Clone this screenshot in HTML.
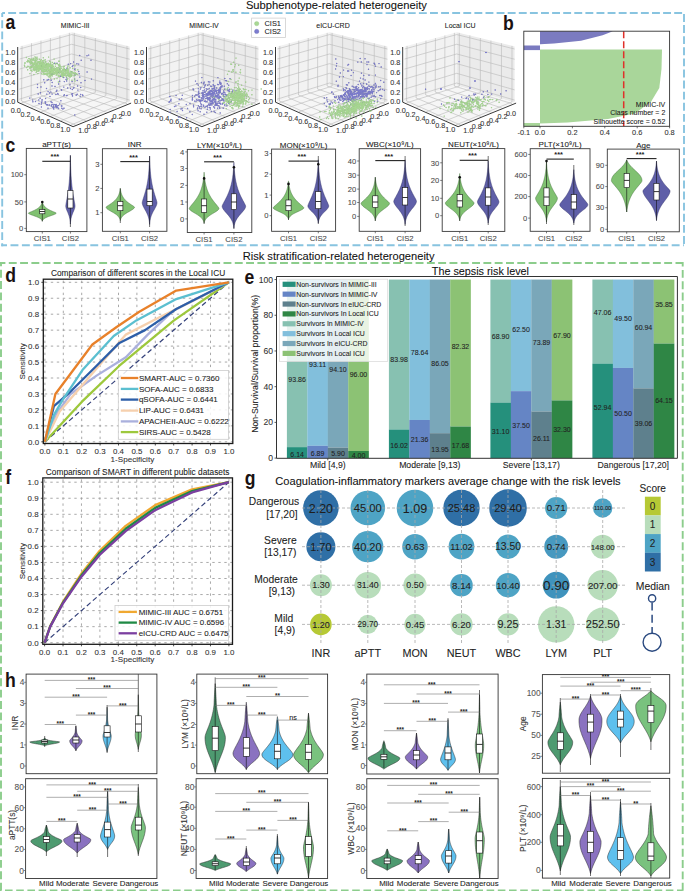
<!DOCTYPE html>
<html><head><meta charset="utf-8"><style>
html,body{margin:0;padding:0;background:#fff;width:685px;height:891px;overflow:hidden}
svg{display:block;font-family:"Liberation Sans",sans-serif}

</style></head><body>
<svg width="685" height="891" viewBox="0 0 685 891">
<rect width="685" height="891" fill="#fff"/>
<line x1="2.2" y1="13" x2="684" y2="13" stroke="#88c4e0" stroke-width="1.9" stroke-dasharray="7.9 3.2" stroke-dashoffset="5.1"/>
<line x1="2.2" y1="13" x2="2.2" y2="246.2" stroke="#88c4e0" stroke-width="1.9" stroke-dasharray="7.9 3.25" stroke-dashoffset="3.85"/>
<line x1="684" y1="13" x2="684" y2="246.2" stroke="#88c4e0" stroke-width="1.9" stroke-dasharray="7.9 3.2" stroke-dashoffset="10.1"/>
<line x1="1.25" y1="245.3" x2="684" y2="245.3" stroke="#88c4e0" stroke-width="1.9" stroke-dasharray="7.9 3.5" stroke-dashoffset="2.15"/>
<line x1="0" y1="263" x2="682.7" y2="263" stroke="#8ccd8c" stroke-width="1.9" stroke-dasharray="7.9 3.4" stroke-dashoffset="2.5"/>
<line x1="1" y1="262" x2="1" y2="890.8" stroke="#8ccd8c" stroke-width="1.9" stroke-dasharray="7.9 3.45" stroke-dashoffset="3.6"/>
<line x1="682.7" y1="262" x2="682.7" y2="890.8" stroke="#8ccd8c" stroke-width="1.9" stroke-dasharray="7.9 3.45" stroke-dashoffset="3.45"/>
<line x1="0" y1="890.4" x2="682.7" y2="890.4" stroke="#8ccd8c" stroke-width="1.9" stroke-dasharray="7.6 3.6" stroke-dashoffset="6.2"/>
<rect x="244" y="0" width="184" height="12.2" fill="#fff" stroke="none" stroke-width="1"/>
<text x="336.4" y="9.33" font-size="11.2" text-anchor="middle" fill="#111" font-weight="normal" stroke="#111" stroke-width="0.08">Subphenotype-related heterogeneity</text>
<rect x="240" y="249" width="198" height="13" fill="#fff" stroke="none" stroke-width="1"/>
<text x="338.6" y="259.6" font-size="11.1" text-anchor="middle" fill="#111" font-weight="normal" stroke="#111" stroke-width="0.08">Risk stratification-related heterogeneity</text>
<text transform="translate(5.5 28.5) scale(0.86 1)" font-size="20.5" fill="#1a1212" font-weight="bold">a</text>
<text transform="translate(503 29.8) scale(0.86 1)" font-size="20.5" fill="#1a1212" font-weight="bold">b</text>
<text transform="translate(5.6 151.6) scale(0.86 1)" font-size="20.5" fill="#1a1212" font-weight="bold">c</text>
<text transform="translate(5.2 281.8) scale(0.86 1)" font-size="20.5" fill="#1a1212" font-weight="bold">d</text>
<text transform="translate(244.5 284) scale(0.86 1)" font-size="20.5" fill="#1a1212" font-weight="bold">e</text>
<text transform="translate(5.2 484) scale(0.86 1)" font-size="20.5" fill="#1a1212" font-weight="bold">f</text>
<text transform="translate(244.8 484.5) scale(0.86 1)" font-size="20.5" fill="#1a1212" font-weight="bold">g</text>
<text transform="translate(5 687.3) scale(0.86 1)" font-size="20.5" fill="#1a1212" font-weight="bold">h</text>
<rect x="26.3" y="148.4" width="60.6" height="83.2" fill="#fff" stroke="#3a3a3a" stroke-width="0.9"/>
<text x="56.6" y="147.08" font-size="8" text-anchor="middle" fill="#222" font-weight="normal" stroke="#222" stroke-width="0.08">aPTT(s)</text>
<line x1="24.3" y1="228.4" x2="26.3" y2="228.4" stroke="#444" stroke-width="0.7"/>
<text x="23.3" y="231.14" font-size="7.6" text-anchor="end" fill="#4a4a4a" font-weight="normal" stroke="#4a4a4a" stroke-width="0.08">0</text>
<line x1="24.3" y1="201.9" x2="26.3" y2="201.9" stroke="#444" stroke-width="0.7"/>
<text x="23.3" y="204.64" font-size="7.6" text-anchor="end" fill="#4a4a4a" font-weight="normal" stroke="#4a4a4a" stroke-width="0.08">50</text>
<line x1="24.3" y1="174.7" x2="26.3" y2="174.7" stroke="#444" stroke-width="0.7"/>
<text x="23.3" y="177.44" font-size="7.6" text-anchor="end" fill="#4a4a4a" font-weight="normal" stroke="#4a4a4a" stroke-width="0.08">100</text>
<line x1="42.3" y1="231.6" x2="42.3" y2="233.6" stroke="#444" stroke-width="0.7"/>
<text x="42.3" y="240.87" font-size="7.7" text-anchor="middle" fill="#4a4a4a" font-weight="normal" stroke="#4a4a4a" stroke-width="0.08">CIS1</text>
<line x1="70.4" y1="231.6" x2="70.4" y2="233.6" stroke="#444" stroke-width="0.7"/>
<text x="70.4" y="240.87" font-size="7.7" text-anchor="middle" fill="#4a4a4a" font-weight="normal" stroke="#4a4a4a" stroke-width="0.08">CIS2</text>
<path d="M42.3,221.1 L42.46,220.69 L42.68,220.28 L42.95,219.87 L43.29,219.46 L43.72,219.05 L44.24,218.64 L44.86,218.23 L45.59,217.82 L46.43,217.41 L47.38,217 L48.43,216.59 L49.55,216.18 L50.72,215.76 L51.91,215.35 L53.06,214.94 L54.13,214.53 L55.05,214.12 L55.76,213.71 L56.2,213.3 L56.02,212.89 L55.17,212.48 L54.22,212.07 L53.23,211.66 L52.26,211.25 L51.32,210.84 L50.43,210.43 L49.59,210.02 L48.81,209.61 L48.08,209.2 L47.42,208.79 L46.81,208.38 L46.25,207.97 L45.75,207.56 L45.29,207.15 L44.88,206.74 L44.51,206.32 L44.18,205.91 L43.89,205.5 L43.63,205.09 L43.4,204.68 L43.19,204.27 L43.01,203.86 L42.85,203.45 L42.71,203.04 L42.59,202.63 L42.48,202.22 L42.38,201.81 L42.3,201.4 L42.3,201.4 L42.22,201.81 L42.12,202.22 L42.01,202.63 L41.89,203.04 L41.75,203.45 L41.59,203.86 L41.41,204.27 L41.2,204.68 L40.97,205.09 L40.71,205.5 L40.42,205.91 L40.09,206.32 L39.72,206.74 L39.31,207.15 L38.85,207.56 L38.35,207.97 L37.79,208.38 L37.18,208.79 L36.52,209.2 L35.79,209.61 L35.01,210.02 L34.17,210.43 L33.28,210.84 L32.34,211.25 L31.37,211.66 L30.38,212.07 L29.43,212.48 L28.58,212.89 L28.4,213.3 L28.84,213.71 L29.55,214.12 L30.47,214.53 L31.54,214.94 L32.69,215.35 L33.88,215.76 L35.05,216.18 L36.17,216.59 L37.22,217 L38.17,217.41 L39.01,217.82 L39.74,218.23 L40.36,218.64 L40.88,219.05 L41.31,219.46 L41.65,219.87 L41.92,220.28 L42.14,220.69 L42.3,221.1Z" fill="#80c171" stroke="#3f6e38" stroke-width="0.45"/>
<path d="M70.4,224 L70.49,222.57 L70.63,221.14 L70.82,219.71 L71.09,218.28 L71.44,216.85 L71.88,215.43 L72.4,214 L72.98,212.57 L73.59,211.14 L74.18,209.71 L74.67,208.28 L74.99,206.85 L75,205.42 L74.78,203.99 L74.54,202.56 L74.27,201.13 L74.01,199.7 L73.75,198.28 L73.5,196.85 L73.25,195.42 L73.02,193.99 L72.8,192.56 L72.59,191.13 L72.39,189.7 L72.21,188.27 L72.04,186.84 L71.88,185.41 L71.73,183.98 L71.59,182.55 L71.46,181.12 L71.35,179.7 L71.24,178.27 L71.14,176.84 L71.05,175.41 L70.97,173.98 L70.9,172.55 L70.83,171.12 L70.77,169.69 L70.71,168.26 L70.66,166.83 L70.62,165.4 L70.57,163.98 L70.54,162.55 L70.5,161.12 L70.47,159.69 L70.45,158.26 L70.42,156.83 L70.4,155.4 L70.4,155.4 L70.38,156.83 L70.35,158.26 L70.33,159.69 L70.3,161.12 L70.26,162.55 L70.23,163.98 L70.18,165.4 L70.14,166.83 L70.09,168.26 L70.03,169.69 L69.97,171.12 L69.9,172.55 L69.83,173.98 L69.75,175.41 L69.66,176.84 L69.56,178.27 L69.45,179.7 L69.34,181.12 L69.21,182.55 L69.07,183.98 L68.92,185.41 L68.76,186.84 L68.59,188.27 L68.41,189.7 L68.21,191.13 L68,192.56 L67.78,193.99 L67.55,195.42 L67.3,196.85 L67.05,198.28 L66.79,199.7 L66.53,201.13 L66.26,202.56 L66.02,203.99 L65.8,205.42 L65.81,206.85 L66.13,208.28 L66.62,209.71 L67.21,211.14 L67.82,212.57 L68.4,214 L68.92,215.43 L69.36,216.85 L69.71,218.28 L69.98,219.71 L70.17,221.14 L70.31,222.57 L70.4,224Z" fill="#5f5fa8" stroke="#2e2e66" stroke-width="0.45"/>
<line x1="42.3" y1="221.5" x2="42.3" y2="201.4" stroke="#111" stroke-width="0.6"/>
<rect x="39.7" y="209.5" width="5.2" height="4.3" fill="#fff" stroke="#111" stroke-width="0.6"/>
<line x1="39.7" y1="211.5" x2="44.9" y2="211.5" stroke="#111" stroke-width="0.85"/>
<line x1="70.4" y1="227" x2="70.4" y2="155.4" stroke="#111" stroke-width="0.6"/>
<rect x="67.8" y="190.5" width="5.2" height="17.5" fill="#fff" stroke="#111" stroke-width="0.6"/>
<line x1="67.8" y1="199" x2="73" y2="199" stroke="#111" stroke-width="0.85"/>
<circle cx="42.3" cy="202" r="1.3" fill="#111" stroke="none" stroke-width="1"/>
<line x1="42.3" y1="161.3" x2="70.4" y2="161.3" stroke="#222" stroke-width="1.1"/>
<text x="54.85" y="159.36" font-size="7.4" text-anchor="middle" fill="#222" font-weight="bold">***</text>
<rect x="102.4" y="148.7" width="64.5" height="82.6" fill="#fff" stroke="#3a3a3a" stroke-width="0.9"/>
<text x="134.65" y="147.38" font-size="8" text-anchor="middle" fill="#222" font-weight="normal" stroke="#222" stroke-width="0.08">INR</text>
<line x1="100.4" y1="212.7" x2="102.4" y2="212.7" stroke="#444" stroke-width="0.7"/>
<text x="99.4" y="215.44" font-size="7.6" text-anchor="end" fill="#4a4a4a" font-weight="normal" stroke="#4a4a4a" stroke-width="0.08">1</text>
<line x1="100.4" y1="188.4" x2="102.4" y2="188.4" stroke="#444" stroke-width="0.7"/>
<text x="99.4" y="191.14" font-size="7.6" text-anchor="end" fill="#4a4a4a" font-weight="normal" stroke="#4a4a4a" stroke-width="0.08">2</text>
<line x1="100.4" y1="164.3" x2="102.4" y2="164.3" stroke="#444" stroke-width="0.7"/>
<text x="99.4" y="167.04" font-size="7.6" text-anchor="end" fill="#4a4a4a" font-weight="normal" stroke="#4a4a4a" stroke-width="0.08">3</text>
<line x1="120.3" y1="231.3" x2="120.3" y2="233.3" stroke="#444" stroke-width="0.7"/>
<text x="120.3" y="240.57" font-size="7.7" text-anchor="middle" fill="#4a4a4a" font-weight="normal" stroke="#4a4a4a" stroke-width="0.08">CIS1</text>
<line x1="149.6" y1="231.3" x2="149.6" y2="233.3" stroke="#444" stroke-width="0.7"/>
<text x="149.6" y="240.57" font-size="7.7" text-anchor="middle" fill="#4a4a4a" font-weight="normal" stroke="#4a4a4a" stroke-width="0.08">CIS2</text>
<path d="M120.3,220.6 L120.46,219.93 L120.67,219.26 L120.94,218.59 L121.28,217.92 L121.7,217.25 L122.21,216.57 L122.81,215.9 L123.53,215.23 L124.35,214.56 L125.27,213.89 L126.3,213.22 L127.4,212.55 L128.56,211.88 L129.75,211.21 L130.92,210.54 L132.02,209.87 L133,209.2 L133.81,208.53 L134.37,207.85 L134.6,207.18 L133.86,206.51 L132.9,205.84 L131.88,205.17 L130.86,204.5 L129.87,203.83 L128.93,203.16 L128.04,202.49 L127.2,201.82 L126.43,201.15 L125.72,200.47 L125.07,199.8 L124.48,199.13 L123.94,198.46 L123.46,197.79 L123.02,197.12 L122.63,196.45 L122.28,195.78 L121.97,195.11 L121.7,194.44 L121.45,193.77 L121.24,193.1 L121.04,192.43 L120.88,191.75 L120.73,191.08 L120.6,190.41 L120.49,189.74 L120.39,189.07 L120.3,188.4 L120.3,188.4 L120.21,189.07 L120.11,189.74 L120,190.41 L119.87,191.08 L119.72,191.75 L119.56,192.43 L119.36,193.1 L119.15,193.77 L118.9,194.44 L118.63,195.11 L118.32,195.78 L117.97,196.45 L117.58,197.12 L117.14,197.79 L116.66,198.46 L116.12,199.13 L115.53,199.8 L114.88,200.47 L114.17,201.15 L113.4,201.82 L112.56,202.49 L111.67,203.16 L110.73,203.83 L109.74,204.5 L108.72,205.17 L107.7,205.84 L106.74,206.51 L106,207.18 L106.23,207.85 L106.79,208.53 L107.6,209.2 L108.58,209.87 L109.68,210.54 L110.85,211.21 L112.04,211.88 L113.2,212.55 L114.3,213.22 L115.33,213.89 L116.25,214.56 L117.07,215.23 L117.79,215.9 L118.39,216.57 L118.9,217.25 L119.32,217.92 L119.66,218.59 L119.93,219.26 L120.14,219.93 L120.3,220.6Z" fill="#80c171" stroke="#3f6e38" stroke-width="0.45"/>
<path d="M149.6,224.4 L149.72,222.98 L149.88,221.55 L150.09,220.13 L150.38,218.71 L150.75,217.29 L151.21,215.86 L151.77,214.44 L152.41,213.02 L153.14,211.59 L153.92,210.17 L154.73,208.75 L155.5,207.32 L156.18,205.9 L156.71,204.48 L157,203.06 L156.83,201.63 L156.43,200.21 L155.98,198.79 L155.53,197.36 L155.08,195.94 L154.64,194.52 L154.21,193.1 L153.81,191.67 L153.42,190.25 L153.06,188.83 L152.73,187.4 L152.41,185.98 L152.12,184.56 L151.85,183.14 L151.61,181.71 L151.38,180.29 L151.17,178.87 L150.98,177.44 L150.81,176.02 L150.65,174.6 L150.51,173.18 L150.38,171.75 L150.27,170.33 L150.16,168.91 L150.07,167.48 L149.99,166.06 L149.91,164.64 L149.84,163.21 L149.78,161.79 L149.73,160.37 L149.68,158.95 L149.64,157.52 L149.6,156.1 L149.6,156.1 L149.56,157.52 L149.52,158.95 L149.47,160.37 L149.42,161.79 L149.36,163.21 L149.29,164.64 L149.21,166.06 L149.13,167.48 L149.04,168.91 L148.93,170.33 L148.82,171.75 L148.69,173.18 L148.55,174.6 L148.39,176.02 L148.22,177.44 L148.03,178.87 L147.82,180.29 L147.59,181.71 L147.35,183.14 L147.08,184.56 L146.79,185.98 L146.47,187.4 L146.14,188.83 L145.78,190.25 L145.39,191.67 L144.99,193.1 L144.56,194.52 L144.12,195.94 L143.67,197.36 L143.22,198.79 L142.77,200.21 L142.37,201.63 L142.2,203.06 L142.49,204.48 L143.02,205.9 L143.7,207.32 L144.47,208.75 L145.28,210.17 L146.06,211.59 L146.79,213.02 L147.43,214.44 L147.99,215.86 L148.45,217.29 L148.82,218.71 L149.11,220.13 L149.32,221.55 L149.48,222.98 L149.6,224.4Z" fill="#5f5fa8" stroke="#2e2e66" stroke-width="0.45"/>
<line x1="120.3" y1="223" x2="120.3" y2="188.4" stroke="#111" stroke-width="0.6"/>
<rect x="117.7" y="201.5" width="5.2" height="9.2" fill="#fff" stroke="#111" stroke-width="0.6"/>
<line x1="117.7" y1="205.7" x2="122.9" y2="205.7" stroke="#111" stroke-width="0.85"/>
<line x1="149.6" y1="227" x2="149.6" y2="156.1" stroke="#111" stroke-width="0.6"/>
<rect x="147" y="189.1" width="5.2" height="16.6" fill="#fff" stroke="#111" stroke-width="0.6"/>
<line x1="147" y1="201.5" x2="152.2" y2="201.5" stroke="#111" stroke-width="0.85"/>
<line x1="120.3" y1="161.6" x2="149.6" y2="161.6" stroke="#222" stroke-width="1.1"/>
<text x="133.45" y="159.66" font-size="7.4" text-anchor="middle" fill="#222" font-weight="bold">***</text>
<rect x="187.3" y="149.4" width="64.5" height="83.1" fill="#fff" stroke="#3a3a3a" stroke-width="0.9"/>
<text x="219.55" y="148.08" font-size="8" text-anchor="middle" fill="#222" font-weight="normal" stroke="#222" stroke-width="0.08">LYM(×10⁹/L)</text>
<line x1="185.3" y1="218.9" x2="187.3" y2="218.9" stroke="#444" stroke-width="0.7"/>
<text x="184.3" y="221.64" font-size="7.6" text-anchor="end" fill="#4a4a4a" font-weight="normal" stroke="#4a4a4a" stroke-width="0.08">0</text>
<line x1="185.3" y1="202" x2="187.3" y2="202" stroke="#444" stroke-width="0.7"/>
<text x="184.3" y="204.74" font-size="7.6" text-anchor="end" fill="#4a4a4a" font-weight="normal" stroke="#4a4a4a" stroke-width="0.08">1</text>
<line x1="185.3" y1="185.4" x2="187.3" y2="185.4" stroke="#444" stroke-width="0.7"/>
<text x="184.3" y="188.14" font-size="7.6" text-anchor="end" fill="#4a4a4a" font-weight="normal" stroke="#4a4a4a" stroke-width="0.08">2</text>
<line x1="185.3" y1="168.5" x2="187.3" y2="168.5" stroke="#444" stroke-width="0.7"/>
<text x="184.3" y="171.24" font-size="7.6" text-anchor="end" fill="#4a4a4a" font-weight="normal" stroke="#4a4a4a" stroke-width="0.08">3</text>
<line x1="185.3" y1="151.9" x2="187.3" y2="151.9" stroke="#444" stroke-width="0.7"/>
<text x="184.3" y="154.64" font-size="7.6" text-anchor="end" fill="#4a4a4a" font-weight="normal" stroke="#4a4a4a" stroke-width="0.08">4</text>
<line x1="204.1" y1="232.5" x2="204.1" y2="234.5" stroke="#444" stroke-width="0.7"/>
<text x="204.1" y="241.77" font-size="7.7" text-anchor="middle" fill="#4a4a4a" font-weight="normal" stroke="#4a4a4a" stroke-width="0.08">CIS1</text>
<line x1="233.9" y1="232.5" x2="233.9" y2="234.5" stroke="#444" stroke-width="0.7"/>
<text x="233.9" y="241.77" font-size="7.7" text-anchor="middle" fill="#4a4a4a" font-weight="normal" stroke="#4a4a4a" stroke-width="0.08">CIS2</text>
<path d="M204.1,223.1 L204.36,222.04 L204.74,220.98 L205.26,219.92 L205.96,218.86 L206.88,217.8 L208.02,216.74 L209.4,215.68 L210.98,214.62 L212.72,213.56 L214.5,212.5 L216.2,211.44 L217.66,210.38 L218.69,209.31 L219,208.25 L218.34,207.19 L217.53,206.13 L216.67,205.07 L215.79,204.01 L214.92,202.95 L214.08,201.89 L213.26,200.83 L212.49,199.77 L211.75,198.71 L211.06,197.65 L210.41,196.59 L209.8,195.53 L209.24,194.47 L208.71,193.41 L208.23,192.35 L207.78,191.29 L207.38,190.23 L207,189.17 L206.66,188.11 L206.35,187.05 L206.06,185.99 L205.8,184.92 L205.57,183.86 L205.35,182.8 L205.16,181.74 L204.99,180.68 L204.83,179.62 L204.69,178.56 L204.56,177.5 L204.45,176.44 L204.35,175.38 L204.26,174.32 L204.17,173.26 L204.1,172.2 L204.1,172.2 L204.03,173.26 L203.94,174.32 L203.85,175.38 L203.75,176.44 L203.64,177.5 L203.51,178.56 L203.37,179.62 L203.21,180.68 L203.04,181.74 L202.85,182.8 L202.63,183.86 L202.4,184.92 L202.14,185.99 L201.85,187.05 L201.54,188.11 L201.2,189.17 L200.82,190.23 L200.42,191.29 L199.97,192.35 L199.49,193.41 L198.96,194.47 L198.4,195.53 L197.79,196.59 L197.14,197.65 L196.45,198.71 L195.71,199.77 L194.94,200.83 L194.12,201.89 L193.28,202.95 L192.41,204.01 L191.53,205.07 L190.67,206.13 L189.86,207.19 L189.2,208.25 L189.51,209.31 L190.54,210.38 L192,211.44 L193.7,212.5 L195.48,213.56 L197.22,214.62 L198.8,215.68 L200.18,216.74 L201.32,217.8 L202.24,218.86 L202.94,219.92 L203.46,220.98 L203.84,222.04 L204.1,223.1Z" fill="#80c171" stroke="#3f6e38" stroke-width="0.45"/>
<path d="M233.9,228.1 L234.07,226.73 L234.31,225.36 L234.63,223.99 L235.05,222.62 L235.59,221.25 L236.26,219.88 L237.06,218.5 L238,217.13 L239.07,215.76 L240.24,214.39 L241.45,213.02 L242.66,211.65 L243.79,210.28 L244.74,208.91 L245.42,207.54 L245.7,206.17 L245.18,204.8 L244.5,203.43 L243.77,202.05 L243.03,200.68 L242.31,199.31 L241.6,197.94 L240.92,196.57 L240.28,195.2 L239.68,193.83 L239.11,192.46 L238.59,191.09 L238.1,189.72 L237.65,188.35 L237.23,186.98 L236.85,185.6 L236.51,184.23 L236.19,182.86 L235.9,181.49 L235.64,180.12 L235.4,178.75 L235.19,177.38 L235,176.01 L234.83,174.64 L234.67,173.27 L234.53,171.9 L234.41,170.53 L234.3,169.15 L234.2,167.78 L234.11,166.41 L234.03,165.04 L233.96,163.67 L233.9,162.3 L233.9,162.3 L233.84,163.67 L233.77,165.04 L233.69,166.41 L233.6,167.78 L233.5,169.15 L233.39,170.53 L233.27,171.9 L233.13,173.27 L232.97,174.64 L232.8,176.01 L232.61,177.38 L232.4,178.75 L232.16,180.12 L231.9,181.49 L231.61,182.86 L231.29,184.23 L230.95,185.6 L230.57,186.98 L230.15,188.35 L229.7,189.72 L229.21,191.09 L228.69,192.46 L228.12,193.83 L227.52,195.2 L226.88,196.57 L226.2,197.94 L225.49,199.31 L224.77,200.68 L224.03,202.05 L223.3,203.43 L222.62,204.8 L222.1,206.17 L222.38,207.54 L223.06,208.91 L224.01,210.28 L225.14,211.65 L226.35,213.02 L227.56,214.39 L228.73,215.76 L229.8,217.13 L230.74,218.5 L231.54,219.88 L232.21,221.25 L232.75,222.62 L233.17,223.99 L233.49,225.36 L233.73,226.73 L233.9,228.1Z" fill="#5f5fa8" stroke="#2e2e66" stroke-width="0.45"/>
<line x1="204.1" y1="224" x2="204.1" y2="178.4" stroke="#111" stroke-width="0.6"/>
<rect x="201.5" y="199" width="5.2" height="13.4" fill="#fff" stroke="#111" stroke-width="0.6"/>
<line x1="201.5" y1="205.7" x2="206.7" y2="205.7" stroke="#111" stroke-width="0.85"/>
<line x1="233.9" y1="229" x2="233.9" y2="167.3" stroke="#111" stroke-width="0.6"/>
<rect x="231.3" y="193.8" width="5.2" height="15.7" fill="#fff" stroke="#111" stroke-width="0.6"/>
<line x1="231.3" y1="202" x2="236.5" y2="202" stroke="#111" stroke-width="0.85"/>
<circle cx="204.1" cy="178.4" r="1.3" fill="#111" stroke="none" stroke-width="1"/>
<circle cx="233.9" cy="167.3" r="1.3" fill="#111" stroke="none" stroke-width="1"/>
<line x1="204.1" y1="161.8" x2="233.9" y2="161.8" stroke="#222" stroke-width="1.1"/>
<text x="217.5" y="159.86" font-size="7.4" text-anchor="middle" fill="#222" font-weight="bold">***</text>
<rect x="271.6" y="149.1" width="64" height="82.2" fill="#fff" stroke="#3a3a3a" stroke-width="0.9"/>
<text x="303.6" y="147.78" font-size="8" text-anchor="middle" fill="#222" font-weight="normal" stroke="#222" stroke-width="0.08">MON(×10⁹/L)</text>
<line x1="269.6" y1="215.7" x2="271.6" y2="215.7" stroke="#444" stroke-width="0.7"/>
<text x="268.6" y="218.44" font-size="7.6" text-anchor="end" fill="#4a4a4a" font-weight="normal" stroke="#4a4a4a" stroke-width="0.08">0</text>
<line x1="269.6" y1="195.1" x2="271.6" y2="195.1" stroke="#444" stroke-width="0.7"/>
<text x="268.6" y="197.84" font-size="7.6" text-anchor="end" fill="#4a4a4a" font-weight="normal" stroke="#4a4a4a" stroke-width="0.08">1</text>
<line x1="269.6" y1="174.2" x2="271.6" y2="174.2" stroke="#444" stroke-width="0.7"/>
<text x="268.6" y="176.94" font-size="7.6" text-anchor="end" fill="#4a4a4a" font-weight="normal" stroke="#4a4a4a" stroke-width="0.08">2</text>
<line x1="269.6" y1="153.6" x2="271.6" y2="153.6" stroke="#444" stroke-width="0.7"/>
<text x="268.6" y="156.34" font-size="7.6" text-anchor="end" fill="#4a4a4a" font-weight="normal" stroke="#4a4a4a" stroke-width="0.08">3</text>
<line x1="288.5" y1="231.3" x2="288.5" y2="233.3" stroke="#444" stroke-width="0.7"/>
<text x="288.5" y="240.57" font-size="7.7" text-anchor="middle" fill="#4a4a4a" font-weight="normal" stroke="#4a4a4a" stroke-width="0.08">CIS1</text>
<line x1="318.3" y1="231.3" x2="318.3" y2="233.3" stroke="#444" stroke-width="0.7"/>
<text x="318.3" y="240.57" font-size="7.7" text-anchor="middle" fill="#4a4a4a" font-weight="normal" stroke="#4a4a4a" stroke-width="0.08">CIS2</text>
<path d="M288.5,219.4 L288.76,218.6 L289.12,217.8 L289.61,216.99 L290.28,216.19 L291.14,215.39 L292.21,214.59 L293.5,213.79 L295,212.98 L296.67,212.18 L298.42,211.38 L300.16,210.58 L301.74,209.78 L303.02,208.97 L303.8,208.17 L303.67,207.37 L302.89,206.57 L302.01,205.76 L301.09,204.96 L300.17,204.16 L299.27,203.36 L298.39,202.56 L297.55,201.75 L296.76,200.95 L296.01,200.15 L295.3,199.35 L294.64,198.55 L294.03,197.74 L293.47,196.94 L292.94,196.14 L292.46,195.34 L292.02,194.54 L291.61,193.73 L291.24,192.93 L290.9,192.13 L290.59,191.33 L290.32,190.53 L290.06,189.72 L289.83,188.92 L289.63,188.12 L289.44,187.32 L289.28,186.51 L289.12,185.71 L288.99,184.91 L288.87,184.11 L288.76,183.31 L288.66,182.5 L288.58,181.7 L288.5,180.9 L288.5,180.9 L288.42,181.7 L288.34,182.5 L288.24,183.31 L288.13,184.11 L288.01,184.91 L287.88,185.71 L287.72,186.51 L287.56,187.32 L287.37,188.12 L287.17,188.92 L286.94,189.72 L286.68,190.53 L286.41,191.33 L286.1,192.13 L285.76,192.93 L285.39,193.73 L284.98,194.54 L284.54,195.34 L284.06,196.14 L283.53,196.94 L282.97,197.74 L282.36,198.55 L281.7,199.35 L280.99,200.15 L280.24,200.95 L279.45,201.75 L278.61,202.56 L277.73,203.36 L276.83,204.16 L275.91,204.96 L274.99,205.76 L274.11,206.57 L273.33,207.37 L273.2,208.17 L273.98,208.97 L275.26,209.78 L276.84,210.58 L278.58,211.38 L280.33,212.18 L282,212.98 L283.5,213.79 L284.79,214.59 L285.86,215.39 L286.72,216.19 L287.39,216.99 L287.88,217.8 L288.24,218.6 L288.5,219.4Z" fill="#80c171" stroke="#3f6e38" stroke-width="0.45"/>
<path d="M318.3,223.1 L318.5,221.78 L318.79,220.46 L319.2,219.14 L319.76,217.82 L320.5,216.51 L321.42,215.19 L322.52,213.87 L323.77,212.55 L325.1,211.23 L326.42,209.91 L327.58,208.59 L328.43,207.28 L328.8,205.96 L328.39,204.64 L327.84,203.32 L327.25,202 L326.65,200.68 L326.06,199.36 L325.47,198.04 L324.91,196.72 L324.37,195.41 L323.85,194.09 L323.37,192.77 L322.91,191.45 L322.48,190.13 L322.08,188.81 L321.71,187.49 L321.37,186.18 L321.05,184.86 L320.76,183.54 L320.49,182.22 L320.24,180.9 L320.01,179.58 L319.81,178.26 L319.62,176.94 L319.44,175.62 L319.29,174.31 L319.15,172.99 L319.02,171.67 L318.9,170.35 L318.8,169.03 L318.7,167.71 L318.61,166.39 L318.54,165.08 L318.47,163.76 L318.41,162.44 L318.35,161.12 L318.3,159.8 L318.3,159.8 L318.25,161.12 L318.19,162.44 L318.13,163.76 L318.06,165.08 L317.99,166.39 L317.9,167.71 L317.8,169.03 L317.7,170.35 L317.58,171.67 L317.45,172.99 L317.31,174.31 L317.16,175.62 L316.98,176.94 L316.79,178.26 L316.59,179.58 L316.36,180.9 L316.11,182.22 L315.84,183.54 L315.55,184.86 L315.23,186.18 L314.89,187.49 L314.52,188.81 L314.12,190.13 L313.69,191.45 L313.23,192.77 L312.75,194.09 L312.23,195.41 L311.69,196.72 L311.13,198.04 L310.54,199.36 L309.95,200.68 L309.35,202 L308.76,203.32 L308.21,204.64 L307.8,205.96 L308.17,207.28 L309.02,208.59 L310.18,209.91 L311.5,211.23 L312.83,212.55 L314.08,213.87 L315.18,215.19 L316.1,216.51 L316.84,217.82 L317.4,219.14 L317.81,220.46 L318.1,221.78 L318.3,223.1Z" fill="#5f5fa8" stroke="#2e2e66" stroke-width="0.45"/>
<line x1="288.5" y1="220" x2="288.5" y2="183.9" stroke="#111" stroke-width="0.6"/>
<rect x="285.9" y="200" width="5.2" height="10.7" fill="#fff" stroke="#111" stroke-width="0.6"/>
<line x1="285.9" y1="205.7" x2="291.1" y2="205.7" stroke="#111" stroke-width="0.85"/>
<line x1="318.3" y1="224" x2="318.3" y2="156" stroke="#111" stroke-width="0.6"/>
<rect x="315.7" y="191.6" width="5.2" height="17.1" fill="#fff" stroke="#111" stroke-width="0.6"/>
<line x1="315.7" y1="201.5" x2="320.9" y2="201.5" stroke="#111" stroke-width="0.85"/>
<circle cx="288.5" cy="183.9" r="1.3" fill="#111" stroke="none" stroke-width="1"/>
<circle cx="318.3" cy="164.3" r="1.3" fill="#111" stroke="none" stroke-width="1"/>
<line x1="288.5" y1="161.1" x2="318.3" y2="161.1" stroke="#222" stroke-width="1.1"/>
<text x="301.9" y="159.16" font-size="7.4" text-anchor="middle" fill="#222" font-weight="bold">***</text>
<rect x="359.2" y="148.7" width="61.4" height="82.6" fill="#fff" stroke="#3a3a3a" stroke-width="0.9"/>
<text x="389.9" y="147.38" font-size="8" text-anchor="middle" fill="#222" font-weight="normal" stroke="#222" stroke-width="0.08">WBC(×10⁹/L)</text>
<line x1="357.2" y1="216.4" x2="359.2" y2="216.4" stroke="#444" stroke-width="0.7"/>
<text x="356.2" y="219.14" font-size="7.6" text-anchor="end" fill="#4a4a4a" font-weight="normal" stroke="#4a4a4a" stroke-width="0.08">0</text>
<line x1="357.2" y1="202.5" x2="359.2" y2="202.5" stroke="#444" stroke-width="0.7"/>
<text x="356.2" y="205.24" font-size="7.6" text-anchor="end" fill="#4a4a4a" font-weight="normal" stroke="#4a4a4a" stroke-width="0.08">10</text>
<line x1="357.2" y1="189.1" x2="359.2" y2="189.1" stroke="#444" stroke-width="0.7"/>
<text x="356.2" y="191.84" font-size="7.6" text-anchor="end" fill="#4a4a4a" font-weight="normal" stroke="#4a4a4a" stroke-width="0.08">20</text>
<line x1="357.2" y1="175.2" x2="359.2" y2="175.2" stroke="#444" stroke-width="0.7"/>
<text x="356.2" y="177.94" font-size="7.6" text-anchor="end" fill="#4a4a4a" font-weight="normal" stroke="#4a4a4a" stroke-width="0.08">30</text>
<line x1="357.2" y1="161" x2="359.2" y2="161" stroke="#444" stroke-width="0.7"/>
<text x="356.2" y="163.74" font-size="7.6" text-anchor="end" fill="#4a4a4a" font-weight="normal" stroke="#4a4a4a" stroke-width="0.08">40</text>
<line x1="375.3" y1="231.3" x2="375.3" y2="233.3" stroke="#444" stroke-width="0.7"/>
<text x="375.3" y="240.57" font-size="7.7" text-anchor="middle" fill="#4a4a4a" font-weight="normal" stroke="#4a4a4a" stroke-width="0.08">CIS1</text>
<line x1="405.1" y1="231.3" x2="405.1" y2="233.3" stroke="#444" stroke-width="0.7"/>
<text x="405.1" y="240.57" font-size="7.7" text-anchor="middle" fill="#4a4a4a" font-weight="normal" stroke="#4a4a4a" stroke-width="0.08">CIS2</text>
<path d="M375.3,220.6 L375.47,219.7 L375.69,218.79 L375.98,217.89 L376.35,216.98 L376.8,216.08 L377.35,215.17 L378.01,214.27 L378.79,213.37 L379.69,212.46 L380.69,211.56 L381.8,210.65 L382.98,209.75 L384.21,208.85 L385.45,207.94 L386.63,207.04 L387.7,206.13 L388.61,205.23 L389.27,204.32 L389.6,203.42 L389.07,202.52 L388.16,201.61 L387.18,200.71 L386.18,199.8 L385.21,198.9 L384.27,198 L383.38,197.09 L382.55,196.19 L381.77,195.28 L381.05,194.38 L380.39,193.47 L379.79,192.57 L379.24,191.67 L378.74,190.76 L378.29,189.86 L377.88,188.95 L377.51,188.05 L377.19,187.15 L376.89,186.24 L376.63,185.34 L376.4,184.43 L376.2,183.53 L376.02,182.62 L375.86,181.72 L375.71,180.82 L375.59,179.91 L375.48,179.01 L375.38,178.1 L375.3,177.2 L375.3,177.2 L375.22,178.1 L375.12,179.01 L375.01,179.91 L374.89,180.82 L374.74,181.72 L374.58,182.62 L374.4,183.53 L374.2,184.43 L373.97,185.34 L373.71,186.24 L373.41,187.15 L373.09,188.05 L372.72,188.95 L372.31,189.86 L371.86,190.76 L371.36,191.67 L370.81,192.57 L370.21,193.47 L369.55,194.38 L368.83,195.28 L368.05,196.19 L367.22,197.09 L366.33,198 L365.39,198.9 L364.42,199.8 L363.42,200.71 L362.44,201.61 L361.53,202.52 L361,203.42 L361.33,204.32 L361.99,205.23 L362.9,206.13 L363.97,207.04 L365.15,207.94 L366.39,208.85 L367.62,209.75 L368.8,210.65 L369.91,211.56 L370.91,212.46 L371.81,213.37 L372.59,214.27 L373.25,215.17 L373.8,216.08 L374.25,216.98 L374.62,217.89 L374.91,218.79 L375.13,219.7 L375.3,220.6Z" fill="#80c171" stroke="#3f6e38" stroke-width="0.45"/>
<path d="M405.1,224.4 L405.25,223.05 L405.46,221.71 L405.73,220.36 L406.09,219.02 L406.53,217.67 L407.08,216.33 L407.74,214.98 L408.52,213.63 L409.41,212.29 L410.39,210.94 L411.45,209.6 L412.54,208.25 L413.62,206.9 L414.63,205.56 L415.5,204.21 L416.15,202.87 L416.5,201.52 L416.17,200.18 L415.5,198.83 L414.78,197.48 L414.03,196.14 L413.3,194.79 L412.58,193.45 L411.9,192.1 L411.26,190.75 L410.65,189.41 L410.08,188.06 L409.56,186.72 L409.07,185.37 L408.62,184.03 L408.22,182.68 L407.84,181.33 L407.5,179.99 L407.2,178.64 L406.92,177.3 L406.67,175.95 L406.44,174.6 L406.24,173.26 L406.06,171.91 L405.9,170.57 L405.75,169.22 L405.62,167.88 L405.51,166.53 L405.4,165.18 L405.31,163.84 L405.23,162.49 L405.16,161.15 L405.1,159.8 L405.1,159.8 L405.04,161.15 L404.97,162.49 L404.89,163.84 L404.8,165.18 L404.69,166.53 L404.58,167.88 L404.45,169.22 L404.3,170.57 L404.14,171.91 L403.96,173.26 L403.76,174.6 L403.53,175.95 L403.28,177.3 L403,178.64 L402.7,179.99 L402.36,181.33 L401.98,182.68 L401.58,184.03 L401.13,185.37 L400.64,186.72 L400.12,188.06 L399.55,189.41 L398.94,190.75 L398.3,192.1 L397.62,193.45 L396.9,194.79 L396.17,196.14 L395.42,197.48 L394.7,198.83 L394.03,200.18 L393.7,201.52 L394.05,202.87 L394.7,204.21 L395.57,205.56 L396.58,206.9 L397.66,208.25 L398.75,209.6 L399.81,210.94 L400.79,212.29 L401.68,213.63 L402.46,214.98 L403.12,216.33 L403.67,217.67 L404.11,219.02 L404.47,220.36 L404.74,221.71 L404.95,223.05 L405.1,224.4Z" fill="#5f5fa8" stroke="#2e2e66" stroke-width="0.45"/>
<line x1="375.3" y1="221" x2="375.3" y2="177.2" stroke="#111" stroke-width="0.6"/>
<rect x="372.7" y="195.8" width="5.2" height="11.7" fill="#fff" stroke="#111" stroke-width="0.6"/>
<line x1="372.7" y1="202" x2="377.9" y2="202" stroke="#111" stroke-width="0.85"/>
<line x1="405.1" y1="226" x2="405.1" y2="156" stroke="#111" stroke-width="0.6"/>
<rect x="402.5" y="187.6" width="5.2" height="17.4" fill="#fff" stroke="#111" stroke-width="0.6"/>
<line x1="402.5" y1="197.5" x2="407.7" y2="197.5" stroke="#111" stroke-width="0.85"/>
<line x1="375.3" y1="160.6" x2="405.1" y2="160.6" stroke="#222" stroke-width="1.1"/>
<text x="388.7" y="158.66" font-size="7.4" text-anchor="middle" fill="#222" font-weight="bold">***</text>
<rect x="442.2" y="148.6" width="62.6" height="82.8" fill="#fff" stroke="#3a3a3a" stroke-width="0.9"/>
<text x="473.5" y="147.28" font-size="8" text-anchor="middle" fill="#222" font-weight="normal" stroke="#222" stroke-width="0.08">NEUT(×10⁹/L)</text>
<line x1="440.2" y1="215.7" x2="442.2" y2="215.7" stroke="#444" stroke-width="0.7"/>
<text x="439.2" y="218.44" font-size="7.6" text-anchor="end" fill="#4a4a4a" font-weight="normal" stroke="#4a4a4a" stroke-width="0.08">0</text>
<line x1="440.2" y1="198.3" x2="442.2" y2="198.3" stroke="#444" stroke-width="0.7"/>
<text x="439.2" y="201.04" font-size="7.6" text-anchor="end" fill="#4a4a4a" font-weight="normal" stroke="#4a4a4a" stroke-width="0.08">10</text>
<line x1="440.2" y1="180.4" x2="442.2" y2="180.4" stroke="#444" stroke-width="0.7"/>
<text x="439.2" y="183.14" font-size="7.6" text-anchor="end" fill="#4a4a4a" font-weight="normal" stroke="#4a4a4a" stroke-width="0.08">20</text>
<line x1="440.2" y1="162.8" x2="442.2" y2="162.8" stroke="#444" stroke-width="0.7"/>
<text x="439.2" y="165.54" font-size="7.6" text-anchor="end" fill="#4a4a4a" font-weight="normal" stroke="#4a4a4a" stroke-width="0.08">30</text>
<line x1="459.7" y1="231.4" x2="459.7" y2="233.4" stroke="#444" stroke-width="0.7"/>
<text x="459.7" y="240.67" font-size="7.7" text-anchor="middle" fill="#4a4a4a" font-weight="normal" stroke="#4a4a4a" stroke-width="0.08">CIS1</text>
<line x1="488.2" y1="231.4" x2="488.2" y2="233.4" stroke="#444" stroke-width="0.7"/>
<text x="488.2" y="240.67" font-size="7.7" text-anchor="middle" fill="#4a4a4a" font-weight="normal" stroke="#4a4a4a" stroke-width="0.08">CIS2</text>
<path d="M459.7,220.6 L459.89,219.62 L460.13,218.64 L460.45,217.66 L460.86,216.67 L461.38,215.69 L462.02,214.71 L462.78,213.73 L463.68,212.75 L464.71,211.77 L465.86,210.79 L467.11,209.81 L468.42,208.82 L469.74,207.84 L471.02,206.86 L472.18,205.88 L473.14,204.9 L473.82,203.92 L474.1,202.94 L473.41,201.96 L472.52,200.97 L471.57,199.99 L470.61,199.01 L469.67,198.03 L468.76,197.05 L467.9,196.07 L467.09,195.09 L466.33,194.11 L465.63,193.12 L464.98,192.14 L464.38,191.16 L463.83,190.18 L463.33,189.2 L462.88,188.22 L462.47,187.24 L462.1,186.26 L461.76,185.28 L461.46,184.29 L461.2,183.31 L460.95,182.33 L460.74,181.35 L460.55,180.37 L460.38,179.39 L460.23,178.41 L460.09,177.43 L459.98,176.44 L459.87,175.46 L459.78,174.48 L459.7,173.5 L459.7,173.5 L459.62,174.48 L459.53,175.46 L459.42,176.44 L459.31,177.43 L459.17,178.41 L459.02,179.39 L458.85,180.37 L458.66,181.35 L458.45,182.33 L458.2,183.31 L457.94,184.29 L457.64,185.28 L457.3,186.26 L456.93,187.24 L456.52,188.22 L456.07,189.2 L455.57,190.18 L455.02,191.16 L454.42,192.14 L453.77,193.12 L453.07,194.11 L452.31,195.09 L451.5,196.07 L450.64,197.05 L449.73,198.03 L448.79,199.01 L447.83,199.99 L446.88,200.97 L445.99,201.96 L445.3,202.94 L445.58,203.92 L446.26,204.9 L447.22,205.88 L448.38,206.86 L449.66,207.84 L450.98,208.82 L452.29,209.81 L453.54,210.79 L454.69,211.77 L455.72,212.75 L456.62,213.73 L457.38,214.71 L458.02,215.69 L458.54,216.67 L458.95,217.66 L459.27,218.64 L459.51,219.62 L459.7,220.6Z" fill="#80c171" stroke="#3f6e38" stroke-width="0.45"/>
<path d="M488.2,223.1 L488.35,221.81 L488.56,220.52 L488.83,219.22 L489.19,217.93 L489.64,216.64 L490.21,215.35 L490.88,214.06 L491.68,212.77 L492.58,211.47 L493.58,210.18 L494.64,208.89 L495.71,207.6 L496.75,206.31 L497.68,205.02 L498.42,203.72 L498.9,202.43 L498.88,201.14 L498.31,199.85 L497.65,198.56 L496.96,197.27 L496.28,195.97 L495.6,194.68 L494.96,193.39 L494.34,192.1 L493.76,190.81 L493.21,189.52 L492.7,188.22 L492.23,186.93 L491.79,185.64 L491.39,184.35 L491.03,183.06 L490.69,181.77 L490.39,180.47 L490.11,179.18 L489.86,177.89 L489.63,176.6 L489.43,175.31 L489.24,174.02 L489.08,172.72 L488.93,171.43 L488.8,170.14 L488.68,168.85 L488.57,167.56 L488.48,166.27 L488.4,164.97 L488.32,163.68 L488.26,162.39 L488.2,161.1 L488.2,161.1 L488.14,162.39 L488.08,163.68 L488,164.97 L487.92,166.27 L487.83,167.56 L487.72,168.85 L487.6,170.14 L487.47,171.43 L487.32,172.72 L487.16,174.02 L486.97,175.31 L486.77,176.6 L486.54,177.89 L486.29,179.18 L486.01,180.47 L485.71,181.77 L485.37,183.06 L485.01,184.35 L484.61,185.64 L484.17,186.93 L483.7,188.22 L483.19,189.52 L482.64,190.81 L482.06,192.1 L481.44,193.39 L480.8,194.68 L480.12,195.97 L479.44,197.27 L478.75,198.56 L478.09,199.85 L477.52,201.14 L477.5,202.43 L477.98,203.72 L478.72,205.02 L479.65,206.31 L480.69,207.6 L481.76,208.89 L482.82,210.18 L483.82,211.47 L484.72,212.77 L485.52,214.06 L486.19,215.35 L486.76,216.64 L487.21,217.93 L487.57,219.22 L487.84,220.52 L488.05,221.81 L488.2,223.1Z" fill="#5f5fa8" stroke="#2e2e66" stroke-width="0.45"/>
<line x1="459.7" y1="221" x2="459.7" y2="177.2" stroke="#111" stroke-width="0.6"/>
<rect x="457.1" y="194.6" width="5.2" height="12.4" fill="#fff" stroke="#111" stroke-width="0.6"/>
<line x1="457.1" y1="200.8" x2="462.3" y2="200.8" stroke="#111" stroke-width="0.85"/>
<line x1="488.2" y1="225" x2="488.2" y2="156" stroke="#111" stroke-width="0.6"/>
<rect x="485.6" y="187.9" width="5.2" height="17.3" fill="#fff" stroke="#111" stroke-width="0.6"/>
<line x1="485.6" y1="197" x2="490.8" y2="197" stroke="#111" stroke-width="0.85"/>
<circle cx="459.7" cy="177.2" r="1.3" fill="#111" stroke="none" stroke-width="1"/>
<line x1="459.7" y1="160.3" x2="488.2" y2="160.3" stroke="#222" stroke-width="1.1"/>
<text x="472.45" y="158.36" font-size="7.4" text-anchor="middle" fill="#222" font-weight="bold">***</text>
<rect x="530.2" y="148.7" width="59.8" height="82.6" fill="#fff" stroke="#3a3a3a" stroke-width="0.9"/>
<text x="560.1" y="147.38" font-size="8" text-anchor="middle" fill="#222" font-weight="normal" stroke="#222" stroke-width="0.08">PLT(×10⁹/L)</text>
<line x1="528.2" y1="218.1" x2="530.2" y2="218.1" stroke="#444" stroke-width="0.7"/>
<text x="527.2" y="220.84" font-size="7.6" text-anchor="end" fill="#4a4a4a" font-weight="normal" stroke="#4a4a4a" stroke-width="0.08">0</text>
<line x1="528.2" y1="196.6" x2="530.2" y2="196.6" stroke="#444" stroke-width="0.7"/>
<text x="527.2" y="199.34" font-size="7.6" text-anchor="end" fill="#4a4a4a" font-weight="normal" stroke="#4a4a4a" stroke-width="0.08">200</text>
<line x1="528.2" y1="175.5" x2="530.2" y2="175.5" stroke="#444" stroke-width="0.7"/>
<text x="527.2" y="178.24" font-size="7.6" text-anchor="end" fill="#4a4a4a" font-weight="normal" stroke="#4a4a4a" stroke-width="0.08">400</text>
<line x1="528.2" y1="154.4" x2="530.2" y2="154.4" stroke="#444" stroke-width="0.7"/>
<text x="527.2" y="157.14" font-size="7.6" text-anchor="end" fill="#4a4a4a" font-weight="normal" stroke="#4a4a4a" stroke-width="0.08">600</text>
<line x1="546.5" y1="231.3" x2="546.5" y2="233.3" stroke="#444" stroke-width="0.7"/>
<text x="546.5" y="240.57" font-size="7.7" text-anchor="middle" fill="#4a4a4a" font-weight="normal" stroke="#4a4a4a" stroke-width="0.08">CIS1</text>
<line x1="573.8" y1="231.3" x2="573.8" y2="233.3" stroke="#444" stroke-width="0.7"/>
<text x="573.8" y="240.57" font-size="7.7" text-anchor="middle" fill="#4a4a4a" font-weight="normal" stroke="#4a4a4a" stroke-width="0.08">CIS2</text>
<path d="M546.5,221.9 L546.63,220.63 L546.81,219.37 L547.04,218.1 L547.33,216.83 L547.69,215.57 L548.14,214.3 L548.67,213.03 L549.29,211.77 L550.01,210.5 L550.82,209.23 L551.71,207.97 L552.65,206.7 L553.61,205.43 L554.57,204.17 L555.48,202.9 L556.28,201.63 L556.93,200.37 L557.35,199.1 L557.4,197.83 L556.79,196.57 L556.08,195.3 L555.33,194.03 L554.58,192.77 L553.85,191.5 L553.16,190.23 L552.5,188.97 L551.88,187.7 L551.3,186.43 L550.77,185.17 L550.28,183.9 L549.84,182.63 L549.43,181.37 L549.06,180.1 L548.73,178.83 L548.42,177.57 L548.15,176.3 L547.91,175.03 L547.69,173.77 L547.5,172.5 L547.33,171.23 L547.17,169.97 L547.04,168.7 L546.92,167.43 L546.81,166.17 L546.72,164.9 L546.64,163.63 L546.56,162.37 L546.5,161.1 L546.5,161.1 L546.44,162.37 L546.36,163.63 L546.28,164.9 L546.19,166.17 L546.08,167.43 L545.96,168.7 L545.83,169.97 L545.67,171.23 L545.5,172.5 L545.31,173.77 L545.09,175.03 L544.85,176.3 L544.58,177.57 L544.27,178.83 L543.94,180.1 L543.57,181.37 L543.16,182.63 L542.72,183.9 L542.23,185.17 L541.7,186.43 L541.12,187.7 L540.5,188.97 L539.84,190.23 L539.15,191.5 L538.42,192.77 L537.67,194.03 L536.92,195.3 L536.21,196.57 L535.6,197.83 L535.65,199.1 L536.07,200.37 L536.72,201.63 L537.52,202.9 L538.43,204.17 L539.39,205.43 L540.35,206.7 L541.29,207.97 L542.18,209.23 L542.99,210.5 L543.71,211.77 L544.33,213.03 L544.86,214.3 L545.31,215.57 L545.67,216.83 L545.96,218.1 L546.19,219.37 L546.37,220.63 L546.5,221.9Z" fill="#80c171" stroke="#3f6e38" stroke-width="0.45"/>
<path d="M573.8,223.1 L574,221.99 L574.27,220.88 L574.63,219.76 L575.09,218.65 L575.68,217.54 L576.41,216.42 L577.29,215.31 L578.33,214.2 L579.5,213.09 L580.8,211.97 L582.18,210.86 L583.59,209.75 L584.94,208.64 L586.16,207.52 L587.14,206.41 L587.78,205.3 L587.8,204.19 L587.06,203.07 L586.2,201.96 L585.3,200.85 L584.4,199.74 L583.52,198.62 L582.67,197.51 L581.86,196.4 L581.09,195.29 L580.38,194.17 L579.71,193.06 L579.09,191.95 L578.52,190.84 L577.99,189.72 L577.51,188.61 L577.07,187.5 L576.67,186.39 L576.3,185.27 L575.97,184.16 L575.68,183.05 L575.41,181.94 L575.17,180.82 L574.95,179.71 L574.76,178.6 L574.58,177.49 L574.43,176.38 L574.29,175.26 L574.17,174.15 L574.06,173.04 L573.96,171.92 L573.88,170.81 L573.8,169.7 L573.8,169.7 L573.72,170.81 L573.64,171.92 L573.54,173.04 L573.43,174.15 L573.31,175.26 L573.17,176.38 L573.02,177.49 L572.84,178.6 L572.65,179.71 L572.43,180.82 L572.19,181.94 L571.92,183.05 L571.63,184.16 L571.3,185.27 L570.93,186.39 L570.53,187.5 L570.09,188.61 L569.61,189.72 L569.08,190.84 L568.51,191.95 L567.89,193.06 L567.22,194.17 L566.51,195.29 L565.74,196.4 L564.93,197.51 L564.08,198.62 L563.2,199.74 L562.3,200.85 L561.4,201.96 L560.54,203.07 L559.8,204.19 L559.82,205.3 L560.46,206.41 L561.44,207.52 L562.66,208.64 L564.01,209.75 L565.42,210.86 L566.8,211.97 L568.1,213.09 L569.27,214.2 L570.31,215.31 L571.19,216.42 L571.92,217.54 L572.51,218.65 L572.97,219.76 L573.33,220.88 L573.6,221.99 L573.8,223.1Z" fill="#5f5fa8" stroke="#2e2e66" stroke-width="0.45"/>
<line x1="546.5" y1="224" x2="546.5" y2="161.1" stroke="#111" stroke-width="0.6"/>
<rect x="543.9" y="187.9" width="5.2" height="17.8" fill="#fff" stroke="#111" stroke-width="0.6"/>
<line x1="543.9" y1="197" x2="549.1" y2="197" stroke="#111" stroke-width="0.85"/>
<line x1="573.8" y1="225" x2="573.8" y2="165" stroke="#111" stroke-width="0.6"/>
<rect x="571.2" y="194.6" width="5.2" height="14.4" fill="#fff" stroke="#111" stroke-width="0.6"/>
<line x1="571.2" y1="202" x2="576.4" y2="202" stroke="#111" stroke-width="0.85"/>
<circle cx="546.5" cy="161.1" r="1.3" fill="#111" stroke="none" stroke-width="1"/>
<line x1="546.5" y1="159.1" x2="573.8" y2="159.1" stroke="#222" stroke-width="1.1"/>
<text x="558.65" y="157.16" font-size="7.4" text-anchor="middle" fill="#222" font-weight="bold">***</text>
<rect x="607.3" y="149.1" width="72" height="82.7" fill="#fff" stroke="#3a3a3a" stroke-width="0.9"/>
<text x="643.3" y="147.78" font-size="8" text-anchor="middle" fill="#222" font-weight="normal" stroke="#222" stroke-width="0.08">Age</text>
<line x1="605.3" y1="229.3" x2="607.3" y2="229.3" stroke="#444" stroke-width="0.7"/>
<text x="604.3" y="232.04" font-size="7.6" text-anchor="end" fill="#4a4a4a" font-weight="normal" stroke="#4a4a4a" stroke-width="0.08">0</text>
<line x1="605.3" y1="207.7" x2="607.3" y2="207.7" stroke="#444" stroke-width="0.7"/>
<text x="604.3" y="210.44" font-size="7.6" text-anchor="end" fill="#4a4a4a" font-weight="normal" stroke="#4a4a4a" stroke-width="0.08">30</text>
<line x1="605.3" y1="186.6" x2="607.3" y2="186.6" stroke="#444" stroke-width="0.7"/>
<text x="604.3" y="189.34" font-size="7.6" text-anchor="end" fill="#4a4a4a" font-weight="normal" stroke="#4a4a4a" stroke-width="0.08">60</text>
<line x1="605.3" y1="165.3" x2="607.3" y2="165.3" stroke="#444" stroke-width="0.7"/>
<text x="604.3" y="168.04" font-size="7.6" text-anchor="end" fill="#4a4a4a" font-weight="normal" stroke="#4a4a4a" stroke-width="0.08">90</text>
<line x1="626.7" y1="231.8" x2="626.7" y2="233.8" stroke="#444" stroke-width="0.7"/>
<text x="626.7" y="241.07" font-size="7.7" text-anchor="middle" fill="#4a4a4a" font-weight="normal" stroke="#4a4a4a" stroke-width="0.08">CIS1</text>
<line x1="656.5" y1="231.8" x2="656.5" y2="233.8" stroke="#444" stroke-width="0.7"/>
<text x="656.5" y="241.07" font-size="7.7" text-anchor="middle" fill="#4a4a4a" font-weight="normal" stroke="#4a4a4a" stroke-width="0.08">CIS2</text>
<path d="M626.7,212 L626.84,210.91 L626.99,209.82 L627.16,208.74 L627.35,207.65 L627.56,206.56 L627.79,205.47 L628.06,204.39 L628.35,203.3 L628.67,202.21 L629.02,201.12 L629.41,200.04 L629.84,198.95 L630.3,197.86 L630.81,196.78 L631.36,195.69 L631.96,194.6 L632.61,193.51 L633.3,192.43 L634.04,191.34 L634.82,190.25 L635.65,189.16 L636.52,188.08 L637.41,186.99 L638.33,185.9 L639.26,184.81 L640.16,183.73 L641.02,182.64 L641.75,181.55 L642,180.46 L641.87,179.38 L641.58,178.29 L641.12,177.2 L640.48,176.11 L639.69,175.03 L638.76,173.94 L637.71,172.85 L636.59,171.76 L635.42,170.68 L634.24,169.59 L633.07,168.5 L631.96,167.41 L630.91,166.33 L629.95,165.24 L629.09,164.15 L628.34,163.06 L627.69,161.98 L627.15,160.89 L626.7,159.8 L626.7,159.8 L626.25,160.89 L625.71,161.98 L625.06,163.06 L624.31,164.15 L623.45,165.24 L622.49,166.33 L621.44,167.41 L620.33,168.5 L619.16,169.59 L617.98,170.68 L616.81,171.76 L615.69,172.85 L614.64,173.94 L613.71,175.03 L612.92,176.11 L612.28,177.2 L611.82,178.29 L611.53,179.38 L611.4,180.46 L611.65,181.55 L612.38,182.64 L613.24,183.73 L614.14,184.81 L615.07,185.9 L615.99,186.99 L616.88,188.08 L617.75,189.16 L618.58,190.25 L619.36,191.34 L620.1,192.43 L620.79,193.51 L621.44,194.6 L622.04,195.69 L622.59,196.78 L623.1,197.86 L623.56,198.95 L623.99,200.04 L624.38,201.12 L624.73,202.21 L625.05,203.3 L625.34,204.39 L625.61,205.47 L625.84,206.56 L626.05,207.65 L626.24,208.74 L626.41,209.82 L626.56,210.91 L626.7,212Z" fill="#80c171" stroke="#3f6e38" stroke-width="0.45"/>
<path d="M656.5,220.6 L656.63,219.36 L656.78,218.12 L656.98,216.88 L657.21,215.64 L657.49,214.4 L657.83,213.16 L658.23,211.92 L658.69,210.68 L659.22,209.44 L659.82,208.2 L660.49,206.96 L661.23,205.72 L662.04,204.49 L662.9,203.25 L663.8,202.01 L664.73,200.77 L665.67,199.53 L666.6,198.29 L667.48,197.05 L668.29,195.81 L668.99,194.57 L669.55,193.33 L669.94,192.09 L670.1,190.85 L669.25,189.61 L668.16,188.37 L667.03,187.13 L665.91,185.89 L664.85,184.65 L663.86,183.41 L662.94,182.17 L662.1,180.93 L661.34,179.69 L660.66,178.45 L660.05,177.21 L659.5,175.97 L659.02,174.74 L658.6,173.5 L658.23,172.26 L657.91,171.02 L657.63,169.78 L657.39,168.54 L657.18,167.3 L657,166.06 L656.84,164.82 L656.71,163.58 L656.6,162.34 L656.5,161.1 L656.5,161.1 L656.4,162.34 L656.29,163.58 L656.16,164.82 L656,166.06 L655.82,167.3 L655.61,168.54 L655.37,169.78 L655.09,171.02 L654.77,172.26 L654.4,173.5 L653.98,174.74 L653.5,175.97 L652.95,177.21 L652.34,178.45 L651.66,179.69 L650.9,180.93 L650.06,182.17 L649.14,183.41 L648.15,184.65 L647.09,185.89 L645.97,187.13 L644.84,188.37 L643.75,189.61 L642.9,190.85 L643.06,192.09 L643.45,193.33 L644.01,194.57 L644.71,195.81 L645.52,197.05 L646.4,198.29 L647.33,199.53 L648.27,200.77 L649.2,202.01 L650.1,203.25 L650.96,204.49 L651.77,205.72 L652.51,206.96 L653.18,208.2 L653.78,209.44 L654.31,210.68 L654.77,211.92 L655.17,213.16 L655.51,214.4 L655.79,215.64 L656.02,216.88 L656.22,218.12 L656.37,219.36 L656.5,220.6Z" fill="#5f5fa8" stroke="#2e2e66" stroke-width="0.45"/>
<line x1="626.7" y1="212" x2="626.7" y2="159.8" stroke="#111" stroke-width="0.6"/>
<rect x="624.1" y="173.5" width="5.2" height="14.1" fill="#fff" stroke="#111" stroke-width="0.6"/>
<line x1="624.1" y1="180.4" x2="629.3" y2="180.4" stroke="#111" stroke-width="0.85"/>
<line x1="656.5" y1="220.6" x2="656.5" y2="161.1" stroke="#111" stroke-width="0.6"/>
<rect x="653.9" y="183.4" width="5.2" height="16.6" fill="#fff" stroke="#111" stroke-width="0.6"/>
<line x1="653.9" y1="191.6" x2="659.1" y2="191.6" stroke="#111" stroke-width="0.85"/>
<line x1="626.7" y1="158.6" x2="656.5" y2="158.6" stroke="#222" stroke-width="1.1"/>
<text x="640.1" y="156.66" font-size="7.4" text-anchor="middle" fill="#222" font-weight="bold">***</text>
<rect x="43.3" y="279.2" width="189.5" height="164.3" fill="#fff" stroke="none" stroke-width="1"/>
<line x1="44.9" y1="279.2" x2="44.9" y2="443.5" stroke="#9a9a9a" stroke-width="0.85" stroke-dasharray="2.4 3.6" stroke-dashoffset="-1.5"/>
<line x1="43.3" y1="441.8" x2="232.8" y2="441.8" stroke="#9a9a9a" stroke-width="0.85" stroke-dasharray="2.4 3.6" stroke-dashoffset="-1.5"/>
<line x1="63.3" y1="279.2" x2="63.3" y2="443.5" stroke="#9a9a9a" stroke-width="0.85" stroke-dasharray="2.4 3.6" stroke-dashoffset="-1.5"/>
<line x1="43.3" y1="425.85" x2="232.8" y2="425.85" stroke="#9a9a9a" stroke-width="0.85" stroke-dasharray="2.4 3.6" stroke-dashoffset="-1.5"/>
<line x1="81.7" y1="279.2" x2="81.7" y2="443.5" stroke="#9a9a9a" stroke-width="0.85" stroke-dasharray="2.4 3.6" stroke-dashoffset="-1.5"/>
<line x1="43.3" y1="409.9" x2="232.8" y2="409.9" stroke="#9a9a9a" stroke-width="0.85" stroke-dasharray="2.4 3.6" stroke-dashoffset="-1.5"/>
<line x1="100.1" y1="279.2" x2="100.1" y2="443.5" stroke="#9a9a9a" stroke-width="0.85" stroke-dasharray="2.4 3.6" stroke-dashoffset="-1.5"/>
<line x1="43.3" y1="393.95" x2="232.8" y2="393.95" stroke="#9a9a9a" stroke-width="0.85" stroke-dasharray="2.4 3.6" stroke-dashoffset="-1.5"/>
<line x1="118.5" y1="279.2" x2="118.5" y2="443.5" stroke="#9a9a9a" stroke-width="0.85" stroke-dasharray="2.4 3.6" stroke-dashoffset="-1.5"/>
<line x1="43.3" y1="378" x2="232.8" y2="378" stroke="#9a9a9a" stroke-width="0.85" stroke-dasharray="2.4 3.6" stroke-dashoffset="-1.5"/>
<line x1="136.9" y1="279.2" x2="136.9" y2="443.5" stroke="#9a9a9a" stroke-width="0.85" stroke-dasharray="2.4 3.6" stroke-dashoffset="-1.5"/>
<line x1="43.3" y1="362.05" x2="232.8" y2="362.05" stroke="#9a9a9a" stroke-width="0.85" stroke-dasharray="2.4 3.6" stroke-dashoffset="-1.5"/>
<line x1="155.3" y1="279.2" x2="155.3" y2="443.5" stroke="#9a9a9a" stroke-width="0.85" stroke-dasharray="2.4 3.6" stroke-dashoffset="-1.5"/>
<line x1="43.3" y1="346.1" x2="232.8" y2="346.1" stroke="#9a9a9a" stroke-width="0.85" stroke-dasharray="2.4 3.6" stroke-dashoffset="-1.5"/>
<line x1="173.7" y1="279.2" x2="173.7" y2="443.5" stroke="#9a9a9a" stroke-width="0.85" stroke-dasharray="2.4 3.6" stroke-dashoffset="-1.5"/>
<line x1="43.3" y1="330.15" x2="232.8" y2="330.15" stroke="#9a9a9a" stroke-width="0.85" stroke-dasharray="2.4 3.6" stroke-dashoffset="-1.5"/>
<line x1="192.1" y1="279.2" x2="192.1" y2="443.5" stroke="#9a9a9a" stroke-width="0.85" stroke-dasharray="2.4 3.6" stroke-dashoffset="-1.5"/>
<line x1="43.3" y1="314.2" x2="232.8" y2="314.2" stroke="#9a9a9a" stroke-width="0.85" stroke-dasharray="2.4 3.6" stroke-dashoffset="-1.5"/>
<line x1="210.5" y1="279.2" x2="210.5" y2="443.5" stroke="#9a9a9a" stroke-width="0.85" stroke-dasharray="2.4 3.6" stroke-dashoffset="-1.5"/>
<line x1="43.3" y1="298.25" x2="232.8" y2="298.25" stroke="#9a9a9a" stroke-width="0.85" stroke-dasharray="2.4 3.6" stroke-dashoffset="-1.5"/>
<line x1="228.9" y1="279.2" x2="228.9" y2="443.5" stroke="#9a9a9a" stroke-width="0.85" stroke-dasharray="2.4 3.6" stroke-dashoffset="-1.5"/>
<line x1="43.3" y1="282.3" x2="232.8" y2="282.3" stroke="#9a9a9a" stroke-width="0.85" stroke-dasharray="2.4 3.6" stroke-dashoffset="-1.5"/>
<line x1="41.3" y1="441.8" x2="43.3" y2="441.8" stroke="#222" stroke-width="0.8"/>
<text x="39.1" y="444.64" font-size="7.9" text-anchor="end" fill="#333" font-weight="normal" stroke="#333" stroke-width="0.08">0.0</text>
<line x1="44.9" y1="443.5" x2="44.9" y2="445.5" stroke="#222" stroke-width="0.8"/>
<text x="44.9" y="454.44" font-size="7.9" text-anchor="middle" fill="#333" font-weight="normal" stroke="#333" stroke-width="0.08">0.0</text>
<line x1="41.3" y1="425.85" x2="43.3" y2="425.85" stroke="#222" stroke-width="0.8"/>
<text x="39.1" y="428.69" font-size="7.9" text-anchor="end" fill="#333" font-weight="normal" stroke="#333" stroke-width="0.08">0.1</text>
<line x1="63.3" y1="443.5" x2="63.3" y2="445.5" stroke="#222" stroke-width="0.8"/>
<text x="63.3" y="454.44" font-size="7.9" text-anchor="middle" fill="#333" font-weight="normal" stroke="#333" stroke-width="0.08">0.1</text>
<line x1="41.3" y1="409.9" x2="43.3" y2="409.9" stroke="#222" stroke-width="0.8"/>
<text x="39.1" y="412.74" font-size="7.9" text-anchor="end" fill="#333" font-weight="normal" stroke="#333" stroke-width="0.08">0.2</text>
<line x1="81.7" y1="443.5" x2="81.7" y2="445.5" stroke="#222" stroke-width="0.8"/>
<text x="81.7" y="454.44" font-size="7.9" text-anchor="middle" fill="#333" font-weight="normal" stroke="#333" stroke-width="0.08">0.2</text>
<line x1="41.3" y1="393.95" x2="43.3" y2="393.95" stroke="#222" stroke-width="0.8"/>
<text x="39.1" y="396.79" font-size="7.9" text-anchor="end" fill="#333" font-weight="normal" stroke="#333" stroke-width="0.08">0.3</text>
<line x1="100.1" y1="443.5" x2="100.1" y2="445.5" stroke="#222" stroke-width="0.8"/>
<text x="100.1" y="454.44" font-size="7.9" text-anchor="middle" fill="#333" font-weight="normal" stroke="#333" stroke-width="0.08">0.3</text>
<line x1="41.3" y1="378" x2="43.3" y2="378" stroke="#222" stroke-width="0.8"/>
<text x="39.1" y="380.84" font-size="7.9" text-anchor="end" fill="#333" font-weight="normal" stroke="#333" stroke-width="0.08">0.4</text>
<line x1="118.5" y1="443.5" x2="118.5" y2="445.5" stroke="#222" stroke-width="0.8"/>
<text x="118.5" y="454.44" font-size="7.9" text-anchor="middle" fill="#333" font-weight="normal" stroke="#333" stroke-width="0.08">0.4</text>
<line x1="41.3" y1="362.05" x2="43.3" y2="362.05" stroke="#222" stroke-width="0.8"/>
<text x="39.1" y="364.89" font-size="7.9" text-anchor="end" fill="#333" font-weight="normal" stroke="#333" stroke-width="0.08">0.5</text>
<line x1="136.9" y1="443.5" x2="136.9" y2="445.5" stroke="#222" stroke-width="0.8"/>
<text x="136.9" y="454.44" font-size="7.9" text-anchor="middle" fill="#333" font-weight="normal" stroke="#333" stroke-width="0.08">0.5</text>
<line x1="41.3" y1="346.1" x2="43.3" y2="346.1" stroke="#222" stroke-width="0.8"/>
<text x="39.1" y="348.94" font-size="7.9" text-anchor="end" fill="#333" font-weight="normal" stroke="#333" stroke-width="0.08">0.6</text>
<line x1="155.3" y1="443.5" x2="155.3" y2="445.5" stroke="#222" stroke-width="0.8"/>
<text x="155.3" y="454.44" font-size="7.9" text-anchor="middle" fill="#333" font-weight="normal" stroke="#333" stroke-width="0.08">0.6</text>
<line x1="41.3" y1="330.15" x2="43.3" y2="330.15" stroke="#222" stroke-width="0.8"/>
<text x="39.1" y="332.99" font-size="7.9" text-anchor="end" fill="#333" font-weight="normal" stroke="#333" stroke-width="0.08">0.7</text>
<line x1="173.7" y1="443.5" x2="173.7" y2="445.5" stroke="#222" stroke-width="0.8"/>
<text x="173.7" y="454.44" font-size="7.9" text-anchor="middle" fill="#333" font-weight="normal" stroke="#333" stroke-width="0.08">0.7</text>
<line x1="41.3" y1="314.2" x2="43.3" y2="314.2" stroke="#222" stroke-width="0.8"/>
<text x="39.1" y="317.04" font-size="7.9" text-anchor="end" fill="#333" font-weight="normal" stroke="#333" stroke-width="0.08">0.8</text>
<line x1="192.1" y1="443.5" x2="192.1" y2="445.5" stroke="#222" stroke-width="0.8"/>
<text x="192.1" y="454.44" font-size="7.9" text-anchor="middle" fill="#333" font-weight="normal" stroke="#333" stroke-width="0.08">0.8</text>
<line x1="41.3" y1="298.25" x2="43.3" y2="298.25" stroke="#222" stroke-width="0.8"/>
<text x="39.1" y="301.09" font-size="7.9" text-anchor="end" fill="#333" font-weight="normal" stroke="#333" stroke-width="0.08">0.9</text>
<line x1="210.5" y1="443.5" x2="210.5" y2="445.5" stroke="#222" stroke-width="0.8"/>
<text x="210.5" y="454.44" font-size="7.9" text-anchor="middle" fill="#333" font-weight="normal" stroke="#333" stroke-width="0.08">0.9</text>
<line x1="41.3" y1="282.3" x2="43.3" y2="282.3" stroke="#222" stroke-width="0.8"/>
<text x="39.1" y="285.14" font-size="7.9" text-anchor="end" fill="#333" font-weight="normal" stroke="#333" stroke-width="0.08">1.0</text>
<line x1="228.9" y1="443.5" x2="228.9" y2="445.5" stroke="#222" stroke-width="0.8"/>
<text x="228.9" y="454.44" font-size="7.9" text-anchor="middle" fill="#333" font-weight="normal" stroke="#333" stroke-width="0.08">1.0</text>
<line x1="44.9" y1="441.8" x2="228.9" y2="282.3" stroke="#34417a" stroke-width="1.2" stroke-dasharray="5 3"/>
<path d="M44.9,441.8 L81.7,401.93 L119.42,365.72 L173.7,320.58 L228.9,282.3" fill="none" stroke="#9dc83c" stroke-width="2.3" stroke-linejoin="round"/>
<path d="M44.9,441.8 L55.94,414.69 L70.66,393.95 L96.6,375.61 L125.86,357.26 L147.76,334.62 L173.52,310.53 L228.9,282.3" fill="none" stroke="#aab0dd" stroke-width="2.3" stroke-linejoin="round"/>
<path d="M44.9,441.8 L59.62,411.5 L89.06,377.2 L125.86,334.62 L158.98,317.55 L199.28,297.77 L228.9,282.3" fill="none" stroke="#f6d0ae" stroke-width="2.3" stroke-linejoin="round"/>
<path d="M44.9,441.8 L53.92,406.07 L68.08,393.95 L96.6,365.72 L119.42,342.91 L145,330.15 L176.28,308.94 L228.9,282.3" fill="none" stroke="#2d5ea8" stroke-width="2.3" stroke-linejoin="round"/>
<path d="M44.9,441.8 L54.1,414.69 L62.38,400.33 L82.44,370.02 L98.08,352.96 L113.72,336.05 L136.35,320.42 L176.28,299.05 L228.9,282.3" fill="none" stroke="#5bbfd0" stroke-width="2.3" stroke-linejoin="round"/>
<path d="M44.9,441.8 L55.39,393.95 L92.37,344.5 L116.66,326.96 L139.29,311.81 L176.28,290.59 L228.9,282.3" fill="none" stroke="#e8812a" stroke-width="2.3" stroke-linejoin="round"/>
<rect x="43.3" y="279.2" width="189.5" height="164.3" fill="none" stroke="#1a1a1a" stroke-width="1.3"/>
<text x="138.05" y="276.19" font-size="8.3" text-anchor="middle" fill="#222" font-weight="normal" stroke="#222" stroke-width="0.08">Comparison of different scores in the Local ICU</text>
<text x="22.8" y="361.35" font-size="8.1" text-anchor="middle" fill="#333" font-weight="normal" stroke="#333" stroke-width="0.08" transform="rotate(-90 22.8 361.35)" dominant-baseline="central">Sensitivity</text>
<text x="132.4" y="462.42" font-size="8.1" text-anchor="middle" fill="#333" font-weight="normal" stroke="#333" stroke-width="0.08">1-Specificity</text>
<rect x="118.3" y="370.4" width="110.3" height="68.9" fill="#fff" stroke="#ccc" stroke-width="0.8" fill-opacity="0.85"/>
<line x1="120.8" y1="378" x2="138.3" y2="378" stroke="#e8812a" stroke-width="2.3"/>
<text x="138.9" y="380.88" font-size="8.0" text-anchor="start" fill="#222" font-weight="normal" stroke="#222" stroke-width="0.08">SMART-AUC = 0.7360</text>
<line x1="120.8" y1="388.9" x2="138.3" y2="388.9" stroke="#5bbfd0" stroke-width="2.3"/>
<text x="138.9" y="391.78" font-size="8.0" text-anchor="start" fill="#222" font-weight="normal" stroke="#222" stroke-width="0.08">SOFA-AUC = 0.6833</text>
<line x1="120.8" y1="399.6" x2="138.3" y2="399.6" stroke="#2d5ea8" stroke-width="2.3"/>
<text x="138.9" y="402.48" font-size="8.0" text-anchor="start" fill="#222" font-weight="normal" stroke="#222" stroke-width="0.08">qSOFA-AUC = 0.6441</text>
<line x1="120.8" y1="410.6" x2="138.3" y2="410.6" stroke="#f6d0ae" stroke-width="2.3"/>
<text x="138.9" y="413.48" font-size="8.0" text-anchor="start" fill="#222" font-weight="normal" stroke="#222" stroke-width="0.08">LIP-AUC = 0.6431</text>
<line x1="120.8" y1="421.4" x2="138.3" y2="421.4" stroke="#aab0dd" stroke-width="2.3"/>
<text x="138.9" y="424.28" font-size="8.0" text-anchor="start" fill="#222" font-weight="normal" stroke="#222" stroke-width="0.08">APACHEII-AUC = 0.6222</text>
<line x1="120.8" y1="432.1" x2="138.3" y2="432.1" stroke="#9dc83c" stroke-width="2.3"/>
<text x="138.9" y="434.98" font-size="8.0" text-anchor="start" fill="#222" font-weight="normal" stroke="#222" stroke-width="0.08">SIRS-AUC = 0.5428</text>
<rect x="42.8" y="477.9" width="189.7" height="166.4" fill="#fff" stroke="none" stroke-width="1"/>
<line x1="44.6" y1="477.9" x2="44.6" y2="644.3" stroke="#9a9a9a" stroke-width="0.85" stroke-dasharray="2.4 3.6" stroke-dashoffset="-1.5"/>
<line x1="42.8" y1="642.7" x2="232.5" y2="642.7" stroke="#9a9a9a" stroke-width="0.85" stroke-dasharray="2.4 3.6" stroke-dashoffset="-1.5"/>
<line x1="63.03" y1="477.9" x2="63.03" y2="644.3" stroke="#9a9a9a" stroke-width="0.85" stroke-dasharray="2.4 3.6" stroke-dashoffset="-1.5"/>
<line x1="42.8" y1="626.65" x2="232.5" y2="626.65" stroke="#9a9a9a" stroke-width="0.85" stroke-dasharray="2.4 3.6" stroke-dashoffset="-1.5"/>
<line x1="81.46" y1="477.9" x2="81.46" y2="644.3" stroke="#9a9a9a" stroke-width="0.85" stroke-dasharray="2.4 3.6" stroke-dashoffset="-1.5"/>
<line x1="42.8" y1="610.6" x2="232.5" y2="610.6" stroke="#9a9a9a" stroke-width="0.85" stroke-dasharray="2.4 3.6" stroke-dashoffset="-1.5"/>
<line x1="99.89" y1="477.9" x2="99.89" y2="644.3" stroke="#9a9a9a" stroke-width="0.85" stroke-dasharray="2.4 3.6" stroke-dashoffset="-1.5"/>
<line x1="42.8" y1="594.55" x2="232.5" y2="594.55" stroke="#9a9a9a" stroke-width="0.85" stroke-dasharray="2.4 3.6" stroke-dashoffset="-1.5"/>
<line x1="118.32" y1="477.9" x2="118.32" y2="644.3" stroke="#9a9a9a" stroke-width="0.85" stroke-dasharray="2.4 3.6" stroke-dashoffset="-1.5"/>
<line x1="42.8" y1="578.5" x2="232.5" y2="578.5" stroke="#9a9a9a" stroke-width="0.85" stroke-dasharray="2.4 3.6" stroke-dashoffset="-1.5"/>
<line x1="136.75" y1="477.9" x2="136.75" y2="644.3" stroke="#9a9a9a" stroke-width="0.85" stroke-dasharray="2.4 3.6" stroke-dashoffset="-1.5"/>
<line x1="42.8" y1="562.45" x2="232.5" y2="562.45" stroke="#9a9a9a" stroke-width="0.85" stroke-dasharray="2.4 3.6" stroke-dashoffset="-1.5"/>
<line x1="155.18" y1="477.9" x2="155.18" y2="644.3" stroke="#9a9a9a" stroke-width="0.85" stroke-dasharray="2.4 3.6" stroke-dashoffset="-1.5"/>
<line x1="42.8" y1="546.4" x2="232.5" y2="546.4" stroke="#9a9a9a" stroke-width="0.85" stroke-dasharray="2.4 3.6" stroke-dashoffset="-1.5"/>
<line x1="173.61" y1="477.9" x2="173.61" y2="644.3" stroke="#9a9a9a" stroke-width="0.85" stroke-dasharray="2.4 3.6" stroke-dashoffset="-1.5"/>
<line x1="42.8" y1="530.35" x2="232.5" y2="530.35" stroke="#9a9a9a" stroke-width="0.85" stroke-dasharray="2.4 3.6" stroke-dashoffset="-1.5"/>
<line x1="192.04" y1="477.9" x2="192.04" y2="644.3" stroke="#9a9a9a" stroke-width="0.85" stroke-dasharray="2.4 3.6" stroke-dashoffset="-1.5"/>
<line x1="42.8" y1="514.3" x2="232.5" y2="514.3" stroke="#9a9a9a" stroke-width="0.85" stroke-dasharray="2.4 3.6" stroke-dashoffset="-1.5"/>
<line x1="210.47" y1="477.9" x2="210.47" y2="644.3" stroke="#9a9a9a" stroke-width="0.85" stroke-dasharray="2.4 3.6" stroke-dashoffset="-1.5"/>
<line x1="42.8" y1="498.25" x2="232.5" y2="498.25" stroke="#9a9a9a" stroke-width="0.85" stroke-dasharray="2.4 3.6" stroke-dashoffset="-1.5"/>
<line x1="228.9" y1="477.9" x2="228.9" y2="644.3" stroke="#9a9a9a" stroke-width="0.85" stroke-dasharray="2.4 3.6" stroke-dashoffset="-1.5"/>
<line x1="42.8" y1="482.2" x2="232.5" y2="482.2" stroke="#9a9a9a" stroke-width="0.85" stroke-dasharray="2.4 3.6" stroke-dashoffset="-1.5"/>
<line x1="40.8" y1="642.7" x2="42.8" y2="642.7" stroke="#222" stroke-width="0.8"/>
<text x="38.6" y="645.54" font-size="7.9" text-anchor="end" fill="#333" font-weight="normal" stroke="#333" stroke-width="0.08">0.0</text>
<line x1="44.6" y1="644.3" x2="44.6" y2="646.3" stroke="#222" stroke-width="0.8"/>
<text x="44.6" y="655.24" font-size="7.9" text-anchor="middle" fill="#333" font-weight="normal" stroke="#333" stroke-width="0.08">0.0</text>
<line x1="40.8" y1="626.65" x2="42.8" y2="626.65" stroke="#222" stroke-width="0.8"/>
<text x="38.6" y="629.49" font-size="7.9" text-anchor="end" fill="#333" font-weight="normal" stroke="#333" stroke-width="0.08">0.1</text>
<line x1="63.03" y1="644.3" x2="63.03" y2="646.3" stroke="#222" stroke-width="0.8"/>
<text x="63.03" y="655.24" font-size="7.9" text-anchor="middle" fill="#333" font-weight="normal" stroke="#333" stroke-width="0.08">0.1</text>
<line x1="40.8" y1="610.6" x2="42.8" y2="610.6" stroke="#222" stroke-width="0.8"/>
<text x="38.6" y="613.44" font-size="7.9" text-anchor="end" fill="#333" font-weight="normal" stroke="#333" stroke-width="0.08">0.2</text>
<line x1="81.46" y1="644.3" x2="81.46" y2="646.3" stroke="#222" stroke-width="0.8"/>
<text x="81.46" y="655.24" font-size="7.9" text-anchor="middle" fill="#333" font-weight="normal" stroke="#333" stroke-width="0.08">0.2</text>
<line x1="40.8" y1="594.55" x2="42.8" y2="594.55" stroke="#222" stroke-width="0.8"/>
<text x="38.6" y="597.39" font-size="7.9" text-anchor="end" fill="#333" font-weight="normal" stroke="#333" stroke-width="0.08">0.3</text>
<line x1="99.89" y1="644.3" x2="99.89" y2="646.3" stroke="#222" stroke-width="0.8"/>
<text x="99.89" y="655.24" font-size="7.9" text-anchor="middle" fill="#333" font-weight="normal" stroke="#333" stroke-width="0.08">0.3</text>
<line x1="40.8" y1="578.5" x2="42.8" y2="578.5" stroke="#222" stroke-width="0.8"/>
<text x="38.6" y="581.34" font-size="7.9" text-anchor="end" fill="#333" font-weight="normal" stroke="#333" stroke-width="0.08">0.4</text>
<line x1="118.32" y1="644.3" x2="118.32" y2="646.3" stroke="#222" stroke-width="0.8"/>
<text x="118.32" y="655.24" font-size="7.9" text-anchor="middle" fill="#333" font-weight="normal" stroke="#333" stroke-width="0.08">0.4</text>
<line x1="40.8" y1="562.45" x2="42.8" y2="562.45" stroke="#222" stroke-width="0.8"/>
<text x="38.6" y="565.29" font-size="7.9" text-anchor="end" fill="#333" font-weight="normal" stroke="#333" stroke-width="0.08">0.5</text>
<line x1="136.75" y1="644.3" x2="136.75" y2="646.3" stroke="#222" stroke-width="0.8"/>
<text x="136.75" y="655.24" font-size="7.9" text-anchor="middle" fill="#333" font-weight="normal" stroke="#333" stroke-width="0.08">0.5</text>
<line x1="40.8" y1="546.4" x2="42.8" y2="546.4" stroke="#222" stroke-width="0.8"/>
<text x="38.6" y="549.24" font-size="7.9" text-anchor="end" fill="#333" font-weight="normal" stroke="#333" stroke-width="0.08">0.6</text>
<line x1="155.18" y1="644.3" x2="155.18" y2="646.3" stroke="#222" stroke-width="0.8"/>
<text x="155.18" y="655.24" font-size="7.9" text-anchor="middle" fill="#333" font-weight="normal" stroke="#333" stroke-width="0.08">0.6</text>
<line x1="40.8" y1="530.35" x2="42.8" y2="530.35" stroke="#222" stroke-width="0.8"/>
<text x="38.6" y="533.19" font-size="7.9" text-anchor="end" fill="#333" font-weight="normal" stroke="#333" stroke-width="0.08">0.7</text>
<line x1="173.61" y1="644.3" x2="173.61" y2="646.3" stroke="#222" stroke-width="0.8"/>
<text x="173.61" y="655.24" font-size="7.9" text-anchor="middle" fill="#333" font-weight="normal" stroke="#333" stroke-width="0.08">0.7</text>
<line x1="40.8" y1="514.3" x2="42.8" y2="514.3" stroke="#222" stroke-width="0.8"/>
<text x="38.6" y="517.14" font-size="7.9" text-anchor="end" fill="#333" font-weight="normal" stroke="#333" stroke-width="0.08">0.8</text>
<line x1="192.04" y1="644.3" x2="192.04" y2="646.3" stroke="#222" stroke-width="0.8"/>
<text x="192.04" y="655.24" font-size="7.9" text-anchor="middle" fill="#333" font-weight="normal" stroke="#333" stroke-width="0.08">0.8</text>
<line x1="40.8" y1="498.25" x2="42.8" y2="498.25" stroke="#222" stroke-width="0.8"/>
<text x="38.6" y="501.09" font-size="7.9" text-anchor="end" fill="#333" font-weight="normal" stroke="#333" stroke-width="0.08">0.9</text>
<line x1="210.47" y1="644.3" x2="210.47" y2="646.3" stroke="#222" stroke-width="0.8"/>
<text x="210.47" y="655.24" font-size="7.9" text-anchor="middle" fill="#333" font-weight="normal" stroke="#333" stroke-width="0.08">0.9</text>
<line x1="40.8" y1="482.2" x2="42.8" y2="482.2" stroke="#222" stroke-width="0.8"/>
<text x="38.6" y="485.04" font-size="7.9" text-anchor="end" fill="#333" font-weight="normal" stroke="#333" stroke-width="0.08">1.0</text>
<line x1="228.9" y1="644.3" x2="228.9" y2="646.3" stroke="#222" stroke-width="0.8"/>
<text x="228.9" y="655.24" font-size="7.9" text-anchor="middle" fill="#333" font-weight="normal" stroke="#333" stroke-width="0.08">1.0</text>
<line x1="44.6" y1="642.7" x2="228.9" y2="482.2" stroke="#34417a" stroke-width="1.2" stroke-dasharray="5 3"/>
<path d="M44.6,642.7 L50.13,626.38 L63.03,601.68 L81.46,573.59 L99.89,550.48 L125.69,525.91 L155.18,505.13 L192.04,489.33 L228.9,482.2" fill="none" stroke="#f0a830" stroke-width="2.3" stroke-linejoin="round"/>
<path d="M44.6,642.7 L50.13,626.65 L63.03,602.58 L81.46,575.29 L99.89,552.82 L125.69,528.75 L155.18,507.88 L192.04,491.03 L228.9,482.2" fill="none" stroke="#1f8a45" stroke-width="2.3" stroke-linejoin="round"/>
<path d="M44.6,642.7 L50.13,626.88 L63.03,603.32 L81.46,576.71 L99.89,554.77 L125.69,531.11 L155.18,510.17 L192.04,492.44 L228.9,482.2" fill="none" stroke="#7b3fa0" stroke-width="2.3" stroke-linejoin="round"/>
<rect x="42.8" y="477.9" width="189.7" height="166.4" fill="none" stroke="#1a1a1a" stroke-width="1.3"/>
<text x="137.65" y="475.19" font-size="8.3" text-anchor="middle" fill="#222" font-weight="normal" stroke="#222" stroke-width="0.08">Comparison of SMART in different public datasets</text>
<text x="22.3" y="561.1" font-size="8.1" text-anchor="middle" fill="#333" font-weight="normal" stroke="#333" stroke-width="0.08" transform="rotate(-90 22.3 561.1)" dominant-baseline="central">Sensitivity</text>
<text x="132.4" y="662.42" font-size="8.1" text-anchor="middle" fill="#333" font-weight="normal" stroke="#333" stroke-width="0.08">1-Specificity</text>
<rect x="115" y="605.4" width="113.6" height="34.9" fill="#fff" stroke="#ccc" stroke-width="0.8" fill-opacity="0.85"/>
<line x1="118.6" y1="611.9" x2="136.9" y2="611.9" stroke="#f0a830" stroke-width="2.3"/>
<text x="138.7" y="614.76" font-size="7.95" text-anchor="start" fill="#222" font-weight="normal" stroke="#222" stroke-width="0.08">MIMIC-III AUC = 0.6751</text>
<line x1="118.6" y1="622.6" x2="136.9" y2="622.6" stroke="#1f8a45" stroke-width="2.3"/>
<text x="138.7" y="625.46" font-size="7.95" text-anchor="start" fill="#222" font-weight="normal" stroke="#222" stroke-width="0.08">MIMIC-IV AUC = 0.6596</text>
<line x1="118.6" y1="633.3" x2="136.9" y2="633.3" stroke="#7b3fa0" stroke-width="2.3"/>
<text x="138.7" y="636.16" font-size="7.95" text-anchor="start" fill="#222" font-weight="normal" stroke="#222" stroke-width="0.08">eICU-CRD AUC = 0.6475</text>
<rect x="286.9" y="279.55" width="20.6" height="167.59" fill="#87c1b1" stroke="none" stroke-width="1"/>
<rect x="286.9" y="447.14" width="20.6" height="10.96" fill="#25907c" stroke="none" stroke-width="1"/>
<text x="297.12" y="382.12" font-size="7.0" text-anchor="middle" fill="#222" font-weight="normal" stroke="#222" stroke-width="0.08">93.86</text>
<text x="297.12" y="456.92" font-size="7.0" text-anchor="middle" fill="#222" font-weight="normal" stroke="#222" stroke-width="0.08">6.14</text>
<rect x="307.35" y="279.55" width="20.6" height="166.25" fill="#82bfdc" stroke="none" stroke-width="1"/>
<rect x="307.35" y="445.8" width="20.6" height="12.3" fill="#6585c5" stroke="none" stroke-width="1"/>
<text x="317.57" y="367.32" font-size="7.0" text-anchor="middle" fill="#222" font-weight="normal" stroke="#222" stroke-width="0.08">93.11</text>
<text x="317.57" y="455.52" font-size="7.0" text-anchor="middle" fill="#222" font-weight="normal" stroke="#222" stroke-width="0.08">6.89</text>
<rect x="327.8" y="279.55" width="20.6" height="168.02" fill="#7aa7b9" stroke="none" stroke-width="1"/>
<rect x="327.8" y="447.57" width="20.6" height="10.53" fill="#5e808d" stroke="none" stroke-width="1"/>
<text x="338.02" y="372.32" font-size="7.0" text-anchor="middle" fill="#222" font-weight="normal" stroke="#222" stroke-width="0.08">94.10</text>
<text x="338.02" y="455.52" font-size="7.0" text-anchor="middle" fill="#222" font-weight="normal" stroke="#222" stroke-width="0.08">5.90</text>
<rect x="348.25" y="279.55" width="20.6" height="171.41" fill="#8cc274" stroke="none" stroke-width="1"/>
<rect x="348.25" y="450.96" width="20.6" height="7.14" fill="#2f8645" stroke="none" stroke-width="1"/>
<text x="358.48" y="377.22" font-size="7.0" text-anchor="middle" fill="#222" font-weight="normal" stroke="#222" stroke-width="0.08">96.00</text>
<text x="358.48" y="457.52" font-size="7.0" text-anchor="middle" fill="#222" font-weight="normal" stroke="#222" stroke-width="0.08">4.00</text>
<rect x="388.9" y="279.55" width="20.6" height="149.95" fill="#87c1b1" stroke="none" stroke-width="1"/>
<rect x="388.9" y="429.5" width="20.6" height="28.6" fill="#25907c" stroke="none" stroke-width="1"/>
<text x="399.12" y="361.52" font-size="7.0" text-anchor="middle" fill="#222" font-weight="normal" stroke="#222" stroke-width="0.08">83.98</text>
<text x="399.12" y="447.52" font-size="7.0" text-anchor="middle" fill="#222" font-weight="normal" stroke="#222" stroke-width="0.08">16.02</text>
<rect x="409.35" y="279.55" width="20.6" height="140.41" fill="#82bfdc" stroke="none" stroke-width="1"/>
<rect x="409.35" y="419.96" width="20.6" height="38.14" fill="#6585c5" stroke="none" stroke-width="1"/>
<text x="419.57" y="354.92" font-size="7.0" text-anchor="middle" fill="#222" font-weight="normal" stroke="#222" stroke-width="0.08">78.64</text>
<text x="419.57" y="442.12" font-size="7.0" text-anchor="middle" fill="#222" font-weight="normal" stroke="#222" stroke-width="0.08">21.36</text>
<rect x="429.8" y="279.55" width="20.6" height="153.64" fill="#7aa7b9" stroke="none" stroke-width="1"/>
<rect x="429.8" y="433.19" width="20.6" height="24.91" fill="#5e808d" stroke="none" stroke-width="1"/>
<text x="440.02" y="366.02" font-size="7.0" text-anchor="middle" fill="#222" font-weight="normal" stroke="#222" stroke-width="0.08">86.05</text>
<text x="440.02" y="451.92" font-size="7.0" text-anchor="middle" fill="#222" font-weight="normal" stroke="#222" stroke-width="0.08">13.95</text>
<rect x="450.25" y="279.55" width="20.6" height="146.98" fill="#8cc274" stroke="none" stroke-width="1"/>
<rect x="450.25" y="426.53" width="20.6" height="31.57" fill="#2f8645" stroke="none" stroke-width="1"/>
<text x="460.48" y="349.12" font-size="7.0" text-anchor="middle" fill="#222" font-weight="normal" stroke="#222" stroke-width="0.08">82.32</text>
<text x="460.48" y="447.52" font-size="7.0" text-anchor="middle" fill="#222" font-weight="normal" stroke="#222" stroke-width="0.08">17.68</text>
<rect x="490.4" y="279.55" width="20.6" height="123.02" fill="#87c1b1" stroke="none" stroke-width="1"/>
<rect x="490.4" y="402.57" width="20.6" height="55.53" fill="#25907c" stroke="none" stroke-width="1"/>
<text x="500.62" y="339.32" font-size="7.0" text-anchor="middle" fill="#222" font-weight="normal" stroke="#222" stroke-width="0.08">68.90</text>
<text x="500.62" y="434.12" font-size="7.0" text-anchor="middle" fill="#222" font-weight="normal" stroke="#222" stroke-width="0.08">31.10</text>
<rect x="510.85" y="279.55" width="20.6" height="111.59" fill="#82bfdc" stroke="none" stroke-width="1"/>
<rect x="510.85" y="391.14" width="20.6" height="66.96" fill="#6585c5" stroke="none" stroke-width="1"/>
<text x="521.07" y="331.72" font-size="7.0" text-anchor="middle" fill="#222" font-weight="normal" stroke="#222" stroke-width="0.08">62.50</text>
<text x="521.07" y="428.32" font-size="7.0" text-anchor="middle" fill="#222" font-weight="normal" stroke="#222" stroke-width="0.08">37.50</text>
<rect x="531.3" y="279.55" width="20.6" height="131.93" fill="#7aa7b9" stroke="none" stroke-width="1"/>
<rect x="531.3" y="411.48" width="20.6" height="46.62" fill="#5e808d" stroke="none" stroke-width="1"/>
<text x="541.52" y="345.12" font-size="7.0" text-anchor="middle" fill="#222" font-weight="normal" stroke="#222" stroke-width="0.08">73.89</text>
<text x="541.52" y="440.82" font-size="7.0" text-anchor="middle" fill="#222" font-weight="normal" stroke="#222" stroke-width="0.08">26.11</text>
<rect x="551.75" y="279.55" width="20.6" height="120.88" fill="#8cc274" stroke="none" stroke-width="1"/>
<rect x="551.75" y="400.43" width="20.6" height="57.67" fill="#2f8645" stroke="none" stroke-width="1"/>
<text x="561.98" y="338.42" font-size="7.0" text-anchor="middle" fill="#222" font-weight="normal" stroke="#222" stroke-width="0.08">67.90</text>
<text x="561.98" y="431.92" font-size="7.0" text-anchor="middle" fill="#222" font-weight="normal" stroke="#222" stroke-width="0.08">32.30</text>
<rect x="592.4" y="279.55" width="20.6" height="84.03" fill="#87c1b1" stroke="none" stroke-width="1"/>
<rect x="592.4" y="363.58" width="20.6" height="94.52" fill="#25907c" stroke="none" stroke-width="1"/>
<text x="602.62" y="314.82" font-size="7.0" text-anchor="middle" fill="#222" font-weight="normal" stroke="#222" stroke-width="0.08">47.06</text>
<text x="602.62" y="409.62" font-size="7.0" text-anchor="middle" fill="#222" font-weight="normal" stroke="#222" stroke-width="0.08">52.94</text>
<rect x="612.85" y="279.55" width="20.6" height="88.38" fill="#82bfdc" stroke="none" stroke-width="1"/>
<rect x="612.85" y="367.93" width="20.6" height="90.17" fill="#6585c5" stroke="none" stroke-width="1"/>
<text x="623.08" y="320.62" font-size="7.0" text-anchor="middle" fill="#222" font-weight="normal" stroke="#222" stroke-width="0.08">49.50</text>
<text x="623.08" y="416.32" font-size="7.0" text-anchor="middle" fill="#222" font-weight="normal" stroke="#222" stroke-width="0.08">50.50</text>
<rect x="633.3" y="279.55" width="20.6" height="108.81" fill="#7aa7b9" stroke="none" stroke-width="1"/>
<rect x="633.3" y="388.36" width="20.6" height="69.74" fill="#5e808d" stroke="none" stroke-width="1"/>
<text x="643.52" y="329.52" font-size="7.0" text-anchor="middle" fill="#222" font-weight="normal" stroke="#222" stroke-width="0.08">60.94</text>
<text x="643.52" y="426.12" font-size="7.0" text-anchor="middle" fill="#222" font-weight="normal" stroke="#222" stroke-width="0.08">39.06</text>
<rect x="653.75" y="279.55" width="20.6" height="64.01" fill="#8cc274" stroke="none" stroke-width="1"/>
<rect x="653.75" y="343.56" width="20.6" height="114.54" fill="#2f8645" stroke="none" stroke-width="1"/>
<text x="663.98" y="307.22" font-size="7.0" text-anchor="middle" fill="#222" font-weight="normal" stroke="#222" stroke-width="0.08">35.85</text>
<text x="663.98" y="403.02" font-size="7.0" text-anchor="middle" fill="#222" font-weight="normal" stroke="#222" stroke-width="0.08">64.15</text>
<path d="M276.5,276.5 L276.5,458.3 L677.4,458.3 L677.4,276.5 Z" fill="none" stroke="#333" stroke-width="1.0"/>
<line x1="274.5" y1="458.1" x2="276.5" y2="458.1" stroke="#333" stroke-width="0.8"/>
<text x="273" y="461.2" font-size="8.6" text-anchor="end" fill="#333" font-weight="normal" stroke="#333" stroke-width="0.08">0</text>
<line x1="274.5" y1="422.39" x2="276.5" y2="422.39" stroke="#333" stroke-width="0.8"/>
<text x="273" y="425.49" font-size="8.6" text-anchor="end" fill="#333" font-weight="normal" stroke="#333" stroke-width="0.08">20</text>
<line x1="274.5" y1="386.68" x2="276.5" y2="386.68" stroke="#333" stroke-width="0.8"/>
<text x="273" y="389.78" font-size="8.6" text-anchor="end" fill="#333" font-weight="normal" stroke="#333" stroke-width="0.08">40</text>
<line x1="274.5" y1="350.97" x2="276.5" y2="350.97" stroke="#333" stroke-width="0.8"/>
<text x="273" y="354.07" font-size="8.6" text-anchor="end" fill="#333" font-weight="normal" stroke="#333" stroke-width="0.08">60</text>
<line x1="274.5" y1="315.26" x2="276.5" y2="315.26" stroke="#333" stroke-width="0.8"/>
<text x="273" y="318.36" font-size="8.6" text-anchor="end" fill="#333" font-weight="normal" stroke="#333" stroke-width="0.08">80</text>
<line x1="274.5" y1="279.55" x2="276.5" y2="279.55" stroke="#333" stroke-width="0.8"/>
<text x="273" y="282.65" font-size="8.6" text-anchor="end" fill="#333" font-weight="normal" stroke="#333" stroke-width="0.08">100</text>
<line x1="327.8" y1="458.3" x2="327.8" y2="460.3" stroke="#333" stroke-width="0.8"/>
<line x1="429.8" y1="458.3" x2="429.8" y2="460.3" stroke="#333" stroke-width="0.8"/>
<line x1="531.3" y1="458.3" x2="531.3" y2="460.3" stroke="#333" stroke-width="0.8"/>
<line x1="633.3" y1="458.3" x2="633.3" y2="460.3" stroke="#333" stroke-width="0.8"/>
<text x="327.8" y="468.33" font-size="8.7" text-anchor="middle" fill="#222" font-weight="normal" stroke="#222" stroke-width="0.08">Mild [4,9)</text>
<text x="429.8" y="468.33" font-size="8.7" text-anchor="middle" fill="#222" font-weight="normal" stroke="#222" stroke-width="0.08">Moderate [9,13)</text>
<text x="531.3" y="468.33" font-size="8.7" text-anchor="middle" fill="#222" font-weight="normal" stroke="#222" stroke-width="0.08">Severe [13,17)</text>
<text x="633.3" y="468.33" font-size="8.7" text-anchor="middle" fill="#222" font-weight="normal" stroke="#222" stroke-width="0.08">Dangerous [17,20]</text>
<text x="254.6" y="363.8" font-size="8.7" text-anchor="middle" fill="#222" font-weight="normal" stroke="#222" stroke-width="0.08" transform="rotate(-90 254.6 363.8)" dominant-baseline="central">Non-Survival/Survival proportion(%)</text>
<text x="480.4" y="275.09" font-size="10.8" text-anchor="middle" fill="#111" font-weight="normal" stroke="#111" stroke-width="0.08">The sepsis risk level</text>
<rect x="279.5" y="279.2" width="108.2" height="82.4" fill="#fff" stroke="#d8d8d8" stroke-width="0.7" fill-opacity="0.8"/>
<rect x="282.6" y="281.7" width="13" height="5.2" fill="#25907c" stroke="none" stroke-width="1"/>
<text x="296.3" y="286.78" font-size="6.9" text-anchor="start" fill="#222" font-weight="normal" stroke="#222" stroke-width="0.08">Non-survivors In MIMIC-III</text>
<rect x="282.6" y="291.57" width="13" height="5.2" fill="#6585c5" stroke="none" stroke-width="1"/>
<text x="296.3" y="296.65" font-size="6.9" text-anchor="start" fill="#222" font-weight="normal" stroke="#222" stroke-width="0.08">Non-survivors In MIMIC-IV</text>
<rect x="282.6" y="301.44" width="13" height="5.2" fill="#5e808d" stroke="none" stroke-width="1"/>
<text x="296.3" y="306.52" font-size="6.9" text-anchor="start" fill="#222" font-weight="normal" stroke="#222" stroke-width="0.08">Non-survivors In eIUC-CRD</text>
<rect x="282.6" y="311.31" width="13" height="5.2" fill="#2f8645" stroke="none" stroke-width="1"/>
<text x="296.3" y="316.39" font-size="6.9" text-anchor="start" fill="#222" font-weight="normal" stroke="#222" stroke-width="0.08">Non-survivors In Local ICU</text>
<rect x="282.6" y="321.18" width="13" height="5.2" fill="#87c1b1" stroke="none" stroke-width="1"/>
<text x="296.3" y="326.26" font-size="6.9" text-anchor="start" fill="#222" font-weight="normal" stroke="#222" stroke-width="0.08">Survivors In MIMIC-IV</text>
<rect x="282.6" y="331.05" width="13" height="5.2" fill="#82bfdc" stroke="none" stroke-width="1"/>
<text x="296.3" y="336.13" font-size="6.9" text-anchor="start" fill="#222" font-weight="normal" stroke="#222" stroke-width="0.08">Survivors In Local ICU</text>
<rect x="282.6" y="340.92" width="13" height="5.2" fill="#7aa7b9" stroke="none" stroke-width="1"/>
<text x="296.3" y="346" font-size="6.9" text-anchor="start" fill="#222" font-weight="normal" stroke="#222" stroke-width="0.08">Survivors In eICU-CRD</text>
<rect x="282.6" y="350.79" width="13" height="5.2" fill="#8cc274" stroke="none" stroke-width="1"/>
<text x="296.3" y="355.87" font-size="6.9" text-anchor="start" fill="#222" font-weight="normal" stroke="#222" stroke-width="0.08">Survivors In Local ICU</text>
<circle cx="320.9" cy="508" r="17.8" fill="#2f6fa6" stroke="none" stroke-width="1"/>
<circle cx="367.8" cy="508" r="17.3" fill="#4ea4c5" stroke="none" stroke-width="1"/>
<circle cx="415" cy="508" r="18.3" fill="#4ea4c5" stroke="none" stroke-width="1"/>
<circle cx="461.5" cy="508" r="18.2" fill="#2f6fa6" stroke="none" stroke-width="1"/>
<circle cx="508" cy="508" r="18.8" fill="#2f6fa6" stroke="none" stroke-width="1"/>
<circle cx="556.2" cy="508" r="11.1" fill="#4ea4c5" stroke="none" stroke-width="1"/>
<circle cx="602.7" cy="508" r="9.7" fill="#4ea4c5" stroke="none" stroke-width="1"/>
<circle cx="320.9" cy="546.7" r="14.5" fill="#2f6fa6" stroke="none" stroke-width="1"/>
<circle cx="367.8" cy="546.7" r="15.6" fill="#4ea4c5" stroke="none" stroke-width="1"/>
<circle cx="415" cy="546.7" r="12.8" fill="#4ea4c5" stroke="none" stroke-width="1"/>
<circle cx="461.5" cy="546.7" r="12.9" fill="#4ea4c5" stroke="none" stroke-width="1"/>
<circle cx="508" cy="546.7" r="12.2" fill="#4ea4c5" stroke="none" stroke-width="1"/>
<circle cx="556.2" cy="546.7" r="12" fill="#4799c0" stroke="none" stroke-width="1"/>
<circle cx="602.7" cy="546.7" r="12" fill="#b8ddbb" stroke="none" stroke-width="1"/>
<circle cx="320.9" cy="585.2" r="11" fill="#b8ddbb" stroke="none" stroke-width="1"/>
<circle cx="367.8" cy="585.2" r="13.3" fill="#b8ddbb" stroke="none" stroke-width="1"/>
<circle cx="415" cy="585.2" r="11.6" fill="#b8ddbb" stroke="none" stroke-width="1"/>
<circle cx="461.5" cy="585.2" r="11.3" fill="#4ea4c5" stroke="none" stroke-width="1"/>
<circle cx="508" cy="585.2" r="12.2" fill="#4ea4c5" stroke="none" stroke-width="1"/>
<circle cx="556.2" cy="585.2" r="13.4" fill="#3f93bd" stroke="none" stroke-width="1"/>
<circle cx="602.7" cy="585.2" r="15.2" fill="#b8ddbb" stroke="none" stroke-width="1"/>
<circle cx="320.9" cy="624.4" r="10.8" fill="#b6c935" stroke="none" stroke-width="1"/>
<circle cx="367.8" cy="624.4" r="9.6" fill="#b8ddbb" stroke="none" stroke-width="1"/>
<circle cx="415" cy="624.4" r="10.6" fill="#b8ddbb" stroke="none" stroke-width="1"/>
<circle cx="461.5" cy="624.4" r="11.1" fill="#b8ddbb" stroke="none" stroke-width="1"/>
<circle cx="508" cy="624.4" r="11.1" fill="#b8ddbb" stroke="none" stroke-width="1"/>
<circle cx="556.2" cy="624.4" r="18.2" fill="#b8ddbb" stroke="none" stroke-width="1"/>
<circle cx="602.7" cy="624.4" r="16.8" fill="#b8ddbb" stroke="none" stroke-width="1"/>
<line x1="320.9" y1="490" x2="320.9" y2="643" stroke="#a8a8a8" stroke-width="0.8" stroke-dasharray="3 2"/>
<line x1="367.8" y1="490" x2="367.8" y2="643" stroke="#a8a8a8" stroke-width="0.8" stroke-dasharray="3 2"/>
<line x1="415" y1="490" x2="415" y2="643" stroke="#a8a8a8" stroke-width="0.8" stroke-dasharray="3 2"/>
<line x1="461.5" y1="490" x2="461.5" y2="643" stroke="#a8a8a8" stroke-width="0.8" stroke-dasharray="3 2"/>
<line x1="508" y1="490" x2="508" y2="643" stroke="#a8a8a8" stroke-width="0.8" stroke-dasharray="3 2"/>
<line x1="556.2" y1="490" x2="556.2" y2="643" stroke="#a8a8a8" stroke-width="0.8" stroke-dasharray="3 2"/>
<line x1="602.7" y1="490" x2="602.7" y2="643" stroke="#a8a8a8" stroke-width="0.8" stroke-dasharray="3 2"/>
<line x1="302" y1="508" x2="625" y2="508" stroke="#a8a8a8" stroke-width="0.8" stroke-dasharray="3 2"/>
<line x1="302" y1="546.7" x2="625" y2="546.7" stroke="#a8a8a8" stroke-width="0.8" stroke-dasharray="3 2"/>
<line x1="302" y1="585.2" x2="625" y2="585.2" stroke="#a8a8a8" stroke-width="0.8" stroke-dasharray="3 2"/>
<line x1="302" y1="624.4" x2="625" y2="624.4" stroke="#a8a8a8" stroke-width="0.8" stroke-dasharray="3 2"/>
<text x="320.9" y="512.5" font-size="12.5" text-anchor="middle" fill="#1e1e1e" font-weight="normal" stroke="#1e1e1e" stroke-width="0.08">2.20</text>
<text x="367.8" y="512.03" font-size="11.2" text-anchor="middle" fill="#1e1e1e" font-weight="normal" stroke="#1e1e1e" stroke-width="0.08">45.00</text>
<text x="415" y="512.5" font-size="12.5" text-anchor="middle" fill="#1e1e1e" font-weight="normal" stroke="#1e1e1e" stroke-width="0.08">1.09</text>
<text x="461.5" y="511.96" font-size="11" text-anchor="middle" fill="#1e1e1e" font-weight="normal" stroke="#1e1e1e" stroke-width="0.08">25.48</text>
<text x="508" y="511.96" font-size="11" text-anchor="middle" fill="#1e1e1e" font-weight="normal" stroke="#1e1e1e" stroke-width="0.08">29.40</text>
<text x="556.2" y="511.49" font-size="9.7" text-anchor="middle" fill="#1e1e1e" font-weight="normal" stroke="#1e1e1e" stroke-width="0.08">0.71</text>
<text x="602.7" y="510.09" font-size="5.8" text-anchor="middle" fill="#1e1e1e" font-weight="normal" stroke="#1e1e1e" stroke-width="0.08">110.00</text>
<text x="320.9" y="550.66" font-size="11" text-anchor="middle" fill="#1e1e1e" font-weight="normal" stroke="#1e1e1e" stroke-width="0.08">1.70</text>
<text x="367.8" y="550.66" font-size="11" text-anchor="middle" fill="#1e1e1e" font-weight="normal" stroke="#1e1e1e" stroke-width="0.08">40.20</text>
<text x="415" y="550.26" font-size="9.9" text-anchor="middle" fill="#1e1e1e" font-weight="normal" stroke="#1e1e1e" stroke-width="0.08">0.63</text>
<text x="461.5" y="550.01" font-size="9.2" text-anchor="middle" fill="#1e1e1e" font-weight="normal" stroke="#1e1e1e" stroke-width="0.08">11.02</text>
<text x="508" y="550.43" font-size="10.35" text-anchor="middle" fill="#1e1e1e" font-weight="normal" stroke="#1e1e1e" stroke-width="0.08">13.50</text>
<text x="556.2" y="550.19" font-size="9.7" text-anchor="middle" fill="#1e1e1e" font-weight="normal" stroke="#1e1e1e" stroke-width="0.08">0.74</text>
<text x="602.7" y="549.51" font-size="7.8" text-anchor="middle" fill="#1e1e1e" font-weight="normal" stroke="#1e1e1e" stroke-width="0.08">148.00</text>
<text x="320.9" y="588.44" font-size="9" text-anchor="middle" fill="#1e1e1e" font-weight="normal" stroke="#1e1e1e" stroke-width="0.08">1.30</text>
<text x="367.8" y="588.33" font-size="8.7" text-anchor="middle" fill="#1e1e1e" font-weight="normal" stroke="#1e1e1e" stroke-width="0.08">31.40</text>
<text x="415" y="588.4" font-size="8.9" text-anchor="middle" fill="#1e1e1e" font-weight="normal" stroke="#1e1e1e" stroke-width="0.08">0.50</text>
<text x="461.5" y="588.69" font-size="9.7" text-anchor="middle" fill="#1e1e1e" font-weight="normal" stroke="#1e1e1e" stroke-width="0.08">8.14</text>
<text x="508" y="588.58" font-size="9.4" text-anchor="middle" fill="#1e1e1e" font-weight="normal" stroke="#1e1e1e" stroke-width="0.08">10.40</text>
<text x="556.2" y="590.06" font-size="13.5" text-anchor="middle" fill="#1e1e1e" font-weight="normal" stroke="#1e1e1e" stroke-width="0.08">0.90</text>
<text x="602.7" y="588.69" font-size="9.7" text-anchor="middle" fill="#1e1e1e" font-weight="normal" stroke="#1e1e1e" stroke-width="0.08">207.00</text>
<text x="320.9" y="627.64" font-size="9.0" text-anchor="middle" fill="#1e1e1e" font-weight="normal" stroke="#1e1e1e" stroke-width="0.08">1.20</text>
<text x="367.8" y="627.35" font-size="8.2" text-anchor="middle" fill="#1e1e1e" font-weight="normal" stroke="#1e1e1e" stroke-width="0.08">29.70</text>
<text x="415" y="627.82" font-size="9.5" text-anchor="middle" fill="#1e1e1e" font-weight="normal" stroke="#1e1e1e" stroke-width="0.08">0.45</text>
<text x="461.5" y="627.89" font-size="9.7" text-anchor="middle" fill="#1e1e1e" font-weight="normal" stroke="#1e1e1e" stroke-width="0.08">6.20</text>
<text x="508" y="628.25" font-size="10.7" text-anchor="middle" fill="#1e1e1e" font-weight="normal" stroke="#1e1e1e" stroke-width="0.08">9.25</text>
<text x="556.2" y="628.14" font-size="10.4" text-anchor="middle" fill="#1e1e1e" font-weight="normal" stroke="#1e1e1e" stroke-width="0.08">1.31</text>
<text x="602.7" y="628.38" font-size="11.05" text-anchor="middle" fill="#1e1e1e" font-weight="normal" stroke="#1e1e1e" stroke-width="0.08">252.50</text>
<text x="274" y="505.31" font-size="10.3" text-anchor="middle" fill="#222" font-weight="normal" stroke="#222" stroke-width="0.08">Dangerous</text>
<text x="281.9" y="517.61" font-size="10.3" text-anchor="middle" fill="#222" font-weight="normal" stroke="#222" stroke-width="0.08">[17,20]</text>
<text x="280.4" y="544.01" font-size="10.3" text-anchor="middle" fill="#222" font-weight="normal" stroke="#222" stroke-width="0.08">Severe</text>
<text x="280.4" y="556.31" font-size="10.3" text-anchor="middle" fill="#222" font-weight="normal" stroke="#222" stroke-width="0.08">[13,17)</text>
<text x="276" y="582.51" font-size="10.3" text-anchor="middle" fill="#222" font-weight="normal" stroke="#222" stroke-width="0.08">Moderate</text>
<text x="281.9" y="594.81" font-size="10.3" text-anchor="middle" fill="#222" font-weight="normal" stroke="#222" stroke-width="0.08">[9,13)</text>
<text x="283.8" y="621.71" font-size="10.3" text-anchor="middle" fill="#222" font-weight="normal" stroke="#222" stroke-width="0.08">Mild</text>
<text x="284.9" y="634.01" font-size="10.3" text-anchor="middle" fill="#222" font-weight="normal" stroke="#222" stroke-width="0.08">[4,9)</text>
<text x="320.9" y="656.69" font-size="10.8" text-anchor="middle" fill="#222" font-weight="normal" stroke="#222" stroke-width="0.08">INR</text>
<text x="367.8" y="656.69" font-size="10.8" text-anchor="middle" fill="#222" font-weight="normal" stroke="#222" stroke-width="0.08">aPTT</text>
<text x="415" y="656.69" font-size="10.8" text-anchor="middle" fill="#222" font-weight="normal" stroke="#222" stroke-width="0.08">MON</text>
<text x="461.5" y="656.69" font-size="10.8" text-anchor="middle" fill="#222" font-weight="normal" stroke="#222" stroke-width="0.08">NEUT</text>
<text x="508" y="656.69" font-size="10.8" text-anchor="middle" fill="#222" font-weight="normal" stroke="#222" stroke-width="0.08">WBC</text>
<text x="556.2" y="656.69" font-size="10.8" text-anchor="middle" fill="#222" font-weight="normal" stroke="#222" stroke-width="0.08">LYM</text>
<text x="602.7" y="656.69" font-size="10.8" text-anchor="middle" fill="#222" font-weight="normal" stroke="#222" stroke-width="0.08">PLT</text>
<text x="448" y="485" font-size="11.1" text-anchor="middle" fill="#111" font-weight="normal" stroke="#111" stroke-width="0.08">Coagulation-inflammatory markers average change with the risk levels</text>
<text x="652.8" y="492.24" font-size="10.1" text-anchor="middle" fill="#222" font-weight="normal" stroke="#222" stroke-width="0.08">Score</text>
<rect x="644.9" y="496.7" width="15.8" height="18.75" fill="#b6c935" stroke="none" stroke-width="1"/>
<text x="652.6" y="509.6" font-size="10" text-anchor="middle" fill="#222" font-weight="normal" stroke="#222" stroke-width="0.08">0</text>
<rect x="644.9" y="515.38" width="15.8" height="18.75" fill="#b8ddbb" stroke="none" stroke-width="1"/>
<text x="652.6" y="528.28" font-size="10" text-anchor="middle" fill="#222" font-weight="normal" stroke="#222" stroke-width="0.08">1</text>
<rect x="644.9" y="534.06" width="15.8" height="18.75" fill="#4ea4c5" stroke="none" stroke-width="1"/>
<text x="652.6" y="546.96" font-size="10" text-anchor="middle" fill="#222" font-weight="normal" stroke="#222" stroke-width="0.08">2</text>
<rect x="644.9" y="552.74" width="15.8" height="18.75" fill="#2f6fa6" stroke="none" stroke-width="1"/>
<text x="652.6" y="565.64" font-size="10" text-anchor="middle" fill="#222" font-weight="normal" stroke="#222" stroke-width="0.08">3</text>
<text x="652.8" y="589.64" font-size="10.4" text-anchor="middle" fill="#222" font-weight="normal" stroke="#222" stroke-width="0.08">Median</text>
<circle cx="652.1" cy="598.4" r="3.6" fill="#fff" stroke="#2b4a80" stroke-width="1.4"/>
<line x1="652.1" y1="602.5" x2="652.1" y2="633" stroke="#2b4a80" stroke-width="1.5" stroke-dasharray="8 4.2"/>
<circle cx="652.1" cy="642.2" r="9" fill="#fff" stroke="#2b4a80" stroke-width="1.4"/>
<rect x="26.1" y="674.1" width="130.8" height="99.6" fill="#fff" stroke="none" stroke-width="1"/>
<path d="M44.7,745.6 L45.17,745.45 L45.71,745.29 L46.3,745.14 L46.95,744.98 L47.66,744.83 L48.42,744.68 L49.22,744.52 L50.06,744.37 L50.94,744.21 L51.83,744.06 L52.72,743.9 L53.61,743.75 L54.48,743.6 L55.32,743.44 L56.11,743.29 L56.84,743.13 L57.5,742.98 L58.07,742.83 L58.56,742.67 L58.96,742.52 L59.26,742.36 L59.46,742.21 L59.57,742.05 L59.6,741.9 L58.89,741.75 L57.79,741.59 L56.56,741.44 L55.28,741.28 L54.03,741.13 L52.83,740.98 L51.72,740.82 L50.7,740.67 L49.79,740.51 L48.97,740.36 L48.25,740.2 L47.63,740.05 L47.09,739.9 L46.64,739.74 L46.35,739.59 L46.22,739.43 L46.08,739.28 L45.92,739.12 L45.75,738.97 L45.57,738.82 L45.38,738.66 L45.17,738.51 L44.94,738.35 L44.7,738.2 L44.7,738.2 L44.46,738.35 L44.23,738.51 L44.02,738.66 L43.83,738.82 L43.65,738.97 L43.48,739.12 L43.32,739.28 L43.18,739.43 L43.05,739.59 L42.76,739.74 L42.31,739.9 L41.77,740.05 L41.15,740.2 L40.43,740.36 L39.61,740.51 L38.7,740.67 L37.68,740.82 L36.57,740.98 L35.37,741.13 L34.12,741.28 L32.84,741.44 L31.61,741.59 L30.51,741.75 L29.8,741.9 L29.83,742.05 L29.94,742.21 L30.14,742.36 L30.44,742.52 L30.84,742.67 L31.33,742.83 L31.9,742.98 L32.56,743.13 L33.29,743.29 L34.08,743.44 L34.92,743.6 L35.79,743.75 L36.68,743.9 L37.57,744.06 L38.46,744.21 L39.34,744.37 L40.18,744.52 L40.98,744.68 L41.74,744.83 L42.45,744.98 L43.1,745.14 L43.69,745.29 L44.23,745.45 L44.7,745.6Z" fill="#4e9a70" stroke="#2b2b2b" stroke-width="0.5"/>
<path d="M75.9,750.6 L76.15,750.08 L76.44,749.57 L76.77,749.05 L77.13,748.53 L77.53,748.02 L77.96,747.5 L78.41,746.98 L78.87,746.47 L79.34,745.95 L79.8,745.43 L80.24,744.92 L80.66,744.4 L81.03,743.88 L81.36,743.37 L81.63,742.85 L81.84,742.33 L81.99,741.82 L82.07,741.3 L82.1,740.78 L81.91,740.27 L81.54,739.75 L81.1,739.23 L80.65,738.72 L80.18,738.2 L79.73,737.68 L79.3,737.17 L78.89,736.65 L78.51,736.13 L78.17,735.62 L77.86,735.1 L77.58,734.58 L77.33,734.07 L77.11,733.55 L76.91,733.03 L76.75,732.52 L76.63,732 L76.59,731.48 L76.55,730.97 L76.5,730.45 L76.45,729.93 L76.4,729.42 L76.34,728.9 L76.28,728.38 L76.21,727.87 L76.14,727.35 L76.06,726.83 L75.98,726.32 L75.9,725.8 L75.9,725.8 L75.82,726.32 L75.74,726.83 L75.66,727.35 L75.59,727.87 L75.52,728.38 L75.46,728.9 L75.4,729.42 L75.35,729.93 L75.3,730.45 L75.25,730.97 L75.21,731.48 L75.17,732 L75.05,732.52 L74.89,733.03 L74.69,733.55 L74.47,734.07 L74.22,734.58 L73.94,735.1 L73.63,735.62 L73.29,736.13 L72.91,736.65 L72.5,737.17 L72.07,737.68 L71.62,738.2 L71.15,738.72 L70.7,739.23 L70.26,739.75 L69.89,740.27 L69.7,740.78 L69.73,741.3 L69.81,741.82 L69.96,742.33 L70.17,742.85 L70.44,743.37 L70.77,743.88 L71.14,744.4 L71.56,744.92 L72,745.43 L72.46,745.95 L72.93,746.47 L73.39,746.98 L73.84,747.5 L74.27,748.02 L74.67,748.53 L75.03,749.05 L75.36,749.57 L75.65,750.08 L75.9,750.6Z" fill="#8a72c0" stroke="#2b2b2b" stroke-width="0.5"/>
<path d="M107.1,751.8 L107.29,750.87 L107.5,749.94 L107.75,749.01 L108.03,748.08 L108.33,747.15 L108.65,746.22 L108.99,745.3 L109.33,744.37 L109.67,743.44 L109.99,742.51 L110.29,741.58 L110.56,740.65 L110.78,739.72 L110.96,738.79 L111.09,737.86 L111.17,736.93 L111.2,736 L111.11,735.08 L110.89,734.15 L110.62,733.22 L110.34,732.29 L110.04,731.36 L109.75,730.43 L109.47,729.5 L109.21,728.57 L108.96,727.64 L108.73,726.71 L108.52,725.78 L108.33,724.85 L108.16,723.92 L108.01,723 L107.87,722.07 L107.75,721.14 L107.65,720.21 L107.59,719.28 L107.57,718.35 L107.54,717.42 L107.51,716.49 L107.48,715.56 L107.45,714.63 L107.41,713.7 L107.38,712.78 L107.34,711.85 L107.29,710.92 L107.25,709.99 L107.2,709.06 L107.15,708.13 L107.1,707.2 L107.1,707.2 L107.05,708.13 L107,709.06 L106.95,709.99 L106.91,710.92 L106.86,711.85 L106.82,712.78 L106.79,713.7 L106.75,714.63 L106.72,715.56 L106.69,716.49 L106.66,717.42 L106.63,718.35 L106.61,719.28 L106.55,720.21 L106.45,721.14 L106.33,722.07 L106.19,723 L106.04,723.92 L105.87,724.85 L105.68,725.78 L105.47,726.71 L105.24,727.64 L104.99,728.57 L104.73,729.5 L104.45,730.43 L104.16,731.36 L103.86,732.29 L103.58,733.22 L103.31,734.15 L103.09,735.08 L103,736 L103.03,736.93 L103.11,737.86 L103.24,738.79 L103.42,739.72 L103.64,740.65 L103.91,741.58 L104.21,742.51 L104.53,743.44 L104.87,744.37 L105.21,745.3 L105.55,746.22 L105.87,747.15 L106.17,748.08 L106.45,749.01 L106.7,749.94 L106.91,750.87 L107.1,751.8Z" fill="#5ec0ee" stroke="#2b2b2b" stroke-width="0.5"/>
<path d="M138.3,749.4 L138.49,748.26 L138.72,747.12 L138.99,745.98 L139.3,744.84 L139.63,743.7 L139.97,742.56 L140.31,741.42 L140.62,740.28 L140.9,739.14 L141.12,738 L141.28,736.86 L141.37,735.73 L141.4,734.59 L141.31,733.45 L141.17,732.31 L141,731.17 L140.81,730.03 L140.62,728.89 L140.43,727.75 L140.24,726.61 L140.06,725.47 L139.89,724.33 L139.73,723.19 L139.57,722.05 L139.43,720.91 L139.3,719.77 L139.18,718.63 L139.08,717.49 L138.98,716.35 L138.89,715.21 L138.81,714.07 L138.74,712.93 L138.68,711.79 L138.66,710.65 L138.64,709.51 L138.62,708.38 L138.6,707.24 L138.58,706.1 L138.56,704.96 L138.54,703.82 L138.51,702.68 L138.49,701.54 L138.46,700.4 L138.43,699.26 L138.4,698.12 L138.37,696.98 L138.33,695.84 L138.3,694.7 L138.3,694.7 L138.27,695.84 L138.23,696.98 L138.2,698.12 L138.17,699.26 L138.14,700.4 L138.11,701.54 L138.09,702.68 L138.06,703.82 L138.04,704.96 L138.02,706.1 L138,707.24 L137.98,708.38 L137.96,709.51 L137.94,710.65 L137.92,711.79 L137.86,712.93 L137.79,714.07 L137.71,715.21 L137.62,716.35 L137.52,717.49 L137.42,718.63 L137.3,719.77 L137.17,720.91 L137.03,722.05 L136.87,723.19 L136.71,724.33 L136.54,725.47 L136.36,726.61 L136.17,727.75 L135.98,728.89 L135.79,730.03 L135.6,731.17 L135.43,732.31 L135.29,733.45 L135.2,734.59 L135.23,735.73 L135.32,736.86 L135.48,738 L135.7,739.14 L135.98,740.28 L136.29,741.42 L136.63,742.56 L136.97,743.7 L137.3,744.84 L137.61,745.98 L137.88,747.12 L138.11,748.26 L138.3,749.4Z" fill="#79c27e" stroke="#2b2b2b" stroke-width="0.5"/>
<line x1="44.7" y1="747" x2="44.7" y2="736" stroke="#111" stroke-width="0.6"/>
<rect x="41.7" y="740" width="6" height="3" fill="#fff" stroke="#111" stroke-width="0.6"/>
<line x1="41.7" y1="741.5" x2="47.7" y2="741.5" stroke="#111" stroke-width="0.85"/>
<line x1="75.9" y1="751" x2="75.9" y2="725.8" stroke="#111" stroke-width="0.6"/>
<rect x="72.9" y="737" width="6" height="6" fill="#fff" stroke="#111" stroke-width="0.6"/>
<line x1="72.9" y1="740" x2="78.9" y2="740" stroke="#111" stroke-width="0.85"/>
<line x1="107.1" y1="753" x2="107.1" y2="705" stroke="#111" stroke-width="0.6"/>
<rect x="104.1" y="725.8" width="6" height="11.2" fill="#fff" stroke="#111" stroke-width="0.6"/>
<line x1="104.1" y1="732.5" x2="110.1" y2="732.5" stroke="#111" stroke-width="0.85"/>
<line x1="138.3" y1="752" x2="138.3" y2="674.1" stroke="#111" stroke-width="0.6"/>
<rect x="135.3" y="715.8" width="6" height="16.2" fill="#fff" stroke="#111" stroke-width="0.6"/>
<line x1="135.3" y1="724" x2="141.3" y2="724" stroke="#111" stroke-width="0.85"/>
<line x1="44.7" y1="724.5" x2="75.9" y2="724.5" stroke="#777" stroke-width="0.6"/>
<text x="60.3" y="726.2" font-size="6.4" text-anchor="middle" fill="#222" font-weight="bold">***</text>
<line x1="75.9" y1="715.1" x2="107.1" y2="715.1" stroke="#777" stroke-width="0.6"/>
<text x="91.5" y="716.8" font-size="6.4" text-anchor="middle" fill="#222" font-weight="bold">***</text>
<line x1="44.7" y1="697.2" x2="107.1" y2="697.2" stroke="#777" stroke-width="0.6"/>
<text x="75.9" y="698.9" font-size="6.4" text-anchor="middle" fill="#222" font-weight="bold">***</text>
<line x1="107.1" y1="705.9" x2="138.3" y2="705.9" stroke="#777" stroke-width="0.6"/>
<text x="122.7" y="707.6" font-size="6.4" text-anchor="middle" fill="#222" font-weight="bold">***</text>
<line x1="75.9" y1="688.5" x2="138.3" y2="688.5" stroke="#777" stroke-width="0.6"/>
<text x="107.1" y="690.2" font-size="6.4" text-anchor="middle" fill="#222" font-weight="bold">***</text>
<line x1="44.7" y1="680.4" x2="138.3" y2="680.4" stroke="#777" stroke-width="0.6"/>
<text x="91.5" y="682.1" font-size="6.4" text-anchor="middle" fill="#222" font-weight="bold">***</text>
<rect x="26.1" y="674.1" width="130.8" height="99.6" fill="none" stroke="#333" stroke-width="0.9"/>
<line x1="24.1" y1="766" x2="26.1" y2="766" stroke="#555" stroke-width="0.7"/>
<text x="24.4" y="769.02" font-size="8.4" text-anchor="end" fill="#555" font-weight="normal" stroke="#555" stroke-width="0.08">0</text>
<line x1="24.1" y1="744.9" x2="26.1" y2="744.9" stroke="#555" stroke-width="0.7"/>
<text x="24.4" y="747.92" font-size="8.4" text-anchor="end" fill="#555" font-weight="normal" stroke="#555" stroke-width="0.08">1</text>
<line x1="24.1" y1="724" x2="26.1" y2="724" stroke="#555" stroke-width="0.7"/>
<text x="24.4" y="727.02" font-size="8.4" text-anchor="end" fill="#555" font-weight="normal" stroke="#555" stroke-width="0.08">2</text>
<line x1="24.1" y1="703.4" x2="26.1" y2="703.4" stroke="#555" stroke-width="0.7"/>
<text x="24.4" y="706.42" font-size="8.4" text-anchor="end" fill="#555" font-weight="normal" stroke="#555" stroke-width="0.08">3</text>
<line x1="24.1" y1="682.3" x2="26.1" y2="682.3" stroke="#555" stroke-width="0.7"/>
<text x="24.4" y="685.32" font-size="8.4" text-anchor="end" fill="#555" font-weight="normal" stroke="#555" stroke-width="0.08">4</text>
<text x="15.2" y="722.9" font-size="8.4" text-anchor="middle" fill="#333" font-weight="normal" stroke="#333" stroke-width="0.08" transform="rotate(-90 15.2 722.9)" dominant-baseline="central">INR</text>
<rect x="25.6" y="778.7" width="131.3" height="99.8" fill="#fff" stroke="none" stroke-width="1"/>
<path d="M46.4,851.9 L47,851.34 L47.69,850.78 L48.47,850.23 L49.33,849.67 L50.28,849.11 L51.29,848.55 L52.36,847.99 L53.46,847.43 L54.58,846.88 L55.7,846.32 L56.79,845.76 L57.82,845.2 L58.78,844.64 L59.63,844.08 L60.37,843.52 L60.98,842.97 L61.45,842.41 L61.77,841.85 L61.95,841.29 L62,840.73 L61.39,840.17 L60.37,839.62 L59.2,839.06 L57.98,838.5 L56.76,837.94 L55.58,837.38 L54.46,836.83 L53.43,836.27 L52.48,835.71 L51.62,835.15 L50.85,834.59 L50.16,834.03 L49.56,833.48 L49.04,832.92 L48.59,832.36 L48.28,831.8 L48.18,831.24 L48.07,830.68 L47.95,830.12 L47.82,829.57 L47.68,829.01 L47.53,828.45 L47.37,827.89 L47.2,827.33 L47.02,826.77 L46.82,826.22 L46.62,825.66 L46.4,825.1 L46.4,825.1 L46.18,825.66 L45.98,826.22 L45.78,826.77 L45.6,827.33 L45.43,827.89 L45.27,828.45 L45.12,829.01 L44.98,829.57 L44.85,830.12 L44.73,830.68 L44.62,831.24 L44.52,831.8 L44.21,832.36 L43.76,832.92 L43.24,833.48 L42.64,834.03 L41.95,834.59 L41.18,835.15 L40.32,835.71 L39.37,836.27 L38.34,836.83 L37.22,837.38 L36.04,837.94 L34.82,838.5 L33.6,839.06 L32.43,839.62 L31.41,840.17 L30.8,840.73 L30.85,841.29 L31.03,841.85 L31.35,842.41 L31.82,842.97 L32.43,843.52 L33.17,844.08 L34.02,844.64 L34.98,845.2 L36.01,845.76 L37.1,846.32 L38.22,846.88 L39.34,847.43 L40.44,847.99 L41.51,848.55 L42.52,849.11 L43.47,849.67 L44.33,850.23 L45.11,850.78 L45.8,851.34 L46.4,851.9Z" fill="#4e9a70" stroke="#2b2b2b" stroke-width="0.5"/>
<path d="M77.2,853.1 L77.68,852.48 L78.22,851.86 L78.82,851.24 L79.49,850.62 L80.21,850.01 L80.99,849.39 L81.82,848.77 L82.68,848.15 L83.57,847.53 L84.46,846.91 L85.35,846.29 L86.21,845.67 L87.04,845.06 L87.81,844.44 L88.52,843.82 L89.14,843.2 L89.67,842.58 L90.1,841.96 L90.43,841.34 L90.65,840.73 L90.77,840.11 L90.8,839.49 L90.14,838.87 L89.16,838.25 L88.04,837.63 L86.9,837.01 L85.77,836.39 L84.69,835.77 L83.68,835.16 L82.76,834.54 L81.93,833.92 L81.19,833.3 L80.54,832.68 L79.98,832.06 L79.49,831.44 L79.07,830.83 L78.83,830.21 L78.73,829.59 L78.62,828.97 L78.51,828.35 L78.38,827.73 L78.25,827.11 L78.1,826.49 L77.94,825.88 L77.77,825.26 L77.59,824.64 L77.4,824.02 L77.2,823.4 L77.2,823.4 L77,824.02 L76.81,824.64 L76.63,825.26 L76.46,825.88 L76.3,826.49 L76.15,827.11 L76.02,827.73 L75.89,828.35 L75.78,828.97 L75.67,829.59 L75.57,830.21 L75.33,830.83 L74.91,831.44 L74.42,832.06 L73.86,832.68 L73.21,833.3 L72.47,833.92 L71.64,834.54 L70.72,835.16 L69.71,835.77 L68.63,836.39 L67.5,837.01 L66.36,837.63 L65.24,838.25 L64.26,838.87 L63.6,839.49 L63.63,840.11 L63.75,840.73 L63.97,841.34 L64.3,841.96 L64.73,842.58 L65.26,843.2 L65.88,843.82 L66.59,844.44 L67.36,845.06 L68.19,845.67 L69.05,846.29 L69.94,846.91 L70.83,847.53 L71.72,848.15 L72.58,848.77 L73.41,849.39 L74.19,850.01 L74.91,850.62 L75.58,851.24 L76.18,851.86 L76.72,852.48 L77.2,853.1Z" fill="#8a72c0" stroke="#2b2b2b" stroke-width="0.5"/>
<path d="M107.6,849.4 L108.12,848.19 L108.77,846.97 L109.53,845.76 L110.39,844.54 L111.3,843.33 L112.21,842.11 L113.04,840.9 L113.74,839.68 L114.27,838.47 L114.59,837.25 L114.7,836.04 L114.55,834.83 L114.25,833.61 L113.88,832.4 L113.49,831.18 L113.08,829.97 L112.66,828.75 L112.25,827.54 L111.85,826.32 L111.46,825.11 L111.1,823.89 L110.75,822.68 L110.43,821.46 L110.13,820.25 L109.85,819.04 L109.59,817.82 L109.36,816.61 L109.15,815.39 L108.96,814.18 L108.78,812.96 L108.63,811.75 L108.49,810.53 L108.43,809.32 L108.39,808.1 L108.35,806.89 L108.31,805.67 L108.27,804.46 L108.22,803.25 L108.17,802.03 L108.12,800.82 L108.07,799.6 L108.01,798.39 L107.95,797.17 L107.88,795.96 L107.82,794.74 L107.75,793.53 L107.68,792.31 L107.6,791.1 L107.6,791.1 L107.52,792.31 L107.45,793.53 L107.38,794.74 L107.32,795.96 L107.25,797.17 L107.19,798.39 L107.13,799.6 L107.08,800.82 L107.03,802.03 L106.98,803.25 L106.93,804.46 L106.89,805.67 L106.85,806.89 L106.81,808.1 L106.77,809.32 L106.71,810.53 L106.57,811.75 L106.42,812.96 L106.24,814.18 L106.05,815.39 L105.84,816.61 L105.61,817.82 L105.35,819.04 L105.07,820.25 L104.77,821.46 L104.45,822.68 L104.1,823.89 L103.74,825.11 L103.35,826.32 L102.95,827.54 L102.54,828.75 L102.12,829.97 L101.71,831.18 L101.32,832.4 L100.95,833.61 L100.65,834.83 L100.5,836.04 L100.61,837.25 L100.93,838.47 L101.46,839.68 L102.16,840.9 L102.99,842.11 L103.9,843.33 L104.81,844.54 L105.67,845.76 L106.43,846.97 L107.08,848.19 L107.6,849.4Z" fill="#5ec0ee" stroke="#2b2b2b" stroke-width="0.5"/>
<path d="M138.3,854.4 L138.58,853 L138.91,851.61 L139.27,850.21 L139.68,848.82 L140.12,847.42 L140.6,846.02 L141.1,844.63 L141.62,843.23 L142.15,841.84 L142.67,840.44 L143.17,839.05 L143.64,837.65 L144.07,836.25 L144.46,834.86 L144.78,833.46 L145.04,832.07 L145.23,830.67 L145.35,829.27 L145.4,827.88 L145.32,826.48 L144.96,825.09 L144.5,823.69 L144,822.3 L143.48,820.9 L142.96,819.5 L142.47,818.11 L141.99,816.71 L141.55,815.32 L141.14,813.92 L140.77,812.52 L140.43,811.13 L140.13,809.73 L139.86,808.34 L139.62,806.94 L139.41,805.55 L139.22,804.15 L139.1,802.75 L139.05,801.36 L139,799.96 L138.94,798.57 L138.88,797.17 L138.81,795.77 L138.74,794.38 L138.66,792.98 L138.58,791.59 L138.49,790.19 L138.4,788.8 L138.3,787.4 L138.3,787.4 L138.2,788.8 L138.11,790.19 L138.02,791.59 L137.94,792.98 L137.86,794.38 L137.79,795.77 L137.72,797.17 L137.66,798.57 L137.6,799.96 L137.55,801.36 L137.5,802.75 L137.38,804.15 L137.19,805.55 L136.98,806.94 L136.74,808.34 L136.47,809.73 L136.17,811.13 L135.83,812.52 L135.46,813.92 L135.05,815.32 L134.61,816.71 L134.13,818.11 L133.64,819.5 L133.12,820.9 L132.6,822.3 L132.1,823.69 L131.64,825.09 L131.28,826.48 L131.2,827.88 L131.25,829.27 L131.37,830.67 L131.56,832.07 L131.82,833.46 L132.14,834.86 L132.53,836.25 L132.96,837.65 L133.43,839.05 L133.93,840.44 L134.45,841.84 L134.98,843.23 L135.5,844.63 L136,846.02 L136.48,847.42 L136.92,848.82 L137.33,850.21 L137.69,851.61 L138.02,853 L138.3,854.4Z" fill="#79c27e" stroke="#2b2b2b" stroke-width="0.5"/>
<line x1="46.4" y1="856" x2="46.4" y2="825" stroke="#111" stroke-width="0.6"/>
<rect x="43.4" y="836.5" width="6" height="6" fill="#fff" stroke="#111" stroke-width="0.6"/>
<line x1="43.4" y1="839.5" x2="49.4" y2="839.5" stroke="#111" stroke-width="0.85"/>
<line x1="77.2" y1="857" x2="77.2" y2="823" stroke="#111" stroke-width="0.6"/>
<rect x="74.2" y="834.5" width="6" height="7.5" fill="#fff" stroke="#111" stroke-width="0.6"/>
<line x1="74.2" y1="838" x2="80.2" y2="838" stroke="#111" stroke-width="0.85"/>
<line x1="107.6" y1="857" x2="107.6" y2="791" stroke="#111" stroke-width="0.6"/>
<rect x="104.6" y="822.1" width="6" height="14.9" fill="#fff" stroke="#111" stroke-width="0.6"/>
<line x1="104.6" y1="829.6" x2="110.6" y2="829.6" stroke="#111" stroke-width="0.85"/>
<line x1="138.3" y1="856" x2="138.3" y2="784" stroke="#111" stroke-width="0.6"/>
<rect x="135.3" y="817.2" width="6" height="12.8" fill="#fff" stroke="#111" stroke-width="0.6"/>
<line x1="135.3" y1="825.1" x2="141.3" y2="825.1" stroke="#111" stroke-width="0.85"/>
<line x1="46.4" y1="821.4" x2="77.2" y2="821.4" stroke="#777" stroke-width="0.6"/>
<text x="61.8" y="823.1" font-size="6.4" text-anchor="middle" fill="#222" font-weight="bold">***</text>
<line x1="77.2" y1="810.2" x2="107.6" y2="810.2" stroke="#777" stroke-width="0.6"/>
<text x="92.4" y="811.9" font-size="6.4" text-anchor="middle" fill="#222" font-weight="bold">***</text>
<line x1="46.4" y1="797.3" x2="107.6" y2="797.3" stroke="#777" stroke-width="0.6"/>
<text x="77" y="799" font-size="6.4" text-anchor="middle" fill="#222" font-weight="bold">***</text>
<line x1="107.6" y1="804" x2="138.3" y2="804" stroke="#777" stroke-width="0.6"/>
<text x="122.95" y="805.7" font-size="6.4" text-anchor="middle" fill="#222" font-weight="bold">***</text>
<line x1="77.2" y1="791.3" x2="138.3" y2="791.3" stroke="#777" stroke-width="0.6"/>
<text x="107.75" y="793" font-size="6.4" text-anchor="middle" fill="#222" font-weight="bold">***</text>
<line x1="46.4" y1="784.9" x2="138.3" y2="784.9" stroke="#777" stroke-width="0.6"/>
<text x="92.35" y="786.6" font-size="6.4" text-anchor="middle" fill="#222" font-weight="bold">***</text>
<rect x="25.6" y="778.7" width="131.3" height="99.8" fill="none" stroke="#333" stroke-width="0.9"/>
<line x1="23.6" y1="870.5" x2="25.6" y2="870.5" stroke="#555" stroke-width="0.7"/>
<text x="23.9" y="873.52" font-size="8.4" text-anchor="end" fill="#555" font-weight="normal" stroke="#555" stroke-width="0.08">0</text>
<line x1="23.6" y1="849.4" x2="25.6" y2="849.4" stroke="#555" stroke-width="0.7"/>
<text x="23.9" y="852.42" font-size="8.4" text-anchor="end" fill="#555" font-weight="normal" stroke="#555" stroke-width="0.08">20</text>
<line x1="23.6" y1="828.8" x2="25.6" y2="828.8" stroke="#555" stroke-width="0.7"/>
<text x="23.9" y="831.82" font-size="8.4" text-anchor="end" fill="#555" font-weight="normal" stroke="#555" stroke-width="0.08">40</text>
<line x1="23.6" y1="807.7" x2="25.6" y2="807.7" stroke="#555" stroke-width="0.7"/>
<text x="23.9" y="810.72" font-size="8.4" text-anchor="end" fill="#555" font-weight="normal" stroke="#555" stroke-width="0.08">60</text>
<line x1="23.6" y1="786.9" x2="25.6" y2="786.9" stroke="#555" stroke-width="0.7"/>
<text x="23.9" y="789.92" font-size="8.4" text-anchor="end" fill="#555" font-weight="normal" stroke="#555" stroke-width="0.08">80</text>
<text x="12.4" y="825" font-size="8.4" text-anchor="middle" fill="#333" font-weight="normal" stroke="#333" stroke-width="0.08" transform="rotate(-90 12.4 825)" dominant-baseline="central">aPTT(s)</text>
<rect x="196.8" y="674.1" width="130.8" height="99.6" fill="#fff" stroke="none" stroke-width="1"/>
<path d="M215.2,772.9 L215.61,771.04 L216.08,769.18 L216.62,767.32 L217.21,765.46 L217.86,763.6 L218.56,761.74 L219.29,759.88 L220.05,758.02 L220.81,756.16 L221.57,754.3 L222.29,752.44 L222.97,750.58 L223.59,748.71 L224.13,746.85 L224.58,744.99 L224.94,743.13 L225.19,741.27 L225.34,739.41 L225.4,737.55 L225.16,735.69 L224.6,733.83 L223.93,731.97 L223.21,730.11 L222.47,728.25 L221.74,726.39 L221.04,724.53 L220.38,722.67 L219.76,720.81 L219.18,718.95 L218.66,717.09 L218.19,715.23 L217.76,713.37 L217.39,711.51 L217.05,709.65 L216.76,707.79 L216.5,705.92 L216.34,704.06 L216.27,702.2 L216.2,700.34 L216.11,698.48 L216.02,696.62 L215.92,694.76 L215.82,692.9 L215.71,691.04 L215.59,689.18 L215.47,687.32 L215.34,685.46 L215.2,683.6 L215.2,683.6 L215.06,685.46 L214.93,687.32 L214.81,689.18 L214.69,691.04 L214.58,692.9 L214.48,694.76 L214.38,696.62 L214.29,698.48 L214.2,700.34 L214.13,702.2 L214.06,704.06 L213.9,705.92 L213.64,707.79 L213.35,709.65 L213.01,711.51 L212.64,713.37 L212.21,715.23 L211.74,717.09 L211.22,718.95 L210.64,720.81 L210.02,722.67 L209.36,724.53 L208.66,726.39 L207.93,728.25 L207.19,730.11 L206.47,731.97 L205.8,733.83 L205.24,735.69 L205,737.55 L205.06,739.41 L205.21,741.27 L205.46,743.13 L205.82,744.99 L206.27,746.85 L206.81,748.71 L207.43,750.58 L208.11,752.44 L208.83,754.3 L209.59,756.16 L210.35,758.02 L211.11,759.88 L211.84,761.74 L212.54,763.6 L213.19,765.46 L213.78,767.32 L214.32,769.18 L214.79,771.04 L215.2,772.9Z" fill="#4e9a70" stroke="#2b2b2b" stroke-width="0.5"/>
<path d="M246.3,769.2 L247.24,767.8 L248.41,766.41 L249.8,765.01 L251.35,763.62 L253,762.22 L254.66,760.83 L256.21,759.43 L257.55,758.03 L258.6,756.64 L259.28,755.24 L259.6,753.85 L259.51,752.45 L259.04,751.05 L258.42,749.66 L257.74,748.26 L257.01,746.87 L256.27,745.47 L255.53,744.08 L254.8,742.68 L254.09,741.28 L253.41,739.89 L252.76,738.49 L252.14,737.1 L251.57,735.7 L251.03,734.3 L250.53,732.91 L250.07,731.51 L249.64,730.12 L249.25,728.72 L248.9,727.33 L248.58,725.93 L248.29,724.53 L248.03,723.14 L247.8,721.74 L247.72,720.35 L247.65,718.95 L247.56,717.55 L247.48,716.16 L247.38,714.76 L247.28,713.37 L247.18,711.97 L247.07,710.58 L246.96,709.18 L246.84,707.78 L246.71,706.39 L246.58,704.99 L246.44,703.6 L246.3,702.2 L246.3,702.2 L246.16,703.6 L246.02,704.99 L245.89,706.39 L245.76,707.78 L245.64,709.18 L245.53,710.58 L245.42,711.97 L245.32,713.37 L245.22,714.76 L245.12,716.16 L245.04,717.55 L244.95,718.95 L244.88,720.35 L244.8,721.74 L244.57,723.14 L244.31,724.53 L244.02,725.93 L243.7,727.33 L243.35,728.72 L242.96,730.12 L242.53,731.51 L242.07,732.91 L241.57,734.3 L241.03,735.7 L240.46,737.1 L239.84,738.49 L239.19,739.89 L238.51,741.28 L237.8,742.68 L237.07,744.08 L236.33,745.47 L235.59,746.87 L234.86,748.26 L234.18,749.66 L233.56,751.05 L233.09,752.45 L233,753.85 L233.32,755.24 L234,756.64 L235.05,758.03 L236.39,759.43 L237.94,760.83 L239.6,762.22 L241.25,763.62 L242.8,765.01 L244.19,766.41 L245.36,767.8 L246.3,769.2Z" fill="#8a72c0" stroke="#2b2b2b" stroke-width="0.5"/>
<path d="M277.4,769.2 L278.32,768.1 L279.42,767.01 L280.71,765.91 L282.17,764.82 L283.74,763.72 L285.38,762.62 L287.02,761.53 L288.58,760.43 L289.97,759.34 L291.15,758.24 L292.04,757.15 L292.62,756.05 L292.9,754.95 L292.81,753.86 L292.22,752.76 L291.46,751.67 L290.61,750.57 L289.71,749.48 L288.79,748.38 L287.88,747.28 L286.98,746.19 L286.12,745.09 L285.3,744 L284.52,742.9 L283.78,741.8 L283.1,740.71 L282.47,739.61 L281.89,738.52 L281.36,737.42 L280.88,736.33 L280.44,735.23 L280.04,734.13 L279.69,733.04 L279.37,731.94 L279.13,730.85 L279.04,729.75 L278.94,728.65 L278.83,727.56 L278.72,726.46 L278.6,725.37 L278.48,724.27 L278.35,723.18 L278.21,722.08 L278.06,720.98 L277.91,719.89 L277.75,718.79 L277.58,717.7 L277.4,716.6 L277.4,716.6 L277.22,717.7 L277.05,718.79 L276.89,719.89 L276.74,720.98 L276.59,722.08 L276.45,723.18 L276.32,724.27 L276.2,725.37 L276.08,726.46 L275.97,727.56 L275.86,728.65 L275.76,729.75 L275.67,730.85 L275.43,731.94 L275.11,733.04 L274.76,734.13 L274.36,735.23 L273.92,736.33 L273.44,737.42 L272.91,738.52 L272.33,739.61 L271.7,740.71 L271.02,741.8 L270.28,742.9 L269.5,744 L268.68,745.09 L267.82,746.19 L266.92,747.28 L266.01,748.38 L265.09,749.48 L264.19,750.57 L263.34,751.67 L262.58,752.76 L261.99,753.86 L261.9,754.95 L262.18,756.05 L262.76,757.15 L263.65,758.24 L264.83,759.34 L266.22,760.43 L267.78,761.53 L269.42,762.62 L271.06,763.72 L272.63,764.82 L274.09,765.91 L275.38,767.01 L276.48,768.1 L277.4,769.2Z" fill="#5ec0ee" stroke="#2b2b2b" stroke-width="0.5"/>
<path d="M308.5,772.9 L309.29,771.66 L310.23,770.42 L311.31,769.18 L312.53,767.94 L313.86,766.7 L315.27,765.46 L316.7,764.22 L318.11,762.98 L319.44,761.74 L320.64,760.5 L321.65,759.26 L322.45,758.02 L323,756.79 L323.31,755.55 L323.4,754.31 L322.95,753.07 L322.24,751.83 L321.4,750.59 L320.51,749.35 L319.6,748.11 L318.68,746.87 L317.78,745.63 L316.92,744.39 L316.09,743.15 L315.31,741.91 L314.58,740.67 L313.9,739.43 L313.28,738.19 L312.71,736.95 L312.19,735.71 L311.71,734.47 L311.29,733.23 L310.91,731.99 L310.57,730.75 L310.26,729.51 L310.11,728.27 L310.02,727.04 L309.92,725.8 L309.81,724.56 L309.69,723.32 L309.57,722.08 L309.44,720.84 L309.3,719.6 L309.16,718.36 L309.01,717.12 L308.85,715.88 L308.68,714.64 L308.5,713.4 L308.5,713.4 L308.32,714.64 L308.15,715.88 L307.99,717.12 L307.84,718.36 L307.7,719.6 L307.56,720.84 L307.43,722.08 L307.31,723.32 L307.19,724.56 L307.08,725.8 L306.98,727.04 L306.89,728.27 L306.74,729.51 L306.43,730.75 L306.09,731.99 L305.71,733.23 L305.29,734.47 L304.81,735.71 L304.29,736.95 L303.72,738.19 L303.1,739.43 L302.42,740.67 L301.69,741.91 L300.91,743.15 L300.08,744.39 L299.22,745.63 L298.32,746.87 L297.4,748.11 L296.49,749.35 L295.6,750.59 L294.76,751.83 L294.05,753.07 L293.6,754.31 L293.69,755.55 L294,756.79 L294.55,758.02 L295.35,759.26 L296.36,760.5 L297.56,761.74 L298.89,762.98 L300.3,764.22 L301.73,765.46 L303.14,766.7 L304.47,767.94 L305.69,769.18 L306.77,770.42 L307.71,771.66 L308.5,772.9Z" fill="#79c27e" stroke="#2b2b2b" stroke-width="0.5"/>
<line x1="215.2" y1="772" x2="215.2" y2="677.4" stroke="#111" stroke-width="0.6"/>
<rect x="212.2" y="726.5" width="6" height="24.1" fill="#fff" stroke="#111" stroke-width="0.6"/>
<line x1="212.2" y1="738.2" x2="218.2" y2="738.2" stroke="#111" stroke-width="0.85"/>
<line x1="246.3" y1="770" x2="246.3" y2="706" stroke="#111" stroke-width="0.6"/>
<rect x="243.3" y="737.7" width="6" height="18.6" fill="#fff" stroke="#111" stroke-width="0.6"/>
<line x1="243.3" y1="748.1" x2="249.3" y2="748.1" stroke="#111" stroke-width="0.85"/>
<line x1="277.4" y1="770" x2="277.4" y2="720" stroke="#111" stroke-width="0.6"/>
<rect x="274.4" y="744.4" width="6" height="14.4" fill="#fff" stroke="#111" stroke-width="0.6"/>
<line x1="274.4" y1="751.3" x2="280.4" y2="751.3" stroke="#111" stroke-width="0.85"/>
<line x1="308.5" y1="772" x2="308.5" y2="713" stroke="#111" stroke-width="0.6"/>
<rect x="305.5" y="744.4" width="6" height="14.9" fill="#fff" stroke="#111" stroke-width="0.6"/>
<line x1="305.5" y1="752.3" x2="311.5" y2="752.3" stroke="#111" stroke-width="0.85"/>
<line x1="215.2" y1="705.4" x2="246.3" y2="705.4" stroke="#777" stroke-width="0.6"/>
<text x="230.75" y="707.1" font-size="6.4" text-anchor="middle" fill="#222" font-weight="bold">***</text>
<line x1="246.3" y1="715.1" x2="277.4" y2="715.1" stroke="#777" stroke-width="0.6"/>
<text x="261.85" y="716.8" font-size="6.4" text-anchor="middle" fill="#222" font-weight="bold">***</text>
<line x1="277.4" y1="720.1" x2="308.5" y2="720.1" stroke="#777" stroke-width="0.6"/>
<text x="292.95" y="720.09" font-size="7.2" text-anchor="middle" fill="#222" font-weight="normal" stroke="#222" stroke-width="0.08">ns</text>
<line x1="215.2" y1="687.3" x2="277.4" y2="687.3" stroke="#777" stroke-width="0.6"/>
<text x="246.3" y="689" font-size="6.4" text-anchor="middle" fill="#222" font-weight="bold">***</text>
<line x1="246.3" y1="696.5" x2="308.5" y2="696.5" stroke="#777" stroke-width="0.6"/>
<text x="277.4" y="698.2" font-size="6.4" text-anchor="middle" fill="#222" font-weight="bold">**</text>
<line x1="215.2" y1="678.6" x2="308.5" y2="678.6" stroke="#777" stroke-width="0.6"/>
<text x="261.85" y="680.3" font-size="6.4" text-anchor="middle" fill="#222" font-weight="bold">***</text>
<rect x="196.8" y="674.1" width="130.8" height="99.6" fill="none" stroke="#333" stroke-width="0.9"/>
<line x1="194.8" y1="766" x2="196.8" y2="766" stroke="#555" stroke-width="0.7"/>
<text x="195.1" y="769.02" font-size="8.4" text-anchor="end" fill="#555" font-weight="normal" stroke="#555" stroke-width="0.08">0</text>
<line x1="194.8" y1="745.1" x2="196.8" y2="745.1" stroke="#555" stroke-width="0.7"/>
<text x="195.1" y="748.12" font-size="8.4" text-anchor="end" fill="#555" font-weight="normal" stroke="#555" stroke-width="0.08">1</text>
<line x1="194.8" y1="724.5" x2="196.8" y2="724.5" stroke="#555" stroke-width="0.7"/>
<text x="195.1" y="727.52" font-size="8.4" text-anchor="end" fill="#555" font-weight="normal" stroke="#555" stroke-width="0.08">2</text>
<line x1="194.8" y1="703.4" x2="196.8" y2="703.4" stroke="#555" stroke-width="0.7"/>
<text x="195.1" y="706.42" font-size="8.4" text-anchor="end" fill="#555" font-weight="normal" stroke="#555" stroke-width="0.08">3</text>
<line x1="194.8" y1="682.3" x2="196.8" y2="682.3" stroke="#555" stroke-width="0.7"/>
<text x="195.1" y="685.32" font-size="8.4" text-anchor="end" fill="#555" font-weight="normal" stroke="#555" stroke-width="0.08">4</text>
<text x="184.9" y="723.9" font-size="8.4" text-anchor="middle" fill="#333" font-weight="normal" stroke="#333" stroke-width="0.08" transform="rotate(-90 184.9 723.9)" dominant-baseline="central">LYM (×10⁹/L)</text>
<rect x="196.1" y="778.7" width="131.5" height="99.8" fill="#fff" stroke="none" stroke-width="1"/>
<path d="M215.2,870.5 L215.8,870.16 L216.49,869.83 L217.27,869.49 L218.13,869.16 L219.07,868.82 L220.08,868.49 L221.15,868.15 L222.25,867.82 L223.38,867.48 L224.49,867.15 L225.57,866.81 L226.6,866.48 L227.55,866.14 L228.4,865.8 L229.13,865.47 L229.73,865.13 L230.18,864.8 L230.49,864.46 L230.66,864.13 L230.7,863.79 L230.04,863.46 L229.04,863.12 L227.9,862.79 L226.71,862.45 L225.53,862.11 L224.38,861.78 L223.29,861.44 L222.27,861.11 L221.34,860.77 L220.49,860.44 L219.73,860.1 L219.05,859.77 L218.45,859.43 L217.93,859.1 L217.47,858.76 L217.08,858.42 L216.97,858.09 L216.86,857.75 L216.74,857.42 L216.61,857.08 L216.47,856.75 L216.32,856.41 L216.16,856.08 L215.99,855.74 L215.81,855.41 L215.62,855.07 L215.42,854.74 L215.2,854.4 L215.2,854.4 L214.98,854.74 L214.78,855.07 L214.59,855.41 L214.41,855.74 L214.24,856.08 L214.08,856.41 L213.93,856.75 L213.79,857.08 L213.66,857.42 L213.54,857.75 L213.43,858.09 L213.32,858.42 L212.93,858.76 L212.47,859.1 L211.95,859.43 L211.35,859.77 L210.67,860.1 L209.91,860.44 L209.06,860.77 L208.13,861.11 L207.11,861.44 L206.02,861.78 L204.87,862.11 L203.69,862.45 L202.5,862.79 L201.36,863.12 L200.36,863.46 L199.7,863.79 L199.74,864.13 L199.91,864.46 L200.22,864.8 L200.67,865.13 L201.27,865.47 L202,865.8 L202.85,866.14 L203.8,866.48 L204.83,866.81 L205.91,867.15 L207.02,867.48 L208.15,867.82 L209.25,868.15 L210.32,868.49 L211.33,868.82 L212.27,869.16 L213.13,869.49 L213.91,869.83 L214.6,870.16 L215.2,870.5Z" fill="#4e9a70" stroke="#2b2b2b" stroke-width="0.5"/>
<path d="M246.3,871.8 L246.72,871.31 L247.22,870.82 L247.78,870.32 L248.41,869.83 L249.1,869.34 L249.84,868.85 L250.61,868.36 L251.39,867.87 L252.17,867.38 L252.92,866.88 L253.63,866.39 L254.26,865.9 L254.8,865.41 L255.25,864.92 L255.58,864.42 L255.79,863.93 L255.9,863.44 L255.85,862.95 L255.42,862.46 L254.84,861.97 L254.2,861.48 L253.53,860.98 L252.86,860.49 L252.21,860 L251.58,859.51 L250.99,859.02 L250.44,858.52 L249.93,858.03 L249.47,857.54 L249.04,857.05 L248.67,856.56 L248.33,856.07 L248.03,855.58 L247.76,855.08 L247.53,854.59 L247.4,854.1 L247.34,853.61 L247.27,853.12 L247.2,852.62 L247.12,852.13 L247.04,851.64 L246.95,851.15 L246.86,850.66 L246.76,850.17 L246.65,849.68 L246.54,849.18 L246.42,848.69 L246.3,848.2 L246.3,848.2 L246.18,848.69 L246.06,849.18 L245.95,849.68 L245.84,850.17 L245.74,850.66 L245.65,851.15 L245.56,851.64 L245.48,852.13 L245.4,852.62 L245.33,853.12 L245.26,853.61 L245.2,854.1 L245.07,854.59 L244.84,855.08 L244.57,855.58 L244.27,856.07 L243.93,856.56 L243.56,857.05 L243.13,857.54 L242.67,858.03 L242.16,858.52 L241.61,859.02 L241.02,859.51 L240.39,860 L239.74,860.49 L239.07,860.98 L238.4,861.48 L237.76,861.97 L237.18,862.46 L236.75,862.95 L236.7,863.44 L236.81,863.93 L237.02,864.42 L237.35,864.92 L237.8,865.41 L238.34,865.9 L238.97,866.39 L239.68,866.88 L240.43,867.38 L241.21,867.87 L241.99,868.36 L242.76,868.85 L243.5,869.34 L244.19,869.83 L244.82,870.32 L245.38,870.82 L245.88,871.31 L246.3,871.8Z" fill="#8a72c0" stroke="#2b2b2b" stroke-width="0.5"/>
<path d="M277.4,874.2 L277.65,873.4 L277.94,872.6 L278.26,871.8 L278.62,871 L279.01,870.2 L279.43,869.4 L279.87,868.6 L280.33,867.8 L280.8,867 L281.26,866.2 L281.71,865.4 L282.14,864.6 L282.54,863.8 L282.9,863 L283.21,862.2 L283.46,861.4 L283.66,860.6 L283.8,859.8 L283.87,859 L283.9,858.2 L283.68,857.4 L283.28,856.6 L282.82,855.8 L282.33,855 L281.84,854.2 L281.36,853.4 L280.9,852.6 L280.47,851.8 L280.08,851 L279.71,850.2 L279.39,849.4 L279.1,848.6 L278.84,847.8 L278.61,847 L278.41,846.2 L278.24,845.4 L278.14,844.6 L278.1,843.8 L278.05,843 L277.99,842.2 L277.94,841.4 L277.87,840.6 L277.81,839.8 L277.73,839 L277.66,838.2 L277.58,837.4 L277.49,836.6 L277.4,835.8 L277.4,835.8 L277.31,836.6 L277.22,837.4 L277.14,838.2 L277.07,839 L276.99,839.8 L276.93,840.6 L276.86,841.4 L276.81,842.2 L276.75,843 L276.7,843.8 L276.66,844.6 L276.56,845.4 L276.39,846.2 L276.19,847 L275.96,847.8 L275.7,848.6 L275.41,849.4 L275.09,850.2 L274.72,851 L274.33,851.8 L273.9,852.6 L273.44,853.4 L272.96,854.2 L272.47,855 L271.98,855.8 L271.52,856.6 L271.12,857.4 L270.9,858.2 L270.93,859 L271,859.8 L271.14,860.6 L271.34,861.4 L271.59,862.2 L271.9,863 L272.26,863.8 L272.66,864.6 L273.09,865.4 L273.54,866.2 L274,867 L274.47,867.8 L274.93,868.6 L275.37,869.4 L275.79,870.2 L276.18,871 L276.54,871.8 L276.86,872.6 L277.15,873.4 L277.4,874.2Z" fill="#5ec0ee" stroke="#2b2b2b" stroke-width="0.5"/>
<path d="M308.5,878 L308.7,876.42 L308.92,874.85 L309.18,873.27 L309.46,871.69 L309.77,870.11 L310.1,868.54 L310.45,866.96 L310.82,865.38 L311.18,863.81 L311.55,862.23 L311.9,860.65 L312.23,859.08 L312.54,857.5 L312.81,855.92 L313.04,854.34 L313.23,852.77 L313.36,851.19 L313.46,849.61 L313.5,848.04 L313.48,846.46 L313.24,844.88 L312.93,843.3 L312.59,841.73 L312.23,840.15 L311.87,838.57 L311.52,837 L311.19,835.42 L310.87,833.84 L310.58,832.26 L310.32,830.69 L310.07,829.11 L309.85,827.53 L309.66,825.96 L309.48,824.38 L309.33,822.8 L309.19,821.22 L309.08,819.65 L309.03,818.07 L308.99,816.49 L308.95,814.92 L308.91,813.34 L308.86,811.76 L308.81,810.19 L308.75,808.61 L308.7,807.03 L308.63,805.45 L308.57,803.88 L308.5,802.3 L308.5,802.3 L308.43,803.88 L308.37,805.45 L308.3,807.03 L308.25,808.61 L308.19,810.19 L308.14,811.76 L308.09,813.34 L308.05,814.92 L308.01,816.49 L307.97,818.07 L307.92,819.65 L307.81,821.22 L307.67,822.8 L307.52,824.38 L307.34,825.96 L307.15,827.53 L306.93,829.11 L306.68,830.69 L306.42,832.26 L306.13,833.84 L305.81,835.42 L305.48,837 L305.13,838.57 L304.77,840.15 L304.41,841.73 L304.07,843.3 L303.76,844.88 L303.52,846.46 L303.5,848.04 L303.54,849.61 L303.64,851.19 L303.77,852.77 L303.96,854.34 L304.19,855.92 L304.46,857.5 L304.77,859.08 L305.1,860.65 L305.45,862.23 L305.82,863.81 L306.18,865.38 L306.55,866.96 L306.9,868.54 L307.23,870.11 L307.54,871.69 L307.82,873.27 L308.08,874.85 L308.3,876.42 L308.5,878Z" fill="#79c27e" stroke="#2b2b2b" stroke-width="0.5"/>
<line x1="215.2" y1="870" x2="215.2" y2="855" stroke="#111" stroke-width="0.6"/>
<rect x="212.2" y="861.8" width="6" height="3.8" fill="#fff" stroke="#111" stroke-width="0.6"/>
<line x1="212.2" y1="863.7" x2="218.2" y2="863.7" stroke="#111" stroke-width="0.85"/>
<line x1="246.3" y1="871" x2="246.3" y2="846" stroke="#111" stroke-width="0.6"/>
<rect x="243.3" y="858.1" width="6" height="7.5" fill="#fff" stroke="#111" stroke-width="0.6"/>
<line x1="243.3" y1="862" x2="249.3" y2="862" stroke="#111" stroke-width="0.85"/>
<line x1="277.4" y1="874" x2="277.4" y2="834" stroke="#111" stroke-width="0.6"/>
<rect x="274.4" y="854.4" width="6" height="9.4" fill="#fff" stroke="#111" stroke-width="0.6"/>
<line x1="274.4" y1="858" x2="280.4" y2="858" stroke="#111" stroke-width="0.85"/>
<line x1="308.5" y1="878" x2="308.5" y2="802" stroke="#111" stroke-width="0.6"/>
<rect x="305.5" y="836.5" width="6" height="19.9" fill="#fff" stroke="#111" stroke-width="0.6"/>
<line x1="305.5" y1="844.5" x2="311.5" y2="844.5" stroke="#111" stroke-width="0.85"/>
<line x1="215.2" y1="839" x2="246.3" y2="839" stroke="#777" stroke-width="0.6"/>
<text x="230.75" y="840.7" font-size="6.4" text-anchor="middle" fill="#222" font-weight="bold">***</text>
<line x1="246.3" y1="830.1" x2="277.4" y2="830.1" stroke="#777" stroke-width="0.6"/>
<text x="261.85" y="831.8" font-size="6.4" text-anchor="middle" fill="#222" font-weight="bold">***</text>
<line x1="215.2" y1="811.4" x2="277.4" y2="811.4" stroke="#777" stroke-width="0.6"/>
<text x="246.3" y="813.1" font-size="6.4" text-anchor="middle" fill="#222" font-weight="bold">***</text>
<line x1="277.4" y1="820.4" x2="308.5" y2="820.4" stroke="#777" stroke-width="0.6"/>
<text x="292.95" y="822.1" font-size="6.4" text-anchor="middle" fill="#222" font-weight="bold">***</text>
<line x1="246.3" y1="802.3" x2="308.5" y2="802.3" stroke="#777" stroke-width="0.6"/>
<text x="277.4" y="804" font-size="6.4" text-anchor="middle" fill="#222" font-weight="bold">***</text>
<line x1="215.2" y1="793.6" x2="308.5" y2="793.6" stroke="#777" stroke-width="0.6"/>
<text x="261.85" y="795.3" font-size="6.4" text-anchor="middle" fill="#222" font-weight="bold">***</text>
<rect x="196.1" y="778.7" width="131.5" height="99.8" fill="none" stroke="#333" stroke-width="0.9"/>
<line x1="194.1" y1="870.5" x2="196.1" y2="870.5" stroke="#555" stroke-width="0.7"/>
<text x="194.4" y="873.52" font-size="8.4" text-anchor="end" fill="#555" font-weight="normal" stroke="#555" stroke-width="0.08">0</text>
<line x1="194.1" y1="849.4" x2="196.1" y2="849.4" stroke="#555" stroke-width="0.7"/>
<text x="194.4" y="852.42" font-size="8.4" text-anchor="end" fill="#555" font-weight="normal" stroke="#555" stroke-width="0.08">20</text>
<line x1="194.1" y1="828.3" x2="196.1" y2="828.3" stroke="#555" stroke-width="0.7"/>
<text x="194.4" y="831.32" font-size="8.4" text-anchor="end" fill="#555" font-weight="normal" stroke="#555" stroke-width="0.08">40</text>
<line x1="194.1" y1="807.2" x2="196.1" y2="807.2" stroke="#555" stroke-width="0.7"/>
<text x="194.4" y="810.22" font-size="8.4" text-anchor="end" fill="#555" font-weight="normal" stroke="#555" stroke-width="0.08">60</text>
<line x1="194.1" y1="786.9" x2="196.1" y2="786.9" stroke="#555" stroke-width="0.7"/>
<text x="194.4" y="789.92" font-size="8.4" text-anchor="end" fill="#555" font-weight="normal" stroke="#555" stroke-width="0.08">80</text>
<text x="184.2" y="828.6" font-size="8.4" text-anchor="middle" fill="#333" font-weight="normal" stroke="#333" stroke-width="0.08" transform="rotate(-90 184.2 828.6)" dominant-baseline="central">NEUT (×10⁹/L)</text>
<rect x="366.8" y="674.1" width="131.3" height="99.9" fill="#fff" stroke="none" stroke-width="1"/>
<path d="M383.9,769.2 L384.56,768.61 L385.32,768.01 L386.18,767.42 L387.13,766.83 L388.18,766.23 L389.3,765.64 L390.48,765.04 L391.7,764.45 L392.91,763.86 L394.11,763.26 L395.26,762.67 L396.32,762.08 L397.28,761.48 L398.1,760.89 L398.77,760.29 L399.28,759.7 L399.62,759.11 L399.8,758.51 L399.8,757.92 L399.09,757.33 L398.09,756.73 L396.97,756.14 L395.79,755.54 L394.62,754.95 L393.48,754.36 L392.39,753.76 L391.37,753.17 L390.43,752.58 L389.57,751.98 L388.79,751.39 L388.09,750.79 L387.47,750.2 L386.92,749.61 L386.44,749.01 L386.02,748.42 L385.77,747.83 L385.67,747.23 L385.56,746.64 L385.44,746.04 L385.31,745.45 L385.17,744.86 L385.02,744.26 L384.86,743.67 L384.69,743.08 L384.51,742.48 L384.32,741.89 L384.11,741.29 L383.9,740.7 L383.9,740.7 L383.69,741.29 L383.48,741.89 L383.29,742.48 L383.11,743.08 L382.94,743.67 L382.78,744.26 L382.63,744.86 L382.49,745.45 L382.36,746.04 L382.24,746.64 L382.13,747.23 L382.03,747.83 L381.78,748.42 L381.36,749.01 L380.88,749.61 L380.33,750.2 L379.71,750.79 L379.01,751.39 L378.23,751.98 L377.37,752.58 L376.43,753.17 L375.41,753.76 L374.32,754.36 L373.18,754.95 L372.01,755.54 L370.83,756.14 L369.71,756.73 L368.71,757.33 L368,757.92 L368,758.51 L368.18,759.11 L368.52,759.7 L369.03,760.29 L369.7,760.89 L370.52,761.48 L371.48,762.08 L372.54,762.67 L373.69,763.26 L374.89,763.86 L376.1,764.45 L377.32,765.04 L378.5,765.64 L379.62,766.23 L380.67,766.83 L381.62,767.42 L382.48,768.01 L383.24,768.61 L383.9,769.2Z" fill="#4e9a70" stroke="#2b2b2b" stroke-width="0.5"/>
<path d="M416.5,769.2 L417.03,768.45 L417.66,767.7 L418.38,766.95 L419.18,766.2 L420.06,765.45 L421,764.7 L421.97,763.95 L422.95,763.2 L423.9,762.45 L424.8,761.7 L425.62,760.95 L426.32,760.2 L426.89,759.45 L427.31,758.7 L427.58,757.95 L427.7,757.2 L427.58,756.45 L427.06,755.7 L426.41,754.95 L425.68,754.2 L424.93,753.45 L424.18,752.7 L423.45,751.95 L422.74,751.2 L422.07,750.45 L421.44,749.7 L420.86,748.95 L420.33,748.2 L419.84,747.45 L419.4,746.7 L419.01,745.95 L418.65,745.2 L418.34,744.45 L418.06,743.7 L417.82,742.95 L417.75,742.2 L417.68,741.45 L417.6,740.7 L417.52,739.95 L417.43,739.2 L417.34,738.45 L417.24,737.7 L417.13,736.95 L417.02,736.2 L416.9,735.45 L416.77,734.7 L416.64,733.95 L416.5,733.2 L416.5,733.2 L416.36,733.95 L416.23,734.7 L416.1,735.45 L415.98,736.2 L415.87,736.95 L415.76,737.7 L415.66,738.45 L415.57,739.2 L415.48,739.95 L415.4,740.7 L415.32,741.45 L415.25,742.2 L415.18,742.95 L414.94,743.7 L414.66,744.45 L414.35,745.2 L413.99,745.95 L413.6,746.7 L413.16,747.45 L412.67,748.2 L412.14,748.95 L411.56,749.7 L410.93,750.45 L410.26,751.2 L409.55,751.95 L408.82,752.7 L408.07,753.45 L407.32,754.2 L406.59,754.95 L405.94,755.7 L405.42,756.45 L405.3,757.2 L405.42,757.95 L405.69,758.7 L406.11,759.45 L406.68,760.2 L407.38,760.95 L408.2,761.7 L409.1,762.45 L410.05,763.2 L411.03,763.95 L412,764.7 L412.94,765.45 L413.82,766.2 L414.62,766.95 L415.34,767.7 L415.97,768.45 L416.5,769.2Z" fill="#8a72c0" stroke="#2b2b2b" stroke-width="0.5"/>
<path d="M448,770.5 L448.58,769.44 L449.31,768.38 L450.18,767.32 L451.15,766.26 L452.16,765.2 L453.14,764.14 L454.02,763.08 L454.71,762.02 L455.18,760.96 L455.4,759.9 L455.36,758.84 L455.1,757.77 L454.77,756.71 L454.39,755.65 L453.99,754.59 L453.58,753.53 L453.17,752.47 L452.76,751.41 L452.37,750.35 L451.99,749.29 L451.63,748.23 L451.29,747.17 L450.97,746.11 L450.67,745.05 L450.39,743.99 L450.13,742.93 L449.9,741.87 L449.68,740.81 L449.48,739.75 L449.3,738.69 L449.14,737.63 L448.99,736.57 L448.86,735.51 L448.82,734.45 L448.78,733.39 L448.74,732.33 L448.69,731.26 L448.64,730.2 L448.59,729.14 L448.54,728.08 L448.48,727.02 L448.42,725.96 L448.36,724.9 L448.29,723.84 L448.22,722.78 L448.15,721.72 L448.08,720.66 L448,719.6 L448,719.6 L447.92,720.66 L447.85,721.72 L447.78,722.78 L447.71,723.84 L447.64,724.9 L447.58,725.96 L447.52,727.02 L447.46,728.08 L447.41,729.14 L447.36,730.2 L447.31,731.26 L447.26,732.33 L447.22,733.39 L447.18,734.45 L447.14,735.51 L447.01,736.57 L446.86,737.63 L446.7,738.69 L446.52,739.75 L446.32,740.81 L446.1,741.87 L445.87,742.93 L445.61,743.99 L445.33,745.05 L445.03,746.11 L444.71,747.17 L444.37,748.23 L444.01,749.29 L443.63,750.35 L443.24,751.41 L442.83,752.47 L442.42,753.53 L442.01,754.59 L441.61,755.65 L441.23,756.71 L440.9,757.77 L440.64,758.84 L440.6,759.9 L440.82,760.96 L441.29,762.02 L441.98,763.08 L442.86,764.14 L443.84,765.2 L444.85,766.26 L445.82,767.32 L446.69,768.38 L447.42,769.44 L448,770.5Z" fill="#5ec0ee" stroke="#2b2b2b" stroke-width="0.5"/>
<path d="M479.5,772.9 L479.69,771.27 L479.91,769.64 L480.16,768.01 L480.44,766.38 L480.74,764.75 L481.07,763.12 L481.41,761.5 L481.76,759.87 L482.1,758.24 L482.43,756.61 L482.74,754.98 L483.01,753.35 L483.25,751.72 L483.44,750.09 L483.57,748.46 L483.66,746.83 L483.7,745.2 L483.65,743.58 L483.46,741.95 L483.22,740.32 L482.96,738.69 L482.69,737.06 L482.41,735.43 L482.14,733.8 L481.88,732.17 L481.64,730.54 L481.4,728.91 L481.19,727.28 L480.99,725.65 L480.8,724.02 L480.64,722.4 L480.48,720.77 L480.35,719.14 L480.23,717.51 L480.12,715.88 L480.02,714.25 L479.95,712.62 L479.92,710.99 L479.89,709.36 L479.86,707.73 L479.82,706.1 L479.78,704.48 L479.74,702.85 L479.7,701.22 L479.65,699.59 L479.6,697.96 L479.55,696.33 L479.5,694.7 L479.5,694.7 L479.45,696.33 L479.4,697.96 L479.35,699.59 L479.3,701.22 L479.26,702.85 L479.22,704.48 L479.18,706.1 L479.14,707.73 L479.11,709.36 L479.08,710.99 L479.05,712.62 L478.98,714.25 L478.88,715.88 L478.77,717.51 L478.65,719.14 L478.52,720.77 L478.36,722.4 L478.2,724.02 L478.01,725.65 L477.81,727.28 L477.6,728.91 L477.36,730.54 L477.12,732.17 L476.86,733.8 L476.59,735.43 L476.31,737.06 L476.04,738.69 L475.78,740.32 L475.54,741.95 L475.35,743.58 L475.3,745.2 L475.34,746.83 L475.43,748.46 L475.56,750.09 L475.75,751.72 L475.99,753.35 L476.26,754.98 L476.57,756.61 L476.9,758.24 L477.24,759.87 L477.59,761.5 L477.93,763.12 L478.26,764.75 L478.56,766.38 L478.84,768.01 L479.09,769.64 L479.31,771.27 L479.5,772.9Z" fill="#79c27e" stroke="#2b2b2b" stroke-width="0.5"/>
<line x1="383.9" y1="768" x2="383.9" y2="742" stroke="#111" stroke-width="0.6"/>
<rect x="380.9" y="754.3" width="6" height="5" fill="#fff" stroke="#111" stroke-width="0.6"/>
<line x1="380.9" y1="756.8" x2="386.9" y2="756.8" stroke="#111" stroke-width="0.85"/>
<line x1="416.5" y1="769" x2="416.5" y2="733" stroke="#111" stroke-width="0.6"/>
<rect x="413.5" y="750.6" width="6" height="9.2" fill="#fff" stroke="#111" stroke-width="0.6"/>
<line x1="413.5" y1="755" x2="419.5" y2="755" stroke="#111" stroke-width="0.85"/>
<line x1="448" y1="770" x2="448" y2="718" stroke="#111" stroke-width="0.6"/>
<rect x="445" y="746.9" width="6" height="12.9" fill="#fff" stroke="#111" stroke-width="0.6"/>
<line x1="445" y1="753" x2="451" y2="753" stroke="#111" stroke-width="0.85"/>
<line x1="479.5" y1="773" x2="479.5" y2="690" stroke="#111" stroke-width="0.6"/>
<rect x="476.5" y="734" width="6" height="19.1" fill="#fff" stroke="#111" stroke-width="0.6"/>
<line x1="476.5" y1="744.4" x2="482.5" y2="744.4" stroke="#111" stroke-width="0.85"/>
<line x1="383.9" y1="730.7" x2="416.5" y2="730.7" stroke="#777" stroke-width="0.6"/>
<text x="400.2" y="732.4" font-size="6.4" text-anchor="middle" fill="#222" font-weight="bold">***</text>
<line x1="416.5" y1="721.3" x2="448" y2="721.3" stroke="#777" stroke-width="0.6"/>
<text x="432.25" y="723" font-size="6.4" text-anchor="middle" fill="#222" font-weight="bold">***</text>
<line x1="383.9" y1="703.4" x2="448" y2="703.4" stroke="#777" stroke-width="0.6"/>
<text x="415.95" y="705.1" font-size="6.4" text-anchor="middle" fill="#222" font-weight="bold">***</text>
<line x1="448" y1="712.1" x2="479.5" y2="712.1" stroke="#777" stroke-width="0.6"/>
<text x="463.75" y="713.8" font-size="6.4" text-anchor="middle" fill="#222" font-weight="bold">***</text>
<line x1="416.5" y1="694" x2="479.5" y2="694" stroke="#777" stroke-width="0.6"/>
<text x="448" y="695.7" font-size="6.4" text-anchor="middle" fill="#222" font-weight="bold">***</text>
<line x1="383.9" y1="684.8" x2="479.5" y2="684.8" stroke="#777" stroke-width="0.6"/>
<text x="431.7" y="686.5" font-size="6.4" text-anchor="middle" fill="#222" font-weight="bold">***</text>
<rect x="366.8" y="674.1" width="131.3" height="99.9" fill="none" stroke="#333" stroke-width="0.9"/>
<line x1="364.8" y1="765.5" x2="366.8" y2="765.5" stroke="#555" stroke-width="0.7"/>
<text x="365.1" y="768.52" font-size="8.4" text-anchor="end" fill="#555" font-weight="normal" stroke="#555" stroke-width="0.08">0</text>
<line x1="364.8" y1="744.9" x2="366.8" y2="744.9" stroke="#555" stroke-width="0.7"/>
<text x="365.1" y="747.92" font-size="8.4" text-anchor="end" fill="#555" font-weight="normal" stroke="#555" stroke-width="0.08">1</text>
<line x1="364.8" y1="724" x2="366.8" y2="724" stroke="#555" stroke-width="0.7"/>
<text x="365.1" y="727.02" font-size="8.4" text-anchor="end" fill="#555" font-weight="normal" stroke="#555" stroke-width="0.08">2</text>
<line x1="364.8" y1="703.4" x2="366.8" y2="703.4" stroke="#555" stroke-width="0.7"/>
<text x="365.1" y="706.42" font-size="8.4" text-anchor="end" fill="#555" font-weight="normal" stroke="#555" stroke-width="0.08">3</text>
<line x1="364.8" y1="682.3" x2="366.8" y2="682.3" stroke="#555" stroke-width="0.7"/>
<text x="365.1" y="685.32" font-size="8.4" text-anchor="end" fill="#555" font-weight="normal" stroke="#555" stroke-width="0.08">4</text>
<text x="355" y="724.05" font-size="8.4" text-anchor="middle" fill="#333" font-weight="normal" stroke="#333" stroke-width="0.08" transform="rotate(-90 355 724.05)" dominant-baseline="central">MON (×10⁹/L)</text>
<rect x="366.8" y="778.7" width="131.3" height="99.8" fill="#fff" stroke="none" stroke-width="1"/>
<path d="M387.2,870.5 L387.74,870.05 L388.35,869.6 L389.03,869.15 L389.79,868.7 L390.61,868.25 L391.49,867.8 L392.42,867.35 L393.4,866.9 L394.4,866.45 L395.41,866 L396.41,865.55 L397.39,865.1 L398.33,864.65 L399.2,864.2 L400,863.75 L400.71,863.3 L401.31,862.85 L401.8,862.4 L402.17,861.95 L402.42,861.5 L402.56,861.05 L402.6,860.6 L401.89,860.15 L400.8,859.7 L399.57,859.25 L398.3,858.8 L397.04,858.35 L395.83,857.9 L394.7,857.45 L393.66,857 L392.72,856.55 L391.88,856.1 L391.13,855.65 L390.48,855.2 L389.91,854.75 L389.43,854.3 L389.04,853.85 L388.93,853.4 L388.81,852.95 L388.68,852.5 L388.54,852.05 L388.39,851.6 L388.22,851.15 L388.04,850.7 L387.85,850.25 L387.65,849.8 L387.43,849.35 L387.2,848.9 L387.2,848.9 L386.97,849.35 L386.75,849.8 L386.55,850.25 L386.36,850.7 L386.18,851.15 L386.01,851.6 L385.86,852.05 L385.72,852.5 L385.59,852.95 L385.47,853.4 L385.36,853.85 L384.97,854.3 L384.49,854.75 L383.92,855.2 L383.27,855.65 L382.52,856.1 L381.68,856.55 L380.74,857 L379.7,857.45 L378.57,857.9 L377.36,858.35 L376.1,858.8 L374.83,859.25 L373.6,859.7 L372.51,860.15 L371.8,860.6 L371.84,861.05 L371.98,861.5 L372.23,861.95 L372.6,862.4 L373.09,862.85 L373.69,863.3 L374.4,863.75 L375.2,864.2 L376.07,864.65 L377.01,865.1 L377.99,865.55 L378.99,866 L380,866.45 L381,866.9 L381.98,867.35 L382.91,867.8 L383.79,868.25 L384.61,868.7 L385.37,869.15 L386.05,869.6 L386.66,870.05 L387.2,870.5Z" fill="#4e9a70" stroke="#2b2b2b" stroke-width="0.5"/>
<path d="M418.2,873 L418.65,872.35 L419.18,871.71 L419.77,871.06 L420.42,870.42 L421.14,869.77 L421.91,869.12 L422.72,868.48 L423.56,867.83 L424.4,867.19 L425.23,866.54 L426.03,865.9 L426.78,865.25 L427.45,864.6 L428.05,863.96 L428.54,863.31 L428.92,862.67 L429.19,862.02 L429.34,861.38 L429.4,860.73 L429.08,860.08 L428.44,859.44 L427.67,858.79 L426.86,858.15 L426.04,857.5 L425.23,856.85 L424.46,856.21 L423.73,855.56 L423.05,854.92 L422.42,854.27 L421.86,853.62 L421.35,852.98 L420.89,852.33 L420.48,851.69 L420.13,851.04 L419.81,850.4 L419.54,849.75 L419.45,849.1 L419.38,848.46 L419.29,847.81 L419.2,847.17 L419.1,846.52 L418.99,845.88 L418.88,845.23 L418.76,844.58 L418.63,843.94 L418.5,843.29 L418.35,842.65 L418.2,842 L418.2,842 L418.05,842.65 L417.9,843.29 L417.77,843.94 L417.64,844.58 L417.52,845.23 L417.41,845.88 L417.3,846.52 L417.2,847.17 L417.11,847.81 L417.02,848.46 L416.95,849.1 L416.86,849.75 L416.59,850.4 L416.27,851.04 L415.92,851.69 L415.51,852.33 L415.05,852.98 L414.54,853.62 L413.98,854.27 L413.35,854.92 L412.67,855.56 L411.94,856.21 L411.17,856.85 L410.36,857.5 L409.54,858.15 L408.73,858.79 L407.96,859.44 L407.32,860.08 L407,860.73 L407.06,861.38 L407.21,862.02 L407.48,862.67 L407.86,863.31 L408.35,863.96 L408.95,864.6 L409.62,865.25 L410.37,865.9 L411.17,866.54 L412,867.19 L412.84,867.83 L413.68,868.48 L414.49,869.12 L415.26,869.77 L415.98,870.42 L416.63,871.06 L417.22,871.71 L417.75,872.35 L418.2,873Z" fill="#8a72c0" stroke="#2b2b2b" stroke-width="0.5"/>
<path d="M448.7,873 L449,872.09 L449.34,871.17 L449.73,870.26 L450.17,869.34 L450.64,868.43 L451.15,867.51 L451.68,866.6 L452.23,865.68 L452.79,864.77 L453.33,863.85 L453.85,862.94 L454.34,862.02 L454.78,861.11 L455.16,860.2 L455.48,859.28 L455.72,858.37 L455.88,857.45 L455.97,856.54 L456,855.62 L455.73,854.71 L455.29,853.79 L454.79,852.88 L454.26,851.96 L453.73,851.05 L453.21,850.14 L452.71,849.22 L452.24,848.31 L451.81,847.39 L451.41,846.48 L451.05,845.56 L450.72,844.65 L450.43,843.73 L450.17,842.82 L449.94,841.9 L449.74,840.99 L449.56,840.08 L449.51,839.16 L449.46,838.25 L449.41,837.33 L449.35,836.42 L449.28,835.5 L449.21,834.59 L449.14,833.67 L449.06,832.76 L448.98,831.84 L448.89,830.93 L448.8,830.01 L448.7,829.1 L448.7,829.1 L448.6,830.01 L448.51,830.93 L448.42,831.84 L448.34,832.76 L448.26,833.67 L448.19,834.59 L448.12,835.5 L448.05,836.42 L447.99,837.33 L447.94,838.25 L447.89,839.16 L447.84,840.08 L447.66,840.99 L447.46,841.9 L447.23,842.82 L446.97,843.73 L446.68,844.65 L446.35,845.56 L445.99,846.48 L445.59,847.39 L445.16,848.31 L444.69,849.22 L444.19,850.14 L443.67,851.05 L443.14,851.96 L442.61,852.88 L442.11,853.79 L441.67,854.71 L441.4,855.62 L441.43,856.54 L441.52,857.45 L441.68,858.37 L441.92,859.28 L442.24,860.2 L442.62,861.11 L443.06,862.02 L443.55,862.94 L444.07,863.85 L444.61,864.77 L445.17,865.68 L445.72,866.6 L446.25,867.51 L446.76,868.43 L447.23,869.34 L447.67,870.26 L448.06,871.17 L448.4,872.09 L448.7,873Z" fill="#5ec0ee" stroke="#2b2b2b" stroke-width="0.5"/>
<path d="M479.7,878 L479.85,876.32 L480.02,874.64 L480.2,872.96 L480.41,871.27 L480.63,869.59 L480.87,867.91 L481.13,866.23 L481.39,864.55 L481.67,862.87 L481.95,861.19 L482.23,859.51 L482.51,857.83 L482.78,856.14 L483.04,854.46 L483.28,852.78 L483.51,851.1 L483.71,849.42 L483.88,847.74 L484.02,846.06 L484.14,844.38 L484.22,842.69 L484.28,841.01 L484.3,839.33 L484.25,837.65 L483.98,835.97 L483.64,834.29 L483.27,832.61 L482.9,830.92 L482.53,829.24 L482.18,827.56 L481.85,825.88 L481.55,824.2 L481.28,822.52 L481.04,820.84 L480.82,819.16 L480.63,817.47 L480.47,815.79 L480.33,814.11 L480.2,812.43 L480.16,810.75 L480.12,809.07 L480.07,807.39 L480.02,805.71 L479.97,804.02 L479.91,802.34 L479.84,800.66 L479.77,798.98 L479.7,797.3 L479.7,797.3 L479.63,798.98 L479.56,800.66 L479.49,802.34 L479.43,804.02 L479.38,805.71 L479.33,807.39 L479.28,809.07 L479.24,810.75 L479.2,812.43 L479.07,814.11 L478.93,815.79 L478.77,817.47 L478.58,819.16 L478.36,820.84 L478.12,822.52 L477.85,824.2 L477.55,825.88 L477.22,827.56 L476.87,829.24 L476.5,830.92 L476.13,832.61 L475.76,834.29 L475.42,835.97 L475.15,837.65 L475.1,839.33 L475.12,841.01 L475.18,842.69 L475.26,844.38 L475.38,846.06 L475.52,847.74 L475.69,849.42 L475.89,851.1 L476.12,852.78 L476.36,854.46 L476.62,856.14 L476.89,857.83 L477.17,859.51 L477.45,861.19 L477.73,862.87 L478.01,864.55 L478.27,866.23 L478.53,867.91 L478.77,869.59 L478.99,871.27 L479.2,872.96 L479.38,874.64 L479.55,876.32 L479.7,878Z" fill="#79c27e" stroke="#2b2b2b" stroke-width="0.5"/>
<line x1="387.2" y1="870" x2="387.2" y2="849" stroke="#111" stroke-width="0.6"/>
<rect x="384.2" y="858.1" width="6" height="5.7" fill="#fff" stroke="#111" stroke-width="0.6"/>
<line x1="384.2" y1="861" x2="390.2" y2="861" stroke="#111" stroke-width="0.85"/>
<line x1="418.2" y1="873" x2="418.2" y2="842" stroke="#111" stroke-width="0.6"/>
<rect x="415.2" y="855.6" width="6" height="8.2" fill="#fff" stroke="#111" stroke-width="0.6"/>
<line x1="415.2" y1="859.5" x2="421.2" y2="859.5" stroke="#111" stroke-width="0.85"/>
<line x1="448.7" y1="873" x2="448.7" y2="829" stroke="#111" stroke-width="0.6"/>
<rect x="445.7" y="850.7" width="6" height="12.4" fill="#fff" stroke="#111" stroke-width="0.6"/>
<line x1="445.7" y1="856" x2="451.7" y2="856" stroke="#111" stroke-width="0.85"/>
<line x1="479.7" y1="878" x2="479.7" y2="797" stroke="#111" stroke-width="0.6"/>
<rect x="476.7" y="832" width="6" height="21.1" fill="#fff" stroke="#111" stroke-width="0.6"/>
<line x1="476.7" y1="840.7" x2="482.7" y2="840.7" stroke="#111" stroke-width="0.85"/>
<line x1="387.2" y1="830.8" x2="418.2" y2="830.8" stroke="#777" stroke-width="0.6"/>
<text x="402.7" y="832.5" font-size="6.4" text-anchor="middle" fill="#222" font-weight="bold">***</text>
<line x1="418.2" y1="821.6" x2="448.7" y2="821.6" stroke="#777" stroke-width="0.6"/>
<text x="433.45" y="823.3" font-size="6.4" text-anchor="middle" fill="#222" font-weight="bold">***</text>
<line x1="387.2" y1="803" x2="448.7" y2="803" stroke="#777" stroke-width="0.6"/>
<text x="417.95" y="804.7" font-size="6.4" text-anchor="middle" fill="#222" font-weight="bold">***</text>
<line x1="448.7" y1="812.2" x2="479.7" y2="812.2" stroke="#777" stroke-width="0.6"/>
<text x="464.2" y="813.9" font-size="6.4" text-anchor="middle" fill="#222" font-weight="bold">***</text>
<line x1="418.2" y1="794.3" x2="479.7" y2="794.3" stroke="#777" stroke-width="0.6"/>
<text x="448.95" y="796" font-size="6.4" text-anchor="middle" fill="#222" font-weight="bold">***</text>
<line x1="387.2" y1="785.4" x2="479.7" y2="785.4" stroke="#777" stroke-width="0.6"/>
<text x="433.45" y="787.1" font-size="6.4" text-anchor="middle" fill="#222" font-weight="bold">***</text>
<rect x="366.8" y="778.7" width="131.3" height="99.8" fill="none" stroke="#333" stroke-width="0.9"/>
<line x1="364.8" y1="870.5" x2="366.8" y2="870.5" stroke="#555" stroke-width="0.7"/>
<text x="365.1" y="873.52" font-size="8.4" text-anchor="end" fill="#555" font-weight="normal" stroke="#555" stroke-width="0.08">0</text>
<line x1="364.8" y1="849.4" x2="366.8" y2="849.4" stroke="#555" stroke-width="0.7"/>
<text x="365.1" y="852.42" font-size="8.4" text-anchor="end" fill="#555" font-weight="normal" stroke="#555" stroke-width="0.08">20</text>
<line x1="364.8" y1="828.3" x2="366.8" y2="828.3" stroke="#555" stroke-width="0.7"/>
<text x="365.1" y="831.32" font-size="8.4" text-anchor="end" fill="#555" font-weight="normal" stroke="#555" stroke-width="0.08">40</text>
<line x1="364.8" y1="807.2" x2="366.8" y2="807.2" stroke="#555" stroke-width="0.7"/>
<text x="365.1" y="810.22" font-size="8.4" text-anchor="end" fill="#555" font-weight="normal" stroke="#555" stroke-width="0.08">60</text>
<line x1="364.8" y1="786.9" x2="366.8" y2="786.9" stroke="#555" stroke-width="0.7"/>
<text x="365.1" y="789.92" font-size="8.4" text-anchor="end" fill="#555" font-weight="normal" stroke="#555" stroke-width="0.08">80</text>
<text x="351.2" y="828.6" font-size="8.4" text-anchor="middle" fill="#333" font-weight="normal" stroke="#333" stroke-width="0.08" transform="rotate(-90 351.2 828.6)" dominant-baseline="central">WBC (×10⁹/L)</text>
<rect x="542.4" y="674.6" width="127.3" height="98.6" fill="#fff" stroke="none" stroke-width="1"/>
<path d="M560.3,764.8 L560.85,763.5 L561.49,762.19 L562.22,760.89 L563.04,759.58 L563.93,758.28 L564.89,756.97 L565.89,755.67 L566.9,754.37 L567.91,753.06 L568.88,751.76 L569.79,750.45 L570.61,749.15 L571.31,747.85 L571.87,746.54 L572.3,745.24 L572.57,743.93 L572.7,742.63 L572.61,741.33 L572.07,740.02 L571.36,738.72 L570.57,737.41 L569.74,736.11 L568.91,734.8 L568.1,733.5 L567.31,732.2 L566.56,730.89 L565.86,729.59 L565.21,728.28 L564.61,726.98 L564.07,725.67 L563.57,724.37 L563.13,723.07 L562.73,721.76 L562.37,720.46 L562.06,719.15 L561.78,717.85 L561.64,716.55 L561.56,715.24 L561.46,713.94 L561.36,712.63 L561.26,711.33 L561.14,710.03 L561.02,708.72 L560.89,707.42 L560.76,706.11 L560.61,704.81 L560.46,703.5 L560.3,702.2 L560.3,702.2 L560.14,703.5 L559.99,704.81 L559.84,706.11 L559.71,707.42 L559.58,708.72 L559.46,710.03 L559.34,711.33 L559.24,712.63 L559.14,713.94 L559.04,715.24 L558.96,716.55 L558.82,717.85 L558.54,719.15 L558.23,720.46 L557.87,721.76 L557.47,723.07 L557.03,724.37 L556.53,725.67 L555.99,726.98 L555.39,728.28 L554.74,729.59 L554.04,730.89 L553.29,732.2 L552.5,733.5 L551.69,734.8 L550.86,736.11 L550.03,737.41 L549.24,738.72 L548.53,740.02 L547.99,741.33 L547.9,742.63 L548.03,743.93 L548.3,745.24 L548.73,746.54 L549.29,747.85 L549.99,749.15 L550.81,750.45 L551.72,751.76 L552.69,753.06 L553.7,754.37 L554.71,755.67 L555.71,756.97 L556.67,758.28 L557.56,759.58 L558.38,760.89 L559.11,762.19 L559.75,763.5 L560.3,764.8Z" fill="#4e9a70" stroke="#2b2b2b" stroke-width="0.5"/>
<path d="M590.5,758.4 L590.8,757.1 L591.12,755.79 L591.48,754.49 L591.86,753.18 L592.28,751.88 L592.72,750.57 L593.19,749.27 L593.69,747.97 L594.21,746.66 L594.74,745.36 L595.29,744.05 L595.85,742.75 L596.41,741.45 L596.98,740.14 L597.54,738.84 L598.08,737.53 L598.61,736.23 L599.11,734.92 L599.59,733.62 L600.03,732.32 L600.43,731.01 L600.8,729.71 L601.11,728.4 L601.38,727.1 L601.6,725.8 L601.77,724.49 L601.89,723.19 L601.97,721.88 L602,720.58 L601.98,719.27 L601.8,717.97 L601.47,716.67 L600.98,715.36 L600.37,714.06 L599.65,712.75 L598.85,711.45 L598,710.15 L597.11,708.84 L596.22,707.54 L595.35,706.23 L594.52,704.93 L593.73,703.62 L593.01,702.32 L592.36,701.02 L591.79,699.71 L591.29,698.41 L590.86,697.1 L590.5,695.8 L590.5,695.8 L590.14,697.1 L589.71,698.41 L589.21,699.71 L588.64,701.02 L587.99,702.32 L587.27,703.62 L586.48,704.93 L585.65,706.23 L584.78,707.54 L583.89,708.84 L583,710.15 L582.15,711.45 L581.35,712.75 L580.63,714.06 L580.02,715.36 L579.53,716.67 L579.2,717.97 L579.02,719.27 L579,720.58 L579.03,721.88 L579.11,723.19 L579.23,724.49 L579.4,725.8 L579.62,727.1 L579.89,728.4 L580.2,729.71 L580.57,731.01 L580.97,732.32 L581.41,733.62 L581.89,734.92 L582.39,736.23 L582.92,737.53 L583.46,738.84 L584.02,740.14 L584.59,741.45 L585.15,742.75 L585.71,744.05 L586.26,745.36 L586.79,746.66 L587.31,747.97 L587.81,749.27 L588.28,750.57 L588.72,751.88 L589.14,753.18 L589.52,754.49 L589.88,755.79 L590.2,757.1 L590.5,758.4Z" fill="#8a72c0" stroke="#2b2b2b" stroke-width="0.5"/>
<path d="M620.5,743 L620.98,742.02 L621.52,741.03 L622.12,740.05 L622.79,739.07 L623.52,738.08 L624.3,737.1 L625.13,736.12 L625.99,735.13 L626.88,734.15 L627.78,733.17 L628.67,732.18 L629.54,731.2 L630.37,730.22 L631.15,729.23 L631.86,728.25 L632.49,727.27 L633.03,726.28 L633.47,725.3 L633.8,724.32 L634.03,723.33 L634.16,722.35 L634.2,721.37 L634.15,720.38 L633.99,719.4 L633.72,718.42 L633.35,717.43 L632.89,716.45 L632.34,715.47 L631.72,714.48 L631.04,713.5 L630.31,712.52 L629.55,711.53 L628.77,710.55 L627.99,709.57 L627.21,708.58 L626.44,707.6 L625.71,706.62 L625,705.63 L624.34,704.65 L623.72,703.67 L623.15,702.68 L622.62,701.7 L622.15,700.72 L621.73,699.73 L621.36,698.75 L621.03,697.77 L620.75,696.78 L620.5,695.8 L620.5,695.8 L620.25,696.78 L619.97,697.77 L619.64,698.75 L619.27,699.73 L618.85,700.72 L618.38,701.7 L617.85,702.68 L617.28,703.67 L616.66,704.65 L616,705.63 L615.29,706.62 L614.56,707.6 L613.79,708.58 L613.01,709.57 L612.23,710.55 L611.45,711.53 L610.69,712.52 L609.96,713.5 L609.28,714.48 L608.66,715.47 L608.11,716.45 L607.65,717.43 L607.28,718.42 L607.01,719.4 L606.85,720.38 L606.8,721.37 L606.84,722.35 L606.97,723.33 L607.2,724.32 L607.53,725.3 L607.97,726.28 L608.51,727.27 L609.14,728.25 L609.85,729.23 L610.63,730.22 L611.46,731.2 L612.33,732.18 L613.22,733.17 L614.12,734.15 L615.01,735.13 L615.87,736.12 L616.7,737.1 L617.48,738.08 L618.21,739.07 L618.88,740.05 L619.48,741.03 L620.02,742.02 L620.5,743Z" fill="#5ec0ee" stroke="#2b2b2b" stroke-width="0.5"/>
<path d="M650.9,741.8 L651.24,740.74 L651.61,739.67 L652.01,738.61 L652.44,737.54 L652.9,736.48 L653.4,735.41 L653.92,734.35 L654.46,733.28 L655.04,732.22 L655.63,731.15 L656.24,730.09 L656.87,729.02 L657.52,727.96 L658.17,726.9 L658.82,725.83 L659.47,724.77 L660.12,723.7 L660.75,722.64 L661.37,721.57 L661.96,720.51 L662.53,719.44 L663.07,718.38 L663.58,717.31 L664.04,716.25 L664.46,715.19 L664.84,714.12 L665.17,713.06 L665.44,711.99 L665.67,710.93 L665.85,709.86 L665.98,708.8 L666.06,707.73 L666.1,706.67 L666.09,705.6 L665.92,704.54 L665.5,703.48 L664.81,702.41 L663.88,701.35 L662.73,700.28 L661.4,699.22 L659.95,698.15 L658.45,697.09 L656.94,696.02 L655.49,694.96 L654.13,693.89 L652.9,692.83 L651.82,691.76 L650.9,690.7 L650.9,690.7 L649.98,691.76 L648.9,692.83 L647.67,693.89 L646.31,694.96 L644.86,696.02 L643.35,697.09 L641.85,698.15 L640.4,699.22 L639.07,700.28 L637.92,701.35 L636.99,702.41 L636.3,703.48 L635.88,704.54 L635.71,705.6 L635.7,706.67 L635.74,707.73 L635.82,708.8 L635.95,709.86 L636.13,710.93 L636.36,711.99 L636.63,713.06 L636.96,714.12 L637.34,715.19 L637.76,716.25 L638.22,717.31 L638.73,718.38 L639.27,719.44 L639.84,720.51 L640.43,721.57 L641.05,722.64 L641.68,723.7 L642.33,724.77 L642.98,725.83 L643.63,726.9 L644.28,727.96 L644.93,729.02 L645.56,730.09 L646.17,731.15 L646.76,732.22 L647.34,733.28 L647.88,734.35 L648.4,735.41 L648.9,736.48 L649.36,737.54 L649.79,738.61 L650.19,739.67 L650.56,740.74 L650.9,741.8Z" fill="#79c27e" stroke="#2b2b2b" stroke-width="0.5"/>
<line x1="560.3" y1="772" x2="560.3" y2="698" stroke="#111" stroke-width="0.6"/>
<rect x="557.3" y="732.8" width="6" height="16.6" fill="#fff" stroke="#111" stroke-width="0.6"/>
<line x1="557.3" y1="741.2" x2="563.3" y2="741.2" stroke="#111" stroke-width="0.85"/>
<line x1="590.5" y1="765" x2="590.5" y2="694" stroke="#111" stroke-width="0.6"/>
<rect x="587.5" y="714.2" width="6" height="17.8" fill="#fff" stroke="#111" stroke-width="0.6"/>
<line x1="587.5" y1="722.1" x2="593.5" y2="722.1" stroke="#111" stroke-width="0.85"/>
<line x1="620.5" y1="757" x2="620.5" y2="694" stroke="#111" stroke-width="0.6"/>
<rect x="617.5" y="711.1" width="6" height="15.9" fill="#fff" stroke="#111" stroke-width="0.6"/>
<line x1="617.5" y1="719.3" x2="623.5" y2="719.3" stroke="#111" stroke-width="0.85"/>
<line x1="650.9" y1="750" x2="650.9" y2="688" stroke="#111" stroke-width="0.6"/>
<rect x="647.9" y="705.5" width="6" height="17.1" fill="#fff" stroke="#111" stroke-width="0.6"/>
<line x1="647.9" y1="711.1" x2="653.9" y2="711.1" stroke="#111" stroke-width="0.85"/>
<line x1="560.3" y1="699.1" x2="590.5" y2="699.1" stroke="#777" stroke-width="0.6"/>
<text x="575.4" y="700.8" font-size="6.4" text-anchor="middle" fill="#222" font-weight="bold">***</text>
<line x1="590.5" y1="695" x2="620.5" y2="695" stroke="#777" stroke-width="0.6"/>
<text x="605.5" y="696.7" font-size="6.4" text-anchor="middle" fill="#222" font-weight="bold">***</text>
<line x1="620.5" y1="690.7" x2="650.9" y2="690.7" stroke="#777" stroke-width="0.6"/>
<text x="635.7" y="692.4" font-size="6.4" text-anchor="middle" fill="#222" font-weight="bold">****</text>
<line x1="560.3" y1="686.1" x2="620.5" y2="686.1" stroke="#777" stroke-width="0.6"/>
<text x="590.4" y="687.8" font-size="6.4" text-anchor="middle" fill="#222" font-weight="bold">***</text>
<line x1="590.5" y1="682.2" x2="650.9" y2="682.2" stroke="#777" stroke-width="0.6"/>
<text x="620.7" y="683.9" font-size="6.4" text-anchor="middle" fill="#222" font-weight="bold">***</text>
<line x1="560.3" y1="677.4" x2="650.9" y2="677.4" stroke="#777" stroke-width="0.6"/>
<text x="605.6" y="679.1" font-size="6.4" text-anchor="middle" fill="#222" font-weight="bold">***</text>
<rect x="542.4" y="674.6" width="127.3" height="98.6" fill="none" stroke="#333" stroke-width="0.9"/>
<line x1="540.4" y1="756.3" x2="542.4" y2="756.3" stroke="#555" stroke-width="0.7"/>
<text x="540.7" y="759.32" font-size="8.4" text-anchor="end" fill="#555" font-weight="normal" stroke="#555" stroke-width="0.08">25</text>
<line x1="540.4" y1="735.4" x2="542.4" y2="735.4" stroke="#555" stroke-width="0.7"/>
<text x="540.7" y="738.42" font-size="8.4" text-anchor="end" fill="#555" font-weight="normal" stroke="#555" stroke-width="0.08">50</text>
<line x1="540.4" y1="714.2" x2="542.4" y2="714.2" stroke="#555" stroke-width="0.7"/>
<text x="540.7" y="717.22" font-size="8.4" text-anchor="end" fill="#555" font-weight="normal" stroke="#555" stroke-width="0.08">75</text>
<line x1="540.4" y1="693.2" x2="542.4" y2="693.2" stroke="#555" stroke-width="0.7"/>
<text x="540.7" y="696.22" font-size="8.4" text-anchor="end" fill="#555" font-weight="normal" stroke="#555" stroke-width="0.08">100</text>
<text x="522.8" y="723.9" font-size="8.4" text-anchor="middle" fill="#333" font-weight="normal" stroke="#333" stroke-width="0.08" transform="rotate(-90 522.8 723.9)" dominant-baseline="central">Age</text>
<rect x="542.4" y="778.4" width="127.3" height="99.7" fill="#fff" stroke="none" stroke-width="1"/>
<path d="M560.3,870.9 L560.7,869.14 L561.17,867.39 L561.69,865.63 L562.27,863.88 L562.91,862.12 L563.59,860.36 L564.3,858.61 L565.05,856.85 L565.8,855.09 L566.54,853.34 L567.26,851.58 L567.94,849.83 L568.56,848.07 L569.12,846.31 L569.58,844.56 L569.96,842.8 L570.24,841.04 L570.41,839.29 L570.5,837.53 L570.42,835.77 L569.93,834.02 L569.29,832.26 L568.59,830.51 L567.86,828.75 L567.13,826.99 L566.42,825.24 L565.75,823.48 L565.11,821.73 L564.52,819.97 L563.98,818.21 L563.49,816.46 L563.04,814.7 L562.65,812.94 L562.29,811.19 L561.98,809.43 L561.71,807.67 L561.47,805.92 L561.38,804.16 L561.3,802.41 L561.22,800.65 L561.13,798.89 L561.03,797.14 L560.93,795.38 L560.82,793.62 L560.7,791.87 L560.57,790.11 L560.44,788.36 L560.3,786.6 L560.3,786.6 L560.16,788.36 L560.03,790.11 L559.9,791.87 L559.78,793.62 L559.67,795.38 L559.57,797.14 L559.47,798.89 L559.38,800.65 L559.3,802.41 L559.22,804.16 L559.13,805.92 L558.89,807.67 L558.62,809.43 L558.31,811.19 L557.95,812.94 L557.56,814.7 L557.11,816.46 L556.62,818.21 L556.08,819.97 L555.49,821.73 L554.85,823.48 L554.18,825.24 L553.47,826.99 L552.74,828.75 L552.01,830.51 L551.31,832.26 L550.67,834.02 L550.18,835.77 L550.1,837.53 L550.19,839.29 L550.36,841.04 L550.64,842.8 L551.02,844.56 L551.48,846.31 L552.04,848.07 L552.66,849.83 L553.34,851.58 L554.06,853.34 L554.8,855.09 L555.55,856.85 L556.3,858.61 L557.01,860.36 L557.69,862.12 L558.33,863.88 L558.91,865.63 L559.43,867.39 L559.9,869.14 L560.3,870.9Z" fill="#4e9a70" stroke="#2b2b2b" stroke-width="0.5"/>
<path d="M590.5,873.5 L590.92,871.88 L591.4,870.25 L591.94,868.62 L592.54,867 L593.2,865.38 L593.91,863.75 L594.65,862.12 L595.42,860.5 L596.2,858.88 L596.97,857.25 L597.72,855.62 L598.42,854 L599.07,852.38 L599.64,850.75 L600.13,849.12 L600.53,847.5 L600.82,845.88 L601.01,844.25 L601.1,842.62 L601.04,841 L600.54,839.38 L599.88,837.75 L599.15,836.12 L598.39,834.5 L597.63,832.88 L596.89,831.25 L596.19,829.62 L595.52,828 L594.91,826.38 L594.34,824.75 L593.83,823.12 L593.36,821.5 L592.95,819.88 L592.58,818.25 L592.25,816.62 L591.97,815 L591.72,813.38 L591.63,811.75 L591.55,810.12 L591.46,808.5 L591.36,806.88 L591.26,805.25 L591.15,803.62 L591.04,802 L590.91,800.38 L590.78,798.75 L590.65,797.12 L590.5,795.5 L590.5,795.5 L590.35,797.12 L590.22,798.75 L590.09,800.38 L589.96,802 L589.85,803.62 L589.74,805.25 L589.64,806.88 L589.54,808.5 L589.45,810.12 L589.37,811.75 L589.28,813.38 L589.03,815 L588.75,816.62 L588.42,818.25 L588.05,819.88 L587.64,821.5 L587.17,823.12 L586.66,824.75 L586.09,826.38 L585.48,828 L584.81,829.62 L584.11,831.25 L583.37,832.88 L582.61,834.5 L581.85,836.12 L581.12,837.75 L580.46,839.38 L579.96,841 L579.9,842.62 L579.99,844.25 L580.18,845.88 L580.47,847.5 L580.87,849.12 L581.36,850.75 L581.93,852.38 L582.58,854 L583.28,855.62 L584.03,857.25 L584.8,858.88 L585.58,860.5 L586.35,862.12 L587.09,863.75 L587.8,865.38 L588.46,867 L589.06,868.62 L589.6,870.25 L590.08,871.88 L590.5,873.5Z" fill="#8a72c0" stroke="#2b2b2b" stroke-width="0.5"/>
<path d="M620.5,873.5 L621.46,872.01 L622.65,870.52 L624.07,869.02 L625.66,867.53 L627.33,866.04 L628.99,864.55 L630.52,863.06 L631.8,861.57 L632.75,860.08 L633.31,858.58 L633.5,857.09 L633.22,855.6 L632.7,854.11 L632.08,852.62 L631.4,851.12 L630.69,849.63 L629.98,848.14 L629.26,846.65 L628.56,845.16 L627.89,843.67 L627.24,842.17 L626.62,840.68 L626.04,839.19 L625.49,837.7 L624.98,836.21 L624.51,834.72 L624.07,833.23 L623.67,831.73 L623.31,830.24 L622.97,828.75 L622.67,827.26 L622.39,825.77 L622.15,824.27 L621.95,822.78 L621.88,821.29 L621.8,819.8 L621.72,818.31 L621.64,816.82 L621.55,815.32 L621.45,813.83 L621.35,812.34 L621.25,810.85 L621.14,809.36 L621.02,807.87 L620.9,806.38 L620.77,804.88 L620.64,803.39 L620.5,801.9 L620.5,801.9 L620.36,803.39 L620.23,804.88 L620.1,806.38 L619.98,807.87 L619.86,809.36 L619.75,810.85 L619.65,812.34 L619.55,813.83 L619.45,815.32 L619.36,816.82 L619.28,818.31 L619.2,819.8 L619.12,821.29 L619.05,822.78 L618.85,824.27 L618.61,825.77 L618.33,827.26 L618.03,828.75 L617.69,830.24 L617.33,831.73 L616.93,833.23 L616.49,834.72 L616.02,836.21 L615.51,837.7 L614.96,839.19 L614.38,840.68 L613.76,842.17 L613.11,843.67 L612.44,845.16 L611.74,846.65 L611.02,848.14 L610.31,849.63 L609.6,851.12 L608.92,852.62 L608.3,854.11 L607.78,855.6 L607.5,857.09 L607.69,858.58 L608.25,860.08 L609.2,861.57 L610.48,863.06 L612.01,864.55 L613.67,866.04 L615.34,867.53 L616.93,869.02 L618.35,870.52 L619.54,872.01 L620.5,873.5Z" fill="#5ec0ee" stroke="#2b2b2b" stroke-width="0.5"/>
<path d="M650.9,876 L651.86,874.54 L653.03,873.08 L654.4,871.61 L655.94,870.15 L657.6,868.69 L659.33,867.23 L661.02,865.76 L662.61,864.3 L663.99,862.84 L665.11,861.38 L665.9,859.91 L666.36,858.45 L666.5,856.99 L666.19,855.52 L665.55,854.06 L664.7,852.6 L663.72,851.14 L662.67,849.67 L661.59,848.21 L660.5,846.75 L659.44,845.29 L658.43,843.82 L657.48,842.36 L656.61,840.9 L655.8,839.44 L655.08,837.98 L654.44,836.51 L653.87,835.05 L653.58,833.59 L653.51,832.12 L653.43,830.66 L653.35,829.2 L653.25,827.74 L653.15,826.27 L653.05,824.81 L652.93,823.35 L652.81,821.89 L652.68,820.42 L652.54,818.96 L652.39,817.5 L652.24,816.04 L652.07,814.57 L651.9,813.11 L651.72,811.65 L651.53,810.19 L651.33,808.72 L651.12,807.26 L650.9,805.8 L650.9,805.8 L650.68,807.26 L650.47,808.72 L650.27,810.19 L650.08,811.65 L649.9,813.11 L649.73,814.57 L649.56,816.04 L649.41,817.5 L649.26,818.96 L649.12,820.42 L648.99,821.89 L648.87,823.35 L648.75,824.81 L648.65,826.27 L648.55,827.74 L648.45,829.2 L648.37,830.66 L648.29,832.12 L648.22,833.59 L647.93,835.05 L647.36,836.51 L646.72,837.98 L646,839.44 L645.19,840.9 L644.32,842.36 L643.37,843.82 L642.36,845.29 L641.3,846.75 L640.21,848.21 L639.13,849.67 L638.08,851.14 L637.1,852.6 L636.25,854.06 L635.61,855.52 L635.3,856.99 L635.44,858.45 L635.9,859.91 L636.69,861.38 L637.81,862.84 L639.19,864.3 L640.78,865.76 L642.47,867.23 L644.2,868.69 L645.86,870.15 L647.4,871.61 L648.77,873.08 L649.94,874.54 L650.9,876Z" fill="#79c27e" stroke="#2b2b2b" stroke-width="0.5"/>
<line x1="560.3" y1="875" x2="560.3" y2="780" stroke="#111" stroke-width="0.6"/>
<rect x="557.3" y="824.4" width="6" height="21.5" fill="#fff" stroke="#111" stroke-width="0.6"/>
<line x1="557.3" y1="835.9" x2="563.3" y2="835.9" stroke="#111" stroke-width="0.85"/>
<line x1="590.5" y1="876" x2="590.5" y2="792" stroke="#111" stroke-width="0.6"/>
<rect x="587.5" y="831.3" width="6" height="21" fill="#fff" stroke="#111" stroke-width="0.6"/>
<line x1="587.5" y1="842.3" x2="593.5" y2="842.3" stroke="#111" stroke-width="0.85"/>
<line x1="620.5" y1="876" x2="620.5" y2="799" stroke="#111" stroke-width="0.6"/>
<rect x="617.5" y="837.7" width="6" height="21.7" fill="#fff" stroke="#111" stroke-width="0.6"/>
<line x1="617.5" y1="850.5" x2="623.5" y2="850.5" stroke="#111" stroke-width="0.85"/>
<line x1="650.9" y1="878" x2="650.9" y2="803" stroke="#111" stroke-width="0.6"/>
<rect x="647.9" y="842.8" width="6" height="17.9" fill="#fff" stroke="#111" stroke-width="0.6"/>
<line x1="647.9" y1="856.1" x2="653.9" y2="856.1" stroke="#111" stroke-width="0.85"/>
<line x1="560.3" y1="795.5" x2="590.5" y2="795.5" stroke="#777" stroke-width="0.6"/>
<text x="575.4" y="797.2" font-size="6.4" text-anchor="middle" fill="#222" font-weight="bold">***</text>
<line x1="590.5" y1="800.1" x2="620.5" y2="800.1" stroke="#777" stroke-width="0.6"/>
<text x="605.5" y="801.8" font-size="6.4" text-anchor="middle" fill="#222" font-weight="bold">***</text>
<line x1="620.5" y1="804" x2="650.9" y2="804" stroke="#777" stroke-width="0.6"/>
<text x="635.7" y="805.7" font-size="6.4" text-anchor="middle" fill="#222" font-weight="bold">**</text>
<line x1="560.3" y1="786.6" x2="620.5" y2="786.6" stroke="#777" stroke-width="0.6"/>
<text x="590.4" y="788.3" font-size="6.4" text-anchor="middle" fill="#222" font-weight="bold">***</text>
<line x1="590.5" y1="791.2" x2="650.9" y2="791.2" stroke="#777" stroke-width="0.6"/>
<text x="620.7" y="792.9" font-size="6.4" text-anchor="middle" fill="#222" font-weight="bold">***</text>
<line x1="560.3" y1="782" x2="650.9" y2="782" stroke="#777" stroke-width="0.6"/>
<text x="605.6" y="783.7" font-size="6.4" text-anchor="middle" fill="#222" font-weight="bold">***</text>
<rect x="542.4" y="778.4" width="127.3" height="99.7" fill="none" stroke="#333" stroke-width="0.9"/>
<line x1="540.4" y1="870.4" x2="542.4" y2="870.4" stroke="#555" stroke-width="0.7"/>
<text x="540.7" y="873.42" font-size="8.4" text-anchor="end" fill="#555" font-weight="normal" stroke="#555" stroke-width="0.08">0</text>
<line x1="540.4" y1="842.3" x2="542.4" y2="842.3" stroke="#555" stroke-width="0.7"/>
<text x="540.7" y="845.32" font-size="8.4" text-anchor="end" fill="#555" font-weight="normal" stroke="#555" stroke-width="0.08">200</text>
<line x1="540.4" y1="814.7" x2="542.4" y2="814.7" stroke="#555" stroke-width="0.7"/>
<text x="540.7" y="817.72" font-size="8.4" text-anchor="end" fill="#555" font-weight="normal" stroke="#555" stroke-width="0.08">400</text>
<line x1="540.4" y1="786.6" x2="542.4" y2="786.6" stroke="#555" stroke-width="0.7"/>
<text x="540.7" y="789.62" font-size="8.4" text-anchor="end" fill="#555" font-weight="normal" stroke="#555" stroke-width="0.08">600</text>
<text x="522.8" y="828.25" font-size="8.4" text-anchor="middle" fill="#333" font-weight="normal" stroke="#333" stroke-width="0.08" transform="rotate(-90 522.8 828.25)" dominant-baseline="central">PLT (×10⁹/L)</text>
<text x="46.3" y="885.94" font-size="7.9" text-anchor="middle" fill="#222" font-weight="normal" stroke="#222" stroke-width="0.08">Mild</text>
<text x="72.7" y="885.94" font-size="7.9" text-anchor="middle" fill="#222" font-weight="normal" stroke="#222" stroke-width="0.08">Moderate</text>
<text x="105.1" y="885.94" font-size="7.9" text-anchor="middle" fill="#222" font-weight="normal" stroke="#222" stroke-width="0.08">Severe</text>
<text x="139" y="885.94" font-size="7.9" text-anchor="middle" fill="#222" font-weight="normal" stroke="#222" stroke-width="0.08">Dangerous</text>
<text x="216.3" y="885.94" font-size="7.9" text-anchor="middle" fill="#222" font-weight="normal" stroke="#222" stroke-width="0.08">Mild</text>
<text x="242.7" y="885.94" font-size="7.9" text-anchor="middle" fill="#222" font-weight="normal" stroke="#222" stroke-width="0.08">Moderate</text>
<text x="275.1" y="885.94" font-size="7.9" text-anchor="middle" fill="#222" font-weight="normal" stroke="#222" stroke-width="0.08">Severe</text>
<text x="309" y="885.94" font-size="7.9" text-anchor="middle" fill="#222" font-weight="normal" stroke="#222" stroke-width="0.08">Dangerous</text>
<text x="386.5" y="885.94" font-size="7.9" text-anchor="middle" fill="#222" font-weight="normal" stroke="#222" stroke-width="0.08">Mild</text>
<text x="413.5" y="885.94" font-size="7.9" text-anchor="middle" fill="#222" font-weight="normal" stroke="#222" stroke-width="0.08">Moderate</text>
<text x="445.9" y="885.94" font-size="7.9" text-anchor="middle" fill="#222" font-weight="normal" stroke="#222" stroke-width="0.08">Severe</text>
<text x="479.4" y="885.94" font-size="7.9" text-anchor="middle" fill="#222" font-weight="normal" stroke="#222" stroke-width="0.08">Dangerous</text>
<text x="558.5" y="885.94" font-size="7.9" text-anchor="middle" fill="#222" font-weight="normal" stroke="#222" stroke-width="0.08">Mild</text>
<text x="586" y="885.94" font-size="7.9" text-anchor="middle" fill="#222" font-weight="normal" stroke="#222" stroke-width="0.08">Moderate</text>
<text x="618" y="885.94" font-size="7.9" text-anchor="middle" fill="#222" font-weight="normal" stroke="#222" stroke-width="0.08">Severe</text>
<text x="652.5" y="885.94" font-size="7.9" text-anchor="middle" fill="#222" font-weight="normal" stroke="#222" stroke-width="0.08">Dangerous</text>
<rect x="11.7" y="36" width="120" height="100" fill="#fff" stroke="none" stroke-width="1"/>
<path d="M19.7,46.5 L71.7,32.2 L71.7,85.4 L19.2,101.7 L19.7,46.5" fill="#f2f2f2" stroke="none" stroke-width="1"/>
<path d="M71.7,32.2 L129.6,46.5 L129.6,102.6 L71.7,85.4 L71.7,32.2" fill="#ebebeb" stroke="none" stroke-width="1"/>
<path d="M19.2,101.7 L71.7,85.4 L129.6,102.6 L73.1,126.2 L19.2,101.7" fill="#f6f6f6" stroke="none" stroke-width="1"/>
<line x1="21.56" y1="100.97" x2="22.04" y2="45.86" stroke="#b8b8b8" stroke-width="0.6"/>
<line x1="74.31" y1="86.17" x2="74.31" y2="32.84" stroke="#b8b8b8" stroke-width="0.6"/>
<line x1="19.22" y1="99.22" x2="71.7" y2="83.01" stroke="#b8b8b8" stroke-width="0.6"/>
<line x1="71.7" y1="83.01" x2="129.6" y2="100.08" stroke="#b8b8b8" stroke-width="0.6"/>
<line x1="21.56" y1="100.97" x2="75.64" y2="125.14" stroke="#b8b8b8" stroke-width="0.6"/>
<line x1="74.31" y1="86.17" x2="21.63" y2="102.8" stroke="#b8b8b8" stroke-width="0.6"/>
<line x1="31.12" y1="98" x2="31.5" y2="43.25" stroke="#b8b8b8" stroke-width="0.6"/>
<line x1="84.84" y1="89.3" x2="84.84" y2="35.45" stroke="#b8b8b8" stroke-width="0.6"/>
<line x1="19.31" y1="89.17" x2="71.7" y2="73.32" stroke="#b8b8b8" stroke-width="0.6"/>
<line x1="71.7" y1="73.32" x2="129.6" y2="89.87" stroke="#b8b8b8" stroke-width="0.6"/>
<line x1="31.12" y1="98" x2="85.93" y2="120.84" stroke="#b8b8b8" stroke-width="0.6"/>
<line x1="84.84" y1="89.3" x2="31.44" y2="107.26" stroke="#b8b8b8" stroke-width="0.6"/>
<line x1="40.67" y1="95.03" x2="40.97" y2="40.65" stroke="#b8b8b8" stroke-width="0.6"/>
<line x1="95.38" y1="92.43" x2="95.38" y2="38.05" stroke="#b8b8b8" stroke-width="0.6"/>
<line x1="19.4" y1="79.12" x2="71.7" y2="63.64" stroke="#b8b8b8" stroke-width="0.6"/>
<line x1="71.7" y1="63.64" x2="129.6" y2="79.66" stroke="#b8b8b8" stroke-width="0.6"/>
<line x1="40.67" y1="95.03" x2="96.21" y2="116.55" stroke="#b8b8b8" stroke-width="0.6"/>
<line x1="95.38" y1="92.43" x2="41.25" y2="111.72" stroke="#b8b8b8" stroke-width="0.6"/>
<line x1="50.23" y1="92.07" x2="50.43" y2="38.05" stroke="#b8b8b8" stroke-width="0.6"/>
<line x1="105.92" y1="95.57" x2="105.92" y2="40.65" stroke="#b8b8b8" stroke-width="0.6"/>
<line x1="19.5" y1="69.08" x2="71.7" y2="53.96" stroke="#b8b8b8" stroke-width="0.6"/>
<line x1="71.7" y1="53.96" x2="129.6" y2="69.44" stroke="#b8b8b8" stroke-width="0.6"/>
<line x1="50.23" y1="92.07" x2="106.49" y2="112.25" stroke="#b8b8b8" stroke-width="0.6"/>
<line x1="105.92" y1="95.57" x2="51.05" y2="116.18" stroke="#b8b8b8" stroke-width="0.6"/>
<line x1="59.78" y1="89.1" x2="59.9" y2="35.45" stroke="#b8b8b8" stroke-width="0.6"/>
<line x1="116.46" y1="98.7" x2="116.46" y2="43.25" stroke="#b8b8b8" stroke-width="0.6"/>
<line x1="19.59" y1="59.03" x2="71.7" y2="44.28" stroke="#b8b8b8" stroke-width="0.6"/>
<line x1="71.7" y1="44.28" x2="129.6" y2="59.23" stroke="#b8b8b8" stroke-width="0.6"/>
<line x1="59.78" y1="89.1" x2="116.77" y2="107.96" stroke="#b8b8b8" stroke-width="0.6"/>
<line x1="116.46" y1="98.7" x2="60.86" y2="120.64" stroke="#b8b8b8" stroke-width="0.6"/>
<line x1="69.34" y1="86.13" x2="69.36" y2="32.84" stroke="#b8b8b8" stroke-width="0.6"/>
<line x1="126.99" y1="101.83" x2="126.99" y2="45.86" stroke="#b8b8b8" stroke-width="0.6"/>
<line x1="19.68" y1="48.98" x2="71.7" y2="34.59" stroke="#b8b8b8" stroke-width="0.6"/>
<line x1="71.7" y1="34.59" x2="129.6" y2="49.02" stroke="#b8b8b8" stroke-width="0.6"/>
<line x1="69.34" y1="86.13" x2="127.06" y2="103.66" stroke="#b8b8b8" stroke-width="0.6"/>
<line x1="126.99" y1="101.83" x2="70.67" y2="125.1" stroke="#b8b8b8" stroke-width="0.6"/>
<line x1="17.7" y1="47" x2="17.7" y2="102.2" stroke="#222" stroke-width="0.9"/>
<line x1="17.7" y1="102.2" x2="73.1" y2="126.7" stroke="#222" stroke-width="0.9"/>
<line x1="73.1" y1="126.7" x2="131.1" y2="103.1" stroke="#222" stroke-width="0.9"/>
<path d="M63.9 95.6h0M61.4 89.6h0M61.6 90.3h0M57.2 107.1h0M87.1 72.0h0M91.5 79.1h0M45.6 101.9h0M79.7 55.5h0M48.6 79.5h0M58.1 94.2h0M67.7 88.0h0M41.6 102.4h0M79.8 77.1h0M46.5 104.8h0M40.4 92.8h0M77.6 86.0h0M73.6 62.0h0M80.7 87.5h0M54.7 63.3h0M52.0 102.5h0M74.6 79.1h0M55.6 106.7h0M67.6 74.7h0M63.8 87.1h0M72.1 81.4h0M57.9 107.8h0M50.0 96.5h0M41.4 106.9h0M55.9 94.4h0M74.8 114.9h0M49.4 92.9h0M51.2 80.3h0M81.2 60.3h0M41.4 103.9h0M58.3 72.3h0M45.7 64.8h0M72.3 66.5h0M72.5 95.9h0M82.6 94.9h0M45.5 103.4h0M91.0 60.2h0M48.0 108.3h0M47.8 105.0h0M56.8 106.5h0M77.9 90.1h0M81.0 82.7h0M73.0 65.6h0M70.6 63.6h0M56.4 107.4h0M79.2 73.8h0M45.1 102.0h0M66.5 77.7h0M52.2 104.4h0M32.7 100.1h0M85.0 80.4h0M72.4 95.2h0M45.6 98.5h0M52.8 74.3h0M74.6 69.5h0M59.7 103.9h0M39.0 103.5h0M62.9 109.1h0M75.0 75.1h0M72.3 89.5h0M77.2 80.5h0M64.0 108.2h0M48.1 91.6h0M66.5 95.6h0M37.5 84.4h0M51.5 105.9h0M65.7 70.0h0M51.7 74.0h0M57.7 93.5h0M75.0 68.9h0M47.4 104.6h0M77.2 94.3h0M58.3 105.5h0M58.6 84.0h0M56.9 90.3h0M52.1 94.1h0M57.0 63.3h0M88.7 55.1h0M42.0 101.0h0M55.7 105.6h0M38.2 93.9h0M43.8 79.8h0M35.5 101.5h0M60.9 100.7h0M53.1 107.6h0M37.5 87.5h0M53.2 106.7h0M70.5 88.4h0M51.0 101.7h0M53.9 104.4h0M68.3 64.3h0M67.0 95.4h0M64.3 94.8h0M61.4 105.9h0M53.8 108.9h0M40.1 98.3h0M80.2 96.6h0M60.6 76.2h0M80.7 94.4h0M41.0 86.9h0M73.9 87.8h0M87.0 55.7h0M54.0 107.1h0M53.6 106.0h0M71.7 94.1h0M61.9 106.0h0M41.6 66.0h0M50.9 92.1h0M29.8 98.1h0M52.0 85.9h0M56.2 104.5h0M78.7 71.4h0M53.3 107.9h0M66.1 79.5h0M59.7 69.2h0M38.8 100.0h0M61.8 108.3h0M82.9 95.6h0M59.7 81.3h0M76.2 95.2h0M52.2 82.4h0M55.2 104.7h0M56.9 106.0h0M70.0 84.8h0M66.7 80.9h0M58.6 108.4h0M46.5 88.5h0M55.0 86.4h0M44.7 82.7h0M42.1 99.6h0M63.7 77.4h0M72.6 93.6h0M51.3 67.7h0M47.2 80.0h0M43.6 66.3h0M49.4 105.0h0M32.9 101.8h0M56.3 91.3h0M71.2 71.7h0M78.7 64.1h0M73.4 88.1h0M51.3 105.2h0M67.0 68.3h0M64.3 81.6h0M46.8 94.1h0M76.9 63.7h0" fill="none" stroke="#5a5aa8" stroke-width="1.45" stroke-linecap="round" stroke-opacity="0.8"/>
<path d="M63.9 95.6h0M61.4 89.6h0M61.6 90.3h0M57.2 107.1h0M87.1 72.0h0M91.5 79.1h0M45.6 101.9h0M79.7 55.5h0M48.6 79.5h0M58.1 94.2h0M67.7 88.0h0M41.6 102.4h0M79.8 77.1h0M46.5 104.8h0M40.4 92.8h0M77.6 86.0h0M73.6 62.0h0M80.7 87.5h0M54.7 63.3h0M52.0 102.5h0M74.6 79.1h0M55.6 106.7h0M67.6 74.7h0M63.8 87.1h0M72.1 81.4h0M57.9 107.8h0M50.0 96.5h0M41.4 106.9h0M55.9 94.4h0M74.8 114.9h0M49.4 92.9h0M51.2 80.3h0M81.2 60.3h0M41.4 103.9h0M58.3 72.3h0M45.7 64.8h0M72.3 66.5h0M72.5 95.9h0M82.6 94.9h0M45.5 103.4h0M91.0 60.2h0M48.0 108.3h0M47.8 105.0h0M56.8 106.5h0M77.9 90.1h0M81.0 82.7h0M73.0 65.6h0M70.6 63.6h0M56.4 107.4h0M79.2 73.8h0M45.1 102.0h0M66.5 77.7h0M52.2 104.4h0M32.7 100.1h0M85.0 80.4h0M72.4 95.2h0M45.6 98.5h0M52.8 74.3h0M74.6 69.5h0M59.7 103.9h0M39.0 103.5h0M62.9 109.1h0M75.0 75.1h0M72.3 89.5h0M77.2 80.5h0M64.0 108.2h0M48.1 91.6h0M66.5 95.6h0M37.5 84.4h0M51.5 105.9h0M65.7 70.0h0M51.7 74.0h0M57.7 93.5h0M75.0 68.9h0M47.4 104.6h0M77.2 94.3h0M58.3 105.5h0M58.6 84.0h0M56.9 90.3h0M52.1 94.1h0M57.0 63.3h0M88.7 55.1h0M42.0 101.0h0M55.7 105.6h0M38.2 93.9h0M43.8 79.8h0M35.5 101.5h0M60.9 100.7h0M53.1 107.6h0M37.5 87.5h0M53.2 106.7h0M70.5 88.4h0M51.0 101.7h0M53.9 104.4h0M68.3 64.3h0M67.0 95.4h0M64.3 94.8h0M61.4 105.9h0M53.8 108.9h0M40.1 98.3h0M80.2 96.6h0M60.6 76.2h0M80.7 94.4h0M41.0 86.9h0M73.9 87.8h0M87.0 55.7h0M54.0 107.1h0M53.6 106.0h0M71.7 94.1h0M61.9 106.0h0M41.6 66.0h0M50.9 92.1h0M29.8 98.1h0M52.0 85.9h0M56.2 104.5h0M78.7 71.4h0M53.3 107.9h0M66.1 79.5h0M59.7 69.2h0M38.8 100.0h0M61.8 108.3h0M82.9 95.6h0M59.7 81.3h0M76.2 95.2h0M52.2 82.4h0M55.2 104.7h0M56.9 106.0h0M70.0 84.8h0M66.7 80.9h0M58.6 108.4h0M46.5 88.5h0M55.0 86.4h0M44.7 82.7h0M42.1 99.6h0M63.7 77.4h0M72.6 93.6h0M51.3 67.7h0M47.2 80.0h0M43.6 66.3h0M49.4 105.0h0M32.9 101.8h0M56.3 91.3h0M71.2 71.7h0M78.7 64.1h0M73.4 88.1h0M51.3 105.2h0M67.0 68.3h0M64.3 81.6h0M46.8 94.1h0M76.9 63.7h0" fill="none" stroke="#7c7cd0" stroke-width="0.95" stroke-linecap="round"/>
<path d="M60.6 69.9h0M34.4 68.0h0M37.6 68.6h0M45.6 61.4h0M34.3 67.5h0M51.6 71.4h0M70.5 73.9h0M35.7 57.9h0M31.0 66.6h0M67.8 71.9h0M64.4 68.7h0M40.9 62.1h0M72.1 71.8h0M39.1 61.6h0M42.7 67.1h0M59.1 71.1h0M35.2 62.8h0M64.3 70.5h0M31.6 62.2h0M64.1 71.8h0M46.0 66.9h0M37.2 68.5h0M52.5 72.9h0M48.3 76.6h0M31.7 59.1h0M37.2 62.8h0M55.4 69.2h0M54.8 73.7h0M50.9 70.0h0M37.1 65.6h0M45.8 73.4h0M35.2 70.1h0M57.3 70.7h0M58.1 75.8h0M63.7 68.1h0M73.6 73.2h0M59.0 68.7h0M57.3 70.0h0M64.9 69.8h0M68.1 71.8h0M43.7 69.1h0M50.7 70.3h0M57.0 73.2h0M33.4 65.1h0M28.6 66.5h0M74.2 73.8h0M38.0 66.7h0M68.3 70.1h0M46.9 73.9h0M31.4 61.3h0M39.3 67.7h0M75.2 72.7h0M57.0 71.5h0M47.0 67.2h0M53.6 70.4h0M30.3 62.3h0M43.3 68.0h0M50.8 62.1h0M62.1 76.0h0M38.8 62.7h0M47.8 75.2h0M35.0 56.9h0M34.9 64.1h0M61.6 73.0h0M53.0 68.6h0M39.9 65.3h0M34.0 70.2h0M52.3 74.7h0M43.7 73.3h0M37.0 66.8h0M49.3 65.4h0M47.7 63.9h0M76.5 73.6h0M53.3 66.7h0M30.5 70.1h0M65.5 75.3h0M43.0 70.4h0M53.4 74.1h0M27.3 61.7h0M41.7 70.9h0M65.7 73.5h0M38.1 65.3h0M61.8 68.1h0M33.8 63.8h0M63.4 74.7h0M71.5 76.3h0M50.7 63.8h0M51.9 75.5h0M51.6 65.7h0M64.6 70.9h0M35.0 64.6h0M43.5 64.0h0M33.1 58.2h0M45.2 59.7h0M62.8 69.8h0M40.5 61.9h0M58.8 75.6h0M63.7 73.5h0M42.5 68.9h0M69.7 74.7h0M40.9 62.1h0M59.7 72.5h0M39.4 64.7h0M52.3 71.8h0M48.2 63.8h0M52.6 72.3h0M51.0 66.0h0M55.3 66.3h0M67.5 67.3h0M27.0 61.6h0M50.3 70.2h0M68.1 71.1h0M42.2 67.1h0M64.4 71.0h0M40.6 67.7h0M36.8 60.1h0M54.2 72.6h0M58.7 67.5h0M42.7 65.6h0M58.8 75.9h0M59.5 64.5h0M41.9 67.0h0M43.2 68.1h0M62.8 70.2h0M62.1 76.3h0M53.9 69.0h0M39.3 69.5h0M59.0 76.6h0M48.3 70.0h0M34.6 67.1h0M48.5 67.1h0M24.7 66.2h0M37.5 64.5h0M48.7 66.1h0M37.1 65.0h0M67.4 71.7h0M36.1 68.0h0M46.7 71.5h0M46.7 65.9h0M49.6 65.7h0M59.2 69.7h0M52.3 68.0h0M61.6 74.4h0M40.1 68.6h0M36.0 63.8h0M52.5 71.1h0M69.1 76.5h0M36.0 65.8h0M41.0 62.3h0M48.5 69.0h0M43.3 57.8h0M34.3 60.3h0M45.1 70.9h0M42.2 67.8h0M55.7 63.5h0M42.8 70.8h0M61.9 71.2h0M58.9 75.3h0M58.5 70.7h0M41.5 73.6h0M38.6 66.5h0M37.1 63.8h0M58.7 69.3h0M67.4 79.5h0M60.6 68.5h0M33.8 63.3h0M75.0 75.1h0M45.3 70.7h0M56.1 68.6h0M40.1 63.3h0M52.1 69.9h0M73.3 73.0h0M34.1 69.4h0M31.7 67.3h0M41.9 65.8h0M55.5 73.0h0M40.8 69.2h0M42.3 66.1h0M46.4 67.5h0M63.1 70.4h0M37.8 69.2h0M39.4 59.3h0M68.7 72.6h0M61.3 73.3h0M44.4 63.5h0M30.0 68.2h0M64.5 73.9h0M66.1 69.6h0M34.7 69.0h0M57.0 73.2h0M47.3 69.2h0M33.7 63.9h0M44.0 69.4h0M72.7 68.5h0M42.6 62.9h0M38.9 70.9h0M40.4 64.4h0M42.8 68.8h0M69.6 73.9h0M48.2 69.8h0M68.5 71.3h0M47.5 67.9h0M57.1 68.6h0M75.5 70.1h0M51.6 72.3h0M68.8 72.7h0M33.4 67.5h0M75.0 65.8h0M46.0 66.4h0M68.1 73.9h0M32.1 71.1h0M65.7 71.6h0M44.2 64.5h0M50.8 72.3h0M38.9 67.3h0M42.2 61.8h0M40.6 60.6h0M38.2 68.0h0M64.5 70.8h0M51.5 72.5h0M38.3 65.8h0M43.8 66.0h0M51.7 67.9h0M50.8 66.4h0M44.1 67.1h0M67.3 73.3h0M50.7 65.5h0M62.9 72.2h0M35.0 61.9h0M40.1 61.1h0M59.3 66.3h0M55.9 69.5h0M41.5 69.7h0M33.8 68.0h0M39.5 62.7h0M51.4 74.0h0M62.7 72.7h0M27.7 60.3h0M51.0 69.8h0M40.0 68.6h0M51.4 67.9h0M60.8 70.3h0M38.0 67.0h0M58.1 71.5h0M33.5 63.9h0M46.8 69.8h0M49.4 71.0h0M43.9 60.5h0M41.7 69.2h0M52.9 69.4h0M54.1 59.1h0M34.1 67.5h0M49.7 76.6h0M43.2 69.5h0M52.2 69.9h0M67.7 69.2h0M48.8 73.4h0M27.5 66.5h0M33.9 74.6h0M43.7 66.7h0M42.9 66.9h0M43.7 62.3h0M61.1 72.4h0M29.8 68.0h0M46.0 70.1h0M53.0 71.7h0M41.6 67.9h0M64.8 71.8h0M66.8 75.6h0M47.3 65.2h0M56.1 70.5h0M31.6 70.5h0M36.9 68.2h0M58.8 69.4h0M37.0 57.2h0M45.1 71.3h0M56.9 68.2h0M36.0 64.6h0M50.0 70.1h0M48.0 68.1h0M38.7 68.8h0M48.5 65.9h0M36.6 63.1h0M46.0 73.9h0M34.2 70.6h0M47.0 71.7h0M52.1 69.6h0M28.5 61.0h0M63.0 75.9h0M66.6 77.0h0M49.8 64.8h0M47.4 67.3h0M47.2 69.2h0M43.8 71.5h0M54.8 73.1h0M56.3 75.0h0M57.1 72.3h0M56.8 74.3h0M29.6 61.9h0M42.3 69.7h0M47.2 69.1h0M41.0 65.0h0M49.8 69.8h0M60.4 68.1h0M47.3 66.4h0M32.9 59.5h0M30.0 60.9h0M32.8 60.7h0M42.9 69.1h0M42.6 63.3h0M68.5 74.0h0M46.0 71.4h0M67.5 74.8h0M47.4 66.0h0M40.8 66.1h0M35.8 66.3h0M41.7 64.0h0M43.3 65.2h0M56.8 68.3h0M35.7 59.6h0M67.6 72.1h0M30.3 64.1h0M45.2 74.0h0M50.1 71.8h0M54.4 73.9h0M53.3 70.2h0M49.0 67.1h0M52.4 65.3h0M64.3 66.4h0M48.9 73.1h0M30.1 67.3h0M48.8 65.6h0M52.5 62.4h0M32.6 62.7h0M30.7 59.2h0M41.7 68.0h0M38.1 67.3h0M30.8 60.6h0M70.2 77.0h0M43.9 65.0h0M67.5 73.3h0M39.2 65.9h0M48.6 57.1h0M48.8 69.5h0M40.5 67.5h0M57.1 63.8h0M38.8 69.9h0M43.9 65.5h0M28.1 61.7h0M51.8 70.9h0M65.2 75.8h0M49.0 69.4h0M42.6 69.6h0M50.8 73.3h0M49.6 70.1h0M57.0 68.4h0M53.9 73.6h0M67.7 78.4h0M34.1 69.2h0M61.3 72.9h0M34.9 62.5h0M77.8 69.8h0M58.9 65.7h0M55.8 70.6h0M57.9 72.2h0M34.8 68.5h0M54.4 78.9h0M32.6 64.3h0M38.0 61.4h0M43.5 60.5h0M74.7 79.0h0M48.5 66.0h0M72.2 75.1h0M42.4 69.7h0M40.6 62.3h0M34.7 66.8h0M64.8 73.7h0M50.1 66.5h0M29.6 62.2h0M54.0 71.1h0M48.7 69.0h0M42.6 69.3h0M56.5 69.6h0M61.6 75.8h0M60.4 70.8h0M66.3 75.7h0M39.7 67.8h0M43.1 64.8h0M29.9 73.6h0M44.2 65.1h0M39.2 69.9h0M70.9 71.4h0M45.8 67.4h0M36.1 61.1h0M32.6 65.9h0M40.2 64.2h0M63.3 72.7h0M39.6 64.2h0M68.6 76.0h0M66.2 70.8h0M44.0 65.7h0M75.0 80.9h0M50.5 76.1h0M48.7 64.1h0M48.6 69.4h0M37.0 71.3h0M31.2 63.5h0M46.4 73.5h0M34.2 63.6h0M49.6 75.5h0M67.6 70.2h0M67.1 71.9h0M52.1 70.0h0M63.3 66.5h0M53.4 73.0h0M29.3 58.6h0M56.7 70.2h0M45.4 62.1h0M45.6 64.7h0M44.9 70.7h0M35.9 69.4h0M39.1 66.8h0M34.9 64.9h0M62.9 69.8h0M58.4 81.9h0M38.0 61.7h0M45.2 69.1h0M27.8 66.4h0M38.6 67.8h0M60.9 75.0h0M43.2 66.2h0M62.7 77.1h0M24.4 65.2h0M50.4 64.1h0M59.1 72.3h0M26.7 67.6h0M46.0 63.0h0M45.4 69.1h0M65.3 75.5h0M59.4 64.4h0M35.5 64.2h0M69.6 75.2h0M48.6 63.3h0M70.2 67.7h0M43.2 64.6h0M41.5 68.0h0M26.4 57.5h0M70.9 74.1h0M33.2 59.8h0M70.7 75.4h0M46.6 66.2h0M66.6 75.6h0M36.6 70.0h0M56.2 74.9h0M38.2 62.3h0M37.7 58.9h0M48.3 68.8h0M76.1 73.7h0M42.1 71.1h0M62.4 75.7h0M45.0 67.9h0M39.6 66.3h0M44.2 73.9h0M47.1 69.0h0M37.8 67.9h0M53.0 68.2h0M71.9 80.2h0M38.2 69.4h0M71.0 73.7h0M59.2 76.4h0M37.5 62.9h0M54.6 70.2h0M64.0 70.7h0M43.7 66.9h0M49.3 70.6h0M62.7 74.8h0M49.7 61.2h0M25.2 63.0h0M44.0 73.5h0M42.4 70.3h0M42.9 70.6h0M67.3 74.6h0M38.0 65.8h0M50.4 70.7h0M44.8 71.8h0M50.8 64.9h0M27.7 69.8h0M30.2 59.8h0M42.7 65.5h0M40.5 64.0h0M38.2 66.7h0M40.4 65.9h0M46.5 74.8h0M56.9 67.5h0M48.5 67.3h0M68.6 71.7h0M58.4 64.8h0M47.1 68.5h0M41.8 64.1h0M65.4 72.4h0M66.9 69.8h0M49.9 65.2h0M51.3 66.2h0M52.8 65.7h0M33.0 66.9h0M55.9 72.4h0M40.5 66.1h0M34.8 60.7h0M55.8 72.3h0M56.3 68.4h0M39.1 69.1h0M45.9 71.2h0M60.1 71.8h0M41.2 59.7h0M47.1 65.0h0M45.2 69.7h0M44.6 66.6h0M54.1 72.8h0M32.2 63.7h0M41.5 62.7h0M33.0 69.1h0M47.7 74.5h0M37.7 66.2h0M30.7 67.8h0M41.3 64.1h0M70.9 72.7h0M50.7 75.3h0M42.1 74.1h0M46.8 63.8h0M36.0 66.5h0M67.9 68.8h0M52.0 66.9h0M37.1 65.3h0M52.2 64.6h0M73.0 73.0h0M65.2 70.3h0M60.8 66.6h0M49.9 69.7h0M49.2 71.9h0M57.0 73.5h0M47.7 71.4h0M54.4 68.3h0M70.7 71.4h0M49.7 64.4h0M47.4 63.4h0M71.1 76.2h0M52.2 66.8h0M38.3 70.9h0M59.8 71.3h0M50.9 78.1h0M63.7 69.8h0M53.9 68.8h0M49.9 74.1h0M52.6 68.6h0M39.3 65.6h0M47.1 65.8h0M68.0 70.5h0M43.9 67.4h0M42.3 70.9h0M47.9 64.9h0M59.6 73.0h0M45.6 65.4h0M46.6 71.5h0M53.6 63.7h0M75.1 73.0h0M71.5 74.8h0M35.5 60.1h0M40.4 64.7h0M52.5 69.3h0M68.0 65.9h0M67.8 74.0h0M30.3 63.3h0M38.1 64.9h0M59.2 61.2h0M33.3 66.0h0M66.6 73.0h0M40.2 64.7h0M45.8 64.5h0M54.8 68.4h0M48.9 73.0h0M35.5 66.9h0M36.9 69.1h0M54.8 68.3h0M46.6 71.4h0M34.0 58.8h0M64.1 74.8h0M51.3 73.0h0M62.4 73.9h0M70.8 74.1h0M55.4 63.9h0M53.1 66.2h0M37.2 63.1h0M50.8 68.6h0M47.2 69.4h0M67.7 74.8h0M77.2 74.4h0M55.1 69.2h0M41.8 64.8h0M42.5 60.6h0M44.4 64.7h0M55.3 72.1h0M68.6 74.4h0M57.8 71.5h0M58.0 73.8h0M35.4 63.5h0M53.9 69.3h0M57.2 71.9h0M44.5 64.1h0M43.0 71.8h0M58.8 61.3h0M35.7 61.8h0M57.0 78.6h0M74.0 75.7h0M55.4 70.8h0M49.9 66.5h0M52.1 75.9h0M44.4 64.5h0M58.3 71.0h0M48.1 73.7h0M36.3 67.1h0M36.2 72.2h0M31.3 66.2h0M37.9 73.6h0M68.2 69.9h0M68.4 76.2h0M64.9 74.3h0M38.0 69.7h0M57.8 69.6h0M47.1 65.3h0M24.6 63.1h0M49.6 69.1h0M47.5 73.3h0M35.4 65.0h0M35.9 66.8h0M64.4 75.3h0M52.7 67.0h0M39.7 62.7h0M60.9 71.6h0M44.7 64.6h0M43.9 74.6h0M46.0 70.2h0M60.0 65.3h0M72.9 72.8h0M36.3 58.5h0M42.0 71.4h0M49.2 77.1h0M41.1 66.9h0M28.7 58.6h0M65.1 72.0h0M50.1 73.2h0" fill="none" stroke="#86b874" stroke-width="1.45" stroke-linecap="round" stroke-opacity="0.8"/>
<path d="M60.6 69.9h0M34.4 68.0h0M37.6 68.6h0M45.6 61.4h0M34.3 67.5h0M51.6 71.4h0M70.5 73.9h0M35.7 57.9h0M31.0 66.6h0M67.8 71.9h0M64.4 68.7h0M40.9 62.1h0M72.1 71.8h0M39.1 61.6h0M42.7 67.1h0M59.1 71.1h0M35.2 62.8h0M64.3 70.5h0M31.6 62.2h0M64.1 71.8h0M46.0 66.9h0M37.2 68.5h0M52.5 72.9h0M48.3 76.6h0M31.7 59.1h0M37.2 62.8h0M55.4 69.2h0M54.8 73.7h0M50.9 70.0h0M37.1 65.6h0M45.8 73.4h0M35.2 70.1h0M57.3 70.7h0M58.1 75.8h0M63.7 68.1h0M73.6 73.2h0M59.0 68.7h0M57.3 70.0h0M64.9 69.8h0M68.1 71.8h0M43.7 69.1h0M50.7 70.3h0M57.0 73.2h0M33.4 65.1h0M28.6 66.5h0M74.2 73.8h0M38.0 66.7h0M68.3 70.1h0M46.9 73.9h0M31.4 61.3h0M39.3 67.7h0M75.2 72.7h0M57.0 71.5h0M47.0 67.2h0M53.6 70.4h0M30.3 62.3h0M43.3 68.0h0M50.8 62.1h0M62.1 76.0h0M38.8 62.7h0M47.8 75.2h0M35.0 56.9h0M34.9 64.1h0M61.6 73.0h0M53.0 68.6h0M39.9 65.3h0M34.0 70.2h0M52.3 74.7h0M43.7 73.3h0M37.0 66.8h0M49.3 65.4h0M47.7 63.9h0M76.5 73.6h0M53.3 66.7h0M30.5 70.1h0M65.5 75.3h0M43.0 70.4h0M53.4 74.1h0M27.3 61.7h0M41.7 70.9h0M65.7 73.5h0M38.1 65.3h0M61.8 68.1h0M33.8 63.8h0M63.4 74.7h0M71.5 76.3h0M50.7 63.8h0M51.9 75.5h0M51.6 65.7h0M64.6 70.9h0M35.0 64.6h0M43.5 64.0h0M33.1 58.2h0M45.2 59.7h0M62.8 69.8h0M40.5 61.9h0M58.8 75.6h0M63.7 73.5h0M42.5 68.9h0M69.7 74.7h0M40.9 62.1h0M59.7 72.5h0M39.4 64.7h0M52.3 71.8h0M48.2 63.8h0M52.6 72.3h0M51.0 66.0h0M55.3 66.3h0M67.5 67.3h0M27.0 61.6h0M50.3 70.2h0M68.1 71.1h0M42.2 67.1h0M64.4 71.0h0M40.6 67.7h0M36.8 60.1h0M54.2 72.6h0M58.7 67.5h0M42.7 65.6h0M58.8 75.9h0M59.5 64.5h0M41.9 67.0h0M43.2 68.1h0M62.8 70.2h0M62.1 76.3h0M53.9 69.0h0M39.3 69.5h0M59.0 76.6h0M48.3 70.0h0M34.6 67.1h0M48.5 67.1h0M24.7 66.2h0M37.5 64.5h0M48.7 66.1h0M37.1 65.0h0M67.4 71.7h0M36.1 68.0h0M46.7 71.5h0M46.7 65.9h0M49.6 65.7h0M59.2 69.7h0M52.3 68.0h0M61.6 74.4h0M40.1 68.6h0M36.0 63.8h0M52.5 71.1h0M69.1 76.5h0M36.0 65.8h0M41.0 62.3h0M48.5 69.0h0M43.3 57.8h0M34.3 60.3h0M45.1 70.9h0M42.2 67.8h0M55.7 63.5h0M42.8 70.8h0M61.9 71.2h0M58.9 75.3h0M58.5 70.7h0M41.5 73.6h0M38.6 66.5h0M37.1 63.8h0M58.7 69.3h0M67.4 79.5h0M60.6 68.5h0M33.8 63.3h0M75.0 75.1h0M45.3 70.7h0M56.1 68.6h0M40.1 63.3h0M52.1 69.9h0M73.3 73.0h0M34.1 69.4h0M31.7 67.3h0M41.9 65.8h0M55.5 73.0h0M40.8 69.2h0M42.3 66.1h0M46.4 67.5h0M63.1 70.4h0M37.8 69.2h0M39.4 59.3h0M68.7 72.6h0M61.3 73.3h0M44.4 63.5h0M30.0 68.2h0M64.5 73.9h0M66.1 69.6h0M34.7 69.0h0M57.0 73.2h0M47.3 69.2h0M33.7 63.9h0M44.0 69.4h0M72.7 68.5h0M42.6 62.9h0M38.9 70.9h0M40.4 64.4h0M42.8 68.8h0M69.6 73.9h0M48.2 69.8h0M68.5 71.3h0M47.5 67.9h0M57.1 68.6h0M75.5 70.1h0M51.6 72.3h0M68.8 72.7h0M33.4 67.5h0M75.0 65.8h0M46.0 66.4h0M68.1 73.9h0M32.1 71.1h0M65.7 71.6h0M44.2 64.5h0M50.8 72.3h0M38.9 67.3h0M42.2 61.8h0M40.6 60.6h0M38.2 68.0h0M64.5 70.8h0M51.5 72.5h0M38.3 65.8h0M43.8 66.0h0M51.7 67.9h0M50.8 66.4h0M44.1 67.1h0M67.3 73.3h0M50.7 65.5h0M62.9 72.2h0M35.0 61.9h0M40.1 61.1h0M59.3 66.3h0M55.9 69.5h0M41.5 69.7h0M33.8 68.0h0M39.5 62.7h0M51.4 74.0h0M62.7 72.7h0M27.7 60.3h0M51.0 69.8h0M40.0 68.6h0M51.4 67.9h0M60.8 70.3h0M38.0 67.0h0M58.1 71.5h0M33.5 63.9h0M46.8 69.8h0M49.4 71.0h0M43.9 60.5h0M41.7 69.2h0M52.9 69.4h0M54.1 59.1h0M34.1 67.5h0M49.7 76.6h0M43.2 69.5h0M52.2 69.9h0M67.7 69.2h0M48.8 73.4h0M27.5 66.5h0M33.9 74.6h0M43.7 66.7h0M42.9 66.9h0M43.7 62.3h0M61.1 72.4h0M29.8 68.0h0M46.0 70.1h0M53.0 71.7h0M41.6 67.9h0M64.8 71.8h0M66.8 75.6h0M47.3 65.2h0M56.1 70.5h0M31.6 70.5h0M36.9 68.2h0M58.8 69.4h0M37.0 57.2h0M45.1 71.3h0M56.9 68.2h0M36.0 64.6h0M50.0 70.1h0M48.0 68.1h0M38.7 68.8h0M48.5 65.9h0M36.6 63.1h0M46.0 73.9h0M34.2 70.6h0M47.0 71.7h0M52.1 69.6h0M28.5 61.0h0M63.0 75.9h0M66.6 77.0h0M49.8 64.8h0M47.4 67.3h0M47.2 69.2h0M43.8 71.5h0M54.8 73.1h0M56.3 75.0h0M57.1 72.3h0M56.8 74.3h0M29.6 61.9h0M42.3 69.7h0M47.2 69.1h0M41.0 65.0h0M49.8 69.8h0M60.4 68.1h0M47.3 66.4h0M32.9 59.5h0M30.0 60.9h0M32.8 60.7h0M42.9 69.1h0M42.6 63.3h0M68.5 74.0h0M46.0 71.4h0M67.5 74.8h0M47.4 66.0h0M40.8 66.1h0M35.8 66.3h0M41.7 64.0h0M43.3 65.2h0M56.8 68.3h0M35.7 59.6h0M67.6 72.1h0M30.3 64.1h0M45.2 74.0h0M50.1 71.8h0M54.4 73.9h0M53.3 70.2h0M49.0 67.1h0M52.4 65.3h0M64.3 66.4h0M48.9 73.1h0M30.1 67.3h0M48.8 65.6h0M52.5 62.4h0M32.6 62.7h0M30.7 59.2h0M41.7 68.0h0M38.1 67.3h0M30.8 60.6h0M70.2 77.0h0M43.9 65.0h0M67.5 73.3h0M39.2 65.9h0M48.6 57.1h0M48.8 69.5h0M40.5 67.5h0M57.1 63.8h0M38.8 69.9h0M43.9 65.5h0M28.1 61.7h0M51.8 70.9h0M65.2 75.8h0M49.0 69.4h0M42.6 69.6h0M50.8 73.3h0M49.6 70.1h0M57.0 68.4h0M53.9 73.6h0M67.7 78.4h0M34.1 69.2h0M61.3 72.9h0M34.9 62.5h0M77.8 69.8h0M58.9 65.7h0M55.8 70.6h0M57.9 72.2h0M34.8 68.5h0M54.4 78.9h0M32.6 64.3h0M38.0 61.4h0M43.5 60.5h0M74.7 79.0h0M48.5 66.0h0M72.2 75.1h0M42.4 69.7h0M40.6 62.3h0M34.7 66.8h0M64.8 73.7h0M50.1 66.5h0M29.6 62.2h0M54.0 71.1h0M48.7 69.0h0M42.6 69.3h0M56.5 69.6h0M61.6 75.8h0M60.4 70.8h0M66.3 75.7h0M39.7 67.8h0M43.1 64.8h0M29.9 73.6h0M44.2 65.1h0M39.2 69.9h0M70.9 71.4h0M45.8 67.4h0M36.1 61.1h0M32.6 65.9h0M40.2 64.2h0M63.3 72.7h0M39.6 64.2h0M68.6 76.0h0M66.2 70.8h0M44.0 65.7h0M75.0 80.9h0M50.5 76.1h0M48.7 64.1h0M48.6 69.4h0M37.0 71.3h0M31.2 63.5h0M46.4 73.5h0M34.2 63.6h0M49.6 75.5h0M67.6 70.2h0M67.1 71.9h0M52.1 70.0h0M63.3 66.5h0M53.4 73.0h0M29.3 58.6h0M56.7 70.2h0M45.4 62.1h0M45.6 64.7h0M44.9 70.7h0M35.9 69.4h0M39.1 66.8h0M34.9 64.9h0M62.9 69.8h0M58.4 81.9h0M38.0 61.7h0M45.2 69.1h0M27.8 66.4h0M38.6 67.8h0M60.9 75.0h0M43.2 66.2h0M62.7 77.1h0M24.4 65.2h0M50.4 64.1h0M59.1 72.3h0M26.7 67.6h0M46.0 63.0h0M45.4 69.1h0M65.3 75.5h0M59.4 64.4h0M35.5 64.2h0M69.6 75.2h0M48.6 63.3h0M70.2 67.7h0M43.2 64.6h0M41.5 68.0h0M26.4 57.5h0M70.9 74.1h0M33.2 59.8h0M70.7 75.4h0M46.6 66.2h0M66.6 75.6h0M36.6 70.0h0M56.2 74.9h0M38.2 62.3h0M37.7 58.9h0M48.3 68.8h0M76.1 73.7h0M42.1 71.1h0M62.4 75.7h0M45.0 67.9h0M39.6 66.3h0M44.2 73.9h0M47.1 69.0h0M37.8 67.9h0M53.0 68.2h0M71.9 80.2h0M38.2 69.4h0M71.0 73.7h0M59.2 76.4h0M37.5 62.9h0M54.6 70.2h0M64.0 70.7h0M43.7 66.9h0M49.3 70.6h0M62.7 74.8h0M49.7 61.2h0M25.2 63.0h0M44.0 73.5h0M42.4 70.3h0M42.9 70.6h0M67.3 74.6h0M38.0 65.8h0M50.4 70.7h0M44.8 71.8h0M50.8 64.9h0M27.7 69.8h0M30.2 59.8h0M42.7 65.5h0M40.5 64.0h0M38.2 66.7h0M40.4 65.9h0M46.5 74.8h0M56.9 67.5h0M48.5 67.3h0M68.6 71.7h0M58.4 64.8h0M47.1 68.5h0M41.8 64.1h0M65.4 72.4h0M66.9 69.8h0M49.9 65.2h0M51.3 66.2h0M52.8 65.7h0M33.0 66.9h0M55.9 72.4h0M40.5 66.1h0M34.8 60.7h0M55.8 72.3h0M56.3 68.4h0M39.1 69.1h0M45.9 71.2h0M60.1 71.8h0M41.2 59.7h0M47.1 65.0h0M45.2 69.7h0M44.6 66.6h0M54.1 72.8h0M32.2 63.7h0M41.5 62.7h0M33.0 69.1h0M47.7 74.5h0M37.7 66.2h0M30.7 67.8h0M41.3 64.1h0M70.9 72.7h0M50.7 75.3h0M42.1 74.1h0M46.8 63.8h0M36.0 66.5h0M67.9 68.8h0M52.0 66.9h0M37.1 65.3h0M52.2 64.6h0M73.0 73.0h0M65.2 70.3h0M60.8 66.6h0M49.9 69.7h0M49.2 71.9h0M57.0 73.5h0M47.7 71.4h0M54.4 68.3h0M70.7 71.4h0M49.7 64.4h0M47.4 63.4h0M71.1 76.2h0M52.2 66.8h0M38.3 70.9h0M59.8 71.3h0M50.9 78.1h0M63.7 69.8h0M53.9 68.8h0M49.9 74.1h0M52.6 68.6h0M39.3 65.6h0M47.1 65.8h0M68.0 70.5h0M43.9 67.4h0M42.3 70.9h0M47.9 64.9h0M59.6 73.0h0M45.6 65.4h0M46.6 71.5h0M53.6 63.7h0M75.1 73.0h0M71.5 74.8h0M35.5 60.1h0M40.4 64.7h0M52.5 69.3h0M68.0 65.9h0M67.8 74.0h0M30.3 63.3h0M38.1 64.9h0M59.2 61.2h0M33.3 66.0h0M66.6 73.0h0M40.2 64.7h0M45.8 64.5h0M54.8 68.4h0M48.9 73.0h0M35.5 66.9h0M36.9 69.1h0M54.8 68.3h0M46.6 71.4h0M34.0 58.8h0M64.1 74.8h0M51.3 73.0h0M62.4 73.9h0M70.8 74.1h0M55.4 63.9h0M53.1 66.2h0M37.2 63.1h0M50.8 68.6h0M47.2 69.4h0M67.7 74.8h0M77.2 74.4h0M55.1 69.2h0M41.8 64.8h0M42.5 60.6h0M44.4 64.7h0M55.3 72.1h0M68.6 74.4h0M57.8 71.5h0M58.0 73.8h0M35.4 63.5h0M53.9 69.3h0M57.2 71.9h0M44.5 64.1h0M43.0 71.8h0M58.8 61.3h0M35.7 61.8h0M57.0 78.6h0M74.0 75.7h0M55.4 70.8h0M49.9 66.5h0M52.1 75.9h0M44.4 64.5h0M58.3 71.0h0M48.1 73.7h0M36.3 67.1h0M36.2 72.2h0M31.3 66.2h0M37.9 73.6h0M68.2 69.9h0M68.4 76.2h0M64.9 74.3h0M38.0 69.7h0M57.8 69.6h0M47.1 65.3h0M24.6 63.1h0M49.6 69.1h0M47.5 73.3h0M35.4 65.0h0M35.9 66.8h0M64.4 75.3h0M52.7 67.0h0M39.7 62.7h0M60.9 71.6h0M44.7 64.6h0M43.9 74.6h0M46.0 70.2h0M60.0 65.3h0M72.9 72.8h0M36.3 58.5h0M42.0 71.4h0M49.2 77.1h0M41.1 66.9h0M28.7 58.6h0M65.1 72.0h0M50.1 73.2h0" fill="none" stroke="#a9d894" stroke-width="0.95" stroke-linecap="round"/>
<text x="15.2" y="104.49" font-size="7.2" text-anchor="end" fill="#333" font-weight="normal" stroke="#333" stroke-width="0.08">0.0</text>
<text x="15.65" y="112.94" font-size="7.2" text-anchor="middle" fill="#333" font-weight="normal" stroke="#333" stroke-width="0.08">0.0</text>
<text x="125.98" y="115.73" font-size="7.2" text-anchor="middle" fill="#333" font-weight="normal" stroke="#333" stroke-width="0.08">0.0</text>
<text x="15.2" y="94.55" font-size="7.2" text-anchor="end" fill="#333" font-weight="normal" stroke="#333" stroke-width="0.08">0.2</text>
<text x="25.55" y="116.76" font-size="7.2" text-anchor="middle" fill="#333" font-weight="normal" stroke="#333" stroke-width="0.08">0.2</text>
<text x="117.43" y="119.11" font-size="7.2" text-anchor="middle" fill="#333" font-weight="normal" stroke="#333" stroke-width="0.08">0.2</text>
<text x="15.2" y="84.61" font-size="7.2" text-anchor="end" fill="#333" font-weight="normal" stroke="#333" stroke-width="0.08">0.4</text>
<text x="35.45" y="120.58" font-size="7.2" text-anchor="middle" fill="#333" font-weight="normal" stroke="#333" stroke-width="0.08">0.4</text>
<text x="108.88" y="122.5" font-size="7.2" text-anchor="middle" fill="#333" font-weight="normal" stroke="#333" stroke-width="0.08">0.4</text>
<text x="15.2" y="74.67" font-size="7.2" text-anchor="end" fill="#333" font-weight="normal" stroke="#333" stroke-width="0.08">0.6</text>
<text x="45.35" y="124.4" font-size="7.2" text-anchor="middle" fill="#333" font-weight="normal" stroke="#333" stroke-width="0.08">0.6</text>
<text x="100.32" y="125.88" font-size="7.2" text-anchor="middle" fill="#333" font-weight="normal" stroke="#333" stroke-width="0.08">0.6</text>
<text x="15.2" y="64.73" font-size="7.2" text-anchor="end" fill="#333" font-weight="normal" stroke="#333" stroke-width="0.08">0.8</text>
<text x="55.25" y="128.23" font-size="7.2" text-anchor="middle" fill="#333" font-weight="normal" stroke="#333" stroke-width="0.08">0.8</text>
<text x="91.77" y="129.27" font-size="7.2" text-anchor="middle" fill="#333" font-weight="normal" stroke="#333" stroke-width="0.08">0.8</text>
<text x="15.2" y="54.79" font-size="7.2" text-anchor="end" fill="#333" font-weight="normal" stroke="#333" stroke-width="0.08">1.0</text>
<text x="65.15" y="132.05" font-size="7.2" text-anchor="middle" fill="#333" font-weight="normal" stroke="#333" stroke-width="0.08">1.0</text>
<text x="83.22" y="132.66" font-size="7.2" text-anchor="middle" fill="#333" font-weight="normal" stroke="#333" stroke-width="0.08">1.0</text>
<text x="75.2" y="27.72" font-size="7.0" text-anchor="middle" fill="#222" font-weight="normal" stroke="#222" stroke-width="0.08">MIMIC-III</text>
<rect x="140.5" y="36" width="120" height="100" fill="#fff" stroke="none" stroke-width="1"/>
<path d="M148.5,46.5 L200.5,32.2 L200.5,85.4 L148,101.7 L148.5,46.5" fill="#f2f2f2" stroke="none" stroke-width="1"/>
<path d="M200.5,32.2 L258.4,46.5 L258.4,102.6 L200.5,85.4 L200.5,32.2" fill="#ebebeb" stroke="none" stroke-width="1"/>
<path d="M148,101.7 L200.5,85.4 L258.4,102.6 L201.9,126.2 L148,101.7" fill="#f6f6f6" stroke="none" stroke-width="1"/>
<line x1="150.36" y1="100.97" x2="150.84" y2="45.86" stroke="#b8b8b8" stroke-width="0.6"/>
<line x1="203.11" y1="86.17" x2="203.11" y2="32.84" stroke="#b8b8b8" stroke-width="0.6"/>
<line x1="148.02" y1="99.22" x2="200.5" y2="83.01" stroke="#b8b8b8" stroke-width="0.6"/>
<line x1="200.5" y1="83.01" x2="258.4" y2="100.08" stroke="#b8b8b8" stroke-width="0.6"/>
<line x1="150.36" y1="100.97" x2="204.44" y2="125.14" stroke="#b8b8b8" stroke-width="0.6"/>
<line x1="203.11" y1="86.17" x2="150.43" y2="102.8" stroke="#b8b8b8" stroke-width="0.6"/>
<line x1="159.92" y1="98" x2="160.3" y2="43.25" stroke="#b8b8b8" stroke-width="0.6"/>
<line x1="213.64" y1="89.3" x2="213.64" y2="35.45" stroke="#b8b8b8" stroke-width="0.6"/>
<line x1="148.11" y1="89.17" x2="200.5" y2="73.32" stroke="#b8b8b8" stroke-width="0.6"/>
<line x1="200.5" y1="73.32" x2="258.4" y2="89.87" stroke="#b8b8b8" stroke-width="0.6"/>
<line x1="159.92" y1="98" x2="214.73" y2="120.84" stroke="#b8b8b8" stroke-width="0.6"/>
<line x1="213.64" y1="89.3" x2="160.24" y2="107.26" stroke="#b8b8b8" stroke-width="0.6"/>
<line x1="169.47" y1="95.03" x2="169.77" y2="40.65" stroke="#b8b8b8" stroke-width="0.6"/>
<line x1="224.18" y1="92.43" x2="224.18" y2="38.05" stroke="#b8b8b8" stroke-width="0.6"/>
<line x1="148.2" y1="79.12" x2="200.5" y2="63.64" stroke="#b8b8b8" stroke-width="0.6"/>
<line x1="200.5" y1="63.64" x2="258.4" y2="79.66" stroke="#b8b8b8" stroke-width="0.6"/>
<line x1="169.47" y1="95.03" x2="225.01" y2="116.55" stroke="#b8b8b8" stroke-width="0.6"/>
<line x1="224.18" y1="92.43" x2="170.05" y2="111.72" stroke="#b8b8b8" stroke-width="0.6"/>
<line x1="179.03" y1="92.07" x2="179.23" y2="38.05" stroke="#b8b8b8" stroke-width="0.6"/>
<line x1="234.72" y1="95.57" x2="234.72" y2="40.65" stroke="#b8b8b8" stroke-width="0.6"/>
<line x1="148.3" y1="69.08" x2="200.5" y2="53.96" stroke="#b8b8b8" stroke-width="0.6"/>
<line x1="200.5" y1="53.96" x2="258.4" y2="69.44" stroke="#b8b8b8" stroke-width="0.6"/>
<line x1="179.03" y1="92.07" x2="235.29" y2="112.25" stroke="#b8b8b8" stroke-width="0.6"/>
<line x1="234.72" y1="95.57" x2="179.85" y2="116.18" stroke="#b8b8b8" stroke-width="0.6"/>
<line x1="188.58" y1="89.1" x2="188.7" y2="35.45" stroke="#b8b8b8" stroke-width="0.6"/>
<line x1="245.26" y1="98.7" x2="245.26" y2="43.25" stroke="#b8b8b8" stroke-width="0.6"/>
<line x1="148.39" y1="59.03" x2="200.5" y2="44.28" stroke="#b8b8b8" stroke-width="0.6"/>
<line x1="200.5" y1="44.28" x2="258.4" y2="59.23" stroke="#b8b8b8" stroke-width="0.6"/>
<line x1="188.58" y1="89.1" x2="245.57" y2="107.96" stroke="#b8b8b8" stroke-width="0.6"/>
<line x1="245.26" y1="98.7" x2="189.66" y2="120.64" stroke="#b8b8b8" stroke-width="0.6"/>
<line x1="198.14" y1="86.13" x2="198.16" y2="32.84" stroke="#b8b8b8" stroke-width="0.6"/>
<line x1="255.79" y1="101.83" x2="255.79" y2="45.86" stroke="#b8b8b8" stroke-width="0.6"/>
<line x1="148.48" y1="48.98" x2="200.5" y2="34.59" stroke="#b8b8b8" stroke-width="0.6"/>
<line x1="200.5" y1="34.59" x2="258.4" y2="49.02" stroke="#b8b8b8" stroke-width="0.6"/>
<line x1="198.14" y1="86.13" x2="255.86" y2="103.66" stroke="#b8b8b8" stroke-width="0.6"/>
<line x1="255.79" y1="101.83" x2="199.47" y2="125.1" stroke="#b8b8b8" stroke-width="0.6"/>
<line x1="146.5" y1="47" x2="146.5" y2="102.2" stroke="#222" stroke-width="0.9"/>
<line x1="146.5" y1="102.2" x2="201.9" y2="126.7" stroke="#222" stroke-width="0.9"/>
<line x1="201.9" y1="126.7" x2="259.9" y2="103.1" stroke="#222" stroke-width="0.9"/>
<path d="M179.2 99.3h0M214.9 85.7h0M214.0 106.9h0M227.9 90.2h0M199.4 108.1h0M220.5 83.9h0M215.7 95.7h0M220.0 91.3h0M213.1 92.4h0M205.8 101.7h0M213.3 85.2h0M210.6 90.8h0M178.5 116.9h0M219.9 100.8h0M212.8 101.7h0M229.7 102.7h0M198.6 96.7h0M217.1 103.7h0M215.0 96.6h0M209.6 99.0h0M220.5 82.6h0M215.2 102.2h0M203.9 82.9h0M211.8 93.3h0M222.6 99.6h0M195.5 81.1h0M210.2 107.8h0M219.9 103.2h0M218.4 84.6h0M221.3 86.6h0M202.2 98.1h0M198.8 91.1h0M170.0 96.6h0M216.7 87.9h0M207.5 95.6h0M200.3 100.2h0M207.9 97.5h0M210.0 100.7h0M219.6 96.2h0M213.5 94.4h0M227.3 83.8h0M197.5 108.8h0M213.9 98.5h0M186.3 104.4h0M222.2 93.4h0M193.5 105.3h0M208.9 95.0h0M213.4 88.7h0M220.5 88.7h0M224.3 92.4h0M236.1 90.6h0M182.5 110.4h0M203.6 105.2h0M221.0 86.7h0M215.4 90.4h0M193.6 89.8h0M217.1 93.8h0M219.3 90.5h0M208.4 104.1h0M206.3 90.6h0M207.7 85.2h0M182.1 108.6h0M212.6 91.5h0M206.2 106.3h0M193.1 88.9h0M220.1 90.1h0M214.1 99.5h0M202.3 95.5h0M209.8 82.0h0M203.3 106.3h0M220.5 103.7h0M197.0 83.7h0M214.9 99.7h0M212.9 102.5h0M207.8 89.3h0M213.9 100.3h0M214.6 101.8h0M210.9 103.4h0M201.6 100.7h0M218.6 97.5h0M194.6 101.1h0M216.9 93.4h0M198.9 99.9h0M208.7 94.3h0M175.9 105.9h0M203.5 94.6h0M198.3 85.1h0M215.6 104.0h0M223.7 96.0h0M203.3 95.4h0M192.4 98.9h0M217.2 90.4h0M199.4 100.2h0M215.0 105.2h0M216.9 92.6h0M187.6 108.4h0M222.8 98.9h0M219.2 89.8h0M217.9 96.2h0M209.9 103.1h0M208.6 94.4h0M212.0 101.8h0M212.3 97.3h0M216.5 96.1h0M213.3 90.7h0M223.6 91.0h0M200.9 106.3h0M204.3 91.9h0M202.7 96.7h0M209.1 91.9h0M199.1 93.4h0M176.1 95.5h0M228.5 101.7h0M207.0 101.7h0M198.1 110.7h0M210.7 93.7h0M204.8 85.9h0M229.3 89.4h0M211.4 111.4h0M203.9 96.7h0M186.6 117.8h0M218.2 95.4h0M207.2 97.8h0M203.6 83.8h0M220.7 87.1h0M210.5 104.8h0M192.3 100.0h0M211.4 91.3h0M208.5 98.1h0M215.6 90.5h0M219.5 89.7h0M217.9 77.6h0M205.0 107.3h0M209.7 97.4h0M219.3 92.2h0M220.9 97.2h0M223.5 95.8h0M220.4 92.3h0M200.9 87.8h0M211.5 90.4h0M177.1 111.4h0M198.3 88.7h0M209.3 107.4h0M212.1 101.5h0M209.5 105.2h0M218.3 101.4h0M200.0 101.4h0M223.7 100.4h0M215.0 93.8h0M224.0 96.8h0M220.2 103.6h0M174.5 106.5h0M220.8 87.5h0M217.9 105.6h0M218.6 94.2h0M202.8 92.5h0M211.6 91.0h0M218.8 105.7h0M217.5 96.8h0M223.5 92.6h0M228.8 103.2h0M210.7 98.9h0M214.5 98.5h0M217.0 104.4h0M218.9 103.2h0M220.1 103.4h0M202.5 100.5h0M214.5 91.1h0M231.4 101.1h0M201.7 100.5h0M204.2 82.1h0M200.4 101.9h0M169.5 101.5h0M220.9 84.3h0M213.0 98.9h0M227.3 89.3h0M228.9 97.9h0M181.0 108.9h0M228.7 85.2h0M204.0 114.3h0M212.5 99.6h0M214.0 92.5h0M170.2 109.5h0M210.0 100.9h0M202.4 94.1h0M208.4 81.8h0M210.3 109.1h0M211.7 90.9h0M217.4 95.2h0M206.8 112.3h0M216.8 105.2h0M205.4 92.0h0M201.7 104.7h0M211.0 96.4h0M199.4 97.3h0M226.5 80.8h0M214.8 91.4h0M212.4 95.6h0M201.9 92.9h0M201.9 77.6h0M203.2 93.2h0M198.5 92.1h0M222.6 103.5h0M216.7 96.6h0M223.9 100.9h0M209.1 84.3h0M222.4 104.0h0M216.2 97.1h0M216.9 95.8h0M209.2 88.4h0M208.1 98.8h0M213.2 103.0h0M206.9 98.1h0M210.8 86.2h0M225.4 80.6h0M204.4 90.0h0M225.3 94.2h0M210.2 93.3h0M201.5 82.4h0M216.4 91.2h0M207.1 95.7h0M203.7 98.6h0M221.7 93.6h0M224.8 92.6h0M223.2 108.2h0M216.4 104.8h0M206.9 94.5h0M223.6 95.0h0M218.7 92.4h0M214.5 87.7h0M196.5 99.7h0M212.2 88.5h0M221.9 94.4h0M219.7 108.3h0M219.8 81.1h0M219.7 97.5h0M213.2 93.5h0M221.7 100.3h0M211.8 91.2h0M220.3 84.5h0M205.8 96.0h0M205.8 98.4h0M219.7 107.3h0M214.5 88.9h0M220.2 112.9h0M213.6 106.7h0M203.0 90.8h0M223.7 94.5h0M214.7 88.8h0M207.8 99.1h0M205.4 101.5h0M192.3 114.4h0M215.0 90.2h0M224.8 105.2h0M178.9 103.7h0M220.8 104.1h0M171.0 100.9h0M207.4 109.2h0M212.1 94.0h0M211.1 95.4h0M217.1 103.4h0M179.7 99.4h0M226.2 104.1h0M215.5 101.9h0M207.9 99.9h0M200.8 103.8h0M231.6 93.8h0M214.6 107.9h0M214.4 92.9h0M212.8 95.6h0M218.5 90.4h0M224.3 86.3h0M222.1 86.7h0M210.3 91.2h0M209.4 91.2h0M214.9 91.5h0M217.8 97.0h0M223.4 95.8h0M207.5 93.5h0M220.1 90.0h0M196.9 95.0h0M217.6 108.2h0M211.9 104.9h0M207.4 93.6h0M209.1 104.7h0M216.4 91.9h0M217.2 103.2h0M226.9 105.8h0M181.7 98.7h0M203.2 99.1h0M218.6 91.1h0M219.2 98.6h0M232.4 91.7h0M220.1 100.8h0M213.2 84.7h0M202.0 98.7h0M209.9 98.0h0M209.2 94.5h0M209.7 100.5h0M215.4 95.8h0M199.6 96.1h0M169.1 102.3h0M214.4 97.6h0M213.6 96.3h0M217.7 96.0h0M207.4 106.9h0M171.0 99.3h0M222.0 85.6h0M210.1 94.4h0M220.2 91.0h0M201.1 108.8h0M230.0 78.7h0M206.4 88.9h0M212.2 100.3h0M192.5 99.7h0M199.2 106.7h0M213.9 99.5h0M226.9 95.3h0M170.6 100.6h0M205.6 101.0h0M223.2 99.5h0M201.3 100.2h0M227.1 99.8h0M210.0 92.8h0M222.0 98.7h0M217.9 96.5h0M230.8 101.8h0M208.0 94.6h0M224.6 105.0h0M203.3 97.1h0M198.2 94.9h0M200.2 111.7h0M201.2 97.7h0M198.4 93.6h0M169.9 112.3h0M200.3 89.1h0M209.9 93.5h0M205.3 85.0h0M219.8 88.0h0M201.2 106.5h0M215.2 105.5h0M196.0 101.3h0M217.6 84.4h0M226.0 94.9h0M210.4 93.4h0M232.8 90.1h0M211.1 94.7h0M212.3 103.2h0M209.2 93.4h0M223.6 99.8h0M197.8 100.3h0M206.4 93.6h0M193.6 106.8h0M219.9 96.4h0M219.6 82.8h0M215.8 99.7h0M200.3 101.1h0M236.6 98.3h0M198.5 96.7h0M204.2 97.0h0M207.5 94.4h0M215.2 112.5h0M214.1 111.3h0M229.6 89.5h0M197.6 108.0h0M219.7 82.9h0M169.6 96.4h0M195.8 95.0h0M214.3 86.8h0M208.5 94.0h0M219.4 107.5h0M213.0 94.9h0M205.8 94.1h0M209.3 99.4h0M215.6 99.4h0M205.9 96.3h0M192.4 95.5h0M189.9 111.8h0M204.4 101.2h0M216.4 92.8h0M218.0 98.1h0M218.6 89.9h0M203.6 105.6h0M211.5 86.5h0M190.0 103.4h0M224.5 89.3h0M219.0 89.6h0M215.9 101.2h0M182.3 95.3h0M198.3 105.6h0M212.0 103.6h0M212.5 99.9h0M212.3 89.1h0M180.2 117.5h0M212.4 92.4h0M207.7 105.6h0M208.2 92.4h0M214.6 93.6h0M210.2 104.9h0M208.7 92.1h0M194.7 96.3h0M221.1 83.2h0M224.8 78.5h0M204.7 92.3h0M225.8 96.6h0M224.2 96.8h0M215.9 89.9h0M211.0 101.8h0M213.3 80.8h0M228.4 90.7h0M219.2 93.1h0M211.1 100.9h0M204.1 87.5h0M219.8 103.0h0M229.5 91.2h0M215.2 94.9h0M215.7 103.0h0M192.4 97.7h0M208.8 94.4h0M204.3 94.7h0" fill="none" stroke="#5a5aa8" stroke-width="1.45" stroke-linecap="round" stroke-opacity="0.8"/>
<path d="M179.2 99.3h0M214.9 85.7h0M214.0 106.9h0M227.9 90.2h0M199.4 108.1h0M220.5 83.9h0M215.7 95.7h0M220.0 91.3h0M213.1 92.4h0M205.8 101.7h0M213.3 85.2h0M210.6 90.8h0M178.5 116.9h0M219.9 100.8h0M212.8 101.7h0M229.7 102.7h0M198.6 96.7h0M217.1 103.7h0M215.0 96.6h0M209.6 99.0h0M220.5 82.6h0M215.2 102.2h0M203.9 82.9h0M211.8 93.3h0M222.6 99.6h0M195.5 81.1h0M210.2 107.8h0M219.9 103.2h0M218.4 84.6h0M221.3 86.6h0M202.2 98.1h0M198.8 91.1h0M170.0 96.6h0M216.7 87.9h0M207.5 95.6h0M200.3 100.2h0M207.9 97.5h0M210.0 100.7h0M219.6 96.2h0M213.5 94.4h0M227.3 83.8h0M197.5 108.8h0M213.9 98.5h0M186.3 104.4h0M222.2 93.4h0M193.5 105.3h0M208.9 95.0h0M213.4 88.7h0M220.5 88.7h0M224.3 92.4h0M236.1 90.6h0M182.5 110.4h0M203.6 105.2h0M221.0 86.7h0M215.4 90.4h0M193.6 89.8h0M217.1 93.8h0M219.3 90.5h0M208.4 104.1h0M206.3 90.6h0M207.7 85.2h0M182.1 108.6h0M212.6 91.5h0M206.2 106.3h0M193.1 88.9h0M220.1 90.1h0M214.1 99.5h0M202.3 95.5h0M209.8 82.0h0M203.3 106.3h0M220.5 103.7h0M197.0 83.7h0M214.9 99.7h0M212.9 102.5h0M207.8 89.3h0M213.9 100.3h0M214.6 101.8h0M210.9 103.4h0M201.6 100.7h0M218.6 97.5h0M194.6 101.1h0M216.9 93.4h0M198.9 99.9h0M208.7 94.3h0M175.9 105.9h0M203.5 94.6h0M198.3 85.1h0M215.6 104.0h0M223.7 96.0h0M203.3 95.4h0M192.4 98.9h0M217.2 90.4h0M199.4 100.2h0M215.0 105.2h0M216.9 92.6h0M187.6 108.4h0M222.8 98.9h0M219.2 89.8h0M217.9 96.2h0M209.9 103.1h0M208.6 94.4h0M212.0 101.8h0M212.3 97.3h0M216.5 96.1h0M213.3 90.7h0M223.6 91.0h0M200.9 106.3h0M204.3 91.9h0M202.7 96.7h0M209.1 91.9h0M199.1 93.4h0M176.1 95.5h0M228.5 101.7h0M207.0 101.7h0M198.1 110.7h0M210.7 93.7h0M204.8 85.9h0M229.3 89.4h0M211.4 111.4h0M203.9 96.7h0M186.6 117.8h0M218.2 95.4h0M207.2 97.8h0M203.6 83.8h0M220.7 87.1h0M210.5 104.8h0M192.3 100.0h0M211.4 91.3h0M208.5 98.1h0M215.6 90.5h0M219.5 89.7h0M217.9 77.6h0M205.0 107.3h0M209.7 97.4h0M219.3 92.2h0M220.9 97.2h0M223.5 95.8h0M220.4 92.3h0M200.9 87.8h0M211.5 90.4h0M177.1 111.4h0M198.3 88.7h0M209.3 107.4h0M212.1 101.5h0M209.5 105.2h0M218.3 101.4h0M200.0 101.4h0M223.7 100.4h0M215.0 93.8h0M224.0 96.8h0M220.2 103.6h0M174.5 106.5h0M220.8 87.5h0M217.9 105.6h0M218.6 94.2h0M202.8 92.5h0M211.6 91.0h0M218.8 105.7h0M217.5 96.8h0M223.5 92.6h0M228.8 103.2h0M210.7 98.9h0M214.5 98.5h0M217.0 104.4h0M218.9 103.2h0M220.1 103.4h0M202.5 100.5h0M214.5 91.1h0M231.4 101.1h0M201.7 100.5h0M204.2 82.1h0M200.4 101.9h0M169.5 101.5h0M220.9 84.3h0M213.0 98.9h0M227.3 89.3h0M228.9 97.9h0M181.0 108.9h0M228.7 85.2h0M204.0 114.3h0M212.5 99.6h0M214.0 92.5h0M170.2 109.5h0M210.0 100.9h0M202.4 94.1h0M208.4 81.8h0M210.3 109.1h0M211.7 90.9h0M217.4 95.2h0M206.8 112.3h0M216.8 105.2h0M205.4 92.0h0M201.7 104.7h0M211.0 96.4h0M199.4 97.3h0M226.5 80.8h0M214.8 91.4h0M212.4 95.6h0M201.9 92.9h0M201.9 77.6h0M203.2 93.2h0M198.5 92.1h0M222.6 103.5h0M216.7 96.6h0M223.9 100.9h0M209.1 84.3h0M222.4 104.0h0M216.2 97.1h0M216.9 95.8h0M209.2 88.4h0M208.1 98.8h0M213.2 103.0h0M206.9 98.1h0M210.8 86.2h0M225.4 80.6h0M204.4 90.0h0M225.3 94.2h0M210.2 93.3h0M201.5 82.4h0M216.4 91.2h0M207.1 95.7h0M203.7 98.6h0M221.7 93.6h0M224.8 92.6h0M223.2 108.2h0M216.4 104.8h0M206.9 94.5h0M223.6 95.0h0M218.7 92.4h0M214.5 87.7h0M196.5 99.7h0M212.2 88.5h0M221.9 94.4h0M219.7 108.3h0M219.8 81.1h0M219.7 97.5h0M213.2 93.5h0M221.7 100.3h0M211.8 91.2h0M220.3 84.5h0M205.8 96.0h0M205.8 98.4h0M219.7 107.3h0M214.5 88.9h0M220.2 112.9h0M213.6 106.7h0M203.0 90.8h0M223.7 94.5h0M214.7 88.8h0M207.8 99.1h0M205.4 101.5h0M192.3 114.4h0M215.0 90.2h0M224.8 105.2h0M178.9 103.7h0M220.8 104.1h0M171.0 100.9h0M207.4 109.2h0M212.1 94.0h0M211.1 95.4h0M217.1 103.4h0M179.7 99.4h0M226.2 104.1h0M215.5 101.9h0M207.9 99.9h0M200.8 103.8h0M231.6 93.8h0M214.6 107.9h0M214.4 92.9h0M212.8 95.6h0M218.5 90.4h0M224.3 86.3h0M222.1 86.7h0M210.3 91.2h0M209.4 91.2h0M214.9 91.5h0M217.8 97.0h0M223.4 95.8h0M207.5 93.5h0M220.1 90.0h0M196.9 95.0h0M217.6 108.2h0M211.9 104.9h0M207.4 93.6h0M209.1 104.7h0M216.4 91.9h0M217.2 103.2h0M226.9 105.8h0M181.7 98.7h0M203.2 99.1h0M218.6 91.1h0M219.2 98.6h0M232.4 91.7h0M220.1 100.8h0M213.2 84.7h0M202.0 98.7h0M209.9 98.0h0M209.2 94.5h0M209.7 100.5h0M215.4 95.8h0M199.6 96.1h0M169.1 102.3h0M214.4 97.6h0M213.6 96.3h0M217.7 96.0h0M207.4 106.9h0M171.0 99.3h0M222.0 85.6h0M210.1 94.4h0M220.2 91.0h0M201.1 108.8h0M230.0 78.7h0M206.4 88.9h0M212.2 100.3h0M192.5 99.7h0M199.2 106.7h0M213.9 99.5h0M226.9 95.3h0M170.6 100.6h0M205.6 101.0h0M223.2 99.5h0M201.3 100.2h0M227.1 99.8h0M210.0 92.8h0M222.0 98.7h0M217.9 96.5h0M230.8 101.8h0M208.0 94.6h0M224.6 105.0h0M203.3 97.1h0M198.2 94.9h0M200.2 111.7h0M201.2 97.7h0M198.4 93.6h0M169.9 112.3h0M200.3 89.1h0M209.9 93.5h0M205.3 85.0h0M219.8 88.0h0M201.2 106.5h0M215.2 105.5h0M196.0 101.3h0M217.6 84.4h0M226.0 94.9h0M210.4 93.4h0M232.8 90.1h0M211.1 94.7h0M212.3 103.2h0M209.2 93.4h0M223.6 99.8h0M197.8 100.3h0M206.4 93.6h0M193.6 106.8h0M219.9 96.4h0M219.6 82.8h0M215.8 99.7h0M200.3 101.1h0M236.6 98.3h0M198.5 96.7h0M204.2 97.0h0M207.5 94.4h0M215.2 112.5h0M214.1 111.3h0M229.6 89.5h0M197.6 108.0h0M219.7 82.9h0M169.6 96.4h0M195.8 95.0h0M214.3 86.8h0M208.5 94.0h0M219.4 107.5h0M213.0 94.9h0M205.8 94.1h0M209.3 99.4h0M215.6 99.4h0M205.9 96.3h0M192.4 95.5h0M189.9 111.8h0M204.4 101.2h0M216.4 92.8h0M218.0 98.1h0M218.6 89.9h0M203.6 105.6h0M211.5 86.5h0M190.0 103.4h0M224.5 89.3h0M219.0 89.6h0M215.9 101.2h0M182.3 95.3h0M198.3 105.6h0M212.0 103.6h0M212.5 99.9h0M212.3 89.1h0M180.2 117.5h0M212.4 92.4h0M207.7 105.6h0M208.2 92.4h0M214.6 93.6h0M210.2 104.9h0M208.7 92.1h0M194.7 96.3h0M221.1 83.2h0M224.8 78.5h0M204.7 92.3h0M225.8 96.6h0M224.2 96.8h0M215.9 89.9h0M211.0 101.8h0M213.3 80.8h0M228.4 90.7h0M219.2 93.1h0M211.1 100.9h0M204.1 87.5h0M219.8 103.0h0M229.5 91.2h0M215.2 94.9h0M215.7 103.0h0M192.4 97.7h0M208.8 94.4h0M204.3 94.7h0" fill="none" stroke="#7c7cd0" stroke-width="0.95" stroke-linecap="round"/>
<path d="M239.4 100.7h0M235.2 103.3h0M235.1 99.3h0M238.0 83.5h0M242.6 98.0h0M228.4 94.3h0M230.7 64.1h0M235.9 100.0h0M229.8 101.4h0M231.0 79.5h0M240.9 97.7h0M241.1 96.0h0M240.8 103.8h0M239.5 93.7h0M248.5 96.6h0M238.5 96.6h0M236.9 98.0h0M247.3 101.8h0M240.1 101.4h0M227.2 101.9h0M244.9 100.2h0M224.5 102.4h0M237.0 95.5h0M235.1 98.6h0M232.6 95.4h0M238.8 94.0h0M230.0 99.5h0M246.2 100.7h0M238.0 99.8h0M245.8 89.5h0M238.8 98.7h0M243.1 95.9h0M236.8 100.5h0M235.7 93.8h0M232.9 96.8h0M227.6 94.8h0M241.2 94.8h0M239.5 103.8h0M241.3 93.2h0M229.4 97.7h0M244.1 89.8h0M233.8 100.5h0M226.1 99.2h0M223.7 103.4h0M238.1 80.9h0M239.1 103.2h0M228.2 87.5h0M243.8 101.6h0M232.5 99.5h0M239.2 91.2h0M235.0 98.3h0M237.0 92.4h0M239.2 103.6h0M236.8 100.4h0M242.6 106.4h0M244.1 92.8h0M233.0 108.8h0M235.9 91.9h0M237.0 104.3h0M246.0 94.9h0M242.6 100.9h0M238.8 97.5h0M236.5 99.1h0M241.9 95.1h0M230.9 97.2h0M246.8 93.1h0M231.0 96.3h0M239.5 106.1h0M243.4 94.4h0M235.3 64.7h0M239.1 99.0h0M231.5 96.5h0M235.6 96.2h0M239.3 101.2h0M244.3 89.5h0M235.7 82.3h0M236.3 95.0h0M230.8 97.3h0M245.0 91.6h0M240.8 99.9h0M239.4 93.6h0M235.2 93.5h0M234.3 95.0h0M239.8 102.9h0M243.8 95.8h0M234.8 96.4h0M235.6 96.9h0M234.3 102.4h0M241.6 102.0h0M229.8 93.5h0M233.4 97.8h0M225.8 100.8h0M234.1 92.1h0M235.9 72.3h0M238.9 101.2h0M234.0 90.8h0M251.9 94.8h0M243.6 98.8h0M236.0 99.5h0M238.7 90.9h0M232.7 99.9h0M236.0 92.8h0M238.1 96.3h0M238.5 92.4h0M233.7 62.3h0M238.2 99.1h0M243.3 103.4h0M214.1 97.1h0M235.4 98.6h0M240.5 69.7h0M237.2 97.7h0M223.3 102.8h0M228.2 97.6h0M241.7 91.1h0M243.0 97.0h0M223.1 95.9h0M230.7 94.2h0M237.4 102.2h0M227.6 102.3h0M229.9 95.0h0M241.2 93.9h0M234.7 66.7h0M233.5 93.6h0M239.6 105.9h0M239.6 94.9h0M228.3 96.0h0M229.1 92.9h0M251.9 104.3h0M245.8 102.1h0M238.8 99.6h0M235.7 98.1h0M237.0 99.1h0M218.7 99.8h0M243.9 92.2h0M238.4 94.0h0M232.0 99.3h0M236.8 97.3h0M236.7 95.1h0M243.0 98.8h0M225.5 98.7h0M231.9 92.6h0M244.3 96.9h0M233.3 71.3h0M242.7 102.8h0M237.5 99.5h0M241.2 100.3h0M237.4 97.8h0M246.7 96.8h0M225.6 97.1h0M240.8 93.7h0M242.0 98.4h0M242.5 102.3h0M241.2 97.1h0M245.0 95.3h0M235.2 97.2h0M227.4 89.1h0M237.6 102.0h0M226.7 104.6h0M227.6 99.7h0M234.5 95.0h0M235.1 106.0h0M232.4 94.0h0M237.9 96.3h0M234.9 103.4h0M232.2 97.9h0M232.9 97.1h0M236.0 99.8h0M244.5 96.0h0M234.1 91.4h0M235.2 97.1h0M236.9 90.3h0M223.9 98.5h0M237.0 96.5h0M237.9 104.9h0M233.4 98.6h0M237.0 93.3h0M230.3 95.2h0M239.2 78.1h0M236.6 95.9h0M232.5 95.7h0M233.8 95.1h0M235.3 103.4h0M243.2 94.4h0M228.8 100.8h0M240.3 89.3h0M238.0 85.1h0M226.5 101.5h0M238.1 94.2h0M235.5 96.5h0M233.8 104.8h0M228.2 81.5h0M238.7 65.3h0M236.7 97.7h0M243.6 96.1h0M241.5 94.6h0M243.9 99.5h0M237.1 95.1h0M242.3 99.7h0M227.8 95.6h0M230.1 102.1h0M231.1 93.2h0M232.9 105.4h0M247.0 95.1h0M241.5 97.0h0M235.7 91.7h0M236.5 95.9h0M229.4 100.0h0M242.2 99.8h0M242.5 100.1h0M231.5 102.6h0M237.9 93.9h0M234.6 104.1h0M244.0 96.7h0M234.6 96.0h0M231.0 102.2h0M238.3 103.4h0M236.6 94.3h0M228.3 102.3h0M237.5 88.7h0M244.5 95.0h0M244.1 98.8h0M234.5 98.6h0M244.5 99.1h0M239.8 92.8h0M232.7 95.7h0M229.7 102.8h0M234.3 103.4h0M231.6 64.3h0M234.5 87.6h0M230.2 106.3h0M231.6 91.7h0M238.7 100.0h0M237.1 102.9h0M242.5 100.0h0M241.1 98.7h0M242.3 98.2h0M231.8 107.7h0M235.4 96.4h0M237.7 94.3h0M244.0 100.0h0M241.1 98.5h0M261.2 88.9h0M239.3 90.9h0M239.2 105.6h0M234.2 97.6h0M243.0 104.7h0M232.6 107.8h0M238.8 101.3h0M236.6 99.5h0M240.1 72.2h0M233.0 95.3h0M227.2 101.8h0M231.7 95.1h0M241.5 102.0h0M232.9 98.7h0M234.2 95.9h0M243.5 98.8h0M241.6 85.3h0M226.8 104.3h0M230.2 99.8h0M239.0 88.1h0M239.3 95.3h0M246.0 94.3h0M228.6 98.6h0M238.6 107.7h0M246.4 98.5h0M238.2 94.7h0M228.9 71.2h0M237.5 102.5h0M235.9 100.3h0M238.2 94.0h0M232.8 69.9h0M236.8 92.9h0M239.8 93.1h0M233.8 90.4h0M245.9 102.0h0M237.6 92.1h0M244.1 98.9h0M241.0 97.8h0M240.3 93.1h0M245.3 103.9h0M239.0 94.1h0M242.9 97.2h0M236.6 98.6h0M233.9 90.2h0M245.8 103.7h0M240.5 72.7h0M234.4 91.5h0M240.3 91.7h0M233.4 69.6h0M241.5 91.2h0M238.6 106.5h0M239.3 97.9h0M231.1 89.2h0M238.7 89.5h0M231.7 94.2h0M234.1 103.9h0M236.0 95.7h0M237.4 90.5h0M240.4 95.4h0M229.9 100.0h0M240.2 97.7h0M236.4 99.4h0M235.2 93.6h0M228.0 96.6h0M235.6 102.0h0M229.5 104.1h0M238.9 103.1h0M234.9 95.5h0M239.3 89.0h0M252.0 90.1h0M237.6 99.7h0M242.1 99.0h0M231.4 94.8h0M242.1 91.8h0M234.1 100.5h0M238.6 95.8h0M241.0 98.4h0M227.9 100.4h0M226.2 100.3h0M239.9 96.7h0M241.7 97.9h0M238.6 87.0h0M237.9 96.6h0M231.6 96.7h0M237.3 95.9h0M240.7 101.7h0M236.9 98.5h0M241.6 98.4h0M241.2 102.9h0M236.4 99.5h0M233.0 94.3h0M240.8 95.4h0M226.3 108.6h0M241.7 101.7h0M232.7 98.8h0M227.3 98.7h0M230.4 96.8h0M248.7 99.8h0M237.4 102.8h0M248.8 102.6h0M233.0 100.1h0M238.9 98.2h0M226.5 96.8h0M236.6 105.9h0M244.4 100.4h0M243.3 88.7h0M231.9 105.5h0M235.7 92.9h0M235.2 101.2h0M232.7 97.9h0M242.6 96.4h0M236.0 58.1h0M231.6 102.4h0M235.0 100.0h0M230.5 99.4h0M244.3 93.5h0M235.1 103.0h0M235.3 102.9h0M238.0 103.8h0M234.1 95.1h0M238.0 92.4h0M238.9 90.2h0M236.1 87.6h0M236.8 92.2h0M243.8 95.6h0M229.6 99.0h0M239.8 96.8h0M230.4 95.4h0M237.7 97.4h0M242.1 96.7h0M235.0 92.9h0M225.5 96.4h0M231.9 100.3h0M245.7 82.1h0M236.1 102.7h0M243.1 95.5h0M242.6 93.7h0M248.5 90.7h0M240.0 98.1h0M240.1 93.2h0M244.1 93.8h0M227.5 74.3h0M247.4 95.0h0M238.1 100.9h0M230.1 97.0h0M243.1 103.1h0M244.1 100.8h0M231.8 71.9h0M249.6 98.4h0M239.6 92.9h0M237.1 98.3h0M225.3 89.1h0M237.6 104.3h0M233.5 94.4h0M237.6 105.6h0M241.8 98.1h0M230.2 101.4h0M243.0 102.4h0M236.1 81.9h0" fill="none" stroke="#86b874" stroke-width="1.45" stroke-linecap="round" stroke-opacity="0.8"/>
<path d="M239.4 100.7h0M235.2 103.3h0M235.1 99.3h0M238.0 83.5h0M242.6 98.0h0M228.4 94.3h0M230.7 64.1h0M235.9 100.0h0M229.8 101.4h0M231.0 79.5h0M240.9 97.7h0M241.1 96.0h0M240.8 103.8h0M239.5 93.7h0M248.5 96.6h0M238.5 96.6h0M236.9 98.0h0M247.3 101.8h0M240.1 101.4h0M227.2 101.9h0M244.9 100.2h0M224.5 102.4h0M237.0 95.5h0M235.1 98.6h0M232.6 95.4h0M238.8 94.0h0M230.0 99.5h0M246.2 100.7h0M238.0 99.8h0M245.8 89.5h0M238.8 98.7h0M243.1 95.9h0M236.8 100.5h0M235.7 93.8h0M232.9 96.8h0M227.6 94.8h0M241.2 94.8h0M239.5 103.8h0M241.3 93.2h0M229.4 97.7h0M244.1 89.8h0M233.8 100.5h0M226.1 99.2h0M223.7 103.4h0M238.1 80.9h0M239.1 103.2h0M228.2 87.5h0M243.8 101.6h0M232.5 99.5h0M239.2 91.2h0M235.0 98.3h0M237.0 92.4h0M239.2 103.6h0M236.8 100.4h0M242.6 106.4h0M244.1 92.8h0M233.0 108.8h0M235.9 91.9h0M237.0 104.3h0M246.0 94.9h0M242.6 100.9h0M238.8 97.5h0M236.5 99.1h0M241.9 95.1h0M230.9 97.2h0M246.8 93.1h0M231.0 96.3h0M239.5 106.1h0M243.4 94.4h0M235.3 64.7h0M239.1 99.0h0M231.5 96.5h0M235.6 96.2h0M239.3 101.2h0M244.3 89.5h0M235.7 82.3h0M236.3 95.0h0M230.8 97.3h0M245.0 91.6h0M240.8 99.9h0M239.4 93.6h0M235.2 93.5h0M234.3 95.0h0M239.8 102.9h0M243.8 95.8h0M234.8 96.4h0M235.6 96.9h0M234.3 102.4h0M241.6 102.0h0M229.8 93.5h0M233.4 97.8h0M225.8 100.8h0M234.1 92.1h0M235.9 72.3h0M238.9 101.2h0M234.0 90.8h0M251.9 94.8h0M243.6 98.8h0M236.0 99.5h0M238.7 90.9h0M232.7 99.9h0M236.0 92.8h0M238.1 96.3h0M238.5 92.4h0M233.7 62.3h0M238.2 99.1h0M243.3 103.4h0M214.1 97.1h0M235.4 98.6h0M240.5 69.7h0M237.2 97.7h0M223.3 102.8h0M228.2 97.6h0M241.7 91.1h0M243.0 97.0h0M223.1 95.9h0M230.7 94.2h0M237.4 102.2h0M227.6 102.3h0M229.9 95.0h0M241.2 93.9h0M234.7 66.7h0M233.5 93.6h0M239.6 105.9h0M239.6 94.9h0M228.3 96.0h0M229.1 92.9h0M251.9 104.3h0M245.8 102.1h0M238.8 99.6h0M235.7 98.1h0M237.0 99.1h0M218.7 99.8h0M243.9 92.2h0M238.4 94.0h0M232.0 99.3h0M236.8 97.3h0M236.7 95.1h0M243.0 98.8h0M225.5 98.7h0M231.9 92.6h0M244.3 96.9h0M233.3 71.3h0M242.7 102.8h0M237.5 99.5h0M241.2 100.3h0M237.4 97.8h0M246.7 96.8h0M225.6 97.1h0M240.8 93.7h0M242.0 98.4h0M242.5 102.3h0M241.2 97.1h0M245.0 95.3h0M235.2 97.2h0M227.4 89.1h0M237.6 102.0h0M226.7 104.6h0M227.6 99.7h0M234.5 95.0h0M235.1 106.0h0M232.4 94.0h0M237.9 96.3h0M234.9 103.4h0M232.2 97.9h0M232.9 97.1h0M236.0 99.8h0M244.5 96.0h0M234.1 91.4h0M235.2 97.1h0M236.9 90.3h0M223.9 98.5h0M237.0 96.5h0M237.9 104.9h0M233.4 98.6h0M237.0 93.3h0M230.3 95.2h0M239.2 78.1h0M236.6 95.9h0M232.5 95.7h0M233.8 95.1h0M235.3 103.4h0M243.2 94.4h0M228.8 100.8h0M240.3 89.3h0M238.0 85.1h0M226.5 101.5h0M238.1 94.2h0M235.5 96.5h0M233.8 104.8h0M228.2 81.5h0M238.7 65.3h0M236.7 97.7h0M243.6 96.1h0M241.5 94.6h0M243.9 99.5h0M237.1 95.1h0M242.3 99.7h0M227.8 95.6h0M230.1 102.1h0M231.1 93.2h0M232.9 105.4h0M247.0 95.1h0M241.5 97.0h0M235.7 91.7h0M236.5 95.9h0M229.4 100.0h0M242.2 99.8h0M242.5 100.1h0M231.5 102.6h0M237.9 93.9h0M234.6 104.1h0M244.0 96.7h0M234.6 96.0h0M231.0 102.2h0M238.3 103.4h0M236.6 94.3h0M228.3 102.3h0M237.5 88.7h0M244.5 95.0h0M244.1 98.8h0M234.5 98.6h0M244.5 99.1h0M239.8 92.8h0M232.7 95.7h0M229.7 102.8h0M234.3 103.4h0M231.6 64.3h0M234.5 87.6h0M230.2 106.3h0M231.6 91.7h0M238.7 100.0h0M237.1 102.9h0M242.5 100.0h0M241.1 98.7h0M242.3 98.2h0M231.8 107.7h0M235.4 96.4h0M237.7 94.3h0M244.0 100.0h0M241.1 98.5h0M261.2 88.9h0M239.3 90.9h0M239.2 105.6h0M234.2 97.6h0M243.0 104.7h0M232.6 107.8h0M238.8 101.3h0M236.6 99.5h0M240.1 72.2h0M233.0 95.3h0M227.2 101.8h0M231.7 95.1h0M241.5 102.0h0M232.9 98.7h0M234.2 95.9h0M243.5 98.8h0M241.6 85.3h0M226.8 104.3h0M230.2 99.8h0M239.0 88.1h0M239.3 95.3h0M246.0 94.3h0M228.6 98.6h0M238.6 107.7h0M246.4 98.5h0M238.2 94.7h0M228.9 71.2h0M237.5 102.5h0M235.9 100.3h0M238.2 94.0h0M232.8 69.9h0M236.8 92.9h0M239.8 93.1h0M233.8 90.4h0M245.9 102.0h0M237.6 92.1h0M244.1 98.9h0M241.0 97.8h0M240.3 93.1h0M245.3 103.9h0M239.0 94.1h0M242.9 97.2h0M236.6 98.6h0M233.9 90.2h0M245.8 103.7h0M240.5 72.7h0M234.4 91.5h0M240.3 91.7h0M233.4 69.6h0M241.5 91.2h0M238.6 106.5h0M239.3 97.9h0M231.1 89.2h0M238.7 89.5h0M231.7 94.2h0M234.1 103.9h0M236.0 95.7h0M237.4 90.5h0M240.4 95.4h0M229.9 100.0h0M240.2 97.7h0M236.4 99.4h0M235.2 93.6h0M228.0 96.6h0M235.6 102.0h0M229.5 104.1h0M238.9 103.1h0M234.9 95.5h0M239.3 89.0h0M252.0 90.1h0M237.6 99.7h0M242.1 99.0h0M231.4 94.8h0M242.1 91.8h0M234.1 100.5h0M238.6 95.8h0M241.0 98.4h0M227.9 100.4h0M226.2 100.3h0M239.9 96.7h0M241.7 97.9h0M238.6 87.0h0M237.9 96.6h0M231.6 96.7h0M237.3 95.9h0M240.7 101.7h0M236.9 98.5h0M241.6 98.4h0M241.2 102.9h0M236.4 99.5h0M233.0 94.3h0M240.8 95.4h0M226.3 108.6h0M241.7 101.7h0M232.7 98.8h0M227.3 98.7h0M230.4 96.8h0M248.7 99.8h0M237.4 102.8h0M248.8 102.6h0M233.0 100.1h0M238.9 98.2h0M226.5 96.8h0M236.6 105.9h0M244.4 100.4h0M243.3 88.7h0M231.9 105.5h0M235.7 92.9h0M235.2 101.2h0M232.7 97.9h0M242.6 96.4h0M236.0 58.1h0M231.6 102.4h0M235.0 100.0h0M230.5 99.4h0M244.3 93.5h0M235.1 103.0h0M235.3 102.9h0M238.0 103.8h0M234.1 95.1h0M238.0 92.4h0M238.9 90.2h0M236.1 87.6h0M236.8 92.2h0M243.8 95.6h0M229.6 99.0h0M239.8 96.8h0M230.4 95.4h0M237.7 97.4h0M242.1 96.7h0M235.0 92.9h0M225.5 96.4h0M231.9 100.3h0M245.7 82.1h0M236.1 102.7h0M243.1 95.5h0M242.6 93.7h0M248.5 90.7h0M240.0 98.1h0M240.1 93.2h0M244.1 93.8h0M227.5 74.3h0M247.4 95.0h0M238.1 100.9h0M230.1 97.0h0M243.1 103.1h0M244.1 100.8h0M231.8 71.9h0M249.6 98.4h0M239.6 92.9h0M237.1 98.3h0M225.3 89.1h0M237.6 104.3h0M233.5 94.4h0M237.6 105.6h0M241.8 98.1h0M230.2 101.4h0M243.0 102.4h0M236.1 81.9h0" fill="none" stroke="#a9d894" stroke-width="0.95" stroke-linecap="round"/>
<text x="144" y="104.49" font-size="7.2" text-anchor="end" fill="#333" font-weight="normal" stroke="#333" stroke-width="0.08">0.0</text>
<text x="144.45" y="112.94" font-size="7.2" text-anchor="middle" fill="#333" font-weight="normal" stroke="#333" stroke-width="0.08">0.0</text>
<text x="254.78" y="115.73" font-size="7.2" text-anchor="middle" fill="#333" font-weight="normal" stroke="#333" stroke-width="0.08">0.0</text>
<text x="144" y="94.55" font-size="7.2" text-anchor="end" fill="#333" font-weight="normal" stroke="#333" stroke-width="0.08">0.2</text>
<text x="154.35" y="116.76" font-size="7.2" text-anchor="middle" fill="#333" font-weight="normal" stroke="#333" stroke-width="0.08">0.2</text>
<text x="246.23" y="119.11" font-size="7.2" text-anchor="middle" fill="#333" font-weight="normal" stroke="#333" stroke-width="0.08">0.2</text>
<text x="144" y="84.61" font-size="7.2" text-anchor="end" fill="#333" font-weight="normal" stroke="#333" stroke-width="0.08">0.4</text>
<text x="164.25" y="120.58" font-size="7.2" text-anchor="middle" fill="#333" font-weight="normal" stroke="#333" stroke-width="0.08">0.4</text>
<text x="237.68" y="122.5" font-size="7.2" text-anchor="middle" fill="#333" font-weight="normal" stroke="#333" stroke-width="0.08">0.4</text>
<text x="144" y="74.67" font-size="7.2" text-anchor="end" fill="#333" font-weight="normal" stroke="#333" stroke-width="0.08">0.6</text>
<text x="174.15" y="124.4" font-size="7.2" text-anchor="middle" fill="#333" font-weight="normal" stroke="#333" stroke-width="0.08">0.6</text>
<text x="229.12" y="125.88" font-size="7.2" text-anchor="middle" fill="#333" font-weight="normal" stroke="#333" stroke-width="0.08">0.6</text>
<text x="144" y="64.73" font-size="7.2" text-anchor="end" fill="#333" font-weight="normal" stroke="#333" stroke-width="0.08">0.8</text>
<text x="184.05" y="128.23" font-size="7.2" text-anchor="middle" fill="#333" font-weight="normal" stroke="#333" stroke-width="0.08">0.8</text>
<text x="220.57" y="129.27" font-size="7.2" text-anchor="middle" fill="#333" font-weight="normal" stroke="#333" stroke-width="0.08">0.8</text>
<text x="144" y="54.79" font-size="7.2" text-anchor="end" fill="#333" font-weight="normal" stroke="#333" stroke-width="0.08">1.0</text>
<text x="193.95" y="132.05" font-size="7.2" text-anchor="middle" fill="#333" font-weight="normal" stroke="#333" stroke-width="0.08">1.0</text>
<text x="212.02" y="132.66" font-size="7.2" text-anchor="middle" fill="#333" font-weight="normal" stroke="#333" stroke-width="0.08">1.0</text>
<text x="204" y="27.72" font-size="7.0" text-anchor="middle" fill="#222" font-weight="normal" stroke="#222" stroke-width="0.08">MIMIC-IV</text>
<rect x="269.5" y="36" width="120" height="100" fill="#fff" stroke="none" stroke-width="1"/>
<path d="M277.5,46.5 L329.5,32.2 L329.5,85.4 L277,101.7 L277.5,46.5" fill="#f2f2f2" stroke="none" stroke-width="1"/>
<path d="M329.5,32.2 L387.4,46.5 L387.4,102.6 L329.5,85.4 L329.5,32.2" fill="#ebebeb" stroke="none" stroke-width="1"/>
<path d="M277,101.7 L329.5,85.4 L387.4,102.6 L330.9,126.2 L277,101.7" fill="#f6f6f6" stroke="none" stroke-width="1"/>
<line x1="279.36" y1="100.97" x2="279.84" y2="45.86" stroke="#b8b8b8" stroke-width="0.6"/>
<line x1="332.11" y1="86.17" x2="332.11" y2="32.84" stroke="#b8b8b8" stroke-width="0.6"/>
<line x1="277.02" y1="99.22" x2="329.5" y2="83.01" stroke="#b8b8b8" stroke-width="0.6"/>
<line x1="329.5" y1="83.01" x2="387.4" y2="100.08" stroke="#b8b8b8" stroke-width="0.6"/>
<line x1="279.36" y1="100.97" x2="333.44" y2="125.14" stroke="#b8b8b8" stroke-width="0.6"/>
<line x1="332.11" y1="86.17" x2="279.43" y2="102.8" stroke="#b8b8b8" stroke-width="0.6"/>
<line x1="288.92" y1="98" x2="289.3" y2="43.25" stroke="#b8b8b8" stroke-width="0.6"/>
<line x1="342.64" y1="89.3" x2="342.64" y2="35.45" stroke="#b8b8b8" stroke-width="0.6"/>
<line x1="277.11" y1="89.17" x2="329.5" y2="73.32" stroke="#b8b8b8" stroke-width="0.6"/>
<line x1="329.5" y1="73.32" x2="387.4" y2="89.87" stroke="#b8b8b8" stroke-width="0.6"/>
<line x1="288.92" y1="98" x2="343.73" y2="120.84" stroke="#b8b8b8" stroke-width="0.6"/>
<line x1="342.64" y1="89.3" x2="289.24" y2="107.26" stroke="#b8b8b8" stroke-width="0.6"/>
<line x1="298.47" y1="95.03" x2="298.77" y2="40.65" stroke="#b8b8b8" stroke-width="0.6"/>
<line x1="353.18" y1="92.43" x2="353.18" y2="38.05" stroke="#b8b8b8" stroke-width="0.6"/>
<line x1="277.2" y1="79.12" x2="329.5" y2="63.64" stroke="#b8b8b8" stroke-width="0.6"/>
<line x1="329.5" y1="63.64" x2="387.4" y2="79.66" stroke="#b8b8b8" stroke-width="0.6"/>
<line x1="298.47" y1="95.03" x2="354.01" y2="116.55" stroke="#b8b8b8" stroke-width="0.6"/>
<line x1="353.18" y1="92.43" x2="299.05" y2="111.72" stroke="#b8b8b8" stroke-width="0.6"/>
<line x1="308.03" y1="92.07" x2="308.23" y2="38.05" stroke="#b8b8b8" stroke-width="0.6"/>
<line x1="363.72" y1="95.57" x2="363.72" y2="40.65" stroke="#b8b8b8" stroke-width="0.6"/>
<line x1="277.3" y1="69.08" x2="329.5" y2="53.96" stroke="#b8b8b8" stroke-width="0.6"/>
<line x1="329.5" y1="53.96" x2="387.4" y2="69.44" stroke="#b8b8b8" stroke-width="0.6"/>
<line x1="308.03" y1="92.07" x2="364.29" y2="112.25" stroke="#b8b8b8" stroke-width="0.6"/>
<line x1="363.72" y1="95.57" x2="308.85" y2="116.18" stroke="#b8b8b8" stroke-width="0.6"/>
<line x1="317.58" y1="89.1" x2="317.7" y2="35.45" stroke="#b8b8b8" stroke-width="0.6"/>
<line x1="374.26" y1="98.7" x2="374.26" y2="43.25" stroke="#b8b8b8" stroke-width="0.6"/>
<line x1="277.39" y1="59.03" x2="329.5" y2="44.28" stroke="#b8b8b8" stroke-width="0.6"/>
<line x1="329.5" y1="44.28" x2="387.4" y2="59.23" stroke="#b8b8b8" stroke-width="0.6"/>
<line x1="317.58" y1="89.1" x2="374.57" y2="107.96" stroke="#b8b8b8" stroke-width="0.6"/>
<line x1="374.26" y1="98.7" x2="318.66" y2="120.64" stroke="#b8b8b8" stroke-width="0.6"/>
<line x1="327.14" y1="86.13" x2="327.16" y2="32.84" stroke="#b8b8b8" stroke-width="0.6"/>
<line x1="384.79" y1="101.83" x2="384.79" y2="45.86" stroke="#b8b8b8" stroke-width="0.6"/>
<line x1="277.48" y1="48.98" x2="329.5" y2="34.59" stroke="#b8b8b8" stroke-width="0.6"/>
<line x1="329.5" y1="34.59" x2="387.4" y2="49.02" stroke="#b8b8b8" stroke-width="0.6"/>
<line x1="327.14" y1="86.13" x2="384.86" y2="103.66" stroke="#b8b8b8" stroke-width="0.6"/>
<line x1="384.79" y1="101.83" x2="328.47" y2="125.1" stroke="#b8b8b8" stroke-width="0.6"/>
<line x1="275.5" y1="47" x2="275.5" y2="102.2" stroke="#222" stroke-width="0.9"/>
<line x1="275.5" y1="102.2" x2="330.9" y2="126.7" stroke="#222" stroke-width="0.9"/>
<line x1="330.9" y1="126.7" x2="388.9" y2="103.1" stroke="#222" stroke-width="0.9"/>
<path d="M343.5 94.8h0M363.1 78.9h0M380.4 86.5h0M367.5 94.2h0M348.5 92.7h0M357.8 92.7h0M348.7 95.8h0M368.7 62.0h0M370.0 93.9h0M351.1 99.4h0M349.4 90.0h0M348.3 98.1h0M358.3 95.4h0M332.5 102.9h0M357.8 90.1h0M362.4 96.1h0M370.7 92.8h0M350.8 98.7h0M349.7 95.3h0M352.8 97.4h0M367.3 88.2h0M357.8 96.9h0M369.3 86.3h0M335.8 58.9h0M351.8 95.5h0M372.1 96.1h0M350.2 97.7h0M340.3 72.9h0M356.5 106.1h0M360.7 90.4h0M381.0 95.4h0M368.5 92.9h0M380.7 80.5h0M346.4 91.5h0M367.9 92.2h0M371.1 97.3h0M382.6 89.4h0M354.2 90.2h0M342.4 96.3h0M353.5 87.0h0M347.0 99.0h0M352.4 95.3h0M372.4 92.6h0M352.6 101.4h0M364.6 94.6h0M368.4 93.7h0M361.0 90.1h0M339.8 97.5h0M366.2 89.7h0M361.9 86.0h0M375.4 83.7h0M356.9 88.4h0M356.6 95.9h0M371.8 90.1h0M334.5 96.7h0M379.8 90.0h0M368.5 69.3h0M354.8 93.1h0M358.7 90.4h0M361.6 99.9h0M344.5 98.6h0M360.7 83.8h0M374.5 101.6h0M361.4 91.8h0M347.1 96.4h0M346.6 88.4h0M341.6 96.8h0M361.8 91.7h0M371.8 92.5h0M351.6 95.4h0M356.4 93.5h0M355.4 91.4h0M343.6 98.4h0M339.5 76.9h0M355.0 98.7h0M348.5 94.8h0M336.4 96.8h0M372.8 91.5h0M347.8 65.1h0M362.8 94.2h0M333.3 94.0h0M362.7 87.7h0M347.6 71.0h0M379.7 95.5h0M360.1 94.5h0M356.3 99.4h0M347.7 91.3h0M354.9 96.2h0M364.7 90.2h0M343.6 70.1h0M348.8 82.8h0M360.7 92.7h0M365.2 91.9h0M369.9 91.2h0M349.9 96.1h0M352.0 98.2h0M350.8 94.0h0M355.5 89.1h0M365.6 95.7h0M349.8 95.6h0M362.0 95.3h0M363.0 94.0h0M358.7 92.7h0M354.5 94.2h0M332.0 92.0h0M374.0 89.7h0M378.8 86.7h0M369.2 98.2h0M352.3 97.0h0M358.2 84.5h0M365.8 87.9h0M375.1 88.0h0M343.8 90.0h0M365.1 90.8h0M335.6 68.9h0M357.9 99.2h0M365.5 88.9h0M350.8 99.1h0M369.7 91.7h0M355.8 97.3h0M359.5 81.1h0M374.1 63.3h0M345.4 90.2h0M364.6 87.4h0M364.4 96.9h0M373.5 96.1h0M366.7 84.2h0M347.2 91.9h0M350.7 91.4h0M358.8 91.0h0M327.0 100.0h0M346.0 87.7h0M341.5 95.5h0M360.1 89.8h0M336.7 63.5h0M354.0 94.1h0M344.5 99.4h0M375.4 66.2h0M353.5 99.0h0M371.3 92.4h0M337.6 99.6h0M353.8 97.0h0M367.0 64.6h0M350.7 104.5h0M375.4 83.4h0M352.9 98.8h0M371.7 89.8h0M356.2 90.3h0M340.5 96.2h0M362.5 90.8h0M353.7 104.2h0M340.9 100.2h0M375.4 75.1h0M349.5 96.9h0M339.5 99.3h0M355.9 87.0h0M345.6 92.6h0M340.0 98.1h0M359.6 93.0h0M362.9 96.9h0M361.9 85.1h0M353.8 92.4h0M351.5 92.9h0M344.1 95.5h0M360.7 91.1h0M342.2 98.1h0M354.3 91.4h0M350.6 90.7h0M355.3 93.7h0M338.1 85.3h0M375.9 86.7h0M363.7 75.4h0M360.7 96.7h0M361.0 91.4h0M360.5 78.1h0M372.2 86.9h0M367.9 88.5h0M351.7 91.4h0M349.6 95.7h0M376.6 92.6h0M347.8 90.8h0M342.7 97.1h0M366.2 94.3h0M350.9 100.2h0M365.1 80.0h0M353.4 72.6h0M367.0 96.8h0M376.1 85.2h0M338.0 86.3h0M359.2 95.2h0M351.2 94.5h0M349.9 92.1h0M356.3 88.7h0M359.0 92.5h0M335.0 100.7h0M363.0 92.0h0M339.4 99.6h0M353.9 100.0h0M349.6 97.4h0M350.6 94.4h0M358.4 93.1h0M372.2 92.2h0M365.7 90.9h0M336.4 66.0h0M346.4 84.7h0M343.6 100.5h0M349.0 99.8h0M367.1 95.3h0M348.6 93.7h0M368.4 98.7h0M349.4 99.4h0M360.6 100.4h0M336.0 97.3h0M347.0 97.2h0M358.6 87.8h0M331.6 92.3h0M348.3 101.3h0M364.1 91.7h0M343.6 90.5h0M370.5 87.1h0M348.1 91.8h0M371.9 86.6h0M338.6 98.0h0M342.2 97.4h0M354.3 97.3h0M352.9 89.6h0M356.5 96.8h0M340.0 99.9h0M381.2 66.9h0M351.5 95.3h0M373.7 91.4h0M343.5 103.5h0M359.0 93.8h0M350.1 89.6h0M358.3 92.3h0M338.5 96.3h0M349.5 88.7h0M356.9 90.4h0M324.3 98.0h0M348.3 98.8h0M354.3 89.4h0M344.1 89.7h0M370.2 91.7h0M356.9 93.1h0M326.7 97.6h0M361.0 89.8h0M369.6 93.2h0M344.1 106.7h0M371.9 92.4h0M344.2 95.2h0M353.0 98.9h0M364.5 89.4h0M343.4 100.1h0M353.7 94.2h0M361.5 96.4h0M364.1 94.2h0M349.8 94.3h0M343.4 88.9h0M359.4 98.4h0M356.2 93.8h0M366.5 88.2h0M344.9 94.1h0M361.1 97.0h0M365.4 90.3h0M345.1 94.2h0M374.0 85.0h0M326.4 106.4h0M346.8 95.4h0M349.1 95.4h0M351.9 95.6h0M367.5 87.3h0M368.8 85.9h0M358.2 93.0h0M371.2 86.7h0M349.8 90.4h0M344.8 96.4h0M360.2 58.5h0M380.6 89.3h0M366.6 84.0h0M340.3 95.7h0M361.3 61.9h0M351.8 93.4h0M364.5 90.9h0M345.5 93.9h0M352.2 86.2h0M343.4 76.6h0M374.3 95.9h0M349.4 95.0h0M381.9 96.3h0M344.8 93.3h0M363.4 94.4h0M363.4 83.4h0M353.4 97.2h0M344.7 93.6h0M348.7 71.0h0M361.7 93.7h0M342.3 99.0h0M327.5 101.7h0M358.1 90.8h0M343.4 94.9h0M366.9 96.0h0M368.7 91.4h0M351.1 75.5h0M330.0 104.4h0M329.1 104.0h0M365.4 88.7h0M348.5 90.7h0M358.6 93.7h0M368.9 82.1h0M361.8 92.1h0M367.5 89.4h0M357.8 90.5h0M357.8 62.1h0M361.7 91.2h0M362.6 92.4h0M351.5 70.3h0M355.3 93.4h0M330.4 103.8h0M366.6 96.5h0M366.3 91.1h0M354.3 94.1h0M346.7 100.4h0M362.7 93.9h0M352.4 94.0h0M369.9 92.3h0M348.6 64.4h0M376.1 87.0h0M347.8 99.3h0M377.7 101.1h0M367.0 62.0h0M334.7 97.3h0M371.4 92.1h0M358.8 92.2h0M359.6 93.9h0M346.3 102.4h0M379.0 63.6h0M345.7 99.0h0M352.9 94.6h0M367.5 93.7h0M324.3 103.5h0M338.8 102.2h0M360.9 98.1h0M369.0 75.2h0M352.8 101.6h0M364.7 88.8h0M352.2 101.1h0M363.4 91.7h0M351.4 93.9h0M374.8 64.2h0M353.1 94.5h0M383.8 82.2h0M358.6 93.2h0M350.7 96.9h0M344.9 99.7h0M375.5 96.7h0M363.7 95.9h0M345.2 97.0h0M372.9 88.8h0M372.3 93.7h0M358.4 91.1h0M331.1 101.9h0M378.2 90.8h0M345.1 96.5h0M356.2 99.4h0M369.3 88.9h0M358.3 94.2h0M358.4 96.6h0M359.5 90.7h0M362.8 90.9h0M372.0 91.7h0M357.9 89.4h0M351.7 95.3h0M356.2 88.0h0M380.8 98.6h0M363.4 90.8h0M359.8 90.2h0M352.4 93.2h0M360.0 92.3h0M347.5 85.0h0M334.7 97.0h0M366.4 96.4h0M355.1 100.9h0M347.8 97.1h0M366.3 94.6h0M350.8 93.0h0M352.9 96.8h0M365.4 93.8h0M350.8 90.1h0M349.6 98.5h0M357.6 93.3h0M345.3 94.6h0M364.1 93.8h0M362.1 89.4h0M342.8 101.4h0M353.6 94.6h0M356.7 93.3h0M356.7 86.4h0M336.3 81.2h0M365.0 58.8h0M363.5 86.4h0M373.3 87.5h0M354.5 94.3h0M355.7 96.8h0M384.3 90.3h0M347.4 93.1h0M357.5 92.9h0M361.4 73.3h0M357.4 89.1h0M371.7 90.6h0M366.8 94.4h0M362.6 103.1h0M362.4 96.9h0M355.0 87.3h0M349.9 93.9h0M360.9 93.9h0M349.7 91.2h0M360.2 96.7h0M353.1 99.2h0M366.5 93.2h0M356.5 94.0h0" fill="none" stroke="#5a5aa8" stroke-width="1.45" stroke-linecap="round" stroke-opacity="0.8"/>
<path d="M343.5 94.8h0M363.1 78.9h0M380.4 86.5h0M367.5 94.2h0M348.5 92.7h0M357.8 92.7h0M348.7 95.8h0M368.7 62.0h0M370.0 93.9h0M351.1 99.4h0M349.4 90.0h0M348.3 98.1h0M358.3 95.4h0M332.5 102.9h0M357.8 90.1h0M362.4 96.1h0M370.7 92.8h0M350.8 98.7h0M349.7 95.3h0M352.8 97.4h0M367.3 88.2h0M357.8 96.9h0M369.3 86.3h0M335.8 58.9h0M351.8 95.5h0M372.1 96.1h0M350.2 97.7h0M340.3 72.9h0M356.5 106.1h0M360.7 90.4h0M381.0 95.4h0M368.5 92.9h0M380.7 80.5h0M346.4 91.5h0M367.9 92.2h0M371.1 97.3h0M382.6 89.4h0M354.2 90.2h0M342.4 96.3h0M353.5 87.0h0M347.0 99.0h0M352.4 95.3h0M372.4 92.6h0M352.6 101.4h0M364.6 94.6h0M368.4 93.7h0M361.0 90.1h0M339.8 97.5h0M366.2 89.7h0M361.9 86.0h0M375.4 83.7h0M356.9 88.4h0M356.6 95.9h0M371.8 90.1h0M334.5 96.7h0M379.8 90.0h0M368.5 69.3h0M354.8 93.1h0M358.7 90.4h0M361.6 99.9h0M344.5 98.6h0M360.7 83.8h0M374.5 101.6h0M361.4 91.8h0M347.1 96.4h0M346.6 88.4h0M341.6 96.8h0M361.8 91.7h0M371.8 92.5h0M351.6 95.4h0M356.4 93.5h0M355.4 91.4h0M343.6 98.4h0M339.5 76.9h0M355.0 98.7h0M348.5 94.8h0M336.4 96.8h0M372.8 91.5h0M347.8 65.1h0M362.8 94.2h0M333.3 94.0h0M362.7 87.7h0M347.6 71.0h0M379.7 95.5h0M360.1 94.5h0M356.3 99.4h0M347.7 91.3h0M354.9 96.2h0M364.7 90.2h0M343.6 70.1h0M348.8 82.8h0M360.7 92.7h0M365.2 91.9h0M369.9 91.2h0M349.9 96.1h0M352.0 98.2h0M350.8 94.0h0M355.5 89.1h0M365.6 95.7h0M349.8 95.6h0M362.0 95.3h0M363.0 94.0h0M358.7 92.7h0M354.5 94.2h0M332.0 92.0h0M374.0 89.7h0M378.8 86.7h0M369.2 98.2h0M352.3 97.0h0M358.2 84.5h0M365.8 87.9h0M375.1 88.0h0M343.8 90.0h0M365.1 90.8h0M335.6 68.9h0M357.9 99.2h0M365.5 88.9h0M350.8 99.1h0M369.7 91.7h0M355.8 97.3h0M359.5 81.1h0M374.1 63.3h0M345.4 90.2h0M364.6 87.4h0M364.4 96.9h0M373.5 96.1h0M366.7 84.2h0M347.2 91.9h0M350.7 91.4h0M358.8 91.0h0M327.0 100.0h0M346.0 87.7h0M341.5 95.5h0M360.1 89.8h0M336.7 63.5h0M354.0 94.1h0M344.5 99.4h0M375.4 66.2h0M353.5 99.0h0M371.3 92.4h0M337.6 99.6h0M353.8 97.0h0M367.0 64.6h0M350.7 104.5h0M375.4 83.4h0M352.9 98.8h0M371.7 89.8h0M356.2 90.3h0M340.5 96.2h0M362.5 90.8h0M353.7 104.2h0M340.9 100.2h0M375.4 75.1h0M349.5 96.9h0M339.5 99.3h0M355.9 87.0h0M345.6 92.6h0M340.0 98.1h0M359.6 93.0h0M362.9 96.9h0M361.9 85.1h0M353.8 92.4h0M351.5 92.9h0M344.1 95.5h0M360.7 91.1h0M342.2 98.1h0M354.3 91.4h0M350.6 90.7h0M355.3 93.7h0M338.1 85.3h0M375.9 86.7h0M363.7 75.4h0M360.7 96.7h0M361.0 91.4h0M360.5 78.1h0M372.2 86.9h0M367.9 88.5h0M351.7 91.4h0M349.6 95.7h0M376.6 92.6h0M347.8 90.8h0M342.7 97.1h0M366.2 94.3h0M350.9 100.2h0M365.1 80.0h0M353.4 72.6h0M367.0 96.8h0M376.1 85.2h0M338.0 86.3h0M359.2 95.2h0M351.2 94.5h0M349.9 92.1h0M356.3 88.7h0M359.0 92.5h0M335.0 100.7h0M363.0 92.0h0M339.4 99.6h0M353.9 100.0h0M349.6 97.4h0M350.6 94.4h0M358.4 93.1h0M372.2 92.2h0M365.7 90.9h0M336.4 66.0h0M346.4 84.7h0M343.6 100.5h0M349.0 99.8h0M367.1 95.3h0M348.6 93.7h0M368.4 98.7h0M349.4 99.4h0M360.6 100.4h0M336.0 97.3h0M347.0 97.2h0M358.6 87.8h0M331.6 92.3h0M348.3 101.3h0M364.1 91.7h0M343.6 90.5h0M370.5 87.1h0M348.1 91.8h0M371.9 86.6h0M338.6 98.0h0M342.2 97.4h0M354.3 97.3h0M352.9 89.6h0M356.5 96.8h0M340.0 99.9h0M381.2 66.9h0M351.5 95.3h0M373.7 91.4h0M343.5 103.5h0M359.0 93.8h0M350.1 89.6h0M358.3 92.3h0M338.5 96.3h0M349.5 88.7h0M356.9 90.4h0M324.3 98.0h0M348.3 98.8h0M354.3 89.4h0M344.1 89.7h0M370.2 91.7h0M356.9 93.1h0M326.7 97.6h0M361.0 89.8h0M369.6 93.2h0M344.1 106.7h0M371.9 92.4h0M344.2 95.2h0M353.0 98.9h0M364.5 89.4h0M343.4 100.1h0M353.7 94.2h0M361.5 96.4h0M364.1 94.2h0M349.8 94.3h0M343.4 88.9h0M359.4 98.4h0M356.2 93.8h0M366.5 88.2h0M344.9 94.1h0M361.1 97.0h0M365.4 90.3h0M345.1 94.2h0M374.0 85.0h0M326.4 106.4h0M346.8 95.4h0M349.1 95.4h0M351.9 95.6h0M367.5 87.3h0M368.8 85.9h0M358.2 93.0h0M371.2 86.7h0M349.8 90.4h0M344.8 96.4h0M360.2 58.5h0M380.6 89.3h0M366.6 84.0h0M340.3 95.7h0M361.3 61.9h0M351.8 93.4h0M364.5 90.9h0M345.5 93.9h0M352.2 86.2h0M343.4 76.6h0M374.3 95.9h0M349.4 95.0h0M381.9 96.3h0M344.8 93.3h0M363.4 94.4h0M363.4 83.4h0M353.4 97.2h0M344.7 93.6h0M348.7 71.0h0M361.7 93.7h0M342.3 99.0h0M327.5 101.7h0M358.1 90.8h0M343.4 94.9h0M366.9 96.0h0M368.7 91.4h0M351.1 75.5h0M330.0 104.4h0M329.1 104.0h0M365.4 88.7h0M348.5 90.7h0M358.6 93.7h0M368.9 82.1h0M361.8 92.1h0M367.5 89.4h0M357.8 90.5h0M357.8 62.1h0M361.7 91.2h0M362.6 92.4h0M351.5 70.3h0M355.3 93.4h0M330.4 103.8h0M366.6 96.5h0M366.3 91.1h0M354.3 94.1h0M346.7 100.4h0M362.7 93.9h0M352.4 94.0h0M369.9 92.3h0M348.6 64.4h0M376.1 87.0h0M347.8 99.3h0M377.7 101.1h0M367.0 62.0h0M334.7 97.3h0M371.4 92.1h0M358.8 92.2h0M359.6 93.9h0M346.3 102.4h0M379.0 63.6h0M345.7 99.0h0M352.9 94.6h0M367.5 93.7h0M324.3 103.5h0M338.8 102.2h0M360.9 98.1h0M369.0 75.2h0M352.8 101.6h0M364.7 88.8h0M352.2 101.1h0M363.4 91.7h0M351.4 93.9h0M374.8 64.2h0M353.1 94.5h0M383.8 82.2h0M358.6 93.2h0M350.7 96.9h0M344.9 99.7h0M375.5 96.7h0M363.7 95.9h0M345.2 97.0h0M372.9 88.8h0M372.3 93.7h0M358.4 91.1h0M331.1 101.9h0M378.2 90.8h0M345.1 96.5h0M356.2 99.4h0M369.3 88.9h0M358.3 94.2h0M358.4 96.6h0M359.5 90.7h0M362.8 90.9h0M372.0 91.7h0M357.9 89.4h0M351.7 95.3h0M356.2 88.0h0M380.8 98.6h0M363.4 90.8h0M359.8 90.2h0M352.4 93.2h0M360.0 92.3h0M347.5 85.0h0M334.7 97.0h0M366.4 96.4h0M355.1 100.9h0M347.8 97.1h0M366.3 94.6h0M350.8 93.0h0M352.9 96.8h0M365.4 93.8h0M350.8 90.1h0M349.6 98.5h0M357.6 93.3h0M345.3 94.6h0M364.1 93.8h0M362.1 89.4h0M342.8 101.4h0M353.6 94.6h0M356.7 93.3h0M356.7 86.4h0M336.3 81.2h0M365.0 58.8h0M363.5 86.4h0M373.3 87.5h0M354.5 94.3h0M355.7 96.8h0M384.3 90.3h0M347.4 93.1h0M357.5 92.9h0M361.4 73.3h0M357.4 89.1h0M371.7 90.6h0M366.8 94.4h0M362.6 103.1h0M362.4 96.9h0M355.0 87.3h0M349.9 93.9h0M360.9 93.9h0M349.7 91.2h0M360.2 96.7h0M353.1 99.2h0M366.5 93.2h0M356.5 94.0h0" fill="none" stroke="#7c7cd0" stroke-width="0.95" stroke-linecap="round"/>
<path d="M339.1 108.7h0M355.4 105.8h0M348.7 112.0h0M342.1 106.3h0M356.1 117.9h0M345.7 107.5h0M355.2 103.2h0M346.9 110.0h0M349.5 107.1h0M355.5 110.2h0M362.3 106.2h0M345.9 112.8h0M352.3 108.8h0M347.6 111.4h0M344.6 107.3h0M367.4 104.8h0M348.3 116.1h0M355.1 106.5h0M357.9 105.4h0M354.1 103.9h0M356.2 106.6h0M335.6 103.3h0M359.6 105.6h0M333.3 106.1h0M340.0 107.1h0M356.0 105.1h0M351.2 104.0h0M363.2 106.4h0M355.6 101.5h0M329.2 107.4h0M355.7 103.8h0M352.8 107.8h0M320.1 111.7h0M349.7 109.5h0M343.4 113.2h0M355.8 106.6h0M363.2 107.4h0M343.3 116.5h0M353.2 102.0h0M354.0 108.3h0M363.3 103.8h0M357.0 100.0h0M350.4 109.8h0M351.6 111.7h0M343.0 108.7h0M325.9 111.4h0M349.4 107.8h0M347.2 108.2h0M361.7 103.4h0M343.5 103.5h0M335.9 118.4h0M357.0 104.8h0M356.6 101.5h0M329.4 106.1h0M334.1 111.7h0M352.8 109.6h0M341.8 109.0h0M370.8 103.5h0M360.9 100.5h0M355.3 108.5h0M367.6 102.4h0M362.5 105.1h0M329.3 112.9h0M373.1 107.5h0M343.2 111.2h0M353.1 110.4h0M349.4 111.7h0M370.9 105.5h0M343.8 111.2h0M371.5 102.3h0M347.2 113.5h0M343.9 106.1h0M364.1 105.2h0M338.2 112.8h0M351.8 109.0h0M330.6 107.4h0M355.0 111.8h0M346.8 116.0h0M348.2 110.3h0M359.1 104.0h0M352.1 108.0h0M339.9 111.6h0M359.4 106.3h0M336.4 113.5h0M367.9 98.2h0M345.2 116.8h0M346.5 110.6h0M355.4 99.6h0M356.1 102.1h0M331.8 116.6h0M370.8 99.6h0M337.9 111.5h0M362.0 102.2h0M344.0 115.3h0M350.5 105.7h0M366.8 103.4h0M354.6 101.3h0M333.6 109.2h0M352.5 110.2h0M356.1 104.8h0M358.9 104.9h0M361.4 105.1h0M361.6 102.8h0M363.5 98.4h0M348.0 108.8h0M340.3 105.9h0M355.4 108.3h0M356.6 103.3h0M350.7 110.5h0M346.1 113.7h0M357.9 108.3h0M362.9 103.6h0M346.0 110.6h0M341.3 110.5h0M352.0 104.2h0M338.0 107.5h0M361.6 104.6h0M361.9 105.0h0M353.6 109.1h0M354.4 101.5h0M331.9 112.5h0M359.8 107.5h0M321.0 119.4h0M344.1 114.7h0M356.2 109.5h0M351.9 107.6h0M341.4 108.7h0M347.5 108.8h0M342.7 108.4h0M362.3 104.4h0M352.4 106.8h0M356.9 106.8h0M343.2 112.0h0M372.5 105.5h0M347.2 113.9h0M335.5 117.3h0M364.1 101.5h0M365.4 107.9h0M358.6 104.9h0M364.6 104.3h0M352.4 103.5h0M346.1 105.5h0M363.6 107.2h0M361.8 106.9h0M369.4 105.2h0M350.4 105.1h0M336.2 114.7h0M351.8 103.9h0M332.4 113.6h0M361.5 100.4h0M354.3 107.4h0M344.8 110.2h0M348.3 105.4h0M353.2 110.3h0M359.4 109.2h0M354.9 109.5h0M363.2 104.1h0M362.3 104.0h0M369.2 102.5h0M370.8 101.4h0M363.6 103.5h0M340.4 112.2h0M355.6 107.5h0M356.2 108.3h0M366.0 106.7h0M369.6 108.7h0M374.0 103.4h0M355.4 101.5h0M347.0 111.6h0M367.1 101.9h0M367.0 102.7h0M354.4 108.9h0M363.1 104.8h0M350.9 111.9h0M346.6 108.5h0M362.9 108.0h0M346.3 109.5h0M338.2 118.8h0M344.9 117.1h0M337.0 113.0h0M356.1 110.4h0M357.7 106.5h0M349.7 114.4h0M337.3 109.6h0M366.5 101.7h0M355.0 106.5h0M355.8 106.5h0M339.4 111.7h0M327.4 117.0h0M358.1 102.6h0M344.9 102.7h0M343.8 106.2h0M351.7 111.0h0M351.4 108.2h0M356.4 113.0h0M357.1 107.7h0M356.5 102.0h0M356.3 106.1h0M360.8 103.8h0M377.3 99.2h0M360.0 103.8h0M359.7 103.6h0M362.8 98.1h0M362.2 105.8h0M362.0 107.3h0M360.9 102.3h0M334.3 102.5h0M345.2 112.4h0M335.1 109.6h0M347.1 104.7h0M338.2 111.8h0M333.6 112.5h0M368.7 101.9h0M355.1 104.3h0M361.0 104.6h0M364.5 105.8h0M341.7 109.0h0M355.3 108.4h0M358.9 107.2h0M373.2 100.6h0M357.7 105.7h0M337.1 110.5h0M368.8 103.5h0M348.7 107.6h0M350.3 98.4h0M358.6 103.2h0M336.8 111.7h0M339.7 113.1h0M343.5 103.7h0M358.8 104.3h0M330.5 114.9h0M358.5 106.3h0M364.7 103.5h0M341.9 113.5h0M338.9 105.0h0M337.5 112.7h0M340.8 110.6h0M371.2 102.9h0M334.2 113.7h0M334.1 111.0h0M338.5 111.4h0M350.6 117.0h0M330.2 113.2h0M357.4 103.0h0M347.6 110.6h0M364.9 105.3h0M353.6 113.8h0M356.6 109.8h0M352.9 100.5h0M369.9 111.3h0M339.7 112.6h0M361.8 115.9h0M357.6 105.3h0M352.2 110.8h0M360.7 108.0h0M345.9 112.7h0M358.4 108.2h0M356.2 105.7h0M367.4 105.8h0M358.4 107.7h0M365.0 102.1h0M370.3 105.8h0M360.0 111.4h0M340.5 111.9h0M350.2 113.1h0M354.2 107.6h0M349.7 109.8h0M358.4 107.9h0M347.5 103.7h0M342.2 109.4h0M348.0 104.7h0M333.7 111.1h0M348.8 106.2h0M355.2 110.3h0M332.2 118.4h0M355.1 111.2h0M352.3 103.4h0M354.2 106.1h0M348.9 109.4h0M360.5 104.8h0M356.3 105.9h0M364.2 103.9h0M361.1 102.3h0M362.9 101.1h0M339.8 111.3h0M375.9 107.2h0M336.1 114.8h0M346.0 109.2h0M371.4 105.8h0M359.5 100.4h0M345.4 109.6h0M358.6 103.7h0M362.9 107.5h0M368.2 104.4h0M367.0 109.4h0M353.4 107.8h0M365.0 109.7h0M366.7 106.8h0M349.7 109.0h0M337.3 113.6h0M349.7 108.9h0M347.7 111.5h0M346.8 106.6h0M353.2 111.9h0M363.3 103.9h0M347.5 112.7h0M359.3 105.7h0M367.5 106.8h0M352.0 105.7h0M358.7 106.9h0M354.2 109.3h0M361.1 110.3h0M359.2 104.9h0M359.8 100.0h0M362.3 108.2h0M331.3 115.0h0M339.4 115.5h0M373.8 100.7h0M338.3 114.4h0M358.3 107.7h0M348.1 113.6h0M340.8 110.7h0M368.3 103.1h0M356.1 109.4h0M358.1 103.1h0M329.4 110.7h0M337.8 111.3h0M363.6 103.5h0M362.5 107.6h0M342.0 111.6h0M351.1 110.9h0M355.4 108.9h0M370.9 105.6h0M354.9 113.1h0M348.7 109.2h0M359.9 104.0h0M344.9 109.4h0M357.5 102.5h0M354.0 105.2h0M351.6 101.4h0M356.1 106.5h0M335.4 112.8h0M331.5 115.7h0M335.1 115.4h0M358.6 108.7h0M348.8 113.3h0M361.2 110.9h0M351.0 108.4h0M329.1 113.1h0M350.3 115.3h0M331.8 112.0h0M346.5 114.4h0M338.3 106.8h0M358.1 104.4h0M340.4 107.3h0M355.6 107.1h0M361.8 106.4h0M371.9 103.7h0M339.9 116.8h0M364.1 112.0h0M352.9 104.4h0M352.4 107.6h0M324.4 111.6h0M349.1 110.9h0M354.8 110.1h0M360.7 107.1h0M341.3 111.0h0M348.5 105.5h0M362.1 103.7h0M337.5 113.2h0M346.3 108.0h0M352.9 104.5h0M350.2 113.5h0M352.0 111.0h0M356.4 102.6h0M347.0 110.6h0M344.3 111.7h0M348.6 111.1h0M342.6 106.8h0M355.4 109.1h0M371.0 110.7h0M358.3 106.1h0M369.3 103.7h0M337.9 114.9h0M347.1 102.8h0M346.9 116.3h0M362.1 110.0h0M363.0 104.3h0M354.3 107.5h0M365.7 102.4h0M339.2 114.7h0M355.6 107.8h0M377.3 102.5h0M350.1 109.0h0M353.6 104.4h0M363.7 103.5h0M357.4 105.6h0M346.6 109.5h0M337.7 115.7h0M359.2 105.2h0M349.8 105.7h0M355.1 101.5h0M342.7 114.9h0M335.8 113.9h0M361.8 106.5h0M341.8 110.9h0M361.2 108.3h0M357.7 107.3h0M345.4 107.0h0M362.3 106.9h0M345.3 112.7h0M331.5 114.2h0M363.4 104.0h0M344.0 112.7h0M336.4 113.7h0M359.8 105.8h0M351.2 112.0h0M357.6 108.0h0M356.1 110.1h0M338.6 110.3h0M359.6 113.3h0M356.2 109.1h0M344.0 113.4h0M365.3 104.0h0M341.2 109.4h0M354.3 107.9h0M362.5 109.3h0M365.5 108.3h0M349.9 114.3h0M319.7 116.9h0M355.9 104.3h0M332.7 114.6h0M354.0 102.0h0M336.8 107.6h0M363.2 108.0h0M363.7 103.5h0M341.2 109.6h0M351.8 101.3h0M351.9 104.6h0M350.8 109.2h0M371.9 100.7h0M343.7 109.0h0M352.9 99.8h0M350.5 103.0h0M362.9 106.8h0M359.9 107.3h0M353.6 110.0h0M350.6 110.1h0M346.4 111.5h0M345.9 110.7h0M366.0 105.4h0M343.5 111.1h0M369.5 101.6h0M351.7 110.2h0M370.0 105.0h0M361.2 102.1h0M341.1 115.6h0M344.9 106.6h0M352.7 106.2h0M353.8 115.4h0M340.5 113.8h0M362.4 108.1h0M348.3 112.3h0M352.7 107.8h0M349.2 102.1h0M337.8 111.3h0M346.4 111.8h0M360.2 102.9h0M342.9 110.1h0M357.4 103.1h0M357.0 104.1h0M342.7 107.7h0M352.9 105.9h0M341.0 111.0h0M326.6 118.4h0M331.7 117.1h0M359.4 105.2h0M358.5 100.9h0M354.7 105.2h0M358.9 103.5h0M352.6 110.3h0M350.0 109.1h0M330.4 109.6h0M347.5 111.1h0M359.0 104.0h0M342.2 106.5h0M341.8 110.6h0M356.9 110.1h0M355.0 105.2h0M338.4 108.1h0M342.6 113.1h0M369.8 100.1h0M342.8 111.9h0M340.8 114.1h0M356.5 110.9h0M356.0 107.9h0M338.6 109.1h0M369.5 100.5h0M361.1 103.6h0M352.4 111.0h0M349.0 111.8h0M360.4 108.2h0M353.0 102.4h0M360.9 104.3h0M360.7 104.6h0M355.6 107.2h0M360.7 104.0h0M366.7 108.0h0M339.6 110.5h0M330.7 108.3h0M335.2 116.0h0M353.2 105.7h0M352.0 112.6h0M348.6 106.7h0M346.4 100.4h0M340.0 108.4h0M352.2 107.2h0M360.6 103.3h0M352.6 111.2h0M352.4 103.7h0M354.3 109.0h0M363.2 102.2h0M358.6 105.2h0M350.9 113.8h0M359.1 103.7h0M361.4 110.7h0M348.6 107.5h0M353.5 107.9h0M358.3 102.3h0M351.8 110.7h0M337.5 107.0h0M353.8 111.1h0M348.6 106.4h0M332.9 117.9h0M361.4 106.1h0M340.3 107.2h0M346.8 116.5h0M344.8 103.6h0M354.1 111.9h0M347.6 107.7h0M341.8 107.7h0M338.1 112.7h0M352.4 107.9h0M347.6 104.8h0M361.8 108.0h0M354.4 110.3h0M353.6 107.1h0M368.4 107.1h0M354.0 105.0h0M361.8 107.9h0M341.5 107.5h0M338.0 107.9h0M366.3 99.9h0M363.8 102.9h0M328.6 118.6h0M368.8 106.0h0M347.6 110.3h0M346.8 112.0h0M351.6 101.5h0M355.5 111.4h0" fill="none" stroke="#86b874" stroke-width="1.45" stroke-linecap="round" stroke-opacity="0.8"/>
<path d="M339.1 108.7h0M355.4 105.8h0M348.7 112.0h0M342.1 106.3h0M356.1 117.9h0M345.7 107.5h0M355.2 103.2h0M346.9 110.0h0M349.5 107.1h0M355.5 110.2h0M362.3 106.2h0M345.9 112.8h0M352.3 108.8h0M347.6 111.4h0M344.6 107.3h0M367.4 104.8h0M348.3 116.1h0M355.1 106.5h0M357.9 105.4h0M354.1 103.9h0M356.2 106.6h0M335.6 103.3h0M359.6 105.6h0M333.3 106.1h0M340.0 107.1h0M356.0 105.1h0M351.2 104.0h0M363.2 106.4h0M355.6 101.5h0M329.2 107.4h0M355.7 103.8h0M352.8 107.8h0M320.1 111.7h0M349.7 109.5h0M343.4 113.2h0M355.8 106.6h0M363.2 107.4h0M343.3 116.5h0M353.2 102.0h0M354.0 108.3h0M363.3 103.8h0M357.0 100.0h0M350.4 109.8h0M351.6 111.7h0M343.0 108.7h0M325.9 111.4h0M349.4 107.8h0M347.2 108.2h0M361.7 103.4h0M343.5 103.5h0M335.9 118.4h0M357.0 104.8h0M356.6 101.5h0M329.4 106.1h0M334.1 111.7h0M352.8 109.6h0M341.8 109.0h0M370.8 103.5h0M360.9 100.5h0M355.3 108.5h0M367.6 102.4h0M362.5 105.1h0M329.3 112.9h0M373.1 107.5h0M343.2 111.2h0M353.1 110.4h0M349.4 111.7h0M370.9 105.5h0M343.8 111.2h0M371.5 102.3h0M347.2 113.5h0M343.9 106.1h0M364.1 105.2h0M338.2 112.8h0M351.8 109.0h0M330.6 107.4h0M355.0 111.8h0M346.8 116.0h0M348.2 110.3h0M359.1 104.0h0M352.1 108.0h0M339.9 111.6h0M359.4 106.3h0M336.4 113.5h0M367.9 98.2h0M345.2 116.8h0M346.5 110.6h0M355.4 99.6h0M356.1 102.1h0M331.8 116.6h0M370.8 99.6h0M337.9 111.5h0M362.0 102.2h0M344.0 115.3h0M350.5 105.7h0M366.8 103.4h0M354.6 101.3h0M333.6 109.2h0M352.5 110.2h0M356.1 104.8h0M358.9 104.9h0M361.4 105.1h0M361.6 102.8h0M363.5 98.4h0M348.0 108.8h0M340.3 105.9h0M355.4 108.3h0M356.6 103.3h0M350.7 110.5h0M346.1 113.7h0M357.9 108.3h0M362.9 103.6h0M346.0 110.6h0M341.3 110.5h0M352.0 104.2h0M338.0 107.5h0M361.6 104.6h0M361.9 105.0h0M353.6 109.1h0M354.4 101.5h0M331.9 112.5h0M359.8 107.5h0M321.0 119.4h0M344.1 114.7h0M356.2 109.5h0M351.9 107.6h0M341.4 108.7h0M347.5 108.8h0M342.7 108.4h0M362.3 104.4h0M352.4 106.8h0M356.9 106.8h0M343.2 112.0h0M372.5 105.5h0M347.2 113.9h0M335.5 117.3h0M364.1 101.5h0M365.4 107.9h0M358.6 104.9h0M364.6 104.3h0M352.4 103.5h0M346.1 105.5h0M363.6 107.2h0M361.8 106.9h0M369.4 105.2h0M350.4 105.1h0M336.2 114.7h0M351.8 103.9h0M332.4 113.6h0M361.5 100.4h0M354.3 107.4h0M344.8 110.2h0M348.3 105.4h0M353.2 110.3h0M359.4 109.2h0M354.9 109.5h0M363.2 104.1h0M362.3 104.0h0M369.2 102.5h0M370.8 101.4h0M363.6 103.5h0M340.4 112.2h0M355.6 107.5h0M356.2 108.3h0M366.0 106.7h0M369.6 108.7h0M374.0 103.4h0M355.4 101.5h0M347.0 111.6h0M367.1 101.9h0M367.0 102.7h0M354.4 108.9h0M363.1 104.8h0M350.9 111.9h0M346.6 108.5h0M362.9 108.0h0M346.3 109.5h0M338.2 118.8h0M344.9 117.1h0M337.0 113.0h0M356.1 110.4h0M357.7 106.5h0M349.7 114.4h0M337.3 109.6h0M366.5 101.7h0M355.0 106.5h0M355.8 106.5h0M339.4 111.7h0M327.4 117.0h0M358.1 102.6h0M344.9 102.7h0M343.8 106.2h0M351.7 111.0h0M351.4 108.2h0M356.4 113.0h0M357.1 107.7h0M356.5 102.0h0M356.3 106.1h0M360.8 103.8h0M377.3 99.2h0M360.0 103.8h0M359.7 103.6h0M362.8 98.1h0M362.2 105.8h0M362.0 107.3h0M360.9 102.3h0M334.3 102.5h0M345.2 112.4h0M335.1 109.6h0M347.1 104.7h0M338.2 111.8h0M333.6 112.5h0M368.7 101.9h0M355.1 104.3h0M361.0 104.6h0M364.5 105.8h0M341.7 109.0h0M355.3 108.4h0M358.9 107.2h0M373.2 100.6h0M357.7 105.7h0M337.1 110.5h0M368.8 103.5h0M348.7 107.6h0M350.3 98.4h0M358.6 103.2h0M336.8 111.7h0M339.7 113.1h0M343.5 103.7h0M358.8 104.3h0M330.5 114.9h0M358.5 106.3h0M364.7 103.5h0M341.9 113.5h0M338.9 105.0h0M337.5 112.7h0M340.8 110.6h0M371.2 102.9h0M334.2 113.7h0M334.1 111.0h0M338.5 111.4h0M350.6 117.0h0M330.2 113.2h0M357.4 103.0h0M347.6 110.6h0M364.9 105.3h0M353.6 113.8h0M356.6 109.8h0M352.9 100.5h0M369.9 111.3h0M339.7 112.6h0M361.8 115.9h0M357.6 105.3h0M352.2 110.8h0M360.7 108.0h0M345.9 112.7h0M358.4 108.2h0M356.2 105.7h0M367.4 105.8h0M358.4 107.7h0M365.0 102.1h0M370.3 105.8h0M360.0 111.4h0M340.5 111.9h0M350.2 113.1h0M354.2 107.6h0M349.7 109.8h0M358.4 107.9h0M347.5 103.7h0M342.2 109.4h0M348.0 104.7h0M333.7 111.1h0M348.8 106.2h0M355.2 110.3h0M332.2 118.4h0M355.1 111.2h0M352.3 103.4h0M354.2 106.1h0M348.9 109.4h0M360.5 104.8h0M356.3 105.9h0M364.2 103.9h0M361.1 102.3h0M362.9 101.1h0M339.8 111.3h0M375.9 107.2h0M336.1 114.8h0M346.0 109.2h0M371.4 105.8h0M359.5 100.4h0M345.4 109.6h0M358.6 103.7h0M362.9 107.5h0M368.2 104.4h0M367.0 109.4h0M353.4 107.8h0M365.0 109.7h0M366.7 106.8h0M349.7 109.0h0M337.3 113.6h0M349.7 108.9h0M347.7 111.5h0M346.8 106.6h0M353.2 111.9h0M363.3 103.9h0M347.5 112.7h0M359.3 105.7h0M367.5 106.8h0M352.0 105.7h0M358.7 106.9h0M354.2 109.3h0M361.1 110.3h0M359.2 104.9h0M359.8 100.0h0M362.3 108.2h0M331.3 115.0h0M339.4 115.5h0M373.8 100.7h0M338.3 114.4h0M358.3 107.7h0M348.1 113.6h0M340.8 110.7h0M368.3 103.1h0M356.1 109.4h0M358.1 103.1h0M329.4 110.7h0M337.8 111.3h0M363.6 103.5h0M362.5 107.6h0M342.0 111.6h0M351.1 110.9h0M355.4 108.9h0M370.9 105.6h0M354.9 113.1h0M348.7 109.2h0M359.9 104.0h0M344.9 109.4h0M357.5 102.5h0M354.0 105.2h0M351.6 101.4h0M356.1 106.5h0M335.4 112.8h0M331.5 115.7h0M335.1 115.4h0M358.6 108.7h0M348.8 113.3h0M361.2 110.9h0M351.0 108.4h0M329.1 113.1h0M350.3 115.3h0M331.8 112.0h0M346.5 114.4h0M338.3 106.8h0M358.1 104.4h0M340.4 107.3h0M355.6 107.1h0M361.8 106.4h0M371.9 103.7h0M339.9 116.8h0M364.1 112.0h0M352.9 104.4h0M352.4 107.6h0M324.4 111.6h0M349.1 110.9h0M354.8 110.1h0M360.7 107.1h0M341.3 111.0h0M348.5 105.5h0M362.1 103.7h0M337.5 113.2h0M346.3 108.0h0M352.9 104.5h0M350.2 113.5h0M352.0 111.0h0M356.4 102.6h0M347.0 110.6h0M344.3 111.7h0M348.6 111.1h0M342.6 106.8h0M355.4 109.1h0M371.0 110.7h0M358.3 106.1h0M369.3 103.7h0M337.9 114.9h0M347.1 102.8h0M346.9 116.3h0M362.1 110.0h0M363.0 104.3h0M354.3 107.5h0M365.7 102.4h0M339.2 114.7h0M355.6 107.8h0M377.3 102.5h0M350.1 109.0h0M353.6 104.4h0M363.7 103.5h0M357.4 105.6h0M346.6 109.5h0M337.7 115.7h0M359.2 105.2h0M349.8 105.7h0M355.1 101.5h0M342.7 114.9h0M335.8 113.9h0M361.8 106.5h0M341.8 110.9h0M361.2 108.3h0M357.7 107.3h0M345.4 107.0h0M362.3 106.9h0M345.3 112.7h0M331.5 114.2h0M363.4 104.0h0M344.0 112.7h0M336.4 113.7h0M359.8 105.8h0M351.2 112.0h0M357.6 108.0h0M356.1 110.1h0M338.6 110.3h0M359.6 113.3h0M356.2 109.1h0M344.0 113.4h0M365.3 104.0h0M341.2 109.4h0M354.3 107.9h0M362.5 109.3h0M365.5 108.3h0M349.9 114.3h0M319.7 116.9h0M355.9 104.3h0M332.7 114.6h0M354.0 102.0h0M336.8 107.6h0M363.2 108.0h0M363.7 103.5h0M341.2 109.6h0M351.8 101.3h0M351.9 104.6h0M350.8 109.2h0M371.9 100.7h0M343.7 109.0h0M352.9 99.8h0M350.5 103.0h0M362.9 106.8h0M359.9 107.3h0M353.6 110.0h0M350.6 110.1h0M346.4 111.5h0M345.9 110.7h0M366.0 105.4h0M343.5 111.1h0M369.5 101.6h0M351.7 110.2h0M370.0 105.0h0M361.2 102.1h0M341.1 115.6h0M344.9 106.6h0M352.7 106.2h0M353.8 115.4h0M340.5 113.8h0M362.4 108.1h0M348.3 112.3h0M352.7 107.8h0M349.2 102.1h0M337.8 111.3h0M346.4 111.8h0M360.2 102.9h0M342.9 110.1h0M357.4 103.1h0M357.0 104.1h0M342.7 107.7h0M352.9 105.9h0M341.0 111.0h0M326.6 118.4h0M331.7 117.1h0M359.4 105.2h0M358.5 100.9h0M354.7 105.2h0M358.9 103.5h0M352.6 110.3h0M350.0 109.1h0M330.4 109.6h0M347.5 111.1h0M359.0 104.0h0M342.2 106.5h0M341.8 110.6h0M356.9 110.1h0M355.0 105.2h0M338.4 108.1h0M342.6 113.1h0M369.8 100.1h0M342.8 111.9h0M340.8 114.1h0M356.5 110.9h0M356.0 107.9h0M338.6 109.1h0M369.5 100.5h0M361.1 103.6h0M352.4 111.0h0M349.0 111.8h0M360.4 108.2h0M353.0 102.4h0M360.9 104.3h0M360.7 104.6h0M355.6 107.2h0M360.7 104.0h0M366.7 108.0h0M339.6 110.5h0M330.7 108.3h0M335.2 116.0h0M353.2 105.7h0M352.0 112.6h0M348.6 106.7h0M346.4 100.4h0M340.0 108.4h0M352.2 107.2h0M360.6 103.3h0M352.6 111.2h0M352.4 103.7h0M354.3 109.0h0M363.2 102.2h0M358.6 105.2h0M350.9 113.8h0M359.1 103.7h0M361.4 110.7h0M348.6 107.5h0M353.5 107.9h0M358.3 102.3h0M351.8 110.7h0M337.5 107.0h0M353.8 111.1h0M348.6 106.4h0M332.9 117.9h0M361.4 106.1h0M340.3 107.2h0M346.8 116.5h0M344.8 103.6h0M354.1 111.9h0M347.6 107.7h0M341.8 107.7h0M338.1 112.7h0M352.4 107.9h0M347.6 104.8h0M361.8 108.0h0M354.4 110.3h0M353.6 107.1h0M368.4 107.1h0M354.0 105.0h0M361.8 107.9h0M341.5 107.5h0M338.0 107.9h0M366.3 99.9h0M363.8 102.9h0M328.6 118.6h0M368.8 106.0h0M347.6 110.3h0M346.8 112.0h0M351.6 101.5h0M355.5 111.4h0" fill="none" stroke="#a9d894" stroke-width="0.95" stroke-linecap="round"/>
<text x="273" y="104.49" font-size="7.2" text-anchor="end" fill="#333" font-weight="normal" stroke="#333" stroke-width="0.08">0.0</text>
<text x="273.45" y="112.94" font-size="7.2" text-anchor="middle" fill="#333" font-weight="normal" stroke="#333" stroke-width="0.08">0.0</text>
<text x="383.78" y="115.73" font-size="7.2" text-anchor="middle" fill="#333" font-weight="normal" stroke="#333" stroke-width="0.08">0.0</text>
<text x="273" y="94.55" font-size="7.2" text-anchor="end" fill="#333" font-weight="normal" stroke="#333" stroke-width="0.08">0.2</text>
<text x="283.35" y="116.76" font-size="7.2" text-anchor="middle" fill="#333" font-weight="normal" stroke="#333" stroke-width="0.08">0.2</text>
<text x="375.23" y="119.11" font-size="7.2" text-anchor="middle" fill="#333" font-weight="normal" stroke="#333" stroke-width="0.08">0.2</text>
<text x="273" y="84.61" font-size="7.2" text-anchor="end" fill="#333" font-weight="normal" stroke="#333" stroke-width="0.08">0.4</text>
<text x="293.25" y="120.58" font-size="7.2" text-anchor="middle" fill="#333" font-weight="normal" stroke="#333" stroke-width="0.08">0.4</text>
<text x="366.68" y="122.5" font-size="7.2" text-anchor="middle" fill="#333" font-weight="normal" stroke="#333" stroke-width="0.08">0.4</text>
<text x="273" y="74.67" font-size="7.2" text-anchor="end" fill="#333" font-weight="normal" stroke="#333" stroke-width="0.08">0.6</text>
<text x="303.15" y="124.4" font-size="7.2" text-anchor="middle" fill="#333" font-weight="normal" stroke="#333" stroke-width="0.08">0.6</text>
<text x="358.12" y="125.88" font-size="7.2" text-anchor="middle" fill="#333" font-weight="normal" stroke="#333" stroke-width="0.08">0.6</text>
<text x="273" y="64.73" font-size="7.2" text-anchor="end" fill="#333" font-weight="normal" stroke="#333" stroke-width="0.08">0.8</text>
<text x="313.05" y="128.23" font-size="7.2" text-anchor="middle" fill="#333" font-weight="normal" stroke="#333" stroke-width="0.08">0.8</text>
<text x="349.57" y="129.27" font-size="7.2" text-anchor="middle" fill="#333" font-weight="normal" stroke="#333" stroke-width="0.08">0.8</text>
<text x="273" y="54.79" font-size="7.2" text-anchor="end" fill="#333" font-weight="normal" stroke="#333" stroke-width="0.08">1.0</text>
<text x="322.95" y="132.05" font-size="7.2" text-anchor="middle" fill="#333" font-weight="normal" stroke="#333" stroke-width="0.08">1.0</text>
<text x="341.01" y="132.66" font-size="7.2" text-anchor="middle" fill="#333" font-weight="normal" stroke="#333" stroke-width="0.08">1.0</text>
<text x="333" y="27.72" font-size="7.0" text-anchor="middle" fill="#222" font-weight="normal" stroke="#222" stroke-width="0.08">eICU-CRD</text>
<rect x="396.7" y="36" width="120" height="100" fill="#fff" stroke="none" stroke-width="1"/>
<path d="M404.7,46.5 L456.7,32.2 L456.7,85.4 L404.2,101.7 L404.7,46.5" fill="#f2f2f2" stroke="none" stroke-width="1"/>
<path d="M456.7,32.2 L514.6,46.5 L514.6,102.6 L456.7,85.4 L456.7,32.2" fill="#ebebeb" stroke="none" stroke-width="1"/>
<path d="M404.2,101.7 L456.7,85.4 L514.6,102.6 L458.1,126.2 L404.2,101.7" fill="#f6f6f6" stroke="none" stroke-width="1"/>
<line x1="406.56" y1="100.97" x2="407.04" y2="45.86" stroke="#b8b8b8" stroke-width="0.6"/>
<line x1="459.31" y1="86.17" x2="459.31" y2="32.84" stroke="#b8b8b8" stroke-width="0.6"/>
<line x1="404.22" y1="99.22" x2="456.7" y2="83.01" stroke="#b8b8b8" stroke-width="0.6"/>
<line x1="456.7" y1="83.01" x2="514.6" y2="100.08" stroke="#b8b8b8" stroke-width="0.6"/>
<line x1="406.56" y1="100.97" x2="460.64" y2="125.14" stroke="#b8b8b8" stroke-width="0.6"/>
<line x1="459.31" y1="86.17" x2="406.63" y2="102.8" stroke="#b8b8b8" stroke-width="0.6"/>
<line x1="416.12" y1="98" x2="416.5" y2="43.25" stroke="#b8b8b8" stroke-width="0.6"/>
<line x1="469.84" y1="89.3" x2="469.84" y2="35.45" stroke="#b8b8b8" stroke-width="0.6"/>
<line x1="404.31" y1="89.17" x2="456.7" y2="73.32" stroke="#b8b8b8" stroke-width="0.6"/>
<line x1="456.7" y1="73.32" x2="514.6" y2="89.87" stroke="#b8b8b8" stroke-width="0.6"/>
<line x1="416.12" y1="98" x2="470.93" y2="120.84" stroke="#b8b8b8" stroke-width="0.6"/>
<line x1="469.84" y1="89.3" x2="416.44" y2="107.26" stroke="#b8b8b8" stroke-width="0.6"/>
<line x1="425.67" y1="95.03" x2="425.97" y2="40.65" stroke="#b8b8b8" stroke-width="0.6"/>
<line x1="480.38" y1="92.43" x2="480.38" y2="38.05" stroke="#b8b8b8" stroke-width="0.6"/>
<line x1="404.4" y1="79.12" x2="456.7" y2="63.64" stroke="#b8b8b8" stroke-width="0.6"/>
<line x1="456.7" y1="63.64" x2="514.6" y2="79.66" stroke="#b8b8b8" stroke-width="0.6"/>
<line x1="425.67" y1="95.03" x2="481.21" y2="116.55" stroke="#b8b8b8" stroke-width="0.6"/>
<line x1="480.38" y1="92.43" x2="426.25" y2="111.72" stroke="#b8b8b8" stroke-width="0.6"/>
<line x1="435.23" y1="92.07" x2="435.43" y2="38.05" stroke="#b8b8b8" stroke-width="0.6"/>
<line x1="490.92" y1="95.57" x2="490.92" y2="40.65" stroke="#b8b8b8" stroke-width="0.6"/>
<line x1="404.5" y1="69.08" x2="456.7" y2="53.96" stroke="#b8b8b8" stroke-width="0.6"/>
<line x1="456.7" y1="53.96" x2="514.6" y2="69.44" stroke="#b8b8b8" stroke-width="0.6"/>
<line x1="435.23" y1="92.07" x2="491.49" y2="112.25" stroke="#b8b8b8" stroke-width="0.6"/>
<line x1="490.92" y1="95.57" x2="436.05" y2="116.18" stroke="#b8b8b8" stroke-width="0.6"/>
<line x1="444.78" y1="89.1" x2="444.9" y2="35.45" stroke="#b8b8b8" stroke-width="0.6"/>
<line x1="501.46" y1="98.7" x2="501.46" y2="43.25" stroke="#b8b8b8" stroke-width="0.6"/>
<line x1="404.59" y1="59.03" x2="456.7" y2="44.28" stroke="#b8b8b8" stroke-width="0.6"/>
<line x1="456.7" y1="44.28" x2="514.6" y2="59.23" stroke="#b8b8b8" stroke-width="0.6"/>
<line x1="444.78" y1="89.1" x2="501.77" y2="107.96" stroke="#b8b8b8" stroke-width="0.6"/>
<line x1="501.46" y1="98.7" x2="445.86" y2="120.64" stroke="#b8b8b8" stroke-width="0.6"/>
<line x1="454.34" y1="86.13" x2="454.36" y2="32.84" stroke="#b8b8b8" stroke-width="0.6"/>
<line x1="511.99" y1="101.83" x2="511.99" y2="45.86" stroke="#b8b8b8" stroke-width="0.6"/>
<line x1="404.68" y1="48.98" x2="456.7" y2="34.59" stroke="#b8b8b8" stroke-width="0.6"/>
<line x1="456.7" y1="34.59" x2="514.6" y2="49.02" stroke="#b8b8b8" stroke-width="0.6"/>
<line x1="454.34" y1="86.13" x2="512.06" y2="103.66" stroke="#b8b8b8" stroke-width="0.6"/>
<line x1="511.99" y1="101.83" x2="455.67" y2="125.1" stroke="#b8b8b8" stroke-width="0.6"/>
<line x1="402.7" y1="47" x2="402.7" y2="102.2" stroke="#222" stroke-width="0.9"/>
<line x1="402.7" y1="102.2" x2="458.1" y2="126.7" stroke="#222" stroke-width="0.9"/>
<line x1="458.1" y1="126.7" x2="516.1" y2="103.1" stroke="#222" stroke-width="0.9"/>
<path d="M451.0 112.6h0M460.4 107.7h0M453.0 110.2h0M462.2 107.0h0M464.6 103.7h0M447.4 102.8h0M456.3 103.4h0M455.6 107.4h0M461.0 102.6h0M459.7 107.6h0M451.5 112.3h0M469.3 103.4h0M461.5 103.1h0M470.9 98.5h0M471.2 101.5h0M461.6 101.0h0M457.1 108.4h0M450.0 97.9h0M480.3 99.9h0M455.3 106.0h0M478.1 106.9h0M477.2 106.7h0M456.5 103.8h0M479.6 105.9h0M478.6 105.5h0M451.5 108.8h0M475.6 97.4h0M484.8 99.3h0M470.6 100.8h0M485.9 105.8h0M473.7 107.1h0M459.5 108.5h0M470.2 108.9h0M456.0 101.2h0M477.7 102.9h0M462.2 104.8h0M484.0 98.9h0M473.8 102.1h0M470.4 97.4h0M467.3 101.2h0M483.8 101.5h0M476.3 100.2h0M460.5 108.1h0M482.5 103.4h0M465.7 103.5h0M468.6 101.0h0M479.3 99.1h0M459.6 104.5h0M465.9 107.7h0M444.6 106.3h0M453.9 108.7h0M475.8 105.6h0M469.0 105.6h0M469.0 101.7h0M466.7 102.7h0M473.4 104.3h0M471.6 109.1h0M446.7 103.0h0M479.6 107.6h0M458.5 107.1h0M468.4 109.3h0M444.2 116.1h0M487.3 103.6h0M466.0 107.9h0M463.5 105.4h0M448.9 102.5h0M443.7 105.0h0M455.5 106.2h0M469.1 103.0h0M490.8 99.4h0M459.4 106.2h0M471.8 102.1h0M464.8 107.1h0M476.7 102.0h0M469.3 110.5h0M461.2 105.5h0M475.2 100.6h0M462.3 102.2h0M458.6 107.4h0M484.4 96.6h0M466.7 107.5h0M472.0 112.0h0M461.1 109.0h0M470.4 107.7h0M469.4 104.3h0M463.5 109.8h0M470.2 107.4h0M478.3 98.9h0M465.2 102.9h0M457.8 106.6h0M470.6 107.7h0M468.0 112.1h0M464.7 102.9h0M477.4 97.1h0M462.9 105.7h0M469.3 105.8h0M471.5 111.2h0M482.4 101.7h0M474.6 99.9h0M469.0 106.7h0M471.1 109.9h0M470.8 104.5h0M480.1 106.7h0M448.8 107.8h0M449.0 106.8h0M472.4 101.9h0M479.5 110.2h0M464.2 106.8h0M472.2 98.9h0M461.6 110.4h0M452.1 103.6h0M488.7 101.5h0M467.4 106.2h0M456.4 104.9h0M451.7 105.4h0M480.1 108.4h0M478.3 104.4h0M453.5 110.2h0M484.9 105.6h0M488.6 101.3h0M464.3 106.9h0M472.1 102.9h0M469.7 100.5h0M472.1 101.8h0M489.5 99.6h0M471.4 106.4h0M460.9 106.8h0M462.9 111.2h0M482.2 101.6h0M479.4 108.5h0M482.7 105.7h0M453.9 107.1h0M470.2 110.5h0M474.2 100.9h0M478.1 98.8h0M466.0 104.3h0M476.9 97.9h0M467.0 107.4h0M467.2 109.0h0M476.7 98.6h0M483.1 104.9h0M459.8 104.3h0M456.8 104.8h0M478.8 102.9h0M456.0 107.0h0M491.5 107.6h0M480.9 99.7h0M480.3 105.0h0M470.5 99.8h0M471.0 107.6h0M460.8 101.9h0M450.4 109.5h0M477.1 99.3h0M461.8 105.2h0M457.4 100.0h0M458.4 107.7h0M477.9 109.1h0M476.4 99.6h0M476.5 103.6h0M460.5 104.3h0M469.5 107.9h0M475.6 100.1h0M461.2 104.7h0M496.3 100.6h0M468.8 105.4h0M479.1 107.2h0M467.6 103.8h0M463.4 102.4h0M499.1 102.3h0M485.3 99.8h0M453.0 110.9h0M470.6 108.1h0M452.0 105.4h0M481.5 103.6h0M466.9 104.6h0M476.5 102.9h0M466.2 108.7h0M471.4 110.2h0M448.0 110.1h0M453.5 103.7h0M476.5 101.3h0M479.3 99.3h0M455.1 104.2h0M454.6 105.1h0M474.6 101.2h0M475.3 106.4h0M449.0 102.7h0M487.5 100.3h0M474.3 101.4h0M466.1 109.5h0M466.5 104.3h0M477.5 104.5h0M470.0 100.8h0M479.0 97.1h0M466.9 103.8h0M468.5 108.2h0M472.7 102.7h0M463.0 106.3h0M496.9 99.4h0M466.7 108.6h0M480.0 105.1h0M492.7 99.6h0M477.7 101.4h0M472.9 99.4h0M488.9 96.9h0M467.5 102.6h0M455.4 108.1h0M462.3 106.7h0M440.1 108.6h0M467.3 105.0h0M455.2 108.5h0M472.3 106.8h0M446.1 107.5h0M462.4 106.9h0M472.1 110.4h0M476.5 98.7h0M462.7 102.8h0M466.0 103.9h0M472.5 100.2h0M480.9 105.1h0M488.1 97.5h0M469.5 105.1h0M478.0 101.8h0M471.2 106.1h0M475.3 106.2h0M460.8 112.7h0M463.0 108.0h0M451.9 108.3h0M464.2 106.1h0M468.3 105.8h0" fill="none" stroke="#86b874" stroke-width="1.45" stroke-linecap="round" stroke-opacity="0.8"/>
<path d="M451.0 112.6h0M460.4 107.7h0M453.0 110.2h0M462.2 107.0h0M464.6 103.7h0M447.4 102.8h0M456.3 103.4h0M455.6 107.4h0M461.0 102.6h0M459.7 107.6h0M451.5 112.3h0M469.3 103.4h0M461.5 103.1h0M470.9 98.5h0M471.2 101.5h0M461.6 101.0h0M457.1 108.4h0M450.0 97.9h0M480.3 99.9h0M455.3 106.0h0M478.1 106.9h0M477.2 106.7h0M456.5 103.8h0M479.6 105.9h0M478.6 105.5h0M451.5 108.8h0M475.6 97.4h0M484.8 99.3h0M470.6 100.8h0M485.9 105.8h0M473.7 107.1h0M459.5 108.5h0M470.2 108.9h0M456.0 101.2h0M477.7 102.9h0M462.2 104.8h0M484.0 98.9h0M473.8 102.1h0M470.4 97.4h0M467.3 101.2h0M483.8 101.5h0M476.3 100.2h0M460.5 108.1h0M482.5 103.4h0M465.7 103.5h0M468.6 101.0h0M479.3 99.1h0M459.6 104.5h0M465.9 107.7h0M444.6 106.3h0M453.9 108.7h0M475.8 105.6h0M469.0 105.6h0M469.0 101.7h0M466.7 102.7h0M473.4 104.3h0M471.6 109.1h0M446.7 103.0h0M479.6 107.6h0M458.5 107.1h0M468.4 109.3h0M444.2 116.1h0M487.3 103.6h0M466.0 107.9h0M463.5 105.4h0M448.9 102.5h0M443.7 105.0h0M455.5 106.2h0M469.1 103.0h0M490.8 99.4h0M459.4 106.2h0M471.8 102.1h0M464.8 107.1h0M476.7 102.0h0M469.3 110.5h0M461.2 105.5h0M475.2 100.6h0M462.3 102.2h0M458.6 107.4h0M484.4 96.6h0M466.7 107.5h0M472.0 112.0h0M461.1 109.0h0M470.4 107.7h0M469.4 104.3h0M463.5 109.8h0M470.2 107.4h0M478.3 98.9h0M465.2 102.9h0M457.8 106.6h0M470.6 107.7h0M468.0 112.1h0M464.7 102.9h0M477.4 97.1h0M462.9 105.7h0M469.3 105.8h0M471.5 111.2h0M482.4 101.7h0M474.6 99.9h0M469.0 106.7h0M471.1 109.9h0M470.8 104.5h0M480.1 106.7h0M448.8 107.8h0M449.0 106.8h0M472.4 101.9h0M479.5 110.2h0M464.2 106.8h0M472.2 98.9h0M461.6 110.4h0M452.1 103.6h0M488.7 101.5h0M467.4 106.2h0M456.4 104.9h0M451.7 105.4h0M480.1 108.4h0M478.3 104.4h0M453.5 110.2h0M484.9 105.6h0M488.6 101.3h0M464.3 106.9h0M472.1 102.9h0M469.7 100.5h0M472.1 101.8h0M489.5 99.6h0M471.4 106.4h0M460.9 106.8h0M462.9 111.2h0M482.2 101.6h0M479.4 108.5h0M482.7 105.7h0M453.9 107.1h0M470.2 110.5h0M474.2 100.9h0M478.1 98.8h0M466.0 104.3h0M476.9 97.9h0M467.0 107.4h0M467.2 109.0h0M476.7 98.6h0M483.1 104.9h0M459.8 104.3h0M456.8 104.8h0M478.8 102.9h0M456.0 107.0h0M491.5 107.6h0M480.9 99.7h0M480.3 105.0h0M470.5 99.8h0M471.0 107.6h0M460.8 101.9h0M450.4 109.5h0M477.1 99.3h0M461.8 105.2h0M457.4 100.0h0M458.4 107.7h0M477.9 109.1h0M476.4 99.6h0M476.5 103.6h0M460.5 104.3h0M469.5 107.9h0M475.6 100.1h0M461.2 104.7h0M496.3 100.6h0M468.8 105.4h0M479.1 107.2h0M467.6 103.8h0M463.4 102.4h0M499.1 102.3h0M485.3 99.8h0M453.0 110.9h0M470.6 108.1h0M452.0 105.4h0M481.5 103.6h0M466.9 104.6h0M476.5 102.9h0M466.2 108.7h0M471.4 110.2h0M448.0 110.1h0M453.5 103.7h0M476.5 101.3h0M479.3 99.3h0M455.1 104.2h0M454.6 105.1h0M474.6 101.2h0M475.3 106.4h0M449.0 102.7h0M487.5 100.3h0M474.3 101.4h0M466.1 109.5h0M466.5 104.3h0M477.5 104.5h0M470.0 100.8h0M479.0 97.1h0M466.9 103.8h0M468.5 108.2h0M472.7 102.7h0M463.0 106.3h0M496.9 99.4h0M466.7 108.6h0M480.0 105.1h0M492.7 99.6h0M477.7 101.4h0M472.9 99.4h0M488.9 96.9h0M467.5 102.6h0M455.4 108.1h0M462.3 106.7h0M440.1 108.6h0M467.3 105.0h0M455.2 108.5h0M472.3 106.8h0M446.1 107.5h0M462.4 106.9h0M472.1 110.4h0M476.5 98.7h0M462.7 102.8h0M466.0 103.9h0M472.5 100.2h0M480.9 105.1h0M488.1 97.5h0M469.5 105.1h0M478.0 101.8h0M471.2 106.1h0M475.3 106.2h0M460.8 112.7h0M463.0 108.0h0M451.9 108.3h0M464.2 106.1h0M468.3 105.8h0" fill="none" stroke="#a9d894" stroke-width="0.95" stroke-linecap="round"/>
<path d="M475.5 94.3h0M466.7 98.0h0M470.0 88.0h0M461.7 97.1h0M486.0 52.5h0M475.0 81.0h0M425.6 89.3h0M486.0 52.5h0M486.0 52.5h0M441.5 104.0h0M475.0 81.0h0M459.0 61.6h0M470.0 88.0h0M473.9 94.0h0M475.0 81.0h0M459.0 61.6h0M441.0 89.0h0M483.5 97.2h0M470.0 88.0h0M500.7 93.9h0M487.4 90.9h0M469.1 95.4h0M459.0 61.6h0M441.0 89.0h0M495.2 90.0h0M506.1 90.8h0M441.0 89.0h0M486.0 52.5h0M491.7 94.1h0M483.3 91.8h0M454.6 99.2h0M441.0 89.0h0M466.1 98.5h0M468.4 98.9h0M487.9 94.5h0M441.0 89.0h0M458.4 100.2h0M473.0 99.8h0M474.2 95.1h0M441.0 89.0h0M425.6 89.3h0M481.9 94.3h0M486.0 52.5h0M475.0 81.0h0M486.0 52.5h0" fill="none" stroke="#5a5aa8" stroke-width="1.45" stroke-linecap="round" stroke-opacity="0.8"/>
<path d="M475.5 94.3h0M466.7 98.0h0M470.0 88.0h0M461.7 97.1h0M486.0 52.5h0M475.0 81.0h0M425.6 89.3h0M486.0 52.5h0M486.0 52.5h0M441.5 104.0h0M475.0 81.0h0M459.0 61.6h0M470.0 88.0h0M473.9 94.0h0M475.0 81.0h0M459.0 61.6h0M441.0 89.0h0M483.5 97.2h0M470.0 88.0h0M500.7 93.9h0M487.4 90.9h0M469.1 95.4h0M459.0 61.6h0M441.0 89.0h0M495.2 90.0h0M506.1 90.8h0M441.0 89.0h0M486.0 52.5h0M491.7 94.1h0M483.3 91.8h0M454.6 99.2h0M441.0 89.0h0M466.1 98.5h0M468.4 98.9h0M487.9 94.5h0M441.0 89.0h0M458.4 100.2h0M473.0 99.8h0M474.2 95.1h0M441.0 89.0h0M425.6 89.3h0M481.9 94.3h0M486.0 52.5h0M475.0 81.0h0M486.0 52.5h0" fill="none" stroke="#7c7cd0" stroke-width="0.95" stroke-linecap="round"/>
<text x="400.2" y="104.49" font-size="7.2" text-anchor="end" fill="#333" font-weight="normal" stroke="#333" stroke-width="0.08">0.0</text>
<text x="400.65" y="112.94" font-size="7.2" text-anchor="middle" fill="#333" font-weight="normal" stroke="#333" stroke-width="0.08">0.0</text>
<text x="510.99" y="115.73" font-size="7.2" text-anchor="middle" fill="#333" font-weight="normal" stroke="#333" stroke-width="0.08">0.0</text>
<text x="400.2" y="94.55" font-size="7.2" text-anchor="end" fill="#333" font-weight="normal" stroke="#333" stroke-width="0.08">0.2</text>
<text x="410.55" y="116.76" font-size="7.2" text-anchor="middle" fill="#333" font-weight="normal" stroke="#333" stroke-width="0.08">0.2</text>
<text x="502.43" y="119.11" font-size="7.2" text-anchor="middle" fill="#333" font-weight="normal" stroke="#333" stroke-width="0.08">0.2</text>
<text x="400.2" y="84.61" font-size="7.2" text-anchor="end" fill="#333" font-weight="normal" stroke="#333" stroke-width="0.08">0.4</text>
<text x="420.45" y="120.58" font-size="7.2" text-anchor="middle" fill="#333" font-weight="normal" stroke="#333" stroke-width="0.08">0.4</text>
<text x="493.88" y="122.5" font-size="7.2" text-anchor="middle" fill="#333" font-weight="normal" stroke="#333" stroke-width="0.08">0.4</text>
<text x="400.2" y="74.67" font-size="7.2" text-anchor="end" fill="#333" font-weight="normal" stroke="#333" stroke-width="0.08">0.6</text>
<text x="430.35" y="124.4" font-size="7.2" text-anchor="middle" fill="#333" font-weight="normal" stroke="#333" stroke-width="0.08">0.6</text>
<text x="485.32" y="125.88" font-size="7.2" text-anchor="middle" fill="#333" font-weight="normal" stroke="#333" stroke-width="0.08">0.6</text>
<text x="400.2" y="64.73" font-size="7.2" text-anchor="end" fill="#333" font-weight="normal" stroke="#333" stroke-width="0.08">0.8</text>
<text x="440.25" y="128.23" font-size="7.2" text-anchor="middle" fill="#333" font-weight="normal" stroke="#333" stroke-width="0.08">0.8</text>
<text x="476.77" y="129.27" font-size="7.2" text-anchor="middle" fill="#333" font-weight="normal" stroke="#333" stroke-width="0.08">0.8</text>
<text x="400.2" y="54.79" font-size="7.2" text-anchor="end" fill="#333" font-weight="normal" stroke="#333" stroke-width="0.08">1.0</text>
<text x="450.15" y="132.05" font-size="7.2" text-anchor="middle" fill="#333" font-weight="normal" stroke="#333" stroke-width="0.08">1.0</text>
<text x="468.21" y="132.66" font-size="7.2" text-anchor="middle" fill="#333" font-weight="normal" stroke="#333" stroke-width="0.08">1.0</text>
<text x="460.2" y="27.72" font-size="7.0" text-anchor="middle" fill="#222" font-weight="normal" stroke="#222" stroke-width="0.08">Local ICU</text>
<rect x="251.6" y="18.1" width="33.9" height="19.4" fill="#fff" stroke="#cfcfcf" stroke-width="0.8"/>
<circle cx="256.7" cy="23.6" r="2.2" fill="#a9d894" stroke="#86b874" stroke-width="0.3"/>
<circle cx="256.7" cy="31.4" r="2.2" fill="#7c7cd0" stroke="#5a5aa8" stroke-width="0.3"/>
<text x="264.5" y="26.26" font-size="7.4" text-anchor="start" fill="#222" font-weight="normal" stroke="#222" stroke-width="0.08">CIS1</text>
<text x="264.5" y="34.06" font-size="7.4" text-anchor="start" fill="#222" font-weight="normal" stroke="#222" stroke-width="0.08">CIS2</text>
<rect x="523.8" y="31.2" width="145.8" height="95.1" fill="#fff" stroke="none" stroke-width="1"/>
<path d="M540,31.2 L612.9,31.2 L602.6,35.3 L581,40.7 L554,43.4 L540,44.2" fill="#7b7bc0" stroke="none" stroke-width="1"/>
<rect x="523.8" y="45.5" width="16.2" height="4.6" fill="#7b7bc0" stroke="none" stroke-width="1"/>
<path d="M540,49.6 L662,49.6 L661.5,69 L659.3,87.9 L651.2,101.4 L635,113.6 L608,119 L567.5,122.5 L540,123.6" fill="#a9d69a" stroke="none" stroke-width="1"/>
<rect x="523.8" y="123" width="16.2" height="3.3" fill="#a9d69a" stroke="none" stroke-width="1"/>
<line x1="623.7" y1="31.2" x2="623.7" y2="126.3" stroke="#e0302a" stroke-width="1.5" stroke-dasharray="7 3"/>
<rect x="523.8" y="31.2" width="145.8" height="95.1" fill="none" stroke="#333" stroke-width="0.9"/>
<line x1="523.8" y1="126.3" x2="523.8" y2="128.3" stroke="#333" stroke-width="0.7"/>
<text x="523.8" y="135.26" font-size="7.4" text-anchor="middle" fill="#333" font-weight="normal" stroke="#333" stroke-width="0.08">-0.1</text>
<line x1="540" y1="126.3" x2="540" y2="128.3" stroke="#333" stroke-width="0.7"/>
<text x="540" y="135.26" font-size="7.4" text-anchor="middle" fill="#333" font-weight="normal" stroke="#333" stroke-width="0.08">0.0</text>
<line x1="572.4" y1="126.3" x2="572.4" y2="128.3" stroke="#333" stroke-width="0.7"/>
<text x="572.4" y="135.26" font-size="7.4" text-anchor="middle" fill="#333" font-weight="normal" stroke="#333" stroke-width="0.08">0.2</text>
<line x1="604.8" y1="126.3" x2="604.8" y2="128.3" stroke="#333" stroke-width="0.7"/>
<text x="604.8" y="135.26" font-size="7.4" text-anchor="middle" fill="#333" font-weight="normal" stroke="#333" stroke-width="0.08">0.4</text>
<line x1="637.2" y1="126.3" x2="637.2" y2="128.3" stroke="#333" stroke-width="0.7"/>
<text x="637.2" y="135.26" font-size="7.4" text-anchor="middle" fill="#333" font-weight="normal" stroke="#333" stroke-width="0.08">0.6</text>
<line x1="669.6" y1="126.3" x2="669.6" y2="128.3" stroke="#333" stroke-width="0.7"/>
<text x="669.6" y="135.26" font-size="7.4" text-anchor="middle" fill="#333" font-weight="normal" stroke="#333" stroke-width="0.08">0.8</text>
<text x="665.3" y="106.62" font-size="7.0" text-anchor="end" fill="#222" font-weight="normal" stroke="#222" stroke-width="0.08">MIMIC-IV</text>
<text x="665.3" y="115.32" font-size="7.0" text-anchor="end" fill="#222" font-weight="normal" stroke="#222" stroke-width="0.08">Class number = 2</text>
<text x="665.3" y="123.62" font-size="7.0" text-anchor="end" fill="#222" font-weight="normal" stroke="#222" stroke-width="0.08">Silhouette score = 0.52</text>
</svg></body></html>
